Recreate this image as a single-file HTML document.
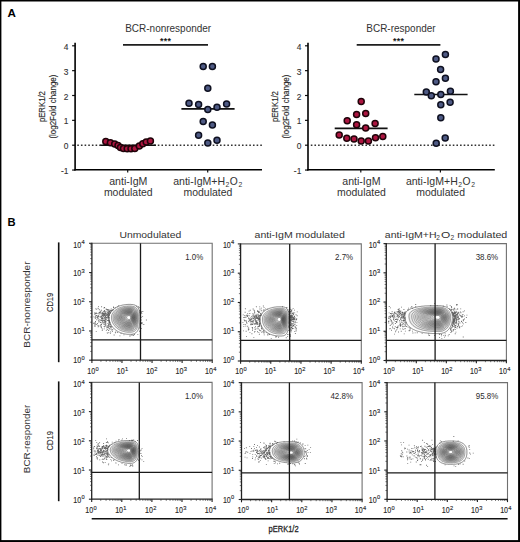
<!DOCTYPE html><html><head><meta charset="utf-8"><style>html,body{margin:0;padding:0;background:#fff}svg{display:block}text{font-family:"Liberation Sans",sans-serif}</style></head><body>
<svg width="520" height="542" viewBox="0 0 520 542">
<rect width="520" height="542" fill="#fff"/>
<rect x="0" y="0" width="520" height="1.5" fill="#000"/><rect x="0" y="0" width="1.4" height="542" fill="#000"/><rect x="518.1" y="0" width="1.9" height="542" fill="#000"/><rect x="0" y="540.1" width="520" height="1.9" fill="#000"/>
<text x="7.60" y="17.10" font-size="11.6" text-anchor="start" fill="#000" font-weight="bold" >A</text>
<text x="7.60" y="225.80" font-size="11.2" text-anchor="start" fill="#000" font-weight="bold" >B</text>
<line x1="72.10" y1="45.80" x2="75.10" y2="45.80" stroke="#111" stroke-width="1.2" />
<text x="68.40" y="49.80" font-size="8.4" text-anchor="end" fill="#333" stroke="#333" stroke-width="0.12">4</text>
<line x1="72.10" y1="70.65" x2="75.10" y2="70.65" stroke="#111" stroke-width="1.2" />
<text x="68.40" y="74.65" font-size="8.4" text-anchor="end" fill="#333" stroke="#333" stroke-width="0.12">3</text>
<line x1="72.10" y1="95.50" x2="75.10" y2="95.50" stroke="#111" stroke-width="1.2" />
<text x="68.40" y="99.50" font-size="8.4" text-anchor="end" fill="#333" stroke="#333" stroke-width="0.12">2</text>
<line x1="72.10" y1="120.35" x2="75.10" y2="120.35" stroke="#111" stroke-width="1.2" />
<text x="68.40" y="124.35" font-size="8.4" text-anchor="end" fill="#333" stroke="#333" stroke-width="0.12">1</text>
<line x1="72.10" y1="145.20" x2="75.10" y2="145.20" stroke="#111" stroke-width="1.2" />
<text x="68.40" y="149.20" font-size="8.4" text-anchor="end" fill="#333" stroke="#333" stroke-width="0.12">0</text>
<line x1="72.10" y1="170.05" x2="75.10" y2="170.05" stroke="#111" stroke-width="1.2" />
<text x="68.40" y="174.05" font-size="8.4" text-anchor="end" fill="#333" stroke="#333" stroke-width="0.12">-1</text>
<line x1="75.10" y1="42.80" x2="75.10" y2="170.50" stroke="#000" stroke-width="1.6" />
<line x1="74.30" y1="169.80" x2="262.00" y2="169.80" stroke="#000" stroke-width="1.4" />
<line x1="127.70" y1="169.80" x2="127.70" y2="172.60" stroke="#111" stroke-width="1.2" />
<line x1="207.70" y1="169.80" x2="207.70" y2="172.60" stroke="#111" stroke-width="1.2" />
<line x1="77.27" y1="145.20" x2="262.00" y2="145.20" stroke="#333" stroke-width="1.5" stroke-dasharray="1.6 2.06"/>
<text x="125.20" y="31.80" font-size="10.2" text-anchor="start" fill="#333" textLength="86" lengthAdjust="spacingAndGlyphs" >BCR-nonresponder</text>
<line x1="123.00" y1="44.90" x2="208.00" y2="44.90" stroke="#1e1e1e" stroke-width="1.6" />
<text x="161.70" y="44.30" font-size="8.8" text-anchor="middle" fill="#1a1a1a" font-weight="bold" >*</text>
<text x="165.40" y="44.30" font-size="8.8" text-anchor="middle" fill="#1a1a1a" font-weight="bold" >*</text>
<text x="169.10" y="44.30" font-size="8.8" text-anchor="middle" fill="#1a1a1a" font-weight="bold" >*</text>
<text x="128.30" y="184.80" font-size="10.3" text-anchor="middle" fill="#333" textLength="38.3" lengthAdjust="spacingAndGlyphs" >anti-IgM</text>
<text x="128.30" y="196.40" font-size="10.3" text-anchor="middle" fill="#333" textLength="48.8" lengthAdjust="spacingAndGlyphs" >modulated</text>
<text y="184.80" font-size="10.3" fill="#333"><tspan x="173.20" y="184.80" textLength="51.9" lengthAdjust="spacingAndGlyphs">anti-IgM+H</tspan><tspan x="225.60" y="187.10" font-size="6.8">2</tspan><tspan x="229.80" y="184.80" textLength="8.0" lengthAdjust="spacingAndGlyphs">O</tspan><tspan x="238.60" y="187.10" font-size="6.8">2</tspan></text>
<text x="207.90" y="196.40" font-size="10.3" text-anchor="middle" fill="#333" textLength="48.8" lengthAdjust="spacingAndGlyphs" >modulated</text>
<line x1="100.30" y1="145.30" x2="155.90" y2="145.30" stroke="#111" stroke-width="1.6" />
<line x1="181.40" y1="108.90" x2="234.60" y2="108.90" stroke="#111" stroke-width="1.6" />
<circle cx="105.8" cy="141.5" r="3.0" fill="#ac1540" stroke="#1f0309" stroke-width="1.5"/>
<circle cx="110.4" cy="142.7" r="3.0" fill="#ac1540" stroke="#1f0309" stroke-width="1.5"/>
<circle cx="114.7" cy="144.1" r="3.0" fill="#ac1540" stroke="#1f0309" stroke-width="1.5"/>
<circle cx="118.0" cy="145.5" r="3.0" fill="#ac1540" stroke="#1f0309" stroke-width="1.5"/>
<circle cx="120.5" cy="147.6" r="3.0" fill="#ac1540" stroke="#1f0309" stroke-width="1.5"/>
<circle cx="123.5" cy="148.6" r="3.0" fill="#ac1540" stroke="#1f0309" stroke-width="1.5"/>
<circle cx="127.2" cy="148.7" r="3.0" fill="#ac1540" stroke="#1f0309" stroke-width="1.5"/>
<circle cx="131.0" cy="148.7" r="3.0" fill="#ac1540" stroke="#1f0309" stroke-width="1.5"/>
<circle cx="134.8" cy="148.6" r="3.0" fill="#ac1540" stroke="#1f0309" stroke-width="1.5"/>
<circle cx="139.3" cy="146.0" r="3.0" fill="#ac1540" stroke="#1f0309" stroke-width="1.5"/>
<circle cx="142.8" cy="143.8" r="3.0" fill="#ac1540" stroke="#1f0309" stroke-width="1.5"/>
<circle cx="146.2" cy="142.0" r="3.0" fill="#ac1540" stroke="#1f0309" stroke-width="1.5"/>
<circle cx="150.4" cy="141.0" r="3.0" fill="#ac1540" stroke="#1f0309" stroke-width="1.5"/>
<circle cx="203.2" cy="66.6" r="3.0" fill="#4e5a84" stroke="#0e1020" stroke-width="1.5"/>
<circle cx="212.4" cy="66.6" r="3.0" fill="#4e5a84" stroke="#0e1020" stroke-width="1.5"/>
<circle cx="207.8" cy="88.2" r="3.0" fill="#4e5a84" stroke="#0e1020" stroke-width="1.5"/>
<circle cx="189.0" cy="103.3" r="3.0" fill="#4e5a84" stroke="#0e1020" stroke-width="1.5"/>
<circle cx="198.6" cy="104.4" r="3.0" fill="#4e5a84" stroke="#0e1020" stroke-width="1.5"/>
<circle cx="207.8" cy="109.4" r="3.0" fill="#4e5a84" stroke="#0e1020" stroke-width="1.5"/>
<circle cx="217.0" cy="107.2" r="3.0" fill="#4e5a84" stroke="#0e1020" stroke-width="1.5"/>
<circle cx="226.6" cy="104.1" r="3.0" fill="#4e5a84" stroke="#0e1020" stroke-width="1.5"/>
<circle cx="203.2" cy="121.4" r="3.0" fill="#4e5a84" stroke="#0e1020" stroke-width="1.5"/>
<circle cx="212.4" cy="125.1" r="3.0" fill="#4e5a84" stroke="#0e1020" stroke-width="1.5"/>
<circle cx="198.6" cy="135.3" r="3.0" fill="#4e5a84" stroke="#0e1020" stroke-width="1.5"/>
<circle cx="207.8" cy="143.0" r="3.0" fill="#4e5a84" stroke="#0e1020" stroke-width="1.5"/>
<circle cx="217.0" cy="140.2" r="3.0" fill="#4e5a84" stroke="#0e1020" stroke-width="1.5"/>
<line x1="305.00" y1="45.80" x2="308.00" y2="45.80" stroke="#111" stroke-width="1.2" />
<text x="301.30" y="49.80" font-size="8.4" text-anchor="end" fill="#333" stroke="#333" stroke-width="0.12">4</text>
<line x1="305.00" y1="70.65" x2="308.00" y2="70.65" stroke="#111" stroke-width="1.2" />
<text x="301.30" y="74.65" font-size="8.4" text-anchor="end" fill="#333" stroke="#333" stroke-width="0.12">3</text>
<line x1="305.00" y1="95.50" x2="308.00" y2="95.50" stroke="#111" stroke-width="1.2" />
<text x="301.30" y="99.50" font-size="8.4" text-anchor="end" fill="#333" stroke="#333" stroke-width="0.12">2</text>
<line x1="305.00" y1="120.35" x2="308.00" y2="120.35" stroke="#111" stroke-width="1.2" />
<text x="301.30" y="124.35" font-size="8.4" text-anchor="end" fill="#333" stroke="#333" stroke-width="0.12">1</text>
<line x1="305.00" y1="145.20" x2="308.00" y2="145.20" stroke="#111" stroke-width="1.2" />
<text x="301.30" y="149.20" font-size="8.4" text-anchor="end" fill="#333" stroke="#333" stroke-width="0.12">0</text>
<line x1="305.00" y1="170.05" x2="308.00" y2="170.05" stroke="#111" stroke-width="1.2" />
<text x="301.30" y="174.05" font-size="8.4" text-anchor="end" fill="#333" stroke="#333" stroke-width="0.12">-1</text>
<line x1="308.00" y1="42.80" x2="308.00" y2="170.50" stroke="#000" stroke-width="1.6" />
<line x1="307.20" y1="169.80" x2="494.80" y2="169.80" stroke="#000" stroke-width="1.4" />
<line x1="360.80" y1="169.80" x2="360.80" y2="172.60" stroke="#111" stroke-width="1.2" />
<line x1="440.40" y1="169.80" x2="440.40" y2="172.60" stroke="#111" stroke-width="1.2" />
<line x1="310.80" y1="145.20" x2="494.80" y2="145.20" stroke="#333" stroke-width="1.5" stroke-dasharray="1.6 2.04"/>
<text x="366.30" y="31.80" font-size="10.2" text-anchor="start" fill="#333" textLength="69.3" lengthAdjust="spacingAndGlyphs" >BCR-responder</text>
<line x1="356.70" y1="44.90" x2="440.40" y2="44.90" stroke="#1e1e1e" stroke-width="1.6" />
<text x="394.75" y="44.30" font-size="8.8" text-anchor="middle" fill="#1a1a1a" font-weight="bold" >*</text>
<text x="398.45" y="44.30" font-size="8.8" text-anchor="middle" fill="#1a1a1a" font-weight="bold" >*</text>
<text x="402.15" y="44.30" font-size="8.8" text-anchor="middle" fill="#1a1a1a" font-weight="bold" >*</text>
<text x="361.40" y="184.80" font-size="10.3" text-anchor="middle" fill="#333" textLength="38.3" lengthAdjust="spacingAndGlyphs" >anti-IgM</text>
<text x="361.40" y="196.40" font-size="10.3" text-anchor="middle" fill="#333" textLength="48.8" lengthAdjust="spacingAndGlyphs" >modulated</text>
<text y="184.80" font-size="10.3" fill="#333"><tspan x="405.90" y="184.80" textLength="51.9" lengthAdjust="spacingAndGlyphs">anti-IgM+H</tspan><tspan x="458.30" y="187.10" font-size="6.8">2</tspan><tspan x="462.50" y="184.80" textLength="8.0" lengthAdjust="spacingAndGlyphs">O</tspan><tspan x="471.30" y="187.10" font-size="6.8">2</tspan></text>
<text x="440.60" y="196.40" font-size="10.3" text-anchor="middle" fill="#333" textLength="48.8" lengthAdjust="spacingAndGlyphs" >modulated</text>
<line x1="334.70" y1="128.40" x2="387.60" y2="128.40" stroke="#111" stroke-width="1.6" />
<line x1="414.30" y1="94.50" x2="467.60" y2="94.50" stroke="#111" stroke-width="1.6" />
<circle cx="361.2" cy="101.4" r="3.0" fill="#ac1540" stroke="#1f0309" stroke-width="1.5"/>
<circle cx="356.6" cy="114.6" r="3.0" fill="#ac1540" stroke="#1f0309" stroke-width="1.5"/>
<circle cx="365.7" cy="113.6" r="3.0" fill="#ac1540" stroke="#1f0309" stroke-width="1.5"/>
<circle cx="347.2" cy="120.7" r="3.0" fill="#ac1540" stroke="#1f0309" stroke-width="1.5"/>
<circle cx="356.6" cy="124.7" r="3.0" fill="#ac1540" stroke="#1f0309" stroke-width="1.5"/>
<circle cx="375.1" cy="123.4" r="3.0" fill="#ac1540" stroke="#1f0309" stroke-width="1.5"/>
<circle cx="365.7" cy="128.0" r="3.0" fill="#ac1540" stroke="#1f0309" stroke-width="1.5"/>
<circle cx="339.2" cy="135.1" r="3.0" fill="#ac1540" stroke="#1f0309" stroke-width="1.5"/>
<circle cx="346.8" cy="138.2" r="3.0" fill="#ac1540" stroke="#1f0309" stroke-width="1.5"/>
<circle cx="354.0" cy="139.1" r="3.0" fill="#ac1540" stroke="#1f0309" stroke-width="1.5"/>
<circle cx="361.2" cy="141.1" r="3.0" fill="#ac1540" stroke="#1f0309" stroke-width="1.5"/>
<circle cx="368.4" cy="141.1" r="3.0" fill="#ac1540" stroke="#1f0309" stroke-width="1.5"/>
<circle cx="375.5" cy="137.8" r="3.0" fill="#ac1540" stroke="#1f0309" stroke-width="1.5"/>
<circle cx="382.8" cy="136.4" r="3.0" fill="#ac1540" stroke="#1f0309" stroke-width="1.5"/>
<circle cx="445.4" cy="54.5" r="3.0" fill="#4e5a84" stroke="#0e1020" stroke-width="1.5"/>
<circle cx="436.0" cy="58.9" r="3.0" fill="#4e5a84" stroke="#0e1020" stroke-width="1.5"/>
<circle cx="440.6" cy="69.5" r="3.0" fill="#4e5a84" stroke="#0e1020" stroke-width="1.5"/>
<circle cx="445.4" cy="78.2" r="3.0" fill="#4e5a84" stroke="#0e1020" stroke-width="1.5"/>
<circle cx="436.0" cy="81.8" r="3.0" fill="#4e5a84" stroke="#0e1020" stroke-width="1.5"/>
<circle cx="426.3" cy="91.9" r="3.0" fill="#4e5a84" stroke="#0e1020" stroke-width="1.5"/>
<circle cx="450.4" cy="91.2" r="3.0" fill="#4e5a84" stroke="#0e1020" stroke-width="1.5"/>
<circle cx="431.3" cy="95.8" r="3.0" fill="#4e5a84" stroke="#0e1020" stroke-width="1.5"/>
<circle cx="440.8" cy="94.4" r="3.0" fill="#4e5a84" stroke="#0e1020" stroke-width="1.5"/>
<circle cx="440.8" cy="104.7" r="3.0" fill="#4e5a84" stroke="#0e1020" stroke-width="1.5"/>
<circle cx="450.1" cy="102.3" r="3.0" fill="#4e5a84" stroke="#0e1020" stroke-width="1.5"/>
<circle cx="440.8" cy="117.7" r="3.0" fill="#4e5a84" stroke="#0e1020" stroke-width="1.5"/>
<circle cx="445.2" cy="138.0" r="3.0" fill="#4e5a84" stroke="#0e1020" stroke-width="1.5"/>
<circle cx="436.2" cy="143.3" r="3.0" fill="#4e5a84" stroke="#0e1020" stroke-width="1.5"/>
<text transform="translate(45.00,106.60) rotate(-90)" x="0" y="0" font-size="8.6" text-anchor="middle" fill="#2a2a2a" stroke="#2a2a2a" stroke-width="0.15" textLength="31" lengthAdjust="spacingAndGlyphs">pERK1/2</text>
<text transform="translate(55.60,106.60) rotate(-90)" x="0" y="0" font-size="8.6" text-anchor="middle" fill="#2a2a2a" stroke="#2a2a2a" stroke-width="0.15" textLength="64" lengthAdjust="spacingAndGlyphs">(log2Fold change)</text>
<text transform="translate(278.00,106.60) rotate(-90)" x="0" y="0" font-size="8.6" text-anchor="middle" fill="#2a2a2a" stroke="#2a2a2a" stroke-width="0.15" textLength="31" lengthAdjust="spacingAndGlyphs">pERK1/2</text>
<text transform="translate(288.60,106.60) rotate(-90)" x="0" y="0" font-size="8.6" text-anchor="middle" fill="#2a2a2a" stroke="#2a2a2a" stroke-width="0.15" textLength="64" lengthAdjust="spacingAndGlyphs">(log2Fold change)</text>
<path d="M91.90,243.30 H212.20 V360.20" fill="none" stroke="#707070" stroke-width="1.1"/>
<line x1="100.95" y1="360.20" x2="100.95" y2="361.90" stroke="#444" stroke-width="0.7" />
<line x1="90.20" y1="351.40" x2="91.90" y2="351.40" stroke="#444" stroke-width="0.7" />
<line x1="106.25" y1="360.20" x2="106.25" y2="361.90" stroke="#444" stroke-width="0.7" />
<line x1="90.20" y1="346.26" x2="91.90" y2="346.26" stroke="#444" stroke-width="0.7" />
<line x1="110.01" y1="360.20" x2="110.01" y2="361.90" stroke="#444" stroke-width="0.7" />
<line x1="90.20" y1="342.60" x2="91.90" y2="342.60" stroke="#444" stroke-width="0.7" />
<line x1="112.92" y1="360.20" x2="112.92" y2="361.90" stroke="#444" stroke-width="0.7" />
<line x1="90.20" y1="339.77" x2="91.90" y2="339.77" stroke="#444" stroke-width="0.7" />
<line x1="115.30" y1="360.20" x2="115.30" y2="361.90" stroke="#444" stroke-width="0.7" />
<line x1="90.20" y1="337.46" x2="91.90" y2="337.46" stroke="#444" stroke-width="0.7" />
<line x1="117.32" y1="360.20" x2="117.32" y2="361.90" stroke="#444" stroke-width="0.7" />
<line x1="90.20" y1="335.50" x2="91.90" y2="335.50" stroke="#444" stroke-width="0.7" />
<line x1="119.06" y1="360.20" x2="119.06" y2="361.90" stroke="#444" stroke-width="0.7" />
<line x1="90.20" y1="333.81" x2="91.90" y2="333.81" stroke="#444" stroke-width="0.7" />
<line x1="120.60" y1="360.20" x2="120.60" y2="361.90" stroke="#444" stroke-width="0.7" />
<line x1="90.20" y1="332.31" x2="91.90" y2="332.31" stroke="#444" stroke-width="0.7" />
<line x1="131.03" y1="360.20" x2="131.03" y2="361.90" stroke="#444" stroke-width="0.7" />
<line x1="90.20" y1="322.18" x2="91.90" y2="322.18" stroke="#444" stroke-width="0.7" />
<line x1="136.32" y1="360.20" x2="136.32" y2="361.90" stroke="#444" stroke-width="0.7" />
<line x1="90.20" y1="317.03" x2="91.90" y2="317.03" stroke="#444" stroke-width="0.7" />
<line x1="140.08" y1="360.20" x2="140.08" y2="361.90" stroke="#444" stroke-width="0.7" />
<line x1="90.20" y1="313.38" x2="91.90" y2="313.38" stroke="#444" stroke-width="0.7" />
<line x1="143.00" y1="360.20" x2="143.00" y2="361.90" stroke="#444" stroke-width="0.7" />
<line x1="90.20" y1="310.55" x2="91.90" y2="310.55" stroke="#444" stroke-width="0.7" />
<line x1="145.38" y1="360.20" x2="145.38" y2="361.90" stroke="#444" stroke-width="0.7" />
<line x1="90.20" y1="308.23" x2="91.90" y2="308.23" stroke="#444" stroke-width="0.7" />
<line x1="147.39" y1="360.20" x2="147.39" y2="361.90" stroke="#444" stroke-width="0.7" />
<line x1="90.20" y1="306.28" x2="91.90" y2="306.28" stroke="#444" stroke-width="0.7" />
<line x1="149.14" y1="360.20" x2="149.14" y2="361.90" stroke="#444" stroke-width="0.7" />
<line x1="90.20" y1="304.58" x2="91.90" y2="304.58" stroke="#444" stroke-width="0.7" />
<line x1="150.67" y1="360.20" x2="150.67" y2="361.90" stroke="#444" stroke-width="0.7" />
<line x1="90.20" y1="303.09" x2="91.90" y2="303.09" stroke="#444" stroke-width="0.7" />
<line x1="161.10" y1="360.20" x2="161.10" y2="361.90" stroke="#444" stroke-width="0.7" />
<line x1="90.20" y1="292.95" x2="91.90" y2="292.95" stroke="#444" stroke-width="0.7" />
<line x1="166.40" y1="360.20" x2="166.40" y2="361.90" stroke="#444" stroke-width="0.7" />
<line x1="90.20" y1="287.81" x2="91.90" y2="287.81" stroke="#444" stroke-width="0.7" />
<line x1="170.16" y1="360.20" x2="170.16" y2="361.90" stroke="#444" stroke-width="0.7" />
<line x1="90.20" y1="284.15" x2="91.90" y2="284.15" stroke="#444" stroke-width="0.7" />
<line x1="173.07" y1="360.20" x2="173.07" y2="361.90" stroke="#444" stroke-width="0.7" />
<line x1="90.20" y1="281.32" x2="91.90" y2="281.32" stroke="#444" stroke-width="0.7" />
<line x1="175.45" y1="360.20" x2="175.45" y2="361.90" stroke="#444" stroke-width="0.7" />
<line x1="90.20" y1="279.01" x2="91.90" y2="279.01" stroke="#444" stroke-width="0.7" />
<line x1="177.47" y1="360.20" x2="177.47" y2="361.90" stroke="#444" stroke-width="0.7" />
<line x1="90.20" y1="277.05" x2="91.90" y2="277.05" stroke="#444" stroke-width="0.7" />
<line x1="179.21" y1="360.20" x2="179.21" y2="361.90" stroke="#444" stroke-width="0.7" />
<line x1="90.20" y1="275.36" x2="91.90" y2="275.36" stroke="#444" stroke-width="0.7" />
<line x1="180.75" y1="360.20" x2="180.75" y2="361.90" stroke="#444" stroke-width="0.7" />
<line x1="90.20" y1="273.86" x2="91.90" y2="273.86" stroke="#444" stroke-width="0.7" />
<line x1="191.18" y1="360.20" x2="191.18" y2="361.90" stroke="#444" stroke-width="0.7" />
<line x1="90.20" y1="263.73" x2="91.90" y2="263.73" stroke="#444" stroke-width="0.7" />
<line x1="196.47" y1="360.20" x2="196.47" y2="361.90" stroke="#444" stroke-width="0.7" />
<line x1="90.20" y1="258.58" x2="91.90" y2="258.58" stroke="#444" stroke-width="0.7" />
<line x1="200.23" y1="360.20" x2="200.23" y2="361.90" stroke="#444" stroke-width="0.7" />
<line x1="90.20" y1="254.93" x2="91.90" y2="254.93" stroke="#444" stroke-width="0.7" />
<line x1="203.15" y1="360.20" x2="203.15" y2="361.90" stroke="#444" stroke-width="0.7" />
<line x1="90.20" y1="252.10" x2="91.90" y2="252.10" stroke="#444" stroke-width="0.7" />
<line x1="205.53" y1="360.20" x2="205.53" y2="361.90" stroke="#444" stroke-width="0.7" />
<line x1="90.20" y1="249.78" x2="91.90" y2="249.78" stroke="#444" stroke-width="0.7" />
<line x1="207.54" y1="360.20" x2="207.54" y2="361.90" stroke="#444" stroke-width="0.7" />
<line x1="90.20" y1="247.83" x2="91.90" y2="247.83" stroke="#444" stroke-width="0.7" />
<line x1="209.29" y1="360.20" x2="209.29" y2="361.90" stroke="#444" stroke-width="0.7" />
<line x1="90.20" y1="246.13" x2="91.90" y2="246.13" stroke="#444" stroke-width="0.7" />
<line x1="210.82" y1="360.20" x2="210.82" y2="361.90" stroke="#444" stroke-width="0.7" />
<line x1="90.20" y1="244.64" x2="91.90" y2="244.64" stroke="#444" stroke-width="0.7" />
<line x1="91.90" y1="360.20" x2="91.90" y2="363.00" stroke="#222" stroke-width="1.1" />
<line x1="89.10" y1="360.20" x2="91.90" y2="360.20" stroke="#222" stroke-width="1.1" />
<line x1="121.97" y1="360.20" x2="121.97" y2="363.00" stroke="#222" stroke-width="1.1" />
<line x1="89.10" y1="330.98" x2="91.90" y2="330.98" stroke="#222" stroke-width="1.1" />
<line x1="152.05" y1="360.20" x2="152.05" y2="363.00" stroke="#222" stroke-width="1.1" />
<line x1="89.10" y1="301.75" x2="91.90" y2="301.75" stroke="#222" stroke-width="1.1" />
<line x1="182.12" y1="360.20" x2="182.12" y2="363.00" stroke="#222" stroke-width="1.1" />
<line x1="89.10" y1="272.52" x2="91.90" y2="272.52" stroke="#222" stroke-width="1.1" />
<line x1="212.20" y1="360.20" x2="212.20" y2="363.00" stroke="#222" stroke-width="1.1" />
<line x1="89.10" y1="243.30" x2="91.90" y2="243.30" stroke="#222" stroke-width="1.1" />
<path d="M108.8,315.2h0.85v0.85h-0.85zM100.3,311.2h0.85v0.85h-0.85zM101.2,316.3h0.85v0.85h-0.85zM106.0,315.1h0.85v0.85h-0.85zM109.1,313.6h0.85v0.85h-0.85zM103.6,307.6h0.85v0.85h-0.85zM96.9,323.1h0.85v0.85h-0.85zM102.7,322.5h0.85v0.85h-0.85zM108.3,313.5h0.85v0.85h-0.85zM102.5,322.3h0.85v0.85h-0.85zM108.2,323.8h0.85v0.85h-0.85zM111.8,309.2h0.85v0.85h-0.85zM104.2,307.2h0.85v0.85h-0.85zM104.3,320.8h0.85v0.85h-0.85zM101.6,327.9h0.85v0.85h-0.85zM105.0,316.3h0.85v0.85h-0.85zM110.3,312.1h0.85v0.85h-0.85zM103.6,320.0h0.85v0.85h-0.85zM99.6,310.6h0.85v0.85h-0.85zM109.5,310.4h0.85v0.85h-0.85zM102.9,313.6h0.85v0.85h-0.85zM140.5,316.6h0.85v0.85h-0.85zM110.2,324.6h0.85v0.85h-0.85zM106.0,317.4h0.85v0.85h-0.85zM101.8,317.1h0.85v0.85h-0.85zM110.8,308.5h0.85v0.85h-0.85zM105.6,312.5h0.85v0.85h-0.85zM108.9,322.4h0.85v0.85h-0.85zM108.1,315.7h0.85v0.85h-0.85zM108.5,317.9h0.85v0.85h-0.85zM108.8,314.4h0.85v0.85h-0.85zM105.6,323.7h0.85v0.85h-0.85zM104.3,321.3h0.85v0.85h-0.85zM103.4,315.6h0.85v0.85h-0.85zM95.0,315.8h0.85v0.85h-0.85zM139.1,330.8h0.85v0.85h-0.85zM104.2,310.5h0.85v0.85h-0.85zM105.0,312.4h0.85v0.85h-0.85zM123.5,334.4h0.85v0.85h-0.85zM98.4,321.7h0.85v0.85h-0.85zM103.5,319.9h0.85v0.85h-0.85zM94.1,325.6h0.85v0.85h-0.85zM101.8,313.1h0.85v0.85h-0.85zM103.7,317.3h0.85v0.85h-0.85zM115.2,307.4h0.85v0.85h-0.85zM107.1,316.6h0.85v0.85h-0.85zM108.6,328.4h0.85v0.85h-0.85zM103.3,316.0h0.85v0.85h-0.85zM140.6,312.5h0.85v0.85h-0.85zM107.3,315.4h0.85v0.85h-0.85zM102.3,315.2h0.85v0.85h-0.85zM102.8,316.0h0.85v0.85h-0.85zM109.2,324.5h0.85v0.85h-0.85zM99.5,312.7h0.85v0.85h-0.85zM94.9,321.7h0.85v0.85h-0.85zM102.7,312.3h0.85v0.85h-0.85zM98.2,312.7h0.85v0.85h-0.85zM112.2,309.9h0.85v0.85h-0.85zM139.4,310.3h0.85v0.85h-0.85zM117.3,306.4h0.85v0.85h-0.85zM104.3,312.9h0.85v0.85h-0.85zM101.6,311.8h0.85v0.85h-0.85zM108.5,318.8h0.85v0.85h-0.85zM102.8,313.1h0.85v0.85h-0.85zM111.0,326.2h0.85v0.85h-0.85zM106.0,316.8h0.85v0.85h-0.85zM112.0,331.0h0.85v0.85h-0.85zM111.3,310.5h0.85v0.85h-0.85zM105.1,324.8h0.85v0.85h-0.85zM104.6,323.3h0.85v0.85h-0.85zM141.2,322.2h0.85v0.85h-0.85zM109.3,311.3h0.85v0.85h-0.85zM108.7,309.5h0.85v0.85h-0.85zM108.4,312.6h0.85v0.85h-0.85zM140.8,312.0h0.85v0.85h-0.85zM118.3,305.2h0.85v0.85h-0.85zM141.7,322.2h0.85v0.85h-0.85zM95.8,309.2h0.85v0.85h-0.85zM110.4,327.2h0.85v0.85h-0.85zM107.6,313.5h0.85v0.85h-0.85zM106.2,327.5h0.85v0.85h-0.85zM141.0,328.0h0.85v0.85h-0.85zM106.7,314.1h0.85v0.85h-0.85zM110.2,326.3h0.85v0.85h-0.85zM141.0,323.1h0.85v0.85h-0.85zM110.7,328.4h0.85v0.85h-0.85zM141.2,311.5h0.85v0.85h-0.85zM100.5,324.2h0.85v0.85h-0.85zM103.1,310.9h0.85v0.85h-0.85zM98.5,316.5h0.85v0.85h-0.85zM103.5,315.6h0.85v0.85h-0.85zM94.8,313.3h0.85v0.85h-0.85zM109.9,312.9h0.85v0.85h-0.85zM106.9,309.0h0.85v0.85h-0.85zM98.3,325.7h0.85v0.85h-0.85zM109.3,321.8h0.85v0.85h-0.85zM95.7,316.9h0.85v0.85h-0.85zM108.2,310.6h0.85v0.85h-0.85zM105.5,320.1h0.85v0.85h-0.85zM113.0,307.0h0.85v0.85h-0.85zM109.1,311.8h0.85v0.85h-0.85zM94.3,322.4h0.85v0.85h-0.85zM105.9,329.8h0.85v0.85h-0.85zM98.2,315.3h0.85v0.85h-0.85zM99.9,316.8h0.85v0.85h-0.85zM105.6,321.4h0.85v0.85h-0.85zM105.2,317.6h0.85v0.85h-0.85zM109.8,311.6h0.85v0.85h-0.85zM129.9,335.5h0.85v0.85h-0.85zM104.6,317.1h0.85v0.85h-0.85zM93.2,322.8h0.85v0.85h-0.85zM108.2,330.0h0.85v0.85h-0.85zM108.8,327.8h0.85v0.85h-0.85zM110.2,331.5h0.85v0.85h-0.85zM133.9,334.1h0.85v0.85h-0.85zM100.8,315.6h0.85v0.85h-0.85zM106.9,327.0h0.85v0.85h-0.85zM107.7,316.1h0.85v0.85h-0.85zM107.7,309.3h0.85v0.85h-0.85zM108.1,310.6h0.85v0.85h-0.85zM131.3,334.6h0.85v0.85h-0.85zM100.3,320.0h0.85v0.85h-0.85zM107.8,316.8h0.85v0.85h-0.85zM105.0,312.9h0.85v0.85h-0.85zM103.5,315.5h0.85v0.85h-0.85zM111.5,326.4h0.85v0.85h-0.85zM108.9,320.1h0.85v0.85h-0.85zM111.4,310.4h0.85v0.85h-0.85zM141.7,323.3h0.85v0.85h-0.85zM104.1,312.8h0.85v0.85h-0.85zM103.8,322.0h0.85v0.85h-0.85zM107.2,312.4h0.85v0.85h-0.85zM97.7,326.4h0.85v0.85h-0.85zM105.4,321.1h0.85v0.85h-0.85zM113.2,306.6h0.85v0.85h-0.85zM100.2,325.3h0.85v0.85h-0.85zM120.6,333.2h0.85v0.85h-0.85zM105.5,310.9h0.85v0.85h-0.85zM112.3,329.3h0.85v0.85h-0.85zM106.2,318.9h0.85v0.85h-0.85zM111.0,310.1h0.85v0.85h-0.85zM140.8,319.6h0.85v0.85h-0.85zM108.1,327.0h0.85v0.85h-0.85zM104.6,320.8h0.85v0.85h-0.85zM107.7,310.8h0.85v0.85h-0.85zM107.3,332.7h0.85v0.85h-0.85zM100.8,313.6h0.85v0.85h-0.85zM103.5,310.8h0.85v0.85h-0.85zM96.5,314.9h0.85v0.85h-0.85zM105.1,313.9h0.85v0.85h-0.85zM119.5,335.4h0.85v0.85h-0.85zM104.2,313.9h0.85v0.85h-0.85zM108.9,311.7h0.85v0.85h-0.85zM109.6,322.4h0.85v0.85h-0.85zM94.9,325.6h0.85v0.85h-0.85zM100.4,322.0h0.85v0.85h-0.85zM106.2,317.2h0.85v0.85h-0.85zM109.4,324.5h0.85v0.85h-0.85zM111.4,329.6h0.85v0.85h-0.85zM101.2,306.3h0.85v0.85h-0.85zM104.9,319.2h0.85v0.85h-0.85zM97.3,315.9h0.85v0.85h-0.85zM113.2,309.3h0.85v0.85h-0.85zM105.3,322.6h0.85v0.85h-0.85zM108.1,315.9h0.85v0.85h-0.85zM108.2,324.8h0.85v0.85h-0.85zM95.2,317.8h0.85v0.85h-0.85zM108.4,331.9h0.85v0.85h-0.85zM143.4,324.1h0.85v0.85h-0.85zM108.3,330.2h0.85v0.85h-0.85zM108.6,310.7h0.85v0.85h-0.85zM108.1,312.8h0.85v0.85h-0.85zM107.7,317.0h0.85v0.85h-0.85zM140.8,317.0h0.85v0.85h-0.85zM107.2,325.4h0.85v0.85h-0.85zM137.4,334.2h0.85v0.85h-0.85zM102.3,318.2h0.85v0.85h-0.85zM107.1,314.3h0.85v0.85h-0.85zM102.8,314.5h0.85v0.85h-0.85zM107.8,312.0h0.85v0.85h-0.85zM98.7,313.7h0.85v0.85h-0.85zM98.5,319.6h0.85v0.85h-0.85zM106.5,325.5h0.85v0.85h-0.85zM99.3,312.6h0.85v0.85h-0.85zM103.8,328.4h0.85v0.85h-0.85zM137.9,306.0h0.85v0.85h-0.85zM96.7,312.9h0.85v0.85h-0.85zM108.5,317.4h0.85v0.85h-0.85zM101.4,319.7h0.85v0.85h-0.85zM109.7,324.4h0.85v0.85h-0.85zM96.4,319.3h0.85v0.85h-0.85zM105.2,312.7h0.85v0.85h-0.85zM104.7,324.6h0.85v0.85h-0.85zM113.4,307.2h0.85v0.85h-0.85zM97.3,316.3h0.85v0.85h-0.85zM104.0,315.3h0.85v0.85h-0.85zM108.1,314.8h0.85v0.85h-0.85zM105.3,320.8h0.85v0.85h-0.85zM140.6,322.5h0.85v0.85h-0.85zM100.8,327.0h0.85v0.85h-0.85zM139.4,309.9h0.85v0.85h-0.85zM99.2,309.0h0.85v0.85h-0.85zM109.6,328.7h0.85v0.85h-0.85zM105.1,324.7h0.85v0.85h-0.85zM102.2,312.5h0.85v0.85h-0.85zM103.9,310.8h0.85v0.85h-0.85zM107.6,313.6h0.85v0.85h-0.85zM104.2,319.8h0.85v0.85h-0.85zM113.7,334.6h0.85v0.85h-0.85zM109.6,324.0h0.85v0.85h-0.85zM101.9,320.1h0.85v0.85h-0.85zM98.9,311.9h0.85v0.85h-0.85zM139.6,311.6h0.85v0.85h-0.85zM109.1,321.0h0.85v0.85h-0.85zM107.3,317.7h0.85v0.85h-0.85zM104.2,309.9h0.85v0.85h-0.85zM98.5,325.4h0.85v0.85h-0.85zM139.6,326.4h0.85v0.85h-0.85zM98.4,319.4h0.85v0.85h-0.85zM132.4,334.6h0.85v0.85h-0.85zM107.1,329.2h0.85v0.85h-0.85zM101.1,317.7h0.85v0.85h-0.85zM97.7,308.5h0.85v0.85h-0.85zM108.1,315.1h0.85v0.85h-0.85zM110.3,331.6h0.85v0.85h-0.85zM93.5,316.5h0.85v0.85h-0.85zM107.2,320.1h0.85v0.85h-0.85zM105.0,320.7h0.85v0.85h-0.85zM104.1,307.1h0.85v0.85h-0.85zM101.5,322.7h0.85v0.85h-0.85zM104.5,311.6h0.85v0.85h-0.85zM107.3,312.0h0.85v0.85h-0.85zM107.6,317.3h0.85v0.85h-0.85zM103.0,314.9h0.85v0.85h-0.85zM107.0,310.4h0.85v0.85h-0.85zM108.2,325.4h0.85v0.85h-0.85zM115.4,331.5h0.85v0.85h-0.85zM107.7,316.7h0.85v0.85h-0.85zM108.8,320.5h0.85v0.85h-0.85zM110.6,310.3h0.85v0.85h-0.85zM103.8,313.0h0.85v0.85h-0.85zM101.2,316.7h0.85v0.85h-0.85zM96.3,324.1h0.85v0.85h-0.85zM101.7,315.4h0.85v0.85h-0.85zM94.3,323.4h0.85v0.85h-0.85zM100.9,327.1h0.85v0.85h-0.85zM94.8,323.2h0.85v0.85h-0.85zM97.7,315.8h0.85v0.85h-0.85zM98.6,321.1h0.85v0.85h-0.85zM100.7,326.1h0.85v0.85h-0.85zM97.5,324.9h0.85v0.85h-0.85zM105.1,316.0h0.85v0.85h-0.85zM104.1,326.5h0.85v0.85h-0.85zM108.1,316.4h0.85v0.85h-0.85zM108.2,310.8h0.85v0.85h-0.85zM103.3,313.3h0.85v0.85h-0.85zM108.4,310.4h0.85v0.85h-0.85zM106.1,317.2h0.85v0.85h-0.85zM105.7,315.1h0.85v0.85h-0.85zM108.3,313.9h0.85v0.85h-0.85zM97.7,307.8h0.85v0.85h-0.85zM104.3,323.8h0.85v0.85h-0.85zM100.8,324.0h0.85v0.85h-0.85zM105.5,326.0h0.85v0.85h-0.85zM138.4,307.5h0.85v0.85h-0.85zM110.6,326.7h0.85v0.85h-0.85zM107.8,317.5h0.85v0.85h-0.85zM142.2,316.2h0.85v0.85h-0.85zM98.2,319.9h0.85v0.85h-0.85zM110.1,326.1h0.85v0.85h-0.85zM100.1,312.3h0.85v0.85h-0.85zM95.6,315.2h0.85v0.85h-0.85zM98.0,305.9h0.85v0.85h-0.85zM104.8,318.3h0.85v0.85h-0.85zM104.7,313.7h0.85v0.85h-0.85zM108.3,321.6h0.85v0.85h-0.85zM107.5,326.5h0.85v0.85h-0.85zM96.4,312.9h0.85v0.85h-0.85zM114.9,332.3h0.85v0.85h-0.85zM106.6,313.9h0.85v0.85h-0.85zM139.4,327.6h0.85v0.85h-0.85zM101.9,318.5h0.85v0.85h-0.85zM100.5,321.7h0.85v0.85h-0.85zM139.6,312.1h0.85v0.85h-0.85zM104.1,314.8h0.85v0.85h-0.85zM108.7,319.9h0.85v0.85h-0.85zM101.4,316.2h0.85v0.85h-0.85zM102.5,319.0h0.85v0.85h-0.85zM105.9,309.0h0.85v0.85h-0.85zM101.8,329.8h0.85v0.85h-0.85zM95.0,321.1h0.85v0.85h-0.85zM108.8,324.7h0.85v0.85h-0.85zM105.7,308.4h0.85v0.85h-0.85zM99.9,322.2h0.85v0.85h-0.85zM108.2,317.4h0.85v0.85h-0.85zM94.2,312.5h0.85v0.85h-0.85zM102.4,317.7h0.85v0.85h-0.85zM102.3,313.6h0.85v0.85h-0.85zM111.5,326.4h0.85v0.85h-0.85zM94.7,324.1h0.85v0.85h-0.85zM97.8,316.4h0.85v0.85h-0.85zM102.9,320.2h0.85v0.85h-0.85zM99.1,319.4h0.85v0.85h-0.85zM104.8,319.1h0.85v0.85h-0.85zM97.8,317.9h0.85v0.85h-0.85zM102.3,318.2h0.85v0.85h-0.85zM103.6,318.3h0.85v0.85h-0.85zM95.6,312.3h0.85v0.85h-0.85zM101.0,318.4h0.85v0.85h-0.85zM117.0,331.9h0.85v0.85h-0.85zM95.5,308.0h0.85v0.85h-0.85zM109.9,332.9h0.85v0.85h-0.85zM111.0,310.6h0.85v0.85h-0.85zM103.2,323.7h0.85v0.85h-0.85zM104.3,315.4h0.85v0.85h-0.85zM101.7,313.0h0.85v0.85h-0.85zM102.5,314.6h0.85v0.85h-0.85zM140.5,311.9h0.85v0.85h-0.85zM101.1,324.3h0.85v0.85h-0.85zM107.0,314.7h0.85v0.85h-0.85zM103.7,326.1h0.85v0.85h-0.85zM96.3,315.5h0.85v0.85h-0.85zM108.7,314.6h0.85v0.85h-0.85zM109.5,322.7h0.85v0.85h-0.85zM106.7,327.5h0.85v0.85h-0.85zM104.8,322.2h0.85v0.85h-0.85zM136.4,305.8h0.85v0.85h-0.85zM109.0,326.2h0.85v0.85h-0.85zM108.6,313.1h0.85v0.85h-0.85zM100.3,319.4h0.85v0.85h-0.85zM103.4,313.8h0.85v0.85h-0.85zM141.4,313.2h0.85v0.85h-0.85zM110.9,310.0h0.85v0.85h-0.85zM95.5,313.2h0.85v0.85h-0.85zM102.1,320.9h0.85v0.85h-0.85zM105.6,311.0h0.85v0.85h-0.85zM102.3,314.0h0.85v0.85h-0.85zM108.8,322.9h0.85v0.85h-0.85zM102.0,329.6h0.85v0.85h-0.85zM101.8,317.9h0.85v0.85h-0.85zM94.4,313.8h0.85v0.85h-0.85zM107.5,309.1h0.85v0.85h-0.85zM142.4,311.1h0.85v0.85h-0.85zM108.2,320.4h0.85v0.85h-0.85zM107.4,322.9h0.85v0.85h-0.85zM102.1,314.8h0.85v0.85h-0.85zM100.8,320.1h0.85v0.85h-0.85zM105.6,313.8h0.85v0.85h-0.85zM141.2,311.2h0.85v0.85h-0.85zM109.3,322.6h0.85v0.85h-0.85zM107.8,326.3h0.85v0.85h-0.85zM99.3,312.0h0.85v0.85h-0.85zM99.8,316.2h0.85v0.85h-0.85zM94.6,317.5h0.85v0.85h-0.85zM109.1,321.7h0.85v0.85h-0.85zM107.5,320.2h0.85v0.85h-0.85zM138.8,307.0h0.85v0.85h-0.85zM145.9,319.6h0.85v0.85h-0.85zM106.4,313.5h0.85v0.85h-0.85zM105.0,319.1h0.85v0.85h-0.85zM129.4,335.6h0.85v0.85h-0.85zM97.0,317.2h0.85v0.85h-0.85zM95.8,330.9h0.85v0.85h-0.85zM107.6,316.4h0.85v0.85h-0.85zM102.7,321.5h0.85v0.85h-0.85zM108.7,317.0h0.85v0.85h-0.85zM106.2,317.7h0.85v0.85h-0.85zM107.3,312.3h0.85v0.85h-0.85zM109.1,310.8h0.85v0.85h-0.85zM107.9,319.8h0.85v0.85h-0.85zM106.8,332.5h0.85v0.85h-0.85zM101.0,315.4h0.85v0.85h-0.85zM140.1,327.8h0.85v0.85h-0.85zM97.3,317.8h0.85v0.85h-0.85zM109.9,309.7h0.85v0.85h-0.85zM106.5,313.3h0.85v0.85h-0.85zM133.2,335.0h0.85v0.85h-0.85zM105.1,315.2h0.85v0.85h-0.85zM101.2,309.8h0.85v0.85h-0.85zM105.8,309.4h0.85v0.85h-0.85z" fill="#222" fill-opacity="0.72"/>
<path d="M132.0,332.6L132.7,332.5L133.2,332.4L133.9,332.1L134.4,331.9L134.9,331.6L135.2,331.4L135.7,331.0L136.0,330.6L136.4,330.2L136.7,329.8L137.0,329.4L137.2,328.9L137.5,328.4L137.7,327.8L137.9,327.1L138.0,326.6L138.2,326.0L138.3,325.4L138.4,324.6L138.5,324.1L138.6,323.4L138.7,322.6L138.7,322.0L138.7,321.4L138.8,320.6L138.8,319.9L138.8,319.1L138.8,318.4L138.8,317.6L138.8,316.9L138.8,316.1L138.8,315.4L138.8,314.6L138.7,313.9L138.7,313.4L138.6,312.6L138.4,311.9L138.3,311.4L138.2,310.8L138.0,310.1L137.8,309.6L137.6,309.1L137.3,308.6L136.9,308.2L136.7,307.9L136.2,307.4L135.9,307.1L135.4,306.8L134.9,306.5L134.4,306.3L133.9,306.1L133.2,305.9L132.7,305.8L131.9,305.7L131.3,305.6L130.7,305.6L129.9,305.6L129.2,305.6L128.4,305.6L127.7,305.6L127.2,305.7L126.4,305.7L125.7,305.8L125.1,305.9L124.4,306.0L123.7,306.1L123.2,306.2L122.5,306.4L121.9,306.6L121.4,306.7L120.8,306.9L120.2,307.1L119.7,307.3L119.2,307.5L118.7,307.7L118.2,307.9L117.7,308.2L117.2,308.5L116.7,308.7L116.2,309.0L115.7,309.4L115.3,309.6L114.9,309.9L114.4,310.3L114.1,310.6L113.7,311.0L113.4,311.4L112.9,311.9L112.7,312.2L112.4,312.6L112.0,313.1L111.8,313.6L111.5,314.1L111.3,314.6L111.1,315.1L110.9,315.9L110.9,316.4L110.8,317.1L110.8,317.9L110.9,318.6L110.9,319.4L111.0,319.9L111.2,320.6L111.4,321.1L111.5,321.6L111.7,322.2L111.9,322.8L112.2,323.3L112.4,323.8L112.7,324.2L113.0,324.6L113.3,325.1L113.7,325.6L113.9,326.0L114.3,326.4L114.7,326.9L115.0,327.1L115.4,327.6L115.7,327.9L116.2,328.3L116.6,328.6L117.0,328.9L117.4,329.3L117.9,329.6L118.4,329.9L118.9,330.1L119.3,330.4L119.8,330.6L120.3,330.9L120.9,331.1L121.4,331.4L121.9,331.6L122.4,331.7L123.0,331.9L123.7,332.1L124.2,332.2L124.9,332.4L125.4,332.5L126.2,332.6L126.7,332.7L127.4,332.7L128.2,332.8L128.9,332.8L129.7,332.8L130.4,332.8L131.2,332.7L131.9,332.7Z" fill="#eaeaea" stroke="none"/>
<path d="M132.6,334.1L133.2,334.0L133.7,333.9L134.4,333.6L134.9,333.4L135.3,333.1L135.7,332.9L136.2,332.5L136.6,332.1L136.9,331.7L137.2,331.4L137.5,330.9L137.8,330.4L138.1,329.9L138.3,329.4L138.5,328.9L138.7,328.4L138.9,327.6L139.0,327.1L139.2,326.4L139.3,325.9L139.4,325.1L139.5,324.6L139.6,323.9L139.6,323.1L139.7,322.4L139.7,321.7L139.7,321.1L139.7,320.4L139.8,319.6L139.8,318.9L139.8,318.1L139.8,317.4L139.8,316.6L139.8,315.9L139.7,315.1L139.7,314.4L139.7,313.9L139.6,313.1L139.6,312.4L139.4,311.7L139.4,311.1L139.2,310.5L139.0,309.9L138.9,309.4L138.7,308.9L138.4,308.4L138.1,307.9L137.8,307.4L137.4,306.9L137.2,306.6L136.7,306.2L136.3,305.9L135.9,305.6L135.4,305.4L134.9,305.1L134.2,304.9L133.7,304.8L133.1,304.6L132.4,304.5L131.7,304.5L130.9,304.4L130.2,304.4L129.4,304.4L128.7,304.4L127.9,304.4L127.2,304.5L126.4,304.5L125.7,304.6L125.2,304.7L124.4,304.8L123.7,304.9L123.2,305.0L122.5,305.1L121.9,305.3L121.4,305.4L120.7,305.6L120.2,305.8L119.7,305.9L119.1,306.1L118.5,306.4L117.9,306.6L117.4,306.8L116.9,307.1L116.4,307.3L115.9,307.6L115.4,307.9L115.0,308.1L114.6,308.4L114.2,308.7L113.7,309.1L113.3,309.4L112.9,309.7L112.4,310.1L112.2,310.4L111.7,310.9L111.4,311.2L111.1,311.6L110.7,312.1L110.4,312.5L110.2,312.9L109.9,313.4L109.7,313.9L109.4,314.6L109.3,315.1L109.1,315.6L109.0,316.4L109.0,317.1L109.0,317.9L109.0,318.6L109.1,319.4L109.2,320.0L109.3,320.6L109.5,321.1L109.7,321.9L109.9,322.4L110.1,322.9L110.3,323.4L110.5,323.9L110.8,324.4L111.1,324.9L111.4,325.4L111.7,325.9L111.9,326.3L112.2,326.6L112.6,327.1L112.9,327.5L113.3,327.9L113.7,328.3L114.1,328.6L114.4,329.0L114.9,329.4L115.2,329.6L115.7,330.0L116.2,330.4L116.6,330.6L117.0,330.9L117.4,331.2L117.9,331.5L118.4,331.8L118.9,332.0L119.4,332.2L119.9,332.5L120.4,332.7L121.0,332.9L121.7,333.1L122.2,333.3L122.7,333.4L123.4,333.6L123.9,333.8L124.6,333.9L125.2,334.0L125.9,334.1L126.4,334.2L127.2,334.3L127.9,334.3L128.7,334.3L129.4,334.3L130.2,334.3L130.9,334.3L131.7,334.3L132.4,334.2Z" fill="none" stroke="#555" stroke-width="0.7"/>
<path d="M129.8,319.4L130.2,319.0L130.4,318.4L130.5,317.9L130.6,317.1L130.4,316.6L130.1,316.1L129.7,315.8L128.9,315.7L128.2,315.8L127.7,316.0L127.2,316.3L126.8,316.6L126.6,317.1L126.6,317.9L126.8,318.4L127.2,318.8L127.6,319.1L128.1,319.4L128.7,319.6L129.4,319.6ZM129.9,320.4L130.2,320.1L130.6,319.6L130.9,319.1L131.0,318.6L131.2,317.9L131.2,317.1L131.0,316.4L130.8,315.9L130.4,315.5L130.0,315.1L129.4,315.0L128.7,315.0L127.9,315.1L127.4,315.2L126.9,315.4L126.4,315.7L125.9,316.1L125.7,316.5L125.4,317.1L125.4,317.6L125.5,318.1L125.7,318.6L126.0,319.1L126.4,319.6L126.9,319.9L127.3,320.1L127.9,320.4L128.4,320.5L129.2,320.6L129.9,320.4ZM130.0,321.1L130.4,320.9L130.9,320.4L131.2,319.9L131.4,319.4L131.5,318.9L131.6,318.1L131.7,317.4L131.6,316.6L131.4,316.1L131.2,315.6L130.9,315.1L130.4,314.7L129.9,314.5L129.4,314.4L128.7,314.4L128.2,314.4L127.4,314.6L126.9,314.7L126.4,314.9L125.9,315.2L125.4,315.6L125.1,315.9L124.8,316.4L124.6,316.9L124.5,317.6L124.6,318.4L124.8,318.9L125.1,319.4L125.4,319.8L125.8,320.1L126.2,320.4L126.7,320.7L127.2,321.0L127.8,321.1L128.4,321.3L129.2,321.3L129.9,321.2ZM129.9,321.9L130.4,321.6L130.8,321.4L131.2,320.9L131.4,320.5L131.7,319.9L131.8,319.4L132.0,318.9L132.1,318.1L132.1,317.4L132.0,316.6L131.9,316.1L131.7,315.5L131.4,315.1L131.1,314.6L130.7,314.3L130.2,314.0L129.7,313.9L128.9,313.9L128.4,313.9L127.7,314.0L127.0,314.1L126.4,314.3L125.9,314.5L125.4,314.8L124.9,315.1L124.6,315.4L124.2,315.9L123.9,316.3L123.7,316.9L123.7,317.4L123.7,317.9L123.9,318.6L124.1,319.1L124.4,319.6L124.7,320.1L125.0,320.4L125.4,320.8L125.9,321.1L126.4,321.4L126.9,321.6L127.4,321.8L128.0,321.9L128.7,322.0L129.4,322.0ZM130.3,322.4L130.7,322.1L131.2,321.7L131.5,321.4L131.8,320.9L132.0,320.4L132.2,319.7L132.3,319.1L132.4,318.4L132.5,317.9L132.5,317.1L132.4,316.6L132.3,315.9L132.1,315.4L131.9,314.9L131.5,314.4L131.2,314.1L130.7,313.7L130.2,313.5L129.6,313.4L128.9,313.4L128.4,313.4L127.7,313.5L126.9,313.6L126.4,313.8L125.9,314.0L125.4,314.2L124.9,314.4L124.4,314.8L124.0,315.1L123.7,315.5L123.4,315.9L123.1,316.4L122.9,317.1L122.9,317.6L123.0,318.1L123.2,318.9L123.4,319.4L123.7,319.9L123.9,320.3L124.3,320.6L124.7,321.0L125.1,321.4L125.5,321.6L126.0,321.9L126.5,322.1L127.2,322.4L127.7,322.5L128.4,322.6L129.2,322.6L129.9,322.5ZM130.0,323.1L130.6,322.9L131.0,322.6L131.4,322.2L131.7,321.9L132.0,321.4L132.3,320.9L132.4,320.4L132.6,319.6L132.7,319.1L132.8,318.4L132.8,317.6L132.8,316.9L132.7,316.1L132.6,315.6L132.4,315.1L132.2,314.6L131.9,314.1L131.4,313.7L131.0,313.4L130.5,313.1L129.9,313.0L129.2,312.9L128.4,313.0L127.7,313.0L127.0,313.1L126.4,313.3L125.9,313.4L125.4,313.6L124.9,313.9L124.4,314.1L123.9,314.5L123.4,314.9L123.2,315.1L122.8,315.6L122.5,316.1L122.3,316.6L122.2,317.4L122.3,318.1L122.4,318.9L122.6,319.4L122.9,319.9L123.2,320.4L123.4,320.7L123.9,321.1L124.2,321.5L124.7,321.9L125.1,322.1L125.6,322.4L126.1,322.6L126.7,322.9L127.2,323.0L127.9,323.1L128.4,323.2L129.2,323.2L129.9,323.2ZM130.3,323.6L130.9,323.4L131.2,323.1L131.7,322.7L131.9,322.4L132.3,321.9L132.5,321.4L132.7,320.9L132.9,320.1L133.0,319.6L133.1,318.9L133.2,318.1L133.2,317.5L133.2,317.1L133.1,316.4L133.0,315.6L132.9,315.1L132.7,314.6L132.4,314.1L132.0,313.6L131.7,313.3L131.2,313.0L130.7,312.7L130.2,312.6L129.4,312.5L128.7,312.5L127.9,312.5L127.2,312.6L126.7,312.8L126.1,312.9L125.4,313.1L124.9,313.3L124.4,313.5L123.9,313.8L123.4,314.1L123.1,314.4L122.7,314.8L122.4,315.1L122.0,315.6L121.8,316.1L121.6,316.6L121.5,317.4L121.6,318.1L121.7,318.7L121.9,319.4L122.1,319.9L122.4,320.4L122.7,320.8L123.0,321.1L123.4,321.6L123.7,321.9L124.2,322.3L124.7,322.6L125.2,322.9L125.7,323.1L126.2,323.3L126.7,323.5L127.4,323.6L127.9,323.7L128.7,323.8L129.4,323.8L130.2,323.7ZM130.6,324.1L131.1,323.9L131.5,323.6L131.9,323.2L132.2,322.9L132.5,322.4L132.8,321.9L133.0,321.4L133.2,320.7L133.3,320.1L133.4,319.4L133.5,318.9L133.5,318.1L133.6,317.4L133.5,316.6L133.4,315.9L133.3,315.4L133.2,314.9L132.9,314.3L132.7,313.8L132.4,313.4L131.9,313.0L131.5,312.6L131.1,312.4L130.4,312.2L129.9,312.1L129.2,312.0L128.4,312.1L127.7,312.1L127.2,312.2L126.4,312.3L125.9,312.5L125.3,312.6L124.7,312.9L124.2,313.1L123.7,313.4L123.2,313.6L122.9,313.9L122.4,314.2L122.0,314.6L121.7,315.0L121.4,315.4L121.2,315.9L120.9,316.6L120.9,317.1L120.9,317.9L120.9,318.5L121.1,319.1L121.3,319.6L121.5,320.1L121.8,320.6L122.2,321.1L122.4,321.5L122.8,321.9L123.2,322.3L123.7,322.6L124.0,322.9L124.5,323.1L124.9,323.4L125.5,323.6L126.1,323.9L126.7,324.1L127.2,324.2L127.9,324.3L128.7,324.4L129.4,324.4L130.2,324.3ZM130.0,324.9L130.7,324.7L131.2,324.5L131.7,324.2L132.0,323.9L132.4,323.4L132.7,323.0L132.9,322.6L133.2,322.0L133.4,321.4L133.6,320.9L133.7,320.2L133.8,319.6L133.9,318.9L133.9,318.1L133.9,317.4L133.9,316.6L133.8,315.9L133.7,315.3L133.5,314.6L133.3,314.1L133.1,313.6L132.7,313.1L132.4,312.8L132.0,312.4L131.6,312.1L131.0,311.9L130.4,311.7L129.9,311.6L129.2,311.6L128.4,311.6L127.9,311.7L127.2,311.8L126.4,311.9L125.9,312.0L125.4,312.1L124.7,312.4L124.2,312.6L123.7,312.8L123.2,313.1L122.7,313.4L122.3,313.6L121.9,313.9L121.5,314.4L121.2,314.7L120.9,315.1L120.6,315.6L120.4,316.1L120.2,316.9L120.2,317.4L120.2,318.0L120.3,318.6L120.4,319.3L120.7,319.9L120.9,320.4L121.2,320.9L121.4,321.3L121.7,321.6L122.2,322.1L122.4,322.4L122.9,322.9L123.3,323.1L123.7,323.4L124.2,323.7L124.7,324.0L125.2,324.2L125.8,324.4L126.4,324.6L126.9,324.7L127.7,324.9L128.2,324.9L128.9,325.0L129.7,324.9ZM130.5,325.4L131.2,325.1L131.6,324.9L132.0,324.6L132.4,324.2L132.7,323.9L133.0,323.4L133.3,322.9L133.5,322.4L133.7,321.9L133.9,321.1L134.0,320.6L134.1,319.9L134.2,319.3L134.2,318.6L134.3,317.9L134.3,317.1L134.2,316.4L134.2,315.9L134.1,315.1L133.9,314.6L133.7,314.0L133.4,313.4L133.2,313.0L132.9,312.6L132.4,312.2L132.0,311.9L131.6,311.6L131.0,311.4L130.4,311.3L129.7,311.2L128.9,311.2L128.2,311.2L127.4,311.3L126.7,311.4L126.2,311.5L125.4,311.6L124.9,311.8L124.4,312.0L123.9,312.1L123.4,312.4L122.9,312.6L122.4,312.9L121.9,313.2L121.4,313.6L121.1,313.9L120.7,314.4L120.4,314.7L120.1,315.1L119.9,315.6L119.7,316.1L119.5,316.9L119.5,317.6L119.5,318.4L119.7,319.1L119.9,319.6L120.0,320.1L120.3,320.6L120.6,321.1L120.9,321.6L121.2,322.0L121.5,322.4L121.9,322.8L122.3,323.1L122.7,323.5L123.2,323.8L123.7,324.1L124.2,324.4L124.7,324.6L125.2,324.8L125.7,325.0L126.2,325.1L126.9,325.3L127.4,325.4L128.2,325.5L128.9,325.5L129.7,325.5L130.4,325.4ZM130.9,325.9L131.4,325.7L131.9,325.4L132.3,325.1L132.7,324.7L133.0,324.4L133.3,323.9L133.6,323.4L133.8,322.9L134.0,322.4L134.2,321.7L134.3,321.1L134.4,320.5L134.5,319.9L134.6,319.1L134.6,318.4L134.6,317.6L134.6,316.9L134.6,316.1L134.5,315.4L134.4,314.9L134.2,314.1L134.0,313.6L133.8,313.1L133.5,312.6L133.2,312.3L132.8,311.9L132.4,311.6L131.9,311.3L131.4,311.1L130.9,310.9L130.2,310.8L129.4,310.7L128.7,310.7L127.9,310.8L127.2,310.8L126.7,310.9L125.9,311.0L125.4,311.2L124.7,311.4L124.2,311.5L123.7,311.7L123.2,311.9L122.7,312.2L122.2,312.4L121.7,312.7L121.2,313.1L120.8,313.4L120.4,313.7L120.1,314.1L119.7,314.6L119.4,315.0L119.2,315.5L118.9,316.1L118.8,316.6L118.8,317.4L118.8,318.1L118.9,318.9L119.0,319.4L119.2,319.9L119.4,320.5L119.7,321.0L119.9,321.5L120.3,321.9L120.6,322.4L120.9,322.8L121.3,323.1L121.7,323.5L122.2,323.9L122.6,324.1L123.0,324.4L123.4,324.7L123.9,325.0L124.4,325.2L125.0,325.4L125.7,325.6L126.2,325.8L126.8,325.9L127.4,326.0L128.2,326.1L128.9,326.1L129.7,326.1L130.4,326.0ZM130.5,326.6L131.2,326.5L131.7,326.3L132.2,326.0L132.6,325.6L132.9,325.3L133.3,324.9L133.6,324.4L133.9,323.9L134.1,323.4L134.3,322.9L134.5,322.4L134.7,321.6L134.8,321.1L134.9,320.4L134.9,319.7L135.0,319.1L135.0,318.4L135.0,317.6L135.0,316.9L135.0,316.1L134.9,315.6L134.8,314.9L134.7,314.3L134.5,313.6L134.3,313.1L134.0,312.6L133.7,312.1L133.4,311.8L133.0,311.4L132.7,311.1L132.2,310.8L131.7,310.6L131.0,310.4L130.4,310.3L129.7,310.2L128.9,310.2L128.2,310.3L127.4,310.3L126.8,310.4L126.2,310.5L125.4,310.6L124.9,310.8L124.4,310.9L123.7,311.1L123.2,311.3L122.7,311.6L122.2,311.8L121.7,312.1L121.2,312.4L120.8,312.6L120.4,312.9L119.9,313.4L119.7,313.6L119.2,314.1L118.9,314.5L118.7,314.9L118.4,315.4L118.2,316.1L118.1,316.6L118.0,317.4L118.1,318.1L118.2,318.9L118.3,319.4L118.4,320.0L118.7,320.6L118.9,321.1L119.2,321.6L119.4,322.0L119.7,322.4L120.2,322.9L120.4,323.2L120.9,323.6L121.2,323.9L121.7,324.3L122.1,324.6L122.5,324.9L122.9,325.2L123.4,325.4L123.9,325.7L124.5,325.9L125.2,326.1L125.7,326.3L126.2,326.4L126.9,326.6L127.5,326.6L128.2,326.7L128.9,326.8L129.7,326.7L130.4,326.7ZM129.9,327.4L130.4,327.3L131.2,327.2L131.7,327.0L132.2,326.7L132.7,326.4L133.0,326.1L133.4,325.7L133.7,325.3L134.0,324.9L134.3,324.4L134.5,323.9L134.7,323.3L134.9,322.6L135.0,322.1L135.2,321.4L135.3,320.9L135.3,320.1L135.4,319.4L135.4,318.6L135.4,317.9L135.4,317.1L135.4,316.4L135.4,315.6L135.3,314.9L135.2,314.4L135.0,313.6L134.8,313.1L134.6,312.6L134.3,312.1L134.0,311.6L133.7,311.3L133.3,310.9L132.9,310.6L132.4,310.4L131.9,310.1L131.2,309.9L130.7,309.8L129.9,309.7L129.2,309.7L128.4,309.7L127.7,309.8L126.9,309.9L126.4,309.9L125.7,310.1L125.2,310.2L124.4,310.4L123.9,310.5L123.4,310.7L122.8,310.9L122.2,311.1L121.7,311.4L121.3,311.6L120.8,311.9L120.4,312.2L119.9,312.5L119.5,312.9L119.2,313.2L118.8,313.6L118.4,314.0L118.2,314.4L117.9,314.9L117.6,315.4L117.4,315.9L117.3,316.6L117.2,317.4L117.3,318.1L117.4,318.9L117.5,319.4L117.7,320.1L117.9,320.6L118.1,321.1L118.4,321.6L118.7,322.1L118.9,322.6L119.2,322.9L119.6,323.4L119.9,323.8L120.4,324.1L120.7,324.5L121.2,324.9L121.6,325.1L122.0,325.4L122.4,325.7L122.9,325.9L123.4,326.2L123.9,326.4L124.6,326.6L125.2,326.8L125.7,327.0L126.4,327.1L126.9,327.2L127.7,327.3L128.4,327.4L128.9,327.4L129.7,327.4ZM131.3,327.9L131.9,327.7L132.4,327.4L132.9,327.1L133.2,326.9L133.7,326.4L133.9,326.1L134.3,325.6L134.6,325.1L134.8,324.6L135.0,324.1L135.2,323.6L135.4,322.9L135.5,322.4L135.6,321.6L135.7,321.1L135.8,320.4L135.8,319.6L135.9,318.9L135.9,318.1L135.9,317.4L135.9,316.6L135.9,315.9L135.8,315.1L135.7,314.5L135.6,313.9L135.4,313.4L135.2,312.7L135.0,312.1L134.7,311.7L134.4,311.3L134.1,310.9L133.7,310.5L133.2,310.1L132.8,309.9L132.3,309.6L131.7,309.5L131.2,309.3L130.4,309.2L129.7,309.2L128.9,309.2L128.2,309.2L127.4,309.3L126.7,309.3L126.2,309.4L125.4,309.5L124.9,309.6L124.2,309.8L123.7,310.0L123.2,310.1L122.5,310.4L121.9,310.6L121.4,310.9L120.9,311.1L120.4,311.4L120.0,311.6L119.7,311.9L119.2,312.3L118.7,312.6L118.4,312.9L118.0,313.4L117.7,313.8L117.4,314.1L117.1,314.6L116.9,315.1L116.7,315.6L116.5,316.4L116.4,316.9L116.4,317.6L116.4,318.4L116.5,318.9L116.7,319.6L116.8,320.1L117.0,320.6L117.2,321.2L117.4,321.7L117.7,322.1L118.0,322.6L118.4,323.1L118.7,323.6L119.0,323.9L119.4,324.4L119.8,324.6L120.2,325.0L120.7,325.4L121.0,325.6L121.4,325.9L121.9,326.2L122.4,326.5L122.9,326.8L123.4,327.0L123.9,327.2L124.6,327.4L125.2,327.6L125.7,327.7L126.4,327.9L126.9,328.0L127.7,328.1L128.4,328.1L129.2,328.1L129.9,328.1L130.7,328.0L131.3,327.9ZM129.9,328.9L130.4,328.9L131.2,328.7L131.7,328.6L132.3,328.4L132.8,328.1L133.2,327.9L133.7,327.5L134.0,327.1L134.4,326.6L134.7,326.3L134.9,325.8L135.2,325.3L135.4,324.7L135.6,324.1L135.8,323.6L135.9,322.9L136.0,322.4L136.2,321.6L136.2,321.1L136.3,320.4L136.3,319.6L136.4,318.9L136.4,318.1L136.4,317.4L136.4,316.6L136.3,315.9L136.3,315.1L136.2,314.4L136.1,313.9L135.9,313.2L135.8,312.6L135.6,312.1L135.4,311.6L135.1,311.1L134.7,310.6L134.4,310.3L134.0,309.9L133.7,309.6L133.2,309.4L132.7,309.1L132.1,308.9L131.4,308.8L130.8,308.6L130.2,308.6L129.4,308.6L128.7,308.6L127.9,308.6L127.4,308.6L126.7,308.7L125.9,308.8L125.4,308.9L124.7,309.1L124.2,309.2L123.4,309.4L122.9,309.5L122.4,309.7L121.9,309.9L121.4,310.1L120.8,310.4L120.3,310.6L119.9,310.9L119.4,311.2L118.9,311.5L118.4,311.9L118.1,312.1L117.7,312.6L117.4,312.9L116.9,313.4L116.7,313.7L116.4,314.1L116.1,314.6L115.9,315.1L115.7,315.7L115.5,316.4L115.4,317.1L115.4,317.6L115.5,318.1L115.6,318.9L115.7,319.6L115.8,320.1L116.0,320.6L116.2,321.2L116.4,321.7L116.7,322.2L117.0,322.6L117.3,323.1L117.6,323.6L117.9,324.0L118.3,324.4L118.7,324.8L119.0,325.1L119.4,325.5L119.9,325.9L120.3,326.1L120.7,326.5L121.2,326.8L121.7,327.1L122.2,327.3L122.7,327.5L123.2,327.8L123.7,328.0L124.3,328.1L124.9,328.3L125.4,328.5L126.2,328.6L126.7,328.7L127.4,328.8L128.2,328.9L128.7,328.9L129.4,328.9ZM131.3,329.6L131.9,329.5L132.4,329.3L132.9,329.1L133.4,328.8L133.9,328.5L134.3,328.1L134.7,327.7L134.9,327.4L135.3,326.9L135.5,326.4L135.8,325.9L136.0,325.4L136.2,324.7L136.3,324.1L136.5,323.6L136.6,322.9L136.7,322.2L136.8,321.6L136.8,320.9L136.9,320.1L136.9,319.4L136.9,318.6L136.9,317.9L136.9,317.1L136.9,316.4L136.9,315.6L136.8,314.9L136.8,314.1L136.7,313.6L136.5,312.9L136.4,312.4L136.2,311.8L135.9,311.2L135.7,310.8L135.4,310.4L135.1,309.9L134.7,309.5L134.3,309.1L133.9,308.9L133.4,308.6L132.9,308.4L132.2,308.2L131.7,308.1L130.9,308.0L130.2,307.9L129.7,307.9L128.9,307.9L128.4,307.9L127.7,307.9L126.9,308.0L126.2,308.1L125.7,308.2L124.9,308.3L124.4,308.4L123.7,308.6L123.2,308.7L122.6,308.9L121.9,309.1L121.4,309.3L120.9,309.5L120.4,309.7L119.9,310.0L119.4,310.2L118.9,310.5L118.4,310.9L118.0,311.1L117.7,311.4L117.2,311.8L116.8,312.1L116.4,312.6L116.1,312.9L115.8,313.4L115.4,313.9L115.2,314.3L114.9,314.8L114.7,315.4L114.6,315.9L114.4,316.5L114.4,317.1L114.4,317.9L114.4,318.6L114.5,319.1L114.7,319.9L114.8,320.4L115.0,320.9L115.2,321.5L115.4,322.0L115.7,322.5L115.9,323.0L116.2,323.4L116.6,323.9L116.9,324.4L117.2,324.7L117.6,325.1L117.9,325.5L118.4,325.9L118.7,326.2L119.2,326.6L119.7,326.9L120.0,327.1L120.4,327.4L120.9,327.7L121.4,328.0L121.9,328.2L122.4,328.4L123.0,328.6L123.6,328.9L124.2,329.1L124.7,329.2L125.4,329.4L125.9,329.5L126.7,329.6L127.2,329.7L127.9,329.8L128.7,329.8L129.4,329.8L130.2,329.8L130.9,329.7ZM131.9,330.6L132.4,330.5L132.9,330.3L133.4,330.1L133.9,329.8L134.4,329.5L134.8,329.1L135.2,328.7L135.5,328.4L135.8,327.9L136.1,327.4L136.3,326.9L136.5,326.4L136.7,325.9L136.9,325.1L137.0,324.6L137.2,323.9L137.3,323.4L137.4,322.6L137.4,321.9L137.5,321.4L137.5,320.6L137.6,319.9L137.6,319.1L137.6,318.4L137.6,317.6L137.6,316.9L137.6,316.1L137.6,315.4L137.5,314.6L137.4,314.0L137.4,313.4L137.2,312.6L137.1,312.1L136.9,311.6L136.7,310.9L136.5,310.4L136.2,309.9L135.9,309.6L135.6,309.1L135.2,308.7L134.8,308.4L134.4,308.1L133.9,307.9L133.4,307.6L132.7,307.4L132.2,307.3L131.4,307.2L130.9,307.1L130.2,307.1L129.4,307.1L128.7,307.1L127.9,307.1L127.3,307.1L126.7,307.2L125.9,307.3L125.2,307.4L124.7,307.5L123.9,307.6L123.4,307.8L122.9,307.9L122.2,308.1L121.7,308.3L121.2,308.4L120.7,308.6L120.1,308.9L119.5,309.1L119.0,309.4L118.6,309.6L118.1,309.9L117.7,310.2L117.2,310.5L116.7,310.9L116.4,311.1L115.9,311.5L115.6,311.9L115.2,312.3L114.9,312.6L114.5,313.1L114.2,313.6L113.9,314.1L113.7,314.6L113.5,315.1L113.3,315.6L113.2,316.3L113.1,316.9L113.1,317.6L113.2,318.4L113.2,318.9L113.3,319.6L113.4,320.2L113.7,320.9L113.8,321.4L114.0,321.9L114.3,322.4L114.5,322.9L114.8,323.4L115.1,323.9L115.4,324.4L115.7,324.7L116.0,325.1L116.4,325.6L116.7,325.9L117.2,326.4L117.5,326.6L117.9,327.0L118.4,327.4L118.8,327.6L119.2,328.0L119.7,328.3L120.2,328.6L120.7,328.8L121.2,329.1L121.7,329.3L122.2,329.5L122.7,329.7L123.2,329.9L123.9,330.1L124.4,330.3L125.0,330.4L125.7,330.5L126.3,330.6L126.9,330.7L127.7,330.8L128.4,330.9L129.2,330.9L129.9,330.9L130.7,330.8L131.4,330.7ZM131.4,332.1L131.9,332.1L132.7,331.9L133.2,331.8L133.7,331.6L134.2,331.3L134.7,331.1L135.2,330.7L135.5,330.4L135.9,329.9L136.2,329.6L136.5,329.1L136.8,328.6L137.1,328.1L137.3,327.6L137.4,327.1L137.7,326.4L137.8,325.9L137.9,325.1L138.0,324.6L138.1,323.9L138.2,323.4L138.3,322.6L138.3,321.9L138.4,321.1L138.4,320.4L138.4,319.6L138.4,318.9L138.4,318.1L138.4,317.4L138.4,316.6L138.4,315.9L138.4,315.1L138.4,314.4L138.3,313.6L138.2,312.9L138.1,312.4L138.0,311.6L137.9,311.1L137.7,310.6L137.4,310.0L137.2,309.4L136.9,309.0L136.7,308.6L136.3,308.1L135.9,307.8L135.5,307.4L135.1,307.1L134.6,306.9L134.0,306.6L133.4,306.5L132.9,306.3L132.2,306.2L131.7,306.1L130.9,306.1L130.2,306.0L129.4,306.0L128.7,306.0L127.9,306.1L127.2,306.1L126.6,306.1L125.9,306.2L125.2,306.3L124.7,306.4L123.9,306.5L123.4,306.6L122.7,306.8L122.2,307.0L121.5,307.1L120.9,307.3L120.4,307.5L119.9,307.7L119.4,307.9L118.9,308.1L118.4,308.4L117.9,308.6L117.4,308.9L116.9,309.2L116.4,309.5L115.9,309.8L115.5,310.1L115.2,310.4L114.7,310.9L114.4,311.1L113.9,311.6L113.7,311.9L113.3,312.4L112.9,312.9L112.7,313.2L112.4,313.7L112.2,314.2L111.9,314.8L111.7,315.4L111.6,315.9L111.5,316.6L111.5,317.4L111.5,318.1L111.6,318.9L111.7,319.6L111.8,320.1L111.9,320.8L112.1,321.4L112.3,321.9L112.5,322.4L112.7,322.9L113.0,323.4L113.3,323.9L113.6,324.4L113.9,324.9L114.2,325.3L114.5,325.6L114.9,326.1L115.2,326.5L115.6,326.9L115.9,327.3L116.4,327.6L116.7,327.9L117.2,328.3L117.6,328.6L118.0,328.9L118.4,329.2L118.9,329.5L119.4,329.8L119.9,330.1L120.4,330.3L120.9,330.5L121.4,330.7L121.9,330.9L122.5,331.1L123.2,331.4L123.7,331.5L124.3,331.6L124.9,331.8L125.4,331.9L126.2,332.0L126.9,332.1L127.4,332.2L128.2,332.2L128.9,332.2L129.7,332.2L130.4,332.2L131.2,332.2Z" fill="none" stroke="#333" stroke-width="0.42"/>
<path d="M129.4,318.9L129.8,318.6L130.0,318.1L130.2,317.4L129.9,316.7L129.7,316.4L128.9,316.2L128.2,316.4L127.8,316.6L127.4,317.1L127.4,317.6L127.6,318.1L127.9,318.5L128.4,318.8L128.9,318.9Z" fill="#fff" stroke="none"/>
<line x1="91.90" y1="242.80" x2="91.90" y2="360.80" stroke="#222" stroke-width="1.3" />
<line x1="91.30" y1="360.20" x2="212.70" y2="360.20" stroke="#222" stroke-width="1.3" />
<line x1="140.50" y1="243.30" x2="140.50" y2="360.20" stroke="#1a1a1a" stroke-width="1.3" />
<line x1="91.90" y1="339.80" x2="212.20" y2="339.80" stroke="#1a1a1a" stroke-width="1.3" />
<text x="203.20" y="259.60" font-size="8.3" text-anchor="end" fill="#2a2a2a" textLength="18.05" lengthAdjust="spacingAndGlyphs" >1.0%</text>
<text y="374.30" font-size="9" fill="#2a2a2a" stroke="#2a2a2a" stroke-width="0.15"><tspan x="87.35" textLength="7.9" lengthAdjust="spacingAndGlyphs">10</tspan><tspan x="95.55" y="371.10" font-size="5.7">0</tspan></text>
<text y="362.80" font-size="9" fill="#2a2a2a" stroke="#2a2a2a" stroke-width="0.15"><tspan x="73.20" textLength="7.9" lengthAdjust="spacingAndGlyphs">10</tspan><tspan x="81.40" y="359.60" font-size="5.7">0</tspan></text>
<text y="374.30" font-size="9" fill="#2a2a2a" stroke="#2a2a2a" stroke-width="0.15"><tspan x="116.75" textLength="7.9" lengthAdjust="spacingAndGlyphs">10</tspan><tspan x="124.95" y="371.10" font-size="5.7">1</tspan></text>
<text y="334.00" font-size="9" fill="#2a2a2a" stroke="#2a2a2a" stroke-width="0.15"><tspan x="73.20" textLength="7.9" lengthAdjust="spacingAndGlyphs">10</tspan><tspan x="81.40" y="330.80" font-size="5.7">1</tspan></text>
<text y="374.30" font-size="9" fill="#2a2a2a" stroke="#2a2a2a" stroke-width="0.15"><tspan x="146.15" textLength="7.9" lengthAdjust="spacingAndGlyphs">10</tspan><tspan x="154.35" y="371.10" font-size="5.7">2</tspan></text>
<text y="305.20" font-size="9" fill="#2a2a2a" stroke="#2a2a2a" stroke-width="0.15"><tspan x="73.20" textLength="7.9" lengthAdjust="spacingAndGlyphs">10</tspan><tspan x="81.40" y="302.00" font-size="5.7">2</tspan></text>
<text y="374.30" font-size="9" fill="#2a2a2a" stroke="#2a2a2a" stroke-width="0.15"><tspan x="175.55" textLength="7.9" lengthAdjust="spacingAndGlyphs">10</tspan><tspan x="183.75" y="371.10" font-size="5.7">3</tspan></text>
<text y="276.40" font-size="9" fill="#2a2a2a" stroke="#2a2a2a" stroke-width="0.15"><tspan x="73.20" textLength="7.9" lengthAdjust="spacingAndGlyphs">10</tspan><tspan x="81.40" y="273.20" font-size="5.7">3</tspan></text>
<text y="374.30" font-size="9" fill="#2a2a2a" stroke="#2a2a2a" stroke-width="0.15"><tspan x="204.95" textLength="7.9" lengthAdjust="spacingAndGlyphs">10</tspan><tspan x="213.15" y="371.10" font-size="5.7">4</tspan></text>
<text y="247.60" font-size="9" fill="#2a2a2a" stroke="#2a2a2a" stroke-width="0.15"><tspan x="73.20" textLength="7.9" lengthAdjust="spacingAndGlyphs">10</tspan><tspan x="81.40" y="244.40" font-size="5.7">4</tspan></text>
<path d="M240.60,243.90 H361.30 V361.00" fill="none" stroke="#707070" stroke-width="1.1"/>
<line x1="249.68" y1="361.00" x2="249.68" y2="362.70" stroke="#444" stroke-width="0.7" />
<line x1="238.90" y1="352.19" x2="240.60" y2="352.19" stroke="#444" stroke-width="0.7" />
<line x1="255.00" y1="361.00" x2="255.00" y2="362.70" stroke="#444" stroke-width="0.7" />
<line x1="238.90" y1="347.03" x2="240.60" y2="347.03" stroke="#444" stroke-width="0.7" />
<line x1="258.77" y1="361.00" x2="258.77" y2="362.70" stroke="#444" stroke-width="0.7" />
<line x1="238.90" y1="343.37" x2="240.60" y2="343.37" stroke="#444" stroke-width="0.7" />
<line x1="261.69" y1="361.00" x2="261.69" y2="362.70" stroke="#444" stroke-width="0.7" />
<line x1="238.90" y1="340.54" x2="240.60" y2="340.54" stroke="#444" stroke-width="0.7" />
<line x1="264.08" y1="361.00" x2="264.08" y2="362.70" stroke="#444" stroke-width="0.7" />
<line x1="238.90" y1="338.22" x2="240.60" y2="338.22" stroke="#444" stroke-width="0.7" />
<line x1="266.10" y1="361.00" x2="266.10" y2="362.70" stroke="#444" stroke-width="0.7" />
<line x1="238.90" y1="336.26" x2="240.60" y2="336.26" stroke="#444" stroke-width="0.7" />
<line x1="267.85" y1="361.00" x2="267.85" y2="362.70" stroke="#444" stroke-width="0.7" />
<line x1="238.90" y1="334.56" x2="240.60" y2="334.56" stroke="#444" stroke-width="0.7" />
<line x1="269.39" y1="361.00" x2="269.39" y2="362.70" stroke="#444" stroke-width="0.7" />
<line x1="238.90" y1="333.06" x2="240.60" y2="333.06" stroke="#444" stroke-width="0.7" />
<line x1="279.86" y1="361.00" x2="279.86" y2="362.70" stroke="#444" stroke-width="0.7" />
<line x1="238.90" y1="322.91" x2="240.60" y2="322.91" stroke="#444" stroke-width="0.7" />
<line x1="285.17" y1="361.00" x2="285.17" y2="362.70" stroke="#444" stroke-width="0.7" />
<line x1="238.90" y1="317.76" x2="240.60" y2="317.76" stroke="#444" stroke-width="0.7" />
<line x1="288.94" y1="361.00" x2="288.94" y2="362.70" stroke="#444" stroke-width="0.7" />
<line x1="238.90" y1="314.10" x2="240.60" y2="314.10" stroke="#444" stroke-width="0.7" />
<line x1="291.87" y1="361.00" x2="291.87" y2="362.70" stroke="#444" stroke-width="0.7" />
<line x1="238.90" y1="311.26" x2="240.60" y2="311.26" stroke="#444" stroke-width="0.7" />
<line x1="294.26" y1="361.00" x2="294.26" y2="362.70" stroke="#444" stroke-width="0.7" />
<line x1="238.90" y1="308.94" x2="240.60" y2="308.94" stroke="#444" stroke-width="0.7" />
<line x1="296.28" y1="361.00" x2="296.28" y2="362.70" stroke="#444" stroke-width="0.7" />
<line x1="238.90" y1="306.98" x2="240.60" y2="306.98" stroke="#444" stroke-width="0.7" />
<line x1="298.03" y1="361.00" x2="298.03" y2="362.70" stroke="#444" stroke-width="0.7" />
<line x1="238.90" y1="305.29" x2="240.60" y2="305.29" stroke="#444" stroke-width="0.7" />
<line x1="299.57" y1="361.00" x2="299.57" y2="362.70" stroke="#444" stroke-width="0.7" />
<line x1="238.90" y1="303.79" x2="240.60" y2="303.79" stroke="#444" stroke-width="0.7" />
<line x1="310.03" y1="361.00" x2="310.03" y2="362.70" stroke="#444" stroke-width="0.7" />
<line x1="238.90" y1="293.64" x2="240.60" y2="293.64" stroke="#444" stroke-width="0.7" />
<line x1="315.35" y1="361.00" x2="315.35" y2="362.70" stroke="#444" stroke-width="0.7" />
<line x1="238.90" y1="288.48" x2="240.60" y2="288.48" stroke="#444" stroke-width="0.7" />
<line x1="319.12" y1="361.00" x2="319.12" y2="362.70" stroke="#444" stroke-width="0.7" />
<line x1="238.90" y1="284.82" x2="240.60" y2="284.82" stroke="#444" stroke-width="0.7" />
<line x1="322.04" y1="361.00" x2="322.04" y2="362.70" stroke="#444" stroke-width="0.7" />
<line x1="238.90" y1="281.99" x2="240.60" y2="281.99" stroke="#444" stroke-width="0.7" />
<line x1="324.43" y1="361.00" x2="324.43" y2="362.70" stroke="#444" stroke-width="0.7" />
<line x1="238.90" y1="279.67" x2="240.60" y2="279.67" stroke="#444" stroke-width="0.7" />
<line x1="326.45" y1="361.00" x2="326.45" y2="362.70" stroke="#444" stroke-width="0.7" />
<line x1="238.90" y1="277.71" x2="240.60" y2="277.71" stroke="#444" stroke-width="0.7" />
<line x1="328.20" y1="361.00" x2="328.20" y2="362.70" stroke="#444" stroke-width="0.7" />
<line x1="238.90" y1="276.01" x2="240.60" y2="276.01" stroke="#444" stroke-width="0.7" />
<line x1="329.74" y1="361.00" x2="329.74" y2="362.70" stroke="#444" stroke-width="0.7" />
<line x1="238.90" y1="274.51" x2="240.60" y2="274.51" stroke="#444" stroke-width="0.7" />
<line x1="340.21" y1="361.00" x2="340.21" y2="362.70" stroke="#444" stroke-width="0.7" />
<line x1="238.90" y1="264.36" x2="240.60" y2="264.36" stroke="#444" stroke-width="0.7" />
<line x1="345.52" y1="361.00" x2="345.52" y2="362.70" stroke="#444" stroke-width="0.7" />
<line x1="238.90" y1="259.21" x2="240.60" y2="259.21" stroke="#444" stroke-width="0.7" />
<line x1="349.29" y1="361.00" x2="349.29" y2="362.70" stroke="#444" stroke-width="0.7" />
<line x1="238.90" y1="255.55" x2="240.60" y2="255.55" stroke="#444" stroke-width="0.7" />
<line x1="352.22" y1="361.00" x2="352.22" y2="362.70" stroke="#444" stroke-width="0.7" />
<line x1="238.90" y1="252.71" x2="240.60" y2="252.71" stroke="#444" stroke-width="0.7" />
<line x1="354.61" y1="361.00" x2="354.61" y2="362.70" stroke="#444" stroke-width="0.7" />
<line x1="238.90" y1="250.39" x2="240.60" y2="250.39" stroke="#444" stroke-width="0.7" />
<line x1="356.63" y1="361.00" x2="356.63" y2="362.70" stroke="#444" stroke-width="0.7" />
<line x1="238.90" y1="248.43" x2="240.60" y2="248.43" stroke="#444" stroke-width="0.7" />
<line x1="358.38" y1="361.00" x2="358.38" y2="362.70" stroke="#444" stroke-width="0.7" />
<line x1="238.90" y1="246.74" x2="240.60" y2="246.74" stroke="#444" stroke-width="0.7" />
<line x1="359.92" y1="361.00" x2="359.92" y2="362.70" stroke="#444" stroke-width="0.7" />
<line x1="238.90" y1="245.24" x2="240.60" y2="245.24" stroke="#444" stroke-width="0.7" />
<line x1="240.60" y1="361.00" x2="240.60" y2="363.80" stroke="#222" stroke-width="1.1" />
<line x1="237.80" y1="361.00" x2="240.60" y2="361.00" stroke="#222" stroke-width="1.1" />
<line x1="270.77" y1="361.00" x2="270.77" y2="363.80" stroke="#222" stroke-width="1.1" />
<line x1="237.80" y1="331.73" x2="240.60" y2="331.73" stroke="#222" stroke-width="1.1" />
<line x1="300.95" y1="361.00" x2="300.95" y2="363.80" stroke="#222" stroke-width="1.1" />
<line x1="237.80" y1="302.45" x2="240.60" y2="302.45" stroke="#222" stroke-width="1.1" />
<line x1="331.12" y1="361.00" x2="331.12" y2="363.80" stroke="#222" stroke-width="1.1" />
<line x1="237.80" y1="273.18" x2="240.60" y2="273.18" stroke="#222" stroke-width="1.1" />
<line x1="361.30" y1="361.00" x2="361.30" y2="363.80" stroke="#222" stroke-width="1.1" />
<line x1="237.80" y1="243.90" x2="240.60" y2="243.90" stroke="#222" stroke-width="1.1" />
<path d="M293.7,319.4h0.85v0.85h-0.85zM289.4,307.4h0.85v0.85h-0.85zM289.2,319.0h0.85v0.85h-0.85zM252.1,324.1h0.85v0.85h-0.85zM294.9,333.1h0.85v0.85h-0.85zM260.3,313.8h0.85v0.85h-0.85zM252.1,321.0h0.85v0.85h-0.85zM260.9,307.7h0.85v0.85h-0.85zM289.4,328.4h0.85v0.85h-0.85zM256.4,323.4h0.85v0.85h-0.85zM251.3,318.8h0.85v0.85h-0.85zM290.9,314.8h0.85v0.85h-0.85zM258.6,318.0h0.85v0.85h-0.85zM254.5,326.9h0.85v0.85h-0.85zM289.6,316.5h0.85v0.85h-0.85zM256.7,328.2h0.85v0.85h-0.85zM289.2,313.7h0.85v0.85h-0.85zM255.9,317.4h0.85v0.85h-0.85zM252.6,317.0h0.85v0.85h-0.85zM254.9,314.8h0.85v0.85h-0.85zM258.9,326.0h0.85v0.85h-0.85zM257.0,323.0h0.85v0.85h-0.85zM288.6,322.5h0.85v0.85h-0.85zM248.8,320.3h0.85v0.85h-0.85zM258.1,319.5h0.85v0.85h-0.85zM259.3,306.4h0.85v0.85h-0.85zM257.8,315.8h0.85v0.85h-0.85zM254.8,328.6h0.85v0.85h-0.85zM257.0,317.6h0.85v0.85h-0.85zM255.3,314.7h0.85v0.85h-0.85zM247.8,327.4h0.85v0.85h-0.85zM260.9,326.4h0.85v0.85h-0.85zM296.2,319.1h0.85v0.85h-0.85zM290.2,317.2h0.85v0.85h-0.85zM255.7,314.9h0.85v0.85h-0.85zM291.4,316.8h0.85v0.85h-0.85zM250.0,319.3h0.85v0.85h-0.85zM255.1,325.9h0.85v0.85h-0.85zM255.5,321.6h0.85v0.85h-0.85zM259.1,323.8h0.85v0.85h-0.85zM243.7,319.4h0.85v0.85h-0.85zM245.7,330.8h0.85v0.85h-0.85zM263.5,309.2h0.85v0.85h-0.85zM289.9,320.4h0.85v0.85h-0.85zM288.7,326.4h0.85v0.85h-0.85zM261.0,325.5h0.85v0.85h-0.85zM270.8,338.0h0.85v0.85h-0.85zM252.6,323.6h0.85v0.85h-0.85zM250.4,320.8h0.85v0.85h-0.85zM294.6,326.3h0.85v0.85h-0.85zM290.1,325.5h0.85v0.85h-0.85zM259.2,319.1h0.85v0.85h-0.85zM255.9,316.1h0.85v0.85h-0.85zM291.0,320.3h0.85v0.85h-0.85zM244.7,316.9h0.85v0.85h-0.85zM249.2,319.2h0.85v0.85h-0.85zM254.2,331.6h0.85v0.85h-0.85zM261.2,327.5h0.85v0.85h-0.85zM254.7,329.2h0.85v0.85h-0.85zM289.0,313.8h0.85v0.85h-0.85zM290.3,320.2h0.85v0.85h-0.85zM293.1,324.7h0.85v0.85h-0.85zM294.1,315.7h0.85v0.85h-0.85zM288.4,330.1h0.85v0.85h-0.85zM291.5,328.5h0.85v0.85h-0.85zM259.0,324.8h0.85v0.85h-0.85zM288.8,316.8h0.85v0.85h-0.85zM289.0,323.7h0.85v0.85h-0.85zM256.7,328.5h0.85v0.85h-0.85zM288.7,319.5h0.85v0.85h-0.85zM255.2,323.5h0.85v0.85h-0.85zM257.0,323.9h0.85v0.85h-0.85zM291.8,317.3h0.85v0.85h-0.85zM292.7,314.2h0.85v0.85h-0.85zM243.3,317.2h0.85v0.85h-0.85zM248.7,315.3h0.85v0.85h-0.85zM252.1,327.2h0.85v0.85h-0.85zM275.7,336.0h0.85v0.85h-0.85zM254.9,320.3h0.85v0.85h-0.85zM295.9,329.4h0.85v0.85h-0.85zM258.6,310.7h0.85v0.85h-0.85zM292.4,321.0h0.85v0.85h-0.85zM290.5,320.8h0.85v0.85h-0.85zM289.7,316.4h0.85v0.85h-0.85zM258.9,322.6h0.85v0.85h-0.85zM289.2,324.8h0.85v0.85h-0.85zM243.4,325.9h0.85v0.85h-0.85zM254.4,312.4h0.85v0.85h-0.85zM247.3,325.8h0.85v0.85h-0.85zM247.0,316.1h0.85v0.85h-0.85zM288.9,316.1h0.85v0.85h-0.85zM258.3,314.6h0.85v0.85h-0.85zM293.0,318.7h0.85v0.85h-0.85zM293.2,319.0h0.85v0.85h-0.85zM291.0,327.1h0.85v0.85h-0.85zM288.6,327.1h0.85v0.85h-0.85zM259.6,324.7h0.85v0.85h-0.85zM260.1,323.4h0.85v0.85h-0.85zM289.2,320.6h0.85v0.85h-0.85zM292.8,319.2h0.85v0.85h-0.85zM291.2,309.8h0.85v0.85h-0.85zM289.7,313.0h0.85v0.85h-0.85zM249.4,313.1h0.85v0.85h-0.85zM288.8,320.6h0.85v0.85h-0.85zM290.0,317.6h0.85v0.85h-0.85zM293.3,316.7h0.85v0.85h-0.85zM251.4,316.1h0.85v0.85h-0.85zM292.5,317.9h0.85v0.85h-0.85zM292.8,317.8h0.85v0.85h-0.85zM291.0,313.4h0.85v0.85h-0.85zM290.5,319.5h0.85v0.85h-0.85zM246.5,322.8h0.85v0.85h-0.85zM291.4,315.8h0.85v0.85h-0.85zM290.4,320.9h0.85v0.85h-0.85zM293.5,318.1h0.85v0.85h-0.85zM245.4,325.7h0.85v0.85h-0.85zM259.2,317.5h0.85v0.85h-0.85zM290.9,317.5h0.85v0.85h-0.85zM256.4,317.5h0.85v0.85h-0.85zM289.2,321.7h0.85v0.85h-0.85zM242.5,322.0h0.85v0.85h-0.85zM294.3,324.0h0.85v0.85h-0.85zM257.3,318.1h0.85v0.85h-0.85zM289.4,322.6h0.85v0.85h-0.85zM249.8,321.7h0.85v0.85h-0.85zM254.3,323.9h0.85v0.85h-0.85zM289.2,328.8h0.85v0.85h-0.85zM289.7,334.0h0.85v0.85h-0.85zM260.1,313.0h0.85v0.85h-0.85zM243.2,330.4h0.85v0.85h-0.85zM258.7,319.9h0.85v0.85h-0.85zM259.1,321.1h0.85v0.85h-0.85zM256.5,317.7h0.85v0.85h-0.85zM246.2,322.0h0.85v0.85h-0.85zM250.5,324.3h0.85v0.85h-0.85zM291.7,316.5h0.85v0.85h-0.85zM248.2,328.9h0.85v0.85h-0.85zM257.4,326.6h0.85v0.85h-0.85zM288.3,311.5h0.85v0.85h-0.85zM291.8,323.1h0.85v0.85h-0.85zM258.6,316.1h0.85v0.85h-0.85zM254.1,317.5h0.85v0.85h-0.85zM244.5,320.4h0.85v0.85h-0.85zM245.6,320.5h0.85v0.85h-0.85zM294.3,330.9h0.85v0.85h-0.85zM292.4,325.8h0.85v0.85h-0.85zM257.1,311.2h0.85v0.85h-0.85zM256.2,320.4h0.85v0.85h-0.85zM287.8,309.4h0.85v0.85h-0.85zM257.0,318.3h0.85v0.85h-0.85zM258.8,318.8h0.85v0.85h-0.85zM244.7,311.8h0.85v0.85h-0.85zM294.7,324.4h0.85v0.85h-0.85zM294.1,309.7h0.85v0.85h-0.85zM259.1,323.3h0.85v0.85h-0.85zM251.7,322.3h0.85v0.85h-0.85zM293.1,317.1h0.85v0.85h-0.85zM292.7,328.1h0.85v0.85h-0.85zM290.5,318.8h0.85v0.85h-0.85zM288.8,321.1h0.85v0.85h-0.85zM287.2,336.2h0.85v0.85h-0.85zM250.4,318.8h0.85v0.85h-0.85zM257.6,317.4h0.85v0.85h-0.85zM288.7,318.2h0.85v0.85h-0.85zM252.2,313.5h0.85v0.85h-0.85zM248.4,318.3h0.85v0.85h-0.85zM286.7,307.4h0.85v0.85h-0.85zM243.5,324.1h0.85v0.85h-0.85zM289.9,320.3h0.85v0.85h-0.85zM296.8,311.5h0.85v0.85h-0.85zM296.5,322.2h0.85v0.85h-0.85zM295.2,326.8h0.85v0.85h-0.85zM258.1,318.6h0.85v0.85h-0.85zM253.9,316.8h0.85v0.85h-0.85zM253.2,315.8h0.85v0.85h-0.85zM248.3,327.8h0.85v0.85h-0.85zM289.3,319.2h0.85v0.85h-0.85zM258.4,312.3h0.85v0.85h-0.85zM251.9,315.4h0.85v0.85h-0.85zM289.7,315.0h0.85v0.85h-0.85zM254.2,310.9h0.85v0.85h-0.85zM289.7,317.9h0.85v0.85h-0.85zM290.0,315.2h0.85v0.85h-0.85zM289.6,327.4h0.85v0.85h-0.85zM259.0,315.2h0.85v0.85h-0.85zM254.7,323.6h0.85v0.85h-0.85zM251.7,327.0h0.85v0.85h-0.85zM261.7,312.7h0.85v0.85h-0.85zM291.8,319.2h0.85v0.85h-0.85zM289.1,334.6h0.85v0.85h-0.85zM286.1,306.9h0.85v0.85h-0.85zM288.9,316.8h0.85v0.85h-0.85zM259.8,319.4h0.85v0.85h-0.85zM290.7,317.0h0.85v0.85h-0.85zM289.5,320.6h0.85v0.85h-0.85zM291.5,319.1h0.85v0.85h-0.85zM263.6,307.0h0.85v0.85h-0.85zM253.9,315.6h0.85v0.85h-0.85zM258.1,317.6h0.85v0.85h-0.85zM254.7,319.4h0.85v0.85h-0.85zM255.8,323.3h0.85v0.85h-0.85zM287.3,309.4h0.85v0.85h-0.85zM258.9,333.8h0.85v0.85h-0.85zM288.6,317.8h0.85v0.85h-0.85zM259.6,320.7h0.85v0.85h-0.85zM258.3,318.6h0.85v0.85h-0.85zM290.0,317.3h0.85v0.85h-0.85zM288.3,310.7h0.85v0.85h-0.85zM296.3,325.0h0.85v0.85h-0.85zM288.5,312.5h0.85v0.85h-0.85zM256.0,321.2h0.85v0.85h-0.85zM293.2,321.6h0.85v0.85h-0.85zM288.9,323.6h0.85v0.85h-0.85zM292.8,313.1h0.85v0.85h-0.85zM289.5,327.0h0.85v0.85h-0.85zM292.7,308.0h0.85v0.85h-0.85zM256.9,323.9h0.85v0.85h-0.85zM289.9,322.5h0.85v0.85h-0.85zM251.2,321.0h0.85v0.85h-0.85zM291.3,311.6h0.85v0.85h-0.85zM248.1,317.4h0.85v0.85h-0.85zM289.0,322.1h0.85v0.85h-0.85zM259.6,321.9h0.85v0.85h-0.85zM261.9,328.6h0.85v0.85h-0.85zM291.6,318.8h0.85v0.85h-0.85zM251.7,317.7h0.85v0.85h-0.85zM265.8,331.9h0.85v0.85h-0.85zM251.8,320.9h0.85v0.85h-0.85zM249.5,332.0h0.85v0.85h-0.85zM263.2,330.2h0.85v0.85h-0.85zM289.5,329.6h0.85v0.85h-0.85zM292.6,324.9h0.85v0.85h-0.85zM290.9,315.9h0.85v0.85h-0.85zM258.7,312.0h0.85v0.85h-0.85zM291.2,319.4h0.85v0.85h-0.85zM251.2,318.8h0.85v0.85h-0.85zM253.4,313.6h0.85v0.85h-0.85zM292.6,314.6h0.85v0.85h-0.85zM290.9,325.0h0.85v0.85h-0.85zM251.2,317.7h0.85v0.85h-0.85zM292.1,317.2h0.85v0.85h-0.85zM289.5,319.3h0.85v0.85h-0.85zM289.4,308.6h0.85v0.85h-0.85zM248.5,328.9h0.85v0.85h-0.85zM256.9,321.8h0.85v0.85h-0.85zM263.0,330.2h0.85v0.85h-0.85zM253.3,320.1h0.85v0.85h-0.85zM288.5,326.1h0.85v0.85h-0.85zM288.7,313.7h0.85v0.85h-0.85zM258.9,322.8h0.85v0.85h-0.85zM294.3,312.4h0.85v0.85h-0.85zM292.0,315.8h0.85v0.85h-0.85zM267.6,333.6h0.85v0.85h-0.85zM289.9,320.7h0.85v0.85h-0.85zM292.7,319.2h0.85v0.85h-0.85zM293.2,319.7h0.85v0.85h-0.85zM290.0,335.8h0.85v0.85h-0.85zM258.3,311.1h0.85v0.85h-0.85zM258.4,312.1h0.85v0.85h-0.85zM294.7,322.3h0.85v0.85h-0.85zM263.4,332.3h0.85v0.85h-0.85zM288.9,324.0h0.85v0.85h-0.85zM253.0,318.2h0.85v0.85h-0.85zM290.3,309.3h0.85v0.85h-0.85zM288.8,321.9h0.85v0.85h-0.85zM261.0,314.6h0.85v0.85h-0.85zM292.7,312.3h0.85v0.85h-0.85zM290.4,311.1h0.85v0.85h-0.85zM259.2,318.9h0.85v0.85h-0.85zM291.0,325.4h0.85v0.85h-0.85zM289.6,311.6h0.85v0.85h-0.85zM259.6,315.1h0.85v0.85h-0.85zM248.1,321.2h0.85v0.85h-0.85zM289.6,334.8h0.85v0.85h-0.85zM289.9,316.5h0.85v0.85h-0.85zM287.3,334.1h0.85v0.85h-0.85zM244.4,314.9h0.85v0.85h-0.85zM292.9,320.9h0.85v0.85h-0.85zM267.4,334.6h0.85v0.85h-0.85zM289.2,328.5h0.85v0.85h-0.85zM257.0,317.7h0.85v0.85h-0.85zM275.3,336.6h0.85v0.85h-0.85zM285.8,337.3h0.85v0.85h-0.85zM248.2,327.5h0.85v0.85h-0.85zM290.5,321.8h0.85v0.85h-0.85zM293.0,318.0h0.85v0.85h-0.85zM245.2,324.2h0.85v0.85h-0.85zM292.0,320.6h0.85v0.85h-0.85zM252.5,320.9h0.85v0.85h-0.85zM242.8,314.5h0.85v0.85h-0.85zM289.7,328.3h0.85v0.85h-0.85zM247.9,329.6h0.85v0.85h-0.85zM256.3,316.4h0.85v0.85h-0.85zM244.9,308.3h0.85v0.85h-0.85zM257.2,310.3h0.85v0.85h-0.85zM288.7,325.8h0.85v0.85h-0.85zM259.4,318.1h0.85v0.85h-0.85zM288.2,311.0h0.85v0.85h-0.85zM269.1,334.1h0.85v0.85h-0.85zM292.0,320.4h0.85v0.85h-0.85zM296.3,318.3h0.85v0.85h-0.85zM259.7,330.1h0.85v0.85h-0.85zM253.8,322.9h0.85v0.85h-0.85zM282.2,306.3h0.85v0.85h-0.85zM294.2,318.2h0.85v0.85h-0.85zM251.1,323.8h0.85v0.85h-0.85zM288.7,318.5h0.85v0.85h-0.85zM290.8,331.5h0.85v0.85h-0.85zM258.0,311.5h0.85v0.85h-0.85zM259.3,311.7h0.85v0.85h-0.85zM255.9,322.4h0.85v0.85h-0.85zM259.0,329.6h0.85v0.85h-0.85zM257.4,316.9h0.85v0.85h-0.85zM260.8,314.6h0.85v0.85h-0.85zM294.8,328.5h0.85v0.85h-0.85zM288.7,323.2h0.85v0.85h-0.85zM249.8,309.8h0.85v0.85h-0.85zM288.7,317.5h0.85v0.85h-0.85zM253.6,309.7h0.85v0.85h-0.85zM258.1,328.5h0.85v0.85h-0.85zM291.5,315.9h0.85v0.85h-0.85zM288.9,319.7h0.85v0.85h-0.85zM257.3,322.5h0.85v0.85h-0.85zM289.6,330.6h0.85v0.85h-0.85zM259.4,317.2h0.85v0.85h-0.85zM291.9,319.1h0.85v0.85h-0.85zM257.7,317.9h0.85v0.85h-0.85zM289.2,310.2h0.85v0.85h-0.85zM296.0,327.8h0.85v0.85h-0.85zM247.1,315.1h0.85v0.85h-0.85zM288.9,316.7h0.85v0.85h-0.85zM255.4,322.9h0.85v0.85h-0.85zM292.8,312.4h0.85v0.85h-0.85zM263.8,334.5h0.85v0.85h-0.85zM289.0,319.9h0.85v0.85h-0.85zM292.0,328.0h0.85v0.85h-0.85zM257.7,315.7h0.85v0.85h-0.85zM258.6,317.5h0.85v0.85h-0.85zM254.4,316.5h0.85v0.85h-0.85zM261.4,310.4h0.85v0.85h-0.85zM290.1,311.5h0.85v0.85h-0.85zM250.1,323.7h0.85v0.85h-0.85zM255.4,322.8h0.85v0.85h-0.85zM290.1,319.2h0.85v0.85h-0.85zM255.0,319.6h0.85v0.85h-0.85zM288.8,314.5h0.85v0.85h-0.85zM251.7,318.4h0.85v0.85h-0.85zM258.1,325.8h0.85v0.85h-0.85zM289.8,319.1h0.85v0.85h-0.85zM245.7,316.6h0.85v0.85h-0.85zM292.4,325.9h0.85v0.85h-0.85zM256.5,322.1h0.85v0.85h-0.85zM293.2,313.8h0.85v0.85h-0.85zM292.5,324.6h0.85v0.85h-0.85zM259.1,317.8h0.85v0.85h-0.85zM263.6,309.6h0.85v0.85h-0.85zM278.2,336.8h0.85v0.85h-0.85zM290.2,323.4h0.85v0.85h-0.85zM291.0,330.0h0.85v0.85h-0.85zM291.9,317.5h0.85v0.85h-0.85zM252.7,308.6h0.85v0.85h-0.85zM289.5,311.6h0.85v0.85h-0.85zM291.6,326.5h0.85v0.85h-0.85zM292.7,318.5h0.85v0.85h-0.85zM294.2,316.7h0.85v0.85h-0.85zM258.5,319.2h0.85v0.85h-0.85zM290.6,323.5h0.85v0.85h-0.85zM262.4,330.9h0.85v0.85h-0.85zM250.8,323.5h0.85v0.85h-0.85zM290.0,319.7h0.85v0.85h-0.85zM253.3,318.0h0.85v0.85h-0.85zM252.0,330.2h0.85v0.85h-0.85zM293.7,316.5h0.85v0.85h-0.85zM260.7,309.7h0.85v0.85h-0.85zM260.5,315.0h0.85v0.85h-0.85zM254.0,312.3h0.85v0.85h-0.85zM288.6,321.6h0.85v0.85h-0.85zM258.9,323.2h0.85v0.85h-0.85zM288.7,333.9h0.85v0.85h-0.85zM290.6,317.2h0.85v0.85h-0.85zM289.6,317.2h0.85v0.85h-0.85zM289.5,318.8h0.85v0.85h-0.85zM288.8,325.0h0.85v0.85h-0.85zM290.1,316.3h0.85v0.85h-0.85zM253.8,310.2h0.85v0.85h-0.85zM255.9,321.9h0.85v0.85h-0.85zM289.9,311.3h0.85v0.85h-0.85zM288.6,314.1h0.85v0.85h-0.85zM288.7,316.0h0.85v0.85h-0.85zM289.3,315.4h0.85v0.85h-0.85zM291.2,317.2h0.85v0.85h-0.85zM290.9,315.8h0.85v0.85h-0.85zM291.4,324.1h0.85v0.85h-0.85zM290.4,322.1h0.85v0.85h-0.85zM254.8,318.7h0.85v0.85h-0.85zM256.7,313.8h0.85v0.85h-0.85zM289.9,312.8h0.85v0.85h-0.85zM248.8,317.9h0.85v0.85h-0.85zM289.1,320.1h0.85v0.85h-0.85zM289.8,322.3h0.85v0.85h-0.85zM263.6,332.6h0.85v0.85h-0.85zM288.9,312.5h0.85v0.85h-0.85zM292.5,313.2h0.85v0.85h-0.85zM249.7,320.1h0.85v0.85h-0.85zM291.4,315.0h0.85v0.85h-0.85zM267.3,308.7h0.85v0.85h-0.85zM291.4,327.3h0.85v0.85h-0.85zM261.4,332.2h0.85v0.85h-0.85zM254.4,319.1h0.85v0.85h-0.85zM290.0,324.3h0.85v0.85h-0.85zM251.7,320.2h0.85v0.85h-0.85zM291.4,323.1h0.85v0.85h-0.85zM257.8,326.1h0.85v0.85h-0.85zM294.1,319.3h0.85v0.85h-0.85zM289.9,316.1h0.85v0.85h-0.85zM259.8,323.3h0.85v0.85h-0.85zM248.5,315.2h0.85v0.85h-0.85zM249.7,320.0h0.85v0.85h-0.85zM258.2,312.2h0.85v0.85h-0.85zM258.4,332.2h0.85v0.85h-0.85zM289.8,325.1h0.85v0.85h-0.85zM262.9,305.6h0.85v0.85h-0.85zM257.6,323.8h0.85v0.85h-0.85zM294.0,315.9h0.85v0.85h-0.85zM296.1,319.5h0.85v0.85h-0.85zM289.1,323.8h0.85v0.85h-0.85zM294.9,326.9h0.85v0.85h-0.85zM260.6,330.7h0.85v0.85h-0.85zM254.5,318.4h0.85v0.85h-0.85zM258.7,320.5h0.85v0.85h-0.85zM259.1,325.8h0.85v0.85h-0.85zM258.7,316.4h0.85v0.85h-0.85zM292.0,315.5h0.85v0.85h-0.85zM256.4,317.3h0.85v0.85h-0.85zM294.2,318.6h0.85v0.85h-0.85zM255.9,323.6h0.85v0.85h-0.85zM252.2,328.6h0.85v0.85h-0.85zM255.5,316.1h0.85v0.85h-0.85zM295.6,330.6h0.85v0.85h-0.85zM295.6,314.3h0.85v0.85h-0.85zM289.7,316.5h0.85v0.85h-0.85zM254.9,318.2h0.85v0.85h-0.85zM259.3,325.9h0.85v0.85h-0.85zM252.2,327.5h0.85v0.85h-0.85zM265.3,308.5h0.85v0.85h-0.85zM257.0,331.3h0.85v0.85h-0.85zM289.5,319.6h0.85v0.85h-0.85zM288.7,317.9h0.85v0.85h-0.85zM259.5,308.6h0.85v0.85h-0.85zM289.9,319.4h0.85v0.85h-0.85zM292.0,316.6h0.85v0.85h-0.85zM251.5,333.3h0.85v0.85h-0.85zM289.6,326.9h0.85v0.85h-0.85zM254.9,320.8h0.85v0.85h-0.85zM259.6,315.6h0.85v0.85h-0.85zM263.3,310.4h0.85v0.85h-0.85zM260.9,314.3h0.85v0.85h-0.85zM289.4,323.7h0.85v0.85h-0.85zM260.8,314.7h0.85v0.85h-0.85zM254.6,330.9h0.85v0.85h-0.85zM253.0,321.6h0.85v0.85h-0.85zM293.3,324.7h0.85v0.85h-0.85zM293.3,323.0h0.85v0.85h-0.85zM248.6,310.7h0.85v0.85h-0.85zM293.5,321.6h0.85v0.85h-0.85zM253.1,318.5h0.85v0.85h-0.85zM260.3,315.5h0.85v0.85h-0.85zM253.4,336.9h0.85v0.85h-0.85zM292.0,313.0h0.85v0.85h-0.85zM289.4,311.3h0.85v0.85h-0.85zM256.6,319.9h0.85v0.85h-0.85zM252.9,314.7h0.85v0.85h-0.85zM296.7,315.3h0.85v0.85h-0.85zM256.6,315.5h0.85v0.85h-0.85zM291.8,328.3h0.85v0.85h-0.85zM293.3,325.3h0.85v0.85h-0.85zM255.8,318.1h0.85v0.85h-0.85zM244.5,315.3h0.85v0.85h-0.85zM243.7,317.0h0.85v0.85h-0.85zM257.3,317.8h0.85v0.85h-0.85zM294.7,317.6h0.85v0.85h-0.85zM245.9,320.9h0.85v0.85h-0.85zM288.8,317.9h0.85v0.85h-0.85zM255.2,316.4h0.85v0.85h-0.85zM256.7,322.2h0.85v0.85h-0.85zM255.4,317.2h0.85v0.85h-0.85zM291.1,316.6h0.85v0.85h-0.85zM263.6,330.7h0.85v0.85h-0.85zM259.1,320.7h0.85v0.85h-0.85zM251.6,321.1h0.85v0.85h-0.85zM246.1,314.8h0.85v0.85h-0.85zM249.9,317.4h0.85v0.85h-0.85zM257.7,315.5h0.85v0.85h-0.85zM245.6,320.0h0.85v0.85h-0.85zM255.9,306.3h0.85v0.85h-0.85zM263.6,331.6h0.85v0.85h-0.85zM261.1,328.3h0.85v0.85h-0.85zM291.0,318.0h0.85v0.85h-0.85zM256.2,314.7h0.85v0.85h-0.85zM244.1,320.3h0.85v0.85h-0.85zM289.1,317.8h0.85v0.85h-0.85zM295.4,319.5h0.85v0.85h-0.85zM255.7,317.5h0.85v0.85h-0.85zM291.0,310.5h0.85v0.85h-0.85zM275.9,336.4h0.85v0.85h-0.85zM291.8,315.4h0.85v0.85h-0.85zM257.9,314.4h0.85v0.85h-0.85zM247.3,313.3h0.85v0.85h-0.85zM256.9,321.8h0.85v0.85h-0.85zM258.4,319.3h0.85v0.85h-0.85zM251.5,323.7h0.85v0.85h-0.85zM246.0,336.0h0.85v0.85h-0.85zM259.0,323.0h0.85v0.85h-0.85zM252.9,321.4h0.85v0.85h-0.85zM253.9,316.3h0.85v0.85h-0.85zM295.1,319.4h0.85v0.85h-0.85zM290.6,329.3h0.85v0.85h-0.85zM291.6,309.4h0.85v0.85h-0.85zM294.8,321.3h0.85v0.85h-0.85zM292.4,317.6h0.85v0.85h-0.85z" fill="#222" fill-opacity="0.72"/>
<path d="M281.5,334.4L282.2,334.4L282.9,334.3L283.4,334.2L284.0,333.9L284.5,333.7L284.9,333.4L285.4,332.9L285.7,332.6L286.0,332.2L286.3,331.7L286.5,331.2L286.7,330.7L286.9,329.9L287.1,329.4L287.2,328.9L287.3,328.2L287.4,327.4L287.5,326.9L287.5,326.2L287.6,325.4L287.6,324.7L287.7,323.9L287.7,323.2L287.7,322.4L287.7,321.7L287.7,320.9L287.7,320.2L287.7,319.4L287.7,318.7L287.7,317.9L287.7,317.2L287.7,316.4L287.7,315.7L287.6,314.9L287.6,314.2L287.5,313.4L287.4,312.9L287.2,312.2L287.1,311.7L286.9,311.2L286.7,310.7L286.4,310.2L286.1,309.7L285.7,309.3L285.3,308.9L284.9,308.7L284.4,308.4L283.7,308.2L283.2,308.1L282.4,308.0L281.7,308.0L281.2,307.9L280.4,307.9L279.7,307.9L278.9,307.9L278.2,307.9L277.7,308.0L276.9,308.0L276.2,308.1L275.4,308.2L274.9,308.3L274.2,308.4L273.7,308.5L272.9,308.7L272.4,308.8L271.8,308.9L271.2,309.1L270.7,309.3L270.2,309.5L269.6,309.7L269.0,309.9L268.5,310.2L268.0,310.4L267.5,310.7L267.1,310.9L266.7,311.2L266.2,311.5L265.7,311.9L265.3,312.2L264.9,312.5L264.5,312.9L264.2,313.3L263.8,313.7L263.5,314.2L263.2,314.6L262.9,315.0L262.7,315.4L262.4,316.0L262.2,316.6L262.0,317.2L261.9,317.7L261.8,318.4L261.8,319.2L261.8,319.9L261.9,320.7L261.9,321.4L262.0,321.9L262.2,322.7L262.3,323.2L262.5,323.7L262.7,324.3L262.9,324.9L263.2,325.4L263.4,325.9L263.7,326.4L263.9,326.8L264.2,327.2L264.5,327.7L264.9,328.2L265.2,328.5L265.6,328.9L265.9,329.3L266.3,329.7L266.7,330.0L267.2,330.4L267.5,330.7L267.9,331.0L268.4,331.4L268.9,331.7L269.4,331.9L269.9,332.2L270.4,332.4L270.9,332.7L271.4,332.9L271.9,333.1L272.4,333.3L272.9,333.5L273.7,333.7L274.2,333.8L274.7,334.0L275.4,334.1L276.0,334.2L276.7,334.3L277.4,334.4L278.2,334.4L278.7,334.5L279.4,334.5L280.2,334.5L280.9,334.5L281.5,334.4Z" fill="#eaeaea" stroke="none"/>
<path d="M282.2,335.9L282.7,335.9L283.4,335.8L283.9,335.6L284.4,335.4L284.9,335.2L285.4,334.8L285.9,334.4L286.2,334.1L286.5,333.7L286.8,333.2L287.1,332.7L287.3,332.2L287.5,331.7L287.7,330.9L287.8,330.4L287.9,329.8L288.1,329.2L288.2,328.4L288.2,327.9L288.3,327.2L288.4,326.4L288.4,325.7L288.4,324.9L288.5,324.4L288.5,323.7L288.5,322.9L288.5,322.2L288.5,321.4L288.5,320.7L288.5,319.9L288.5,319.2L288.5,318.4L288.5,317.7L288.5,316.9L288.5,316.2L288.5,315.4L288.4,314.9L288.4,314.2L288.3,313.4L288.2,312.7L288.1,312.2L288.0,311.4L287.8,310.9L287.7,310.4L287.4,309.9L287.2,309.4L286.9,308.9L286.4,308.5L286.2,308.2L285.7,307.8L285.2,307.5L284.7,307.3L284.2,307.1L283.4,307.0L282.9,306.9L282.2,306.8L281.4,306.8L280.7,306.8L279.9,306.8L279.2,306.8L278.4,306.8L277.7,306.8L276.9,306.9L276.2,306.9L275.7,307.0L274.9,307.1L274.2,307.2L273.7,307.3L272.9,307.4L272.4,307.5L271.8,307.7L271.2,307.9L270.7,308.0L270.1,308.2L269.4,308.4L268.9,308.6L268.4,308.8L267.9,309.0L267.4,309.2L266.9,309.5L266.4,309.7L265.9,310.0L265.4,310.3L264.9,310.7L264.6,310.9L264.2,311.2L263.7,311.6L263.4,311.9L262.9,312.3L262.6,312.7L262.2,313.2L261.9,313.5L261.6,313.9L261.3,314.4L261.0,314.9L260.8,315.4L260.6,315.9L260.4,316.4L260.2,317.2L260.1,317.7L260.0,318.4L260.0,319.2L260.0,319.9L260.1,320.7L260.1,321.4L260.2,321.9L260.4,322.7L260.5,323.2L260.7,323.9L260.8,324.4L261.0,324.9L261.2,325.4L261.4,326.0L261.7,326.5L262.0,326.9L262.3,327.4L262.6,327.9L262.9,328.4L263.2,328.8L263.5,329.2L263.9,329.7L264.2,330.0L264.6,330.4L264.9,330.7L265.4,331.2L265.7,331.4L266.2,331.8L266.7,332.2L267.1,332.4L267.5,332.7L267.9,333.0L268.4,333.3L268.9,333.6L269.4,333.8L269.9,334.1L270.4,334.3L270.9,334.5L271.6,334.7L272.2,334.9L272.7,335.1L273.2,335.2L273.9,335.4L274.4,335.5L275.2,335.6L275.7,335.7L276.4,335.8L277.2,335.9L277.8,335.9L278.4,336.0L279.2,336.0L279.9,336.0L280.7,336.0L281.4,336.0L282.2,335.9Z" fill="none" stroke="#555" stroke-width="0.7"/>
<path d="M280.2,321.2L280.4,320.9L280.7,320.3L280.8,319.7L280.8,318.9L280.7,318.4L280.4,317.9L279.9,317.6L279.2,317.6L278.7,317.7L278.1,317.9L277.7,318.2L277.3,318.7L277.1,319.2L277.2,319.7L277.4,320.3L277.8,320.7L278.2,321.0L278.7,321.2L279.4,321.4L280.2,321.2ZM280.2,322.2L280.7,321.8L280.9,321.3L281.2,320.7L281.3,320.2L281.3,319.4L281.3,318.7L281.2,318.2L280.9,317.6L280.6,317.2L280.2,316.9L279.4,316.9L278.8,316.9L278.2,317.1L277.7,317.2L277.2,317.5L276.7,317.8L276.4,318.2L276.1,318.7L276.0,319.4L276.2,320.2L276.4,320.7L276.7,321.0L277.1,321.4L277.4,321.7L277.9,322.0L278.6,322.2L279.2,322.3L279.9,322.3ZM280.4,322.9L280.7,322.7L281.1,322.2L281.3,321.7L281.5,321.2L281.7,320.4L281.7,319.9L281.7,319.2L281.7,318.5L281.6,317.9L281.4,317.4L281.1,316.9L280.7,316.6L280.2,316.4L279.4,316.3L278.7,316.4L278.2,316.5L277.4,316.7L276.9,316.9L276.4,317.2L276.0,317.4L275.7,317.8L275.4,318.2L275.2,318.7L275.1,319.4L275.2,319.9L275.4,320.7L275.7,321.1L275.9,321.5L276.4,321.9L276.7,322.2L277.2,322.5L277.7,322.7L278.4,322.9L278.9,323.1L279.7,323.1L280.4,322.9ZM280.2,323.7L280.7,323.4L281.2,323.0L281.4,322.6L281.7,322.0L281.9,321.4L282.0,320.9L282.1,320.2L282.1,319.4L282.1,318.7L282.0,317.9L281.8,317.4L281.6,316.9L281.2,316.4L280.9,316.2L280.4,315.9L279.7,315.8L278.9,315.8L278.2,315.9L277.7,316.1L277.2,316.2L276.6,316.4L276.1,316.7L275.7,316.9L275.2,317.3L274.9,317.7L274.6,318.2L274.4,318.7L274.3,319.4L274.4,320.2L274.6,320.7L274.9,321.2L275.2,321.7L275.4,322.0L275.9,322.4L276.2,322.7L276.7,323.0L277.2,323.3L277.7,323.5L278.4,323.7L278.9,323.7L279.7,323.8L280.2,323.7ZM280.6,324.2L281.0,323.9L281.4,323.5L281.7,323.1L281.9,322.5L282.1,321.9L282.2,321.4L282.4,320.7L282.4,319.9L282.4,319.2L282.4,318.4L282.3,317.7L282.1,317.2L281.9,316.7L281.6,316.2L281.2,315.8L280.7,315.5L280.2,315.4L279.4,315.4L278.7,315.4L278.2,315.5L277.4,315.6L276.9,315.8L276.4,315.9L275.9,316.2L275.4,316.4L274.9,316.8L274.5,317.2L274.2,317.5L273.9,317.9L273.7,318.5L273.6,319.2L273.7,319.9L273.8,320.4L273.9,321.0L274.2,321.5L274.5,321.9L274.9,322.4L275.2,322.7L275.7,323.1L276.2,323.4L276.6,323.7L277.2,323.9L277.7,324.1L278.2,324.2L278.9,324.4L279.7,324.4L280.4,324.3ZM280.2,324.9L280.9,324.7L281.2,324.4L281.7,323.9L281.9,323.5L282.2,322.9L282.4,322.4L282.5,321.9L282.6,321.2L282.7,320.4L282.7,319.9L282.7,319.2L282.7,318.4L282.7,317.9L282.5,317.2L282.3,316.7L282.1,316.2L281.7,315.7L281.4,315.4L280.9,315.2L280.2,315.0L279.7,314.9L278.9,314.9L278.4,315.0L277.7,315.1L277.2,315.2L276.4,315.4L275.9,315.6L275.4,315.8L274.9,316.1L274.5,316.4L274.2,316.7L273.7,317.2L273.4,317.5L273.2,317.9L273.0,318.7L272.9,319.2L272.9,319.8L273.1,320.4L273.2,320.9L273.4,321.5L273.7,321.9L274.1,322.4L274.4,322.9L274.8,323.2L275.2,323.6L275.7,323.9L276.2,324.2L276.7,324.4L277.2,324.6L277.7,324.7L278.4,324.9L278.9,325.0L279.7,325.0L280.2,324.9ZM280.6,325.4L281.1,325.2L281.4,324.9L281.9,324.4L282.2,323.9L282.4,323.4L282.6,322.9L282.7,322.4L282.9,321.7L282.9,321.1L283.0,320.4L283.0,319.7L283.0,318.9L283.0,318.2L282.9,317.7L282.8,316.9L282.6,316.4L282.4,315.9L282.0,315.4L281.7,315.1L281.2,314.8L280.7,314.6L279.9,314.5L279.2,314.5L278.4,314.6L277.7,314.7L277.2,314.8L276.5,314.9L275.9,315.1L275.4,315.3L274.9,315.6L274.4,315.8L273.9,316.2L273.6,316.4L273.2,316.9L272.9,317.2L272.6,317.7L272.4,318.2L272.3,318.9L272.3,319.7L272.4,320.4L272.5,320.9L272.7,321.4L272.9,322.0L273.3,322.4L273.6,322.9L273.9,323.3L274.4,323.7L274.7,324.0L275.2,324.3L275.7,324.6L276.2,324.8L276.7,325.0L277.2,325.2L277.9,325.4L278.4,325.5L279.2,325.6L279.9,325.6L280.6,325.4ZM280.8,325.9L281.3,325.7L281.7,325.4L282.1,324.9L282.4,324.4L282.6,323.9L282.8,323.4L283.0,322.9L283.1,322.2L283.2,321.7L283.3,320.9L283.3,320.2L283.3,319.4L283.3,318.7L283.3,317.9L283.2,317.4L283.1,316.7L282.9,316.2L282.7,315.7L282.3,315.2L281.9,314.8L281.4,314.5L280.9,314.2L280.4,314.1L279.7,314.1L278.9,314.1L278.2,314.2L277.7,314.2L276.9,314.4L276.4,314.5L275.8,314.7L275.2,314.9L274.7,315.1L274.2,315.4L273.7,315.7L273.4,315.9L272.9,316.3L272.6,316.7L272.2,317.2L271.9,317.6L271.7,318.2L271.6,318.7L271.6,319.4L271.7,320.2L271.8,320.7L271.9,321.3L272.2,321.9L272.4,322.4L272.7,322.8L273.0,323.2L273.4,323.7L273.7,323.9L274.2,324.3L274.7,324.7L275.1,324.9L275.6,325.2L276.1,325.4L276.7,325.7L277.2,325.8L277.8,325.9L278.4,326.1L279.2,326.1L279.9,326.1L280.7,326.0ZM279.8,326.7L280.4,326.6L281.1,326.4L281.6,326.2L281.9,325.9L282.3,325.4L282.6,324.9L282.9,324.4L283.1,323.9L283.2,323.4L283.4,322.7L283.5,322.2L283.5,321.4L283.6,320.7L283.6,319.9L283.6,319.2L283.6,318.4L283.6,317.7L283.5,316.9L283.3,316.4L283.2,315.9L282.9,315.4L282.6,314.9L282.2,314.5L281.8,314.2L281.4,313.9L280.7,313.7L280.2,313.7L279.4,313.7L278.7,313.7L278.2,313.7L277.4,313.8L276.8,313.9L276.2,314.1L275.7,314.2L275.1,314.4L274.5,314.7L274.0,314.9L273.6,315.2L273.2,315.4L272.7,315.8L272.3,316.2L271.9,316.5L271.6,316.9L271.3,317.4L271.1,317.9L270.9,318.7L270.9,319.2L270.9,319.9L271.0,320.4L271.2,321.2L271.4,321.7L271.6,322.2L271.9,322.7L272.2,323.2L272.4,323.5L272.8,323.9L273.2,324.3L273.7,324.7L274.0,324.9L274.4,325.3L274.9,325.6L275.4,325.8L275.9,326.0L276.5,326.2L277.2,326.4L277.7,326.5L278.4,326.6L279.2,326.7L279.7,326.7ZM280.6,327.2L281.2,327.0L281.7,326.8L282.1,326.4L282.4,326.1L282.7,325.7L283.0,325.2L283.2,324.7L283.4,324.0L283.6,323.4L283.7,322.8L283.8,322.2L283.9,321.4L283.9,320.7L283.9,319.9L283.9,319.2L283.9,318.4L283.9,317.7L283.8,316.9L283.7,316.4L283.5,315.7L283.3,315.2L283.0,314.7L282.7,314.4L282.3,313.9L281.9,313.7L281.3,313.4L280.7,313.3L279.9,313.2L279.2,313.2L278.4,313.3L277.7,313.4L277.1,313.4L276.4,313.6L275.9,313.7L275.2,313.9L274.7,314.1L274.2,314.3L273.7,314.5L273.2,314.8L272.7,315.1L272.3,315.4L271.9,315.7L271.5,316.2L271.2,316.5L270.9,316.9L270.6,317.4L270.4,317.9L270.3,318.7L270.2,319.4L270.3,320.2L270.4,320.9L270.6,321.4L270.8,321.9L271.0,322.4L271.3,322.9L271.6,323.4L271.9,323.9L272.2,324.2L272.7,324.7L273.0,324.9L273.4,325.3L273.9,325.7L274.4,325.9L274.9,326.2L275.4,326.4L275.9,326.6L276.4,326.8L277.0,326.9L277.7,327.1L278.3,327.2L278.9,327.3L279.7,327.3L280.4,327.2ZM281.1,327.7L281.7,327.5L282.1,327.2L282.4,326.9L282.8,326.4L283.1,325.9L283.4,325.4L283.6,324.9L283.7,324.4L283.9,323.7L284.0,323.2L284.1,322.4L284.2,321.7L284.2,321.2L284.2,320.4L284.2,319.7L284.2,318.9L284.2,318.2L284.2,317.7L284.1,316.9L284.0,316.2L283.9,315.7L283.7,315.2L283.4,314.7L283.1,314.2L282.7,313.7L282.3,313.4L281.9,313.2L281.2,312.9L280.7,312.9L279.9,312.8L279.2,312.8L278.4,312.8L277.7,312.9L277.2,313.0L276.4,313.1L275.9,313.2L275.2,313.4L274.7,313.6L274.2,313.8L273.7,314.0L273.2,314.2L272.7,314.5L272.2,314.8L271.7,315.2L271.4,315.4L270.9,315.9L270.7,316.2L270.3,316.7L270.0,317.2L269.8,317.7L269.7,318.2L269.6,318.9L269.6,319.7L269.6,320.4L269.7,320.9L269.9,321.7L270.1,322.2L270.4,322.7L270.6,323.2L270.9,323.7L271.2,324.0L271.5,324.4L271.9,324.9L272.3,325.2L272.7,325.6L273.2,325.9L273.6,326.2L274.0,326.4L274.5,326.7L275.0,326.9L275.7,327.2L276.2,327.4L276.7,327.5L277.4,327.7L277.9,327.8L278.7,327.8L279.4,327.9L280.2,327.9L280.9,327.7ZM280.5,328.4L281.2,328.3L281.7,328.1L282.2,327.9L282.7,327.5L282.9,327.2L283.3,326.7L283.6,326.2L283.8,325.7L283.9,325.2L284.1,324.4L284.2,323.9L284.4,323.2L284.4,322.4L284.5,321.9L284.5,321.2L284.6,320.4L284.6,319.7L284.6,318.9L284.6,318.2L284.5,317.4L284.4,316.8L284.4,316.2L284.2,315.5L284.0,314.9L283.8,314.4L283.5,313.9L283.2,313.6L282.8,313.2L282.4,312.9L281.9,312.7L281.2,312.5L280.7,312.4L279.9,312.3L279.2,312.4L278.4,312.4L277.7,312.4L277.2,312.5L276.4,312.6L275.9,312.7L275.2,312.9L274.7,313.1L274.2,313.2L273.7,313.4L273.1,313.7L272.6,313.9L272.1,314.2L271.7,314.5L271.2,314.8L270.8,315.2L270.4,315.5L270.1,315.9L269.7,316.4L269.4,316.8L269.2,317.3L269.0,317.9L268.9,318.4L268.8,319.2L268.9,319.9L268.9,320.7L269.1,321.2L269.2,321.7L269.4,322.4L269.7,322.9L269.9,323.4L270.2,323.8L270.5,324.2L270.8,324.7L271.2,325.1L271.6,325.4L271.9,325.8L272.4,326.2L272.8,326.4L273.2,326.7L273.7,327.0L274.2,327.3L274.7,327.5L275.2,327.7L275.9,327.9L276.4,328.1L276.9,328.2L277.7,328.3L278.4,328.4L278.9,328.5L279.7,328.5L280.4,328.5ZM281.4,328.9L281.9,328.8L282.4,328.5L282.8,328.2L283.2,327.8L283.5,327.4L283.8,326.9L284.0,326.4L284.2,325.9L284.4,325.2L284.5,324.7L284.6,323.9L284.7,323.4L284.8,322.7L284.8,321.9L284.9,321.2L284.9,320.4L284.9,319.7L284.9,318.9L284.9,318.2L284.9,317.4L284.8,316.7L284.7,316.0L284.6,315.4L284.4,314.9L284.2,314.3L283.9,313.8L283.7,313.4L283.3,312.9L282.9,312.7L282.4,312.3L281.9,312.1L281.2,312.0L280.7,311.9L279.9,311.9L279.2,311.9L278.4,311.9L277.8,311.9L277.2,312.0L276.4,312.1L275.9,312.2L275.2,312.4L274.7,312.5L274.1,312.7L273.4,312.9L272.9,313.2L272.4,313.4L271.9,313.6L271.4,313.9L271.1,314.2L270.7,314.5L270.2,314.9L269.8,315.2L269.4,315.6L269.2,315.9L268.8,316.4L268.6,316.9L268.4,317.4L268.2,318.0L268.1,318.7L268.1,319.4L268.1,320.2L268.2,320.8L268.3,321.4L268.5,321.9L268.7,322.6L268.9,323.1L269.2,323.6L269.4,324.0L269.7,324.4L270.1,324.9L270.4,325.4L270.8,325.7L271.2,326.1L271.6,326.4L271.9,326.7L272.4,327.1L272.9,327.4L273.4,327.7L273.9,327.9L274.4,328.1L274.9,328.3L275.4,328.5L276.1,328.7L276.7,328.8L277.3,328.9L277.9,329.0L278.7,329.1L279.4,329.1L280.2,329.1L280.9,329.1ZM281.4,329.7L281.9,329.5L282.4,329.3L282.9,329.0L283.3,328.7L283.7,328.2L283.9,327.8L284.2,327.3L284.4,326.7L284.6,326.2L284.8,325.7L284.9,324.9L285.0,324.4L285.1,323.7L285.2,322.9L285.2,322.4L285.2,321.7L285.3,320.9L285.3,320.2L285.3,319.4L285.3,318.7L285.3,317.9L285.2,317.2L285.2,316.7L285.1,315.9L285.0,315.2L284.8,314.7L284.7,314.2L284.4,313.6L284.2,313.2L283.8,312.7L283.4,312.3L282.9,312.0L282.4,311.7L281.9,311.6L281.4,311.4L280.7,311.4L279.9,311.3L279.2,311.3L278.4,311.4L277.7,311.4L277.2,311.5L276.4,311.6L275.8,311.7L275.2,311.8L274.7,312.0L273.9,312.2L273.4,312.3L272.9,312.5L272.4,312.7L271.9,313.0L271.4,313.2L270.9,313.5L270.4,313.8L269.9,314.2L269.6,314.4L269.2,314.9L268.9,315.2L268.4,315.7L268.2,316.1L267.9,316.5L267.7,317.0L267.4,317.6L267.3,318.2L267.2,318.9L267.2,319.7L267.3,320.4L267.4,321.2L267.5,321.7L267.7,322.2L267.9,322.9L268.2,323.4L268.4,323.9L268.7,324.4L268.9,324.7L269.3,325.2L269.7,325.7L269.9,326.0L270.4,326.4L270.7,326.7L271.2,327.1L271.7,327.4L272.0,327.7L272.4,328.0L272.9,328.2L273.4,328.5L273.9,328.7L274.5,328.9L275.2,329.2L275.7,329.3L276.2,329.5L276.9,329.6L277.5,329.7L278.2,329.8L278.9,329.8L279.7,329.8L280.4,329.8L281.2,329.7ZM281.7,330.4L282.4,330.2L282.9,329.9L283.3,329.7L283.7,329.3L284.0,328.9L284.3,328.4L284.6,327.9L284.8,327.4L285.0,326.9L285.2,326.2L285.3,325.7L285.4,324.9L285.5,324.4L285.5,323.7L285.6,322.9L285.6,322.2L285.7,321.4L285.7,320.7L285.7,319.9L285.7,319.2L285.7,318.4L285.7,317.7L285.6,316.9L285.6,316.2L285.5,315.4L285.4,314.9L285.2,314.2L285.1,313.7L284.8,313.2L284.6,312.7L284.2,312.2L283.9,311.9L283.4,311.5L282.9,311.3L282.4,311.1L281.9,310.9L281.2,310.8L280.4,310.8L279.7,310.8L278.9,310.8L278.2,310.8L277.4,310.9L276.8,310.9L276.2,311.0L275.4,311.2L274.9,311.3L274.2,311.4L273.7,311.6L273.2,311.8L272.7,311.9L272.0,312.2L271.5,312.4L271.0,312.7L270.5,312.9L270.1,313.2L269.7,313.5L269.2,313.8L268.8,314.2L268.4,314.5L268.0,314.9L267.7,315.3L267.4,315.7L267.1,316.2L266.9,316.7L266.7,317.2L266.4,317.9L266.4,318.4L266.3,319.2L266.3,319.9L266.4,320.7L266.5,321.2L266.7,321.9L266.8,322.4L267.0,322.9L267.2,323.4L267.4,324.0L267.7,324.4L268.0,324.9L268.4,325.4L268.7,325.9L269.0,326.2L269.4,326.7L269.7,327.0L270.2,327.4L270.6,327.7L270.9,328.0L271.4,328.3L271.9,328.6L272.4,328.9L272.9,329.2L273.4,329.4L273.9,329.6L274.4,329.8L275.0,329.9L275.7,330.1L276.2,330.3L276.9,330.4L277.4,330.5L278.2,330.6L278.9,330.6L279.7,330.6L280.4,330.6L281.2,330.5L281.7,330.4ZM281.2,331.4L281.9,331.3L282.4,331.2L283.0,330.9L283.5,330.7L283.9,330.3L284.3,329.9L284.6,329.4L284.9,328.9L285.1,328.4L285.3,327.9L285.5,327.4L285.7,326.7L285.8,326.2L285.9,325.4L285.9,324.7L286.0,324.2L286.1,323.4L286.1,322.7L286.1,321.9L286.1,321.2L286.1,320.4L286.1,319.7L286.1,318.9L286.1,318.2L286.1,317.4L286.1,316.7L286.0,315.9L286.0,315.2L285.9,314.7L285.7,313.9L285.6,313.4L285.4,312.9L285.2,312.4L284.9,311.9L284.5,311.4L284.2,311.2L283.7,310.8L283.2,310.6L282.7,310.4L281.9,310.2L281.4,310.2L280.7,310.1L279.9,310.1L279.2,310.1L278.4,310.1L277.7,310.2L277.2,310.2L276.4,310.3L275.7,310.4L275.2,310.5L274.4,310.7L273.9,310.8L273.4,310.9L272.7,311.2L272.2,311.3L271.7,311.5L271.2,311.7L270.7,312.0L270.2,312.2L269.7,312.5L269.2,312.8L268.7,313.2L268.3,313.4L267.9,313.8L267.5,314.2L267.2,314.5L266.8,314.9L266.5,315.4L266.2,315.9L265.9,316.3L265.7,316.9L265.5,317.4L265.4,317.9L265.3,318.7L265.3,319.4L265.3,320.2L265.4,320.9L265.5,321.4L265.7,322.2L265.8,322.7L266.0,323.2L266.2,323.7L266.4,324.3L266.7,324.7L267.0,325.2L267.3,325.7L267.7,326.2L267.9,326.5L268.3,326.9L268.7,327.4L269.1,327.7L269.4,328.0L269.9,328.4L270.3,328.7L270.7,329.0L271.2,329.3L271.7,329.6L272.2,329.8L272.7,330.1L273.2,330.3L273.7,330.5L274.3,330.7L274.9,330.9L275.4,331.0L276.2,331.2L276.7,331.3L277.4,331.4L278.2,331.4L278.7,331.5L279.4,331.5L280.2,331.5L280.9,331.5ZM281.9,332.4L282.4,332.3L282.9,332.2L283.5,331.9L283.9,331.7L284.4,331.3L284.8,330.9L285.1,330.4L285.4,329.9L285.6,329.4L285.8,328.9L286.0,328.4L286.2,327.7L286.3,327.2L286.4,326.4L286.4,325.9L286.5,325.2L286.6,324.4L286.6,323.7L286.7,322.9L286.7,322.2L286.7,321.4L286.7,320.7L286.7,319.9L286.7,319.2L286.7,318.4L286.7,317.7L286.7,316.9L286.6,316.2L286.6,315.4L286.5,314.7L286.4,314.2L286.3,313.4L286.2,312.9L285.9,312.3L285.7,311.7L285.4,311.3L285.2,310.9L284.7,310.5L284.3,310.2L283.9,309.9L283.3,309.7L282.7,309.6L282.1,309.4L281.4,309.4L280.7,309.3L279.9,309.3L279.2,309.3L278.4,309.4L277.7,309.4L277.1,309.4L276.4,309.5L275.7,309.6L275.2,309.7L274.4,309.8L273.9,310.0L273.2,310.1L272.7,310.3L272.2,310.4L271.4,310.7L270.9,310.9L270.4,311.1L269.9,311.3L269.4,311.6L268.9,311.9L268.4,312.2L268.0,312.4L267.7,312.7L267.2,313.1L266.8,313.4L266.4,313.8L266.0,314.2L265.7,314.6L265.4,314.9L265.1,315.4L264.8,315.9L264.6,316.4L264.4,316.9L264.2,317.7L264.1,318.2L264.0,318.9L264.1,319.7L264.1,320.4L264.2,321.2L264.3,321.7L264.4,322.4L264.6,322.9L264.8,323.4L265.0,323.9L265.2,324.5L265.4,325.0L265.7,325.4L266.0,325.9L266.4,326.4L266.7,326.9L266.9,327.2L267.4,327.7L267.7,328.0L268.1,328.4L268.4,328.7L268.9,329.1L269.4,329.4L269.7,329.7L270.2,330.0L270.7,330.3L271.2,330.6L271.7,330.8L272.2,331.1L272.7,331.3L273.2,331.5L273.9,331.7L274.4,331.9L274.9,332.0L275.7,332.2L276.2,332.3L276.9,332.4L277.5,332.4L278.2,332.5L278.9,332.6L279.7,332.6L280.4,332.6L281.2,332.5L281.9,332.4ZM282.8,333.7L283.4,333.5L283.9,333.3L284.4,333.1L284.9,332.7L285.2,332.4L285.6,331.9L285.9,331.4L286.2,330.9L286.4,330.4L286.6,329.9L286.7,329.4L286.9,328.7L287.0,328.2L287.1,327.4L287.2,326.7L287.2,326.2L287.3,325.4L287.3,324.7L287.4,323.9L287.4,323.2L287.4,322.4L287.4,321.7L287.4,320.9L287.4,320.2L287.4,319.4L287.4,318.7L287.4,317.9L287.4,317.2L287.4,316.4L287.4,315.7L287.3,314.9L287.2,314.2L287.2,313.7L287.1,312.9L286.9,312.4L286.7,311.7L286.5,311.2L286.3,310.7L286.0,310.2L285.7,309.9L285.2,309.4L284.9,309.2L284.4,308.9L283.8,308.7L283.2,308.6L282.5,308.4L281.9,308.4L281.2,308.3L280.4,308.3L279.7,308.3L278.9,308.3L278.2,308.4L277.4,308.4L276.9,308.4L276.2,308.5L275.4,308.6L274.9,308.7L274.2,308.8L273.6,308.9L272.9,309.1L272.4,309.2L271.7,309.4L271.2,309.6L270.7,309.8L270.2,310.0L269.6,310.2L269.1,310.4L268.6,310.7L268.1,310.9L267.7,311.2L267.2,311.5L266.7,311.8L266.2,312.2L265.9,312.4L265.4,312.8L265.1,313.2L264.7,313.6L264.4,313.9L264.0,314.4L263.7,314.9L263.4,315.3L263.2,315.8L262.9,316.4L262.8,316.9L262.6,317.4L262.5,318.2L262.5,318.9L262.5,319.7L262.5,320.4L262.6,321.2L262.7,321.9L262.8,322.4L262.9,323.0L263.2,323.7L263.4,324.2L263.6,324.7L263.8,325.2L264.0,325.7L264.3,326.2L264.6,326.7L264.9,327.2L265.2,327.5L265.6,327.9L265.9,328.4L266.2,328.7L266.7,329.2L267.0,329.4L267.4,329.9L267.9,330.2L268.2,330.4L268.7,330.8L269.2,331.1L269.7,331.4L270.2,331.7L270.7,331.9L271.2,332.2L271.7,332.4L272.2,332.6L272.7,332.8L273.2,333.0L273.9,333.2L274.4,333.3L275.0,333.4L275.7,333.6L276.4,333.7L276.9,333.8L277.7,333.8L278.4,333.9L279.2,333.9L279.9,333.9L280.7,333.9L281.4,333.9L282.2,333.8L282.8,333.7Z" fill="none" stroke="#333" stroke-width="0.42"/>
<path d="M279.8,320.7L280.2,320.4L280.4,319.7L280.5,319.2L280.4,318.7L280.1,318.2L279.4,318.1L278.9,318.2L278.4,318.4L278.0,318.9L277.9,319.4L278.1,319.9L278.4,320.3L278.9,320.6L279.4,320.7Z" fill="#fff" stroke="none"/>
<line x1="240.60" y1="243.40" x2="240.60" y2="361.60" stroke="#222" stroke-width="1.3" />
<line x1="240.00" y1="361.00" x2="361.80" y2="361.00" stroke="#222" stroke-width="1.3" />
<line x1="289.70" y1="243.90" x2="289.70" y2="361.00" stroke="#1a1a1a" stroke-width="1.3" />
<line x1="240.60" y1="340.40" x2="361.30" y2="340.40" stroke="#1a1a1a" stroke-width="1.3" />
<text x="353.10" y="259.60" font-size="8.3" text-anchor="end" fill="#2a2a2a" textLength="18.05" lengthAdjust="spacingAndGlyphs" >2.7%</text>
<text y="374.30" font-size="9" fill="#2a2a2a" stroke="#2a2a2a" stroke-width="0.15"><tspan x="235.35" textLength="7.9" lengthAdjust="spacingAndGlyphs">10</tspan><tspan x="243.55" y="371.10" font-size="5.7">0</tspan></text>
<text y="362.80" font-size="9" fill="#2a2a2a" stroke="#2a2a2a" stroke-width="0.15"><tspan x="222.90" textLength="7.9" lengthAdjust="spacingAndGlyphs">10</tspan><tspan x="231.10" y="359.60" font-size="5.7">0</tspan></text>
<text y="374.30" font-size="9" fill="#2a2a2a" stroke="#2a2a2a" stroke-width="0.15"><tspan x="264.75" textLength="7.9" lengthAdjust="spacingAndGlyphs">10</tspan><tspan x="272.95" y="371.10" font-size="5.7">1</tspan></text>
<text y="334.00" font-size="9" fill="#2a2a2a" stroke="#2a2a2a" stroke-width="0.15"><tspan x="222.90" textLength="7.9" lengthAdjust="spacingAndGlyphs">10</tspan><tspan x="231.10" y="330.80" font-size="5.7">1</tspan></text>
<text y="374.30" font-size="9" fill="#2a2a2a" stroke="#2a2a2a" stroke-width="0.15"><tspan x="294.15" textLength="7.9" lengthAdjust="spacingAndGlyphs">10</tspan><tspan x="302.35" y="371.10" font-size="5.7">2</tspan></text>
<text y="305.20" font-size="9" fill="#2a2a2a" stroke="#2a2a2a" stroke-width="0.15"><tspan x="222.90" textLength="7.9" lengthAdjust="spacingAndGlyphs">10</tspan><tspan x="231.10" y="302.00" font-size="5.7">2</tspan></text>
<text y="374.30" font-size="9" fill="#2a2a2a" stroke="#2a2a2a" stroke-width="0.15"><tspan x="323.55" textLength="7.9" lengthAdjust="spacingAndGlyphs">10</tspan><tspan x="331.75" y="371.10" font-size="5.7">3</tspan></text>
<text y="276.40" font-size="9" fill="#2a2a2a" stroke="#2a2a2a" stroke-width="0.15"><tspan x="222.90" textLength="7.9" lengthAdjust="spacingAndGlyphs">10</tspan><tspan x="231.10" y="273.20" font-size="5.7">3</tspan></text>
<text y="374.30" font-size="9" fill="#2a2a2a" stroke="#2a2a2a" stroke-width="0.15"><tspan x="352.95" textLength="7.9" lengthAdjust="spacingAndGlyphs">10</tspan><tspan x="361.15" y="371.10" font-size="5.7">4</tspan></text>
<text y="247.60" font-size="9" fill="#2a2a2a" stroke="#2a2a2a" stroke-width="0.15"><tspan x="222.90" textLength="7.9" lengthAdjust="spacingAndGlyphs">10</tspan><tspan x="231.10" y="244.40" font-size="5.7">4</tspan></text>
<path d="M386.30,243.60 H506.40 V360.50" fill="none" stroke="#707070" stroke-width="1.1"/>
<line x1="395.34" y1="360.50" x2="395.34" y2="362.20" stroke="#444" stroke-width="0.7" />
<line x1="384.60" y1="351.70" x2="386.30" y2="351.70" stroke="#444" stroke-width="0.7" />
<line x1="400.63" y1="360.50" x2="400.63" y2="362.20" stroke="#444" stroke-width="0.7" />
<line x1="384.60" y1="346.56" x2="386.30" y2="346.56" stroke="#444" stroke-width="0.7" />
<line x1="404.38" y1="360.50" x2="404.38" y2="362.20" stroke="#444" stroke-width="0.7" />
<line x1="384.60" y1="342.90" x2="386.30" y2="342.90" stroke="#444" stroke-width="0.7" />
<line x1="407.29" y1="360.50" x2="407.29" y2="362.20" stroke="#444" stroke-width="0.7" />
<line x1="384.60" y1="340.07" x2="386.30" y2="340.07" stroke="#444" stroke-width="0.7" />
<line x1="409.66" y1="360.50" x2="409.66" y2="362.20" stroke="#444" stroke-width="0.7" />
<line x1="384.60" y1="337.76" x2="386.30" y2="337.76" stroke="#444" stroke-width="0.7" />
<line x1="411.67" y1="360.50" x2="411.67" y2="362.20" stroke="#444" stroke-width="0.7" />
<line x1="384.60" y1="335.80" x2="386.30" y2="335.80" stroke="#444" stroke-width="0.7" />
<line x1="413.42" y1="360.50" x2="413.42" y2="362.20" stroke="#444" stroke-width="0.7" />
<line x1="384.60" y1="334.11" x2="386.30" y2="334.11" stroke="#444" stroke-width="0.7" />
<line x1="414.95" y1="360.50" x2="414.95" y2="362.20" stroke="#444" stroke-width="0.7" />
<line x1="384.60" y1="332.61" x2="386.30" y2="332.61" stroke="#444" stroke-width="0.7" />
<line x1="425.36" y1="360.50" x2="425.36" y2="362.20" stroke="#444" stroke-width="0.7" />
<line x1="384.60" y1="322.48" x2="386.30" y2="322.48" stroke="#444" stroke-width="0.7" />
<line x1="430.65" y1="360.50" x2="430.65" y2="362.20" stroke="#444" stroke-width="0.7" />
<line x1="384.60" y1="317.33" x2="386.30" y2="317.33" stroke="#444" stroke-width="0.7" />
<line x1="434.40" y1="360.50" x2="434.40" y2="362.20" stroke="#444" stroke-width="0.7" />
<line x1="384.60" y1="313.68" x2="386.30" y2="313.68" stroke="#444" stroke-width="0.7" />
<line x1="437.31" y1="360.50" x2="437.31" y2="362.20" stroke="#444" stroke-width="0.7" />
<line x1="384.60" y1="310.85" x2="386.30" y2="310.85" stroke="#444" stroke-width="0.7" />
<line x1="439.69" y1="360.50" x2="439.69" y2="362.20" stroke="#444" stroke-width="0.7" />
<line x1="384.60" y1="308.53" x2="386.30" y2="308.53" stroke="#444" stroke-width="0.7" />
<line x1="441.70" y1="360.50" x2="441.70" y2="362.20" stroke="#444" stroke-width="0.7" />
<line x1="384.60" y1="306.58" x2="386.30" y2="306.58" stroke="#444" stroke-width="0.7" />
<line x1="443.44" y1="360.50" x2="443.44" y2="362.20" stroke="#444" stroke-width="0.7" />
<line x1="384.60" y1="304.88" x2="386.30" y2="304.88" stroke="#444" stroke-width="0.7" />
<line x1="444.98" y1="360.50" x2="444.98" y2="362.20" stroke="#444" stroke-width="0.7" />
<line x1="384.60" y1="303.39" x2="386.30" y2="303.39" stroke="#444" stroke-width="0.7" />
<line x1="455.39" y1="360.50" x2="455.39" y2="362.20" stroke="#444" stroke-width="0.7" />
<line x1="384.60" y1="293.25" x2="386.30" y2="293.25" stroke="#444" stroke-width="0.7" />
<line x1="460.68" y1="360.50" x2="460.68" y2="362.20" stroke="#444" stroke-width="0.7" />
<line x1="384.60" y1="288.11" x2="386.30" y2="288.11" stroke="#444" stroke-width="0.7" />
<line x1="464.43" y1="360.50" x2="464.43" y2="362.20" stroke="#444" stroke-width="0.7" />
<line x1="384.60" y1="284.45" x2="386.30" y2="284.45" stroke="#444" stroke-width="0.7" />
<line x1="467.34" y1="360.50" x2="467.34" y2="362.20" stroke="#444" stroke-width="0.7" />
<line x1="384.60" y1="281.62" x2="386.30" y2="281.62" stroke="#444" stroke-width="0.7" />
<line x1="469.71" y1="360.50" x2="469.71" y2="362.20" stroke="#444" stroke-width="0.7" />
<line x1="384.60" y1="279.31" x2="386.30" y2="279.31" stroke="#444" stroke-width="0.7" />
<line x1="471.72" y1="360.50" x2="471.72" y2="362.20" stroke="#444" stroke-width="0.7" />
<line x1="384.60" y1="277.35" x2="386.30" y2="277.35" stroke="#444" stroke-width="0.7" />
<line x1="473.47" y1="360.50" x2="473.47" y2="362.20" stroke="#444" stroke-width="0.7" />
<line x1="384.60" y1="275.66" x2="386.30" y2="275.66" stroke="#444" stroke-width="0.7" />
<line x1="475.00" y1="360.50" x2="475.00" y2="362.20" stroke="#444" stroke-width="0.7" />
<line x1="384.60" y1="274.16" x2="386.30" y2="274.16" stroke="#444" stroke-width="0.7" />
<line x1="485.41" y1="360.50" x2="485.41" y2="362.20" stroke="#444" stroke-width="0.7" />
<line x1="384.60" y1="264.03" x2="386.30" y2="264.03" stroke="#444" stroke-width="0.7" />
<line x1="490.70" y1="360.50" x2="490.70" y2="362.20" stroke="#444" stroke-width="0.7" />
<line x1="384.60" y1="258.88" x2="386.30" y2="258.88" stroke="#444" stroke-width="0.7" />
<line x1="494.45" y1="360.50" x2="494.45" y2="362.20" stroke="#444" stroke-width="0.7" />
<line x1="384.60" y1="255.23" x2="386.30" y2="255.23" stroke="#444" stroke-width="0.7" />
<line x1="497.36" y1="360.50" x2="497.36" y2="362.20" stroke="#444" stroke-width="0.7" />
<line x1="384.60" y1="252.40" x2="386.30" y2="252.40" stroke="#444" stroke-width="0.7" />
<line x1="499.74" y1="360.50" x2="499.74" y2="362.20" stroke="#444" stroke-width="0.7" />
<line x1="384.60" y1="250.08" x2="386.30" y2="250.08" stroke="#444" stroke-width="0.7" />
<line x1="501.75" y1="360.50" x2="501.75" y2="362.20" stroke="#444" stroke-width="0.7" />
<line x1="384.60" y1="248.13" x2="386.30" y2="248.13" stroke="#444" stroke-width="0.7" />
<line x1="503.49" y1="360.50" x2="503.49" y2="362.20" stroke="#444" stroke-width="0.7" />
<line x1="384.60" y1="246.43" x2="386.30" y2="246.43" stroke="#444" stroke-width="0.7" />
<line x1="505.03" y1="360.50" x2="505.03" y2="362.20" stroke="#444" stroke-width="0.7" />
<line x1="384.60" y1="244.94" x2="386.30" y2="244.94" stroke="#444" stroke-width="0.7" />
<line x1="386.30" y1="360.50" x2="386.30" y2="363.30" stroke="#222" stroke-width="1.1" />
<line x1="383.50" y1="360.50" x2="386.30" y2="360.50" stroke="#222" stroke-width="1.1" />
<line x1="416.32" y1="360.50" x2="416.32" y2="363.30" stroke="#222" stroke-width="1.1" />
<line x1="383.50" y1="331.27" x2="386.30" y2="331.27" stroke="#222" stroke-width="1.1" />
<line x1="446.35" y1="360.50" x2="446.35" y2="363.30" stroke="#222" stroke-width="1.1" />
<line x1="383.50" y1="302.05" x2="386.30" y2="302.05" stroke="#222" stroke-width="1.1" />
<line x1="476.38" y1="360.50" x2="476.38" y2="363.30" stroke="#222" stroke-width="1.1" />
<line x1="383.50" y1="272.82" x2="386.30" y2="272.82" stroke="#222" stroke-width="1.1" />
<line x1="506.40" y1="360.50" x2="506.40" y2="363.30" stroke="#222" stroke-width="1.1" />
<line x1="383.50" y1="243.60" x2="386.30" y2="243.60" stroke="#222" stroke-width="1.1" />
<path d="M457.8,316.0h0.85v0.85h-0.85zM455.2,318.4h0.85v0.85h-0.85zM403.3,314.5h0.85v0.85h-0.85zM459.2,314.5h0.85v0.85h-0.85zM465.9,317.1h0.85v0.85h-0.85zM451.6,324.6h0.85v0.85h-0.85zM404.5,317.9h0.85v0.85h-0.85zM454.4,311.3h0.85v0.85h-0.85zM459.9,315.3h0.85v0.85h-0.85zM457.5,317.6h0.85v0.85h-0.85zM403.1,320.6h0.85v0.85h-0.85zM403.8,325.8h0.85v0.85h-0.85zM398.7,307.9h0.85v0.85h-0.85zM397.0,320.5h0.85v0.85h-0.85zM453.7,326.2h0.85v0.85h-0.85zM403.9,316.7h0.85v0.85h-0.85zM441.2,334.1h0.85v0.85h-0.85zM397.7,311.1h0.85v0.85h-0.85zM397.8,312.8h0.85v0.85h-0.85zM446.5,304.6h0.85v0.85h-0.85zM462.4,316.0h0.85v0.85h-0.85zM457.1,314.3h0.85v0.85h-0.85zM456.0,321.8h0.85v0.85h-0.85zM403.8,314.3h0.85v0.85h-0.85zM456.5,312.0h0.85v0.85h-0.85zM392.0,326.6h0.85v0.85h-0.85zM390.7,315.8h0.85v0.85h-0.85zM402.2,325.7h0.85v0.85h-0.85zM405.0,323.6h0.85v0.85h-0.85zM397.4,327.1h0.85v0.85h-0.85zM457.3,319.5h0.85v0.85h-0.85zM451.7,326.8h0.85v0.85h-0.85zM396.1,321.7h0.85v0.85h-0.85zM460.7,326.0h0.85v0.85h-0.85zM399.8,325.1h0.85v0.85h-0.85zM454.0,318.9h0.85v0.85h-0.85zM404.4,318.7h0.85v0.85h-0.85zM404.1,317.9h0.85v0.85h-0.85zM451.6,311.6h0.85v0.85h-0.85zM446.7,306.2h0.85v0.85h-0.85zM412.1,330.7h0.85v0.85h-0.85zM450.6,329.4h0.85v0.85h-0.85zM455.2,311.7h0.85v0.85h-0.85zM390.6,312.9h0.85v0.85h-0.85zM400.3,319.1h0.85v0.85h-0.85zM444.1,336.7h0.85v0.85h-0.85zM451.2,309.8h0.85v0.85h-0.85zM457.0,315.5h0.85v0.85h-0.85zM454.6,318.3h0.85v0.85h-0.85zM403.7,313.2h0.85v0.85h-0.85zM448.9,308.5h0.85v0.85h-0.85zM461.7,316.2h0.85v0.85h-0.85zM458.1,317.9h0.85v0.85h-0.85zM397.8,318.7h0.85v0.85h-0.85zM455.7,319.9h0.85v0.85h-0.85zM454.4,322.5h0.85v0.85h-0.85zM452.2,313.9h0.85v0.85h-0.85zM454.3,324.7h0.85v0.85h-0.85zM399.6,314.5h0.85v0.85h-0.85zM457.1,317.0h0.85v0.85h-0.85zM456.1,304.7h0.85v0.85h-0.85zM448.7,334.1h0.85v0.85h-0.85zM457.8,317.5h0.85v0.85h-0.85zM454.7,323.2h0.85v0.85h-0.85zM454.0,311.6h0.85v0.85h-0.85zM458.9,326.8h0.85v0.85h-0.85zM408.8,330.3h0.85v0.85h-0.85zM454.2,314.9h0.85v0.85h-0.85zM456.9,314.2h0.85v0.85h-0.85zM398.9,314.0h0.85v0.85h-0.85zM455.8,322.4h0.85v0.85h-0.85zM400.9,314.0h0.85v0.85h-0.85zM464.1,315.4h0.85v0.85h-0.85zM412.1,307.9h0.85v0.85h-0.85zM410.6,307.0h0.85v0.85h-0.85zM398.6,310.1h0.85v0.85h-0.85zM393.2,318.7h0.85v0.85h-0.85zM405.5,323.7h0.85v0.85h-0.85zM393.5,313.4h0.85v0.85h-0.85zM452.3,313.7h0.85v0.85h-0.85zM428.5,334.9h0.85v0.85h-0.85zM392.6,315.1h0.85v0.85h-0.85zM407.7,326.7h0.85v0.85h-0.85zM394.0,311.8h0.85v0.85h-0.85zM452.5,311.9h0.85v0.85h-0.85zM454.7,320.4h0.85v0.85h-0.85zM445.0,335.3h0.85v0.85h-0.85zM400.5,324.1h0.85v0.85h-0.85zM402.9,315.4h0.85v0.85h-0.85zM458.6,321.3h0.85v0.85h-0.85zM401.0,306.7h0.85v0.85h-0.85zM436.7,304.9h0.85v0.85h-0.85zM455.2,318.3h0.85v0.85h-0.85zM451.7,312.3h0.85v0.85h-0.85zM403.9,312.9h0.85v0.85h-0.85zM392.7,314.7h0.85v0.85h-0.85zM465.4,322.1h0.85v0.85h-0.85zM454.3,317.4h0.85v0.85h-0.85zM455.5,317.1h0.85v0.85h-0.85zM402.4,318.2h0.85v0.85h-0.85zM450.5,327.9h0.85v0.85h-0.85zM455.0,311.9h0.85v0.85h-0.85zM402.3,314.8h0.85v0.85h-0.85zM454.8,316.8h0.85v0.85h-0.85zM453.3,312.7h0.85v0.85h-0.85zM452.4,314.6h0.85v0.85h-0.85zM434.1,303.2h0.85v0.85h-0.85zM451.5,309.2h0.85v0.85h-0.85zM404.7,313.0h0.85v0.85h-0.85zM454.1,321.4h0.85v0.85h-0.85zM455.0,316.2h0.85v0.85h-0.85zM397.3,326.9h0.85v0.85h-0.85zM456.2,320.2h0.85v0.85h-0.85zM408.7,330.1h0.85v0.85h-0.85zM462.8,319.5h0.85v0.85h-0.85zM404.1,320.1h0.85v0.85h-0.85zM405.2,325.3h0.85v0.85h-0.85zM391.7,322.4h0.85v0.85h-0.85zM454.3,311.8h0.85v0.85h-0.85zM451.0,330.5h0.85v0.85h-0.85zM458.0,316.7h0.85v0.85h-0.85zM455.0,327.1h0.85v0.85h-0.85zM393.6,313.2h0.85v0.85h-0.85zM454.8,325.4h0.85v0.85h-0.85zM455.3,326.6h0.85v0.85h-0.85zM400.3,323.9h0.85v0.85h-0.85zM401.1,315.2h0.85v0.85h-0.85zM394.2,320.4h0.85v0.85h-0.85zM460.4,315.4h0.85v0.85h-0.85zM453.8,324.0h0.85v0.85h-0.85zM389.9,318.8h0.85v0.85h-0.85zM452.9,319.5h0.85v0.85h-0.85zM454.3,311.7h0.85v0.85h-0.85zM400.4,316.9h0.85v0.85h-0.85zM388.0,320.8h0.85v0.85h-0.85zM452.5,315.1h0.85v0.85h-0.85zM405.0,311.6h0.85v0.85h-0.85zM453.3,322.0h0.85v0.85h-0.85zM403.2,320.0h0.85v0.85h-0.85zM453.1,318.9h0.85v0.85h-0.85zM403.7,323.8h0.85v0.85h-0.85zM454.7,312.0h0.85v0.85h-0.85zM441.2,335.5h0.85v0.85h-0.85zM390.7,319.8h0.85v0.85h-0.85zM390.8,324.2h0.85v0.85h-0.85zM454.2,316.1h0.85v0.85h-0.85zM405.8,322.3h0.85v0.85h-0.85zM457.3,308.6h0.85v0.85h-0.85zM450.4,329.9h0.85v0.85h-0.85zM390.9,314.5h0.85v0.85h-0.85zM452.5,321.9h0.85v0.85h-0.85zM406.3,326.2h0.85v0.85h-0.85zM404.5,321.3h0.85v0.85h-0.85zM396.4,329.2h0.85v0.85h-0.85zM404.3,312.1h0.85v0.85h-0.85zM453.0,309.6h0.85v0.85h-0.85zM454.8,333.3h0.85v0.85h-0.85zM392.5,316.5h0.85v0.85h-0.85zM398.0,315.4h0.85v0.85h-0.85zM461.9,322.3h0.85v0.85h-0.85zM461.3,315.9h0.85v0.85h-0.85zM403.2,317.7h0.85v0.85h-0.85zM459.3,327.3h0.85v0.85h-0.85zM456.3,322.8h0.85v0.85h-0.85zM404.8,327.9h0.85v0.85h-0.85zM402.2,314.1h0.85v0.85h-0.85zM401.1,313.7h0.85v0.85h-0.85zM390.0,317.1h0.85v0.85h-0.85zM454.7,329.1h0.85v0.85h-0.85zM403.8,333.5h0.85v0.85h-0.85zM453.1,320.6h0.85v0.85h-0.85zM403.5,315.7h0.85v0.85h-0.85zM394.9,323.1h0.85v0.85h-0.85zM398.7,312.0h0.85v0.85h-0.85zM399.3,311.9h0.85v0.85h-0.85zM451.0,330.8h0.85v0.85h-0.85zM405.7,326.2h0.85v0.85h-0.85zM456.6,327.6h0.85v0.85h-0.85zM453.0,322.8h0.85v0.85h-0.85zM454.2,321.2h0.85v0.85h-0.85zM398.6,310.0h0.85v0.85h-0.85zM390.0,307.5h0.85v0.85h-0.85zM402.5,326.5h0.85v0.85h-0.85zM456.4,317.4h0.85v0.85h-0.85zM392.0,315.6h0.85v0.85h-0.85zM399.2,324.5h0.85v0.85h-0.85zM454.1,327.4h0.85v0.85h-0.85zM455.0,311.8h0.85v0.85h-0.85zM399.2,312.8h0.85v0.85h-0.85zM415.3,304.1h0.85v0.85h-0.85zM451.2,327.4h0.85v0.85h-0.85zM453.5,319.4h0.85v0.85h-0.85zM409.4,329.5h0.85v0.85h-0.85zM421.7,333.2h0.85v0.85h-0.85zM389.5,320.7h0.85v0.85h-0.85zM456.2,304.0h0.85v0.85h-0.85zM388.8,316.5h0.85v0.85h-0.85zM396.2,313.6h0.85v0.85h-0.85zM398.1,331.6h0.85v0.85h-0.85zM402.9,316.8h0.85v0.85h-0.85zM397.7,314.7h0.85v0.85h-0.85zM456.3,314.0h0.85v0.85h-0.85zM400.9,317.3h0.85v0.85h-0.85zM408.1,309.5h0.85v0.85h-0.85zM389.6,316.2h0.85v0.85h-0.85zM451.7,312.4h0.85v0.85h-0.85zM455.9,314.5h0.85v0.85h-0.85zM456.9,304.5h0.85v0.85h-0.85zM456.9,313.3h0.85v0.85h-0.85zM460.6,315.7h0.85v0.85h-0.85zM452.8,312.8h0.85v0.85h-0.85zM395.6,313.4h0.85v0.85h-0.85zM402.3,314.1h0.85v0.85h-0.85zM453.3,318.2h0.85v0.85h-0.85zM456.9,313.9h0.85v0.85h-0.85zM394.6,311.8h0.85v0.85h-0.85zM460.5,312.3h0.85v0.85h-0.85zM455.4,314.9h0.85v0.85h-0.85zM389.8,315.6h0.85v0.85h-0.85zM454.5,325.5h0.85v0.85h-0.85zM402.3,328.4h0.85v0.85h-0.85zM393.2,319.4h0.85v0.85h-0.85zM450.6,309.4h0.85v0.85h-0.85zM408.0,307.7h0.85v0.85h-0.85zM455.7,315.9h0.85v0.85h-0.85zM456.6,319.2h0.85v0.85h-0.85zM394.4,316.4h0.85v0.85h-0.85zM454.5,322.9h0.85v0.85h-0.85zM403.2,317.5h0.85v0.85h-0.85zM453.1,313.3h0.85v0.85h-0.85zM388.8,317.8h0.85v0.85h-0.85zM454.2,319.8h0.85v0.85h-0.85zM458.2,320.7h0.85v0.85h-0.85zM458.7,325.8h0.85v0.85h-0.85zM453.3,321.2h0.85v0.85h-0.85zM454.5,313.3h0.85v0.85h-0.85zM454.2,316.5h0.85v0.85h-0.85zM403.5,309.1h0.85v0.85h-0.85zM459.9,311.5h0.85v0.85h-0.85zM428.3,333.6h0.85v0.85h-0.85zM394.2,333.7h0.85v0.85h-0.85zM453.1,314.8h0.85v0.85h-0.85zM455.6,309.4h0.85v0.85h-0.85zM395.6,330.2h0.85v0.85h-0.85zM454.3,312.8h0.85v0.85h-0.85zM452.0,325.3h0.85v0.85h-0.85zM404.4,321.8h0.85v0.85h-0.85zM414.7,332.5h0.85v0.85h-0.85zM453.5,324.1h0.85v0.85h-0.85zM453.0,315.9h0.85v0.85h-0.85zM464.0,310.4h0.85v0.85h-0.85zM391.7,316.5h0.85v0.85h-0.85zM396.8,311.5h0.85v0.85h-0.85zM456.9,308.6h0.85v0.85h-0.85zM462.9,320.3h0.85v0.85h-0.85zM461.5,317.1h0.85v0.85h-0.85zM402.2,311.8h0.85v0.85h-0.85zM462.2,325.4h0.85v0.85h-0.85zM455.3,312.9h0.85v0.85h-0.85zM392.8,322.4h0.85v0.85h-0.85zM411.4,306.1h0.85v0.85h-0.85zM404.6,317.3h0.85v0.85h-0.85zM453.9,309.5h0.85v0.85h-0.85zM451.7,309.0h0.85v0.85h-0.85zM461.6,316.3h0.85v0.85h-0.85zM396.7,315.4h0.85v0.85h-0.85zM462.8,336.6h0.85v0.85h-0.85zM402.2,324.2h0.85v0.85h-0.85zM454.1,317.6h0.85v0.85h-0.85zM400.5,324.9h0.85v0.85h-0.85zM395.3,319.2h0.85v0.85h-0.85zM456.5,324.5h0.85v0.85h-0.85zM388.4,316.5h0.85v0.85h-0.85zM466.5,314.7h0.85v0.85h-0.85zM454.6,315.6h0.85v0.85h-0.85zM451.5,331.0h0.85v0.85h-0.85zM458.3,319.1h0.85v0.85h-0.85zM399.1,310.6h0.85v0.85h-0.85zM393.2,317.0h0.85v0.85h-0.85zM450.9,309.2h0.85v0.85h-0.85zM404.0,314.9h0.85v0.85h-0.85zM454.9,321.8h0.85v0.85h-0.85zM438.9,333.8h0.85v0.85h-0.85zM453.5,314.8h0.85v0.85h-0.85zM452.1,312.4h0.85v0.85h-0.85zM441.4,338.0h0.85v0.85h-0.85zM394.9,319.0h0.85v0.85h-0.85zM461.9,314.6h0.85v0.85h-0.85zM402.9,319.7h0.85v0.85h-0.85zM401.3,321.9h0.85v0.85h-0.85zM429.2,334.9h0.85v0.85h-0.85zM399.1,316.3h0.85v0.85h-0.85zM453.7,320.4h0.85v0.85h-0.85zM400.9,314.1h0.85v0.85h-0.85zM416.8,332.3h0.85v0.85h-0.85zM458.5,312.6h0.85v0.85h-0.85zM451.0,306.7h0.85v0.85h-0.85zM398.7,316.1h0.85v0.85h-0.85zM401.5,320.1h0.85v0.85h-0.85zM396.9,327.6h0.85v0.85h-0.85zM402.6,316.5h0.85v0.85h-0.85zM453.5,308.4h0.85v0.85h-0.85zM398.2,311.6h0.85v0.85h-0.85zM400.2,313.1h0.85v0.85h-0.85zM396.1,321.0h0.85v0.85h-0.85zM388.0,321.5h0.85v0.85h-0.85zM458.6,318.9h0.85v0.85h-0.85zM391.7,323.2h0.85v0.85h-0.85zM456.6,303.9h0.85v0.85h-0.85zM397.8,311.0h0.85v0.85h-0.85zM457.5,313.1h0.85v0.85h-0.85zM402.3,312.8h0.85v0.85h-0.85zM439.4,334.0h0.85v0.85h-0.85zM403.0,320.1h0.85v0.85h-0.85zM402.9,316.1h0.85v0.85h-0.85zM452.7,314.2h0.85v0.85h-0.85zM396.9,319.2h0.85v0.85h-0.85zM455.5,317.7h0.85v0.85h-0.85zM412.5,332.6h0.85v0.85h-0.85zM459.5,322.6h0.85v0.85h-0.85zM456.2,321.0h0.85v0.85h-0.85zM392.5,315.0h0.85v0.85h-0.85zM455.5,331.7h0.85v0.85h-0.85zM393.3,318.3h0.85v0.85h-0.85zM396.3,318.8h0.85v0.85h-0.85zM402.9,322.9h0.85v0.85h-0.85zM401.9,316.8h0.85v0.85h-0.85zM458.5,314.7h0.85v0.85h-0.85zM453.2,328.9h0.85v0.85h-0.85zM391.2,321.4h0.85v0.85h-0.85zM454.3,308.0h0.85v0.85h-0.85zM452.3,321.4h0.85v0.85h-0.85zM452.2,325.3h0.85v0.85h-0.85zM453.0,321.5h0.85v0.85h-0.85zM415.3,306.3h0.85v0.85h-0.85zM443.4,335.2h0.85v0.85h-0.85zM403.8,313.8h0.85v0.85h-0.85zM389.9,328.2h0.85v0.85h-0.85zM458.1,323.8h0.85v0.85h-0.85zM392.7,316.3h0.85v0.85h-0.85zM450.5,332.1h0.85v0.85h-0.85zM455.7,319.1h0.85v0.85h-0.85zM453.4,319.7h0.85v0.85h-0.85zM452.7,329.5h0.85v0.85h-0.85zM396.4,322.2h0.85v0.85h-0.85zM398.1,316.9h0.85v0.85h-0.85zM452.8,330.3h0.85v0.85h-0.85zM390.1,313.1h0.85v0.85h-0.85zM393.7,313.9h0.85v0.85h-0.85zM452.7,323.3h0.85v0.85h-0.85zM395.2,331.3h0.85v0.85h-0.85zM453.7,312.7h0.85v0.85h-0.85zM399.4,324.5h0.85v0.85h-0.85zM451.7,327.0h0.85v0.85h-0.85zM453.7,317.7h0.85v0.85h-0.85zM398.7,314.0h0.85v0.85h-0.85zM453.9,316.4h0.85v0.85h-0.85zM400.4,317.9h0.85v0.85h-0.85zM396.4,311.4h0.85v0.85h-0.85zM456.2,310.9h0.85v0.85h-0.85zM450.2,309.6h0.85v0.85h-0.85zM391.9,315.0h0.85v0.85h-0.85zM403.5,325.9h0.85v0.85h-0.85zM455.5,318.0h0.85v0.85h-0.85zM403.2,317.7h0.85v0.85h-0.85zM400.4,325.4h0.85v0.85h-0.85zM402.8,320.0h0.85v0.85h-0.85zM392.6,327.8h0.85v0.85h-0.85zM453.6,316.5h0.85v0.85h-0.85zM452.5,321.2h0.85v0.85h-0.85zM453.9,319.3h0.85v0.85h-0.85zM457.7,311.7h0.85v0.85h-0.85zM456.5,315.6h0.85v0.85h-0.85zM453.2,313.3h0.85v0.85h-0.85zM453.5,317.4h0.85v0.85h-0.85zM401.2,316.2h0.85v0.85h-0.85zM458.1,312.0h0.85v0.85h-0.85zM391.7,311.3h0.85v0.85h-0.85zM388.8,306.1h0.85v0.85h-0.85zM453.0,313.0h0.85v0.85h-0.85zM399.7,322.7h0.85v0.85h-0.85zM391.6,321.4h0.85v0.85h-0.85zM397.4,315.6h0.85v0.85h-0.85zM454.8,315.5h0.85v0.85h-0.85zM395.4,319.0h0.85v0.85h-0.85zM403.1,316.5h0.85v0.85h-0.85zM463.5,319.0h0.85v0.85h-0.85zM455.4,313.9h0.85v0.85h-0.85zM393.9,316.2h0.85v0.85h-0.85zM455.3,312.8h0.85v0.85h-0.85zM457.0,326.1h0.85v0.85h-0.85zM452.4,322.3h0.85v0.85h-0.85zM452.6,313.1h0.85v0.85h-0.85zM452.2,322.7h0.85v0.85h-0.85zM396.3,327.1h0.85v0.85h-0.85zM400.0,312.8h0.85v0.85h-0.85zM457.4,316.0h0.85v0.85h-0.85zM450.0,328.8h0.85v0.85h-0.85zM404.8,322.0h0.85v0.85h-0.85zM460.3,308.5h0.85v0.85h-0.85zM400.5,319.5h0.85v0.85h-0.85zM402.8,329.0h0.85v0.85h-0.85zM409.2,327.5h0.85v0.85h-0.85zM452.6,325.8h0.85v0.85h-0.85zM400.8,330.8h0.85v0.85h-0.85zM455.9,315.7h0.85v0.85h-0.85zM404.9,330.7h0.85v0.85h-0.85zM430.3,305.3h0.85v0.85h-0.85zM401.7,316.3h0.85v0.85h-0.85zM394.0,328.3h0.85v0.85h-0.85zM452.6,311.8h0.85v0.85h-0.85zM459.2,318.1h0.85v0.85h-0.85zM397.8,325.6h0.85v0.85h-0.85zM439.0,337.2h0.85v0.85h-0.85zM388.2,317.8h0.85v0.85h-0.85zM404.4,328.5h0.85v0.85h-0.85zM453.4,313.4h0.85v0.85h-0.85zM451.4,311.5h0.85v0.85h-0.85zM454.3,318.5h0.85v0.85h-0.85zM400.4,318.4h0.85v0.85h-0.85zM400.4,310.6h0.85v0.85h-0.85zM399.9,325.9h0.85v0.85h-0.85zM452.2,324.6h0.85v0.85h-0.85zM399.8,328.4h0.85v0.85h-0.85zM407.2,309.4h0.85v0.85h-0.85zM397.7,309.1h0.85v0.85h-0.85zM453.9,313.6h0.85v0.85h-0.85zM454.2,321.5h0.85v0.85h-0.85zM452.5,323.5h0.85v0.85h-0.85zM403.5,314.1h0.85v0.85h-0.85zM390.9,313.2h0.85v0.85h-0.85zM404.3,311.8h0.85v0.85h-0.85zM450.9,306.0h0.85v0.85h-0.85zM457.8,322.8h0.85v0.85h-0.85zM395.0,313.2h0.85v0.85h-0.85zM454.2,312.6h0.85v0.85h-0.85zM453.9,315.9h0.85v0.85h-0.85zM397.9,317.0h0.85v0.85h-0.85zM391.0,329.8h0.85v0.85h-0.85zM394.3,315.2h0.85v0.85h-0.85zM396.6,316.3h0.85v0.85h-0.85zM395.3,320.9h0.85v0.85h-0.85zM462.6,314.2h0.85v0.85h-0.85zM461.2,320.7h0.85v0.85h-0.85zM444.7,333.4h0.85v0.85h-0.85zM391.0,320.3h0.85v0.85h-0.85zM452.4,314.7h0.85v0.85h-0.85zM403.3,312.6h0.85v0.85h-0.85zM450.4,328.4h0.85v0.85h-0.85zM389.4,328.3h0.85v0.85h-0.85zM394.8,326.3h0.85v0.85h-0.85zM458.0,324.8h0.85v0.85h-0.85zM398.2,310.7h0.85v0.85h-0.85zM404.5,313.7h0.85v0.85h-0.85zM401.6,312.4h0.85v0.85h-0.85zM388.7,312.4h0.85v0.85h-0.85zM462.7,311.3h0.85v0.85h-0.85zM453.1,314.1h0.85v0.85h-0.85zM398.6,309.0h0.85v0.85h-0.85zM391.9,313.0h0.85v0.85h-0.85zM447.8,335.5h0.85v0.85h-0.85zM454.0,316.3h0.85v0.85h-0.85zM451.8,312.5h0.85v0.85h-0.85zM459.3,314.4h0.85v0.85h-0.85zM442.8,305.8h0.85v0.85h-0.85zM461.0,321.1h0.85v0.85h-0.85zM452.2,312.9h0.85v0.85h-0.85zM401.6,312.1h0.85v0.85h-0.85zM409.8,327.8h0.85v0.85h-0.85zM455.6,314.7h0.85v0.85h-0.85zM403.0,319.6h0.85v0.85h-0.85zM455.2,315.6h0.85v0.85h-0.85zM388.4,322.7h0.85v0.85h-0.85zM399.4,321.4h0.85v0.85h-0.85zM461.1,315.8h0.85v0.85h-0.85zM409.8,329.6h0.85v0.85h-0.85zM449.7,304.9h0.85v0.85h-0.85zM400.3,311.4h0.85v0.85h-0.85zM399.0,320.0h0.85v0.85h-0.85zM451.3,307.5h0.85v0.85h-0.85zM397.0,314.3h0.85v0.85h-0.85zM453.1,317.6h0.85v0.85h-0.85zM401.3,316.2h0.85v0.85h-0.85zM453.3,322.9h0.85v0.85h-0.85zM393.8,312.8h0.85v0.85h-0.85zM453.6,316.4h0.85v0.85h-0.85zM392.8,324.4h0.85v0.85h-0.85zM455.5,312.2h0.85v0.85h-0.85zM455.3,325.1h0.85v0.85h-0.85zM389.8,325.1h0.85v0.85h-0.85zM454.8,322.0h0.85v0.85h-0.85zM454.1,307.8h0.85v0.85h-0.85zM404.6,319.5h0.85v0.85h-0.85zM452.7,325.7h0.85v0.85h-0.85zM454.9,315.1h0.85v0.85h-0.85zM397.0,311.6h0.85v0.85h-0.85zM399.7,314.8h0.85v0.85h-0.85zM399.4,311.4h0.85v0.85h-0.85zM453.0,313.5h0.85v0.85h-0.85zM464.0,318.4h0.85v0.85h-0.85zM396.5,318.6h0.85v0.85h-0.85zM462.9,323.5h0.85v0.85h-0.85zM434.0,335.0h0.85v0.85h-0.85zM452.1,322.6h0.85v0.85h-0.85zM456.0,318.5h0.85v0.85h-0.85zM393.1,314.5h0.85v0.85h-0.85zM401.5,316.8h0.85v0.85h-0.85zM449.4,308.8h0.85v0.85h-0.85zM454.3,318.9h0.85v0.85h-0.85zM453.5,315.6h0.85v0.85h-0.85zM394.5,317.5h0.85v0.85h-0.85zM452.8,320.0h0.85v0.85h-0.85zM401.4,321.5h0.85v0.85h-0.85zM453.0,318.9h0.85v0.85h-0.85zM400.0,323.4h0.85v0.85h-0.85zM402.4,322.6h0.85v0.85h-0.85zM451.7,326.5h0.85v0.85h-0.85zM452.9,314.1h0.85v0.85h-0.85zM397.1,326.5h0.85v0.85h-0.85zM450.4,327.8h0.85v0.85h-0.85z" fill="#222" fill-opacity="0.72"/>
<path d="M441.4,331.9L441.9,331.7L442.4,331.6L443.1,331.4L443.7,331.1L444.2,330.9L444.7,330.6L445.2,330.4L445.6,330.1L445.9,329.8L446.4,329.4L446.8,329.1L447.2,328.7L447.6,328.4L447.9,327.9L448.2,327.6L448.5,327.1L448.8,326.6L449.1,326.1L449.4,325.6L449.6,325.1L449.8,324.6L450.0,324.1L450.2,323.6L450.4,322.9L450.6,322.4L450.7,321.7L450.8,321.1L450.9,320.4L451.0,319.9L451.0,319.1L451.1,318.4L451.1,317.6L451.1,316.9L451.1,316.1L451.0,315.4L450.9,314.9L450.8,314.1L450.6,313.6L450.4,313.1L450.2,312.6L449.9,312.1L449.7,311.6L449.3,311.1L448.9,310.6L448.7,310.3L448.2,309.9L447.9,309.6L447.4,309.2L446.9,308.9L446.5,308.6L446.1,308.4L445.6,308.1L445.0,307.9L444.4,307.6L443.9,307.5L443.4,307.3L442.7,307.1L442.2,307.0L441.4,306.9L440.9,306.9L440.2,306.8L439.4,306.7L438.7,306.7L437.9,306.7L437.2,306.7L436.4,306.7L435.7,306.7L434.9,306.7L434.2,306.7L433.4,306.7L432.7,306.7L431.9,306.7L431.2,306.8L430.4,306.8L429.7,306.8L429.0,306.9L428.4,306.9L427.7,306.9L426.9,307.0L426.2,307.0L425.4,307.1L424.9,307.1L424.2,307.2L423.4,307.3L422.7,307.4L422.2,307.4L421.4,307.5L420.9,307.6L420.2,307.7L419.4,307.8L418.9,307.9L418.2,308.1L417.7,308.2L417.0,308.4L416.4,308.5L415.9,308.6L415.2,308.8L414.7,309.0L414.2,309.2L413.7,309.4L413.1,309.6L412.6,309.9L412.1,310.1L411.6,310.4L411.2,310.6L410.7,310.9L410.2,311.3L409.9,311.6L409.4,312.0L409.2,312.4L408.8,312.9L408.5,313.4L408.3,313.9L408.1,314.4L408.0,315.1L407.9,315.6L407.9,316.4L408.0,316.9L408.1,317.6L408.1,318.4L408.2,318.9L408.4,319.6L408.5,320.1L408.7,320.8L408.9,321.4L409.1,321.9L409.4,322.4L409.6,322.9L409.9,323.4L410.2,323.7L410.5,324.1L410.9,324.6L411.2,325.0L411.5,325.4L411.9,325.7L412.3,326.1L412.7,326.4L413.2,326.8L413.7,327.1L414.0,327.4L414.4,327.6L414.9,327.9L415.4,328.2L415.9,328.4L416.4,328.7L416.9,328.9L417.5,329.1L418.1,329.4L418.7,329.6L419.2,329.7L419.7,329.9L420.4,330.1L420.9,330.3L421.4,330.4L422.2,330.6L422.7,330.7L423.4,330.9L423.9,331.0L424.7,331.1L425.2,331.2L425.9,331.3L426.4,331.4L427.2,331.5L427.9,331.6L428.4,331.6L429.2,331.7L429.9,331.8L430.7,331.8L431.2,331.9L431.9,331.9L432.7,332.0L433.4,332.0L434.2,332.0L434.9,332.0L435.7,332.1L436.4,332.1L437.2,332.1L437.9,332.1L438.7,332.1L439.4,332.1L440.2,332.0L440.9,331.9Z" fill="#eaeaea" stroke="none"/>
<path d="M441.6,333.4L442.2,333.2L442.7,333.1L443.4,332.9L443.9,332.7L444.4,332.5L444.9,332.2L445.4,332.0L445.9,331.7L446.4,331.4L446.8,331.1L447.2,330.8L447.7,330.4L448.0,330.1L448.4,329.6L448.7,329.3L449.1,328.9L449.4,328.4L449.7,328.0L449.9,327.6L450.2,327.1L450.5,326.6L450.7,326.1L451.0,325.6L451.2,325.0L451.4,324.4L451.6,323.9L451.7,323.4L451.9,322.6L452.0,322.1L452.1,321.4L452.2,320.7L452.3,320.1L452.3,319.4L452.4,318.6L452.4,317.9L452.4,317.1L452.4,316.4L452.3,315.6L452.2,314.9L452.2,314.4L452.0,313.6L451.8,313.1L451.6,312.6L451.4,312.1L451.2,311.6L450.9,311.1L450.6,310.6L450.2,310.1L449.9,309.8L449.5,309.4L449.2,309.1L448.7,308.6L448.3,308.4L447.9,308.1L447.4,307.8L446.9,307.5L446.4,307.2L445.9,307.0L445.4,306.8L444.9,306.6L444.2,306.4L443.7,306.2L443.0,306.1L442.4,306.0L441.7,305.9L441.2,305.8L440.4,305.7L439.7,305.7L438.9,305.7L438.2,305.7L437.4,305.7L436.7,305.7L435.9,305.7L435.2,305.7L434.4,305.7L433.7,305.7L432.9,305.7L432.2,305.7L431.4,305.7L430.7,305.7L429.9,305.7L429.2,305.8L428.4,305.8L427.7,305.8L427.2,305.9L426.4,305.9L425.7,305.9L424.9,306.0L424.2,306.0L423.6,306.1L422.9,306.2L422.2,306.2L421.4,306.3L420.9,306.4L420.2,306.5L419.4,306.6L418.9,306.6L418.2,306.8L417.7,306.9L416.9,307.0L416.4,307.1L415.7,307.3L415.2,307.4L414.4,307.6L413.9,307.7L413.4,307.9L412.7,308.1L412.2,308.2L411.7,308.4L411.2,308.6L410.6,308.9L410.0,309.1L409.5,309.4L409.0,309.6L408.6,309.9L408.2,310.1L407.7,310.5L407.2,310.8L406.9,311.1L406.4,311.6L406.2,311.9L405.8,312.4L405.6,312.9L405.3,313.4L405.1,313.9L405.0,314.6L404.9,315.1L404.9,315.9L404.9,316.6L405.0,317.1L405.1,317.9L405.2,318.6L405.2,319.1L405.4,319.9L405.5,320.4L405.7,321.1L405.9,321.6L406.1,322.1L406.3,322.6L406.5,323.1L406.8,323.6L407.1,324.1L407.4,324.6L407.7,324.9L408.0,325.4L408.4,325.8L408.7,326.1L409.2,326.6L409.5,326.9L409.9,327.2L410.4,327.6L410.8,327.9L411.2,328.1L411.7,328.5L412.2,328.8L412.7,329.1L413.2,329.3L413.7,329.6L414.2,329.8L414.7,330.0L415.2,330.3L415.7,330.5L416.2,330.7L416.7,330.9L417.4,331.1L417.9,331.3L418.4,331.4L419.1,331.6L419.7,331.7L420.2,331.9L420.9,332.1L421.4,332.2L422.2,332.3L422.7,332.4L423.4,332.6L423.9,332.6L424.7,332.8L425.4,332.9L425.9,332.9L426.7,333.0L427.4,333.1L427.9,333.2L428.7,333.2L429.4,333.3L430.2,333.3L430.7,333.4L431.4,333.4L432.2,333.5L432.9,333.5L433.7,333.5L434.4,333.5L435.2,333.6L435.9,333.6L436.7,333.6L437.4,333.6L438.2,333.6L438.9,333.6L439.7,333.6L440.4,333.5L441.2,333.4Z" fill="none" stroke="#555" stroke-width="0.7"/>
<path d="M439.0,319.1L439.4,318.7L439.7,318.4L440.0,317.9L440.1,317.1L439.9,316.6L439.6,316.1L439.2,315.9L438.4,315.6L437.7,315.6L436.9,315.7L436.2,315.7L435.7,315.9L434.9,316.1L434.4,316.3L434.0,316.6L433.9,317.1L434.0,317.6L434.4,318.1L434.8,318.4L435.2,318.6L435.8,318.9L436.4,319.0L436.9,319.1L437.7,319.2L438.4,319.3L439.0,319.1ZM439.0,320.1L439.5,319.9L439.9,319.5L440.3,319.1L440.6,318.6L440.7,318.1L440.9,317.4L440.8,316.6L440.5,316.1L440.2,315.7L439.7,315.4L439.2,315.1L438.7,315.0L437.9,315.0L437.2,315.0L436.4,315.0L435.7,315.1L435.2,315.2L434.4,315.3L433.9,315.5L433.4,315.6L432.9,315.9L432.4,316.2L432.1,316.6L432.0,317.4L432.2,317.9L432.6,318.4L432.9,318.7L433.4,319.0L433.9,319.3L434.4,319.5L434.9,319.7L435.5,319.9L436.2,320.0L436.8,320.1L437.4,320.2L438.2,320.2L438.9,320.1ZM439.1,320.9L439.7,320.6L440.1,320.4L440.4,320.0L440.8,319.6L441.1,319.1L441.3,318.6L441.4,317.9L441.5,317.4L441.4,316.6L441.3,316.1L440.9,315.6L440.7,315.4L440.2,315.0L439.7,314.7L439.2,314.6L438.4,314.5L437.7,314.4L436.9,314.5L436.2,314.5L435.4,314.6L434.9,314.6L434.2,314.8L433.7,314.9L432.9,315.0L432.4,315.2L431.9,315.4L431.4,315.7L430.9,316.0L430.7,316.4L430.5,317.1L430.7,317.9L430.9,318.3L431.2,318.6L431.7,319.1L432.1,319.4L432.5,319.6L432.9,319.9L433.5,320.1L434.2,320.3L434.7,320.5L435.2,320.6L435.9,320.7L436.7,320.8L437.2,320.9L437.9,320.9L438.7,320.9ZM439.6,321.4L440.1,321.1L440.5,320.9L440.9,320.4L441.2,320.0L441.5,319.6L441.7,319.1L441.9,318.4L442.0,317.9L442.1,317.1L442.0,316.4L441.8,315.9L441.4,315.4L441.2,315.1L440.7,314.7L440.2,314.4L439.7,314.2L439.2,314.1L438.4,314.0L437.7,314.0L436.9,314.0L436.2,314.0L435.4,314.1L434.9,314.1L434.2,314.2L433.4,314.3L432.9,314.5L432.3,314.6L431.7,314.8L431.2,315.0L430.7,315.2L430.2,315.5L429.7,315.8L429.4,316.1L429.2,316.6L429.2,317.4L429.3,317.9L429.6,318.4L429.9,318.9L430.2,319.1L430.7,319.5L431.1,319.9L431.6,320.1L432.1,320.4L432.6,320.6L433.2,320.8L433.7,321.0L434.2,321.1L434.9,321.3L435.4,321.4L436.2,321.5L436.9,321.5L437.7,321.6L438.4,321.6L439.2,321.5ZM439.3,322.1L439.9,321.9L440.4,321.6L440.8,321.4L441.2,320.9L441.5,320.6L441.8,320.1L442.1,319.6L442.3,319.1L442.4,318.5L442.6,317.9L442.6,317.1L442.5,316.4L442.3,315.9L442.0,315.4L441.7,314.9L441.3,314.6L440.9,314.3L440.4,314.1L439.9,313.9L439.2,313.7L438.7,313.6L437.9,313.6L437.2,313.6L436.4,313.6L435.9,313.6L435.2,313.7L434.4,313.7L433.7,313.8L433.2,313.9L432.4,314.0L431.9,314.1L431.2,314.3L430.7,314.5L430.2,314.7L429.7,314.9L429.2,315.2L428.7,315.5L428.4,315.9L428.0,316.4L427.9,316.9L427.9,317.4L428.2,318.1L428.4,318.6L428.7,319.0L429.1,319.4L429.4,319.7L429.9,320.1L430.4,320.4L430.8,320.6L431.3,320.9L431.9,321.1L432.4,321.3L432.9,321.5L433.5,321.6L434.2,321.8L434.7,321.9L435.4,322.0L436.2,322.1L436.7,322.1L437.4,322.2L438.2,322.2L438.9,322.2ZM439.7,322.6L440.2,322.4L440.7,322.1L441.0,321.9L441.4,321.5L441.8,321.1L442.1,320.6L442.4,320.1L442.6,319.6L442.8,319.1L442.9,318.6L443.1,317.9L443.1,317.1L443.0,316.4L442.9,315.9L442.6,315.4L442.3,314.9L441.9,314.5L441.4,314.1L441.0,313.9L440.5,313.6L439.9,313.4L439.4,313.3L438.7,313.2L437.9,313.2L437.2,313.2L436.4,313.2L435.7,313.2L434.9,313.3L434.2,313.3L433.7,313.4L432.9,313.5L432.2,313.6L431.7,313.7L431.0,313.9L430.4,314.0L429.9,314.2L429.4,314.4L428.8,314.6L428.3,314.9L427.9,315.1L427.4,315.5L427.1,315.9L426.8,316.4L426.7,317.1L426.9,317.9L427.1,318.4L427.4,318.9L427.7,319.3L428.0,319.6L428.4,320.0L428.9,320.4L429.2,320.6L429.7,320.9L430.2,321.1L430.7,321.4L431.3,321.6L431.9,321.8L432.4,322.0L432.9,322.1L433.7,322.3L434.2,322.4L434.9,322.5L435.4,322.6L436.2,322.7L436.9,322.7L437.7,322.8L438.4,322.8L439.2,322.7ZM438.5,323.4L439.2,323.3L439.9,323.1L440.4,322.9L440.9,322.6L441.3,322.4L441.7,322.0L442.1,321.6L442.4,321.1L442.7,320.7L442.9,320.2L443.2,319.6L443.3,319.1L443.4,318.6L443.5,317.9L443.6,317.1L443.5,316.4L443.4,315.9L443.2,315.4L442.8,314.9L442.4,314.4L442.1,314.1L441.7,313.8L441.2,313.5L440.7,313.2L440.2,313.1L439.4,312.9L438.9,312.8L438.2,312.8L437.4,312.8L436.7,312.8L435.9,312.8L435.2,312.8L434.7,312.9L433.9,312.9L433.2,313.0L432.5,313.1L431.9,313.2L431.2,313.3L430.7,313.4L430.0,313.6L429.4,313.7L428.9,313.9L428.4,314.1L427.8,314.4L427.3,314.6L426.9,314.9L426.4,315.2L426.1,315.6L425.8,316.1L425.6,316.6L425.6,317.4L425.8,317.9L425.9,318.4L426.2,318.9L426.5,319.4L426.9,319.8L427.2,320.1L427.7,320.5L428.2,320.9L428.6,321.1L429.0,321.4L429.5,321.6L430.0,321.9L430.7,322.1L431.2,322.3L431.7,322.4L432.3,322.6L432.9,322.8L433.4,322.9L434.2,323.0L434.8,323.1L435.4,323.2L436.2,323.3L436.9,323.3L437.7,323.3L438.2,323.4ZM439.3,323.9L439.9,323.7L440.4,323.5L440.9,323.2L441.4,322.9L441.8,322.6L442.2,322.2L442.5,321.9L442.9,321.4L443.2,320.9L443.4,320.4L443.6,319.9L443.8,319.4L443.9,318.6L444.0,318.1L444.1,317.4L444.0,316.6L443.9,316.1L443.7,315.4L443.4,314.9L443.2,314.6L442.8,314.1L442.4,313.8L441.9,313.4L441.4,313.1L440.9,312.9L440.4,312.7L439.9,312.6L439.2,312.5L438.4,312.4L437.7,312.4L436.9,312.4L436.2,312.4L435.4,312.4L434.7,312.5L433.9,312.5L433.2,312.6L432.7,312.6L431.9,312.7L431.2,312.9L430.7,312.9L429.9,313.1L429.4,313.2L428.9,313.4L428.2,313.6L427.7,313.8L427.2,314.0L426.7,314.2L426.2,314.5L425.7,314.8L425.3,315.1L424.9,315.5L424.7,315.9L424.5,316.6L424.5,317.4L424.7,318.1L424.9,318.6L425.2,319.1L425.4,319.5L425.7,319.9L426.2,320.4L426.5,320.6L426.9,321.0L427.4,321.3L427.9,321.6L428.4,321.9L428.9,322.1L429.4,322.4L429.9,322.5L430.4,322.7L430.9,322.9L431.7,323.1L432.2,323.2L432.8,323.4L433.4,323.5L434.2,323.6L434.7,323.7L435.4,323.8L436.2,323.8L436.7,323.9L437.4,323.9L438.2,323.9L438.9,323.9ZM439.6,324.4L440.2,324.2L440.7,324.0L441.2,323.7L441.7,323.4L442.1,323.1L442.4,322.7L442.8,322.4L443.2,321.9L443.4,321.4L443.7,321.0L443.9,320.4L444.1,319.9L444.3,319.4L444.4,318.6L444.5,318.1L444.5,317.4L444.5,316.6L444.4,316.1L444.2,315.4L444.0,314.9L443.7,314.5L443.4,314.1L442.9,313.6L442.6,313.4L442.2,313.1L441.7,312.8L441.2,312.6L440.6,312.4L439.9,312.2L439.4,312.1L438.7,312.0L437.9,312.0L437.2,312.0L436.4,312.0L435.7,312.0L434.9,312.1L434.2,312.1L433.7,312.1L432.9,312.2L432.2,312.3L431.6,312.4L430.9,312.4L430.2,312.6L429.7,312.7L428.9,312.8L428.4,312.9L427.9,313.1L427.2,313.3L426.7,313.5L426.2,313.7L425.7,313.9L425.2,314.2L424.7,314.6L424.3,314.9L423.9,315.3L423.7,315.6L423.4,316.2L423.4,316.9L423.4,317.6L423.6,318.1L423.7,318.6L424.0,319.1L424.3,319.6L424.7,320.1L424.9,320.4L425.4,320.9L425.7,321.1L426.2,321.5L426.7,321.8L427.2,322.1L427.7,322.3L428.2,322.6L428.7,322.8L429.2,323.0L429.7,323.2L430.3,323.4L430.9,323.5L431.4,323.7L432.2,323.8L432.7,323.9L433.4,324.1L433.9,324.2L434.7,324.3L435.4,324.3L435.9,324.4L436.7,324.4L437.4,324.4L438.2,324.5L438.9,324.4L439.6,324.4ZM440.0,324.9L440.7,324.6L441.2,324.4L441.7,324.1L442.0,323.9L442.4,323.5L442.9,323.1L443.2,322.7L443.5,322.4L443.8,321.9L444.1,321.4L444.3,320.9L444.5,320.4L444.7,319.7L444.8,319.1L444.9,318.4L445.0,317.9L445.0,317.1L445.0,316.4L444.9,315.9L444.7,315.3L444.4,314.8L444.2,314.3L443.8,313.9L443.4,313.5L443.0,313.1L442.7,312.9L442.2,312.6L441.7,312.3L441.2,312.1L440.4,311.9L439.9,311.8L439.2,311.7L438.4,311.6L437.7,311.6L436.9,311.6L436.2,311.6L435.4,311.6L434.7,311.7L433.9,311.7L433.2,311.8L432.4,311.8L431.9,311.9L431.2,312.0L430.4,312.1L429.9,312.1L429.2,312.3L428.7,312.4L427.9,312.5L427.4,312.7L426.8,312.9L426.2,313.1L425.7,313.2L425.2,313.5L424.7,313.7L424.2,314.0L423.7,314.3L423.3,314.6L422.9,315.0L422.7,315.4L422.4,315.9L422.2,316.6L422.3,317.4L422.4,318.1L422.6,318.6L422.8,319.1L423.1,319.6L423.4,320.1L423.7,320.4L424.1,320.9L424.4,321.2L424.9,321.6L425.3,321.9L425.7,322.1L426.2,322.4L426.7,322.7L427.2,322.9L427.7,323.2L428.2,323.4L428.9,323.6L429.4,323.8L429.9,323.9L430.5,324.1L431.2,324.3L431.7,324.4L432.4,324.5L432.9,324.6L433.7,324.7L434.4,324.8L434.9,324.9L435.7,324.9L436.4,325.0L437.2,325.0L437.9,325.0L438.7,325.0L439.4,325.0L440.0,324.9ZM439.0,325.6L439.7,325.5L440.3,325.4L440.9,325.1L441.4,324.9L441.9,324.6L442.3,324.4L442.7,324.0L443.2,323.6L443.4,323.3L443.8,322.9L444.1,322.4L444.4,321.9L444.7,321.4L444.9,320.9L445.1,320.4L445.2,319.8L445.4,319.1L445.4,318.4L445.5,317.9L445.5,317.1L445.5,316.4L445.4,315.9L445.2,315.2L444.9,314.6L444.7,314.2L444.4,313.9L444.0,313.4L443.7,313.1L443.2,312.7L442.7,312.4L442.3,312.1L441.7,311.9L441.2,311.7L440.7,311.5L439.9,311.4L439.4,311.3L438.7,311.2L437.9,311.2L437.2,311.2L436.4,311.2L435.7,311.2L434.9,311.2L434.2,311.3L433.4,311.3L432.9,311.4L432.2,311.4L431.4,311.5L430.7,311.6L430.2,311.6L429.4,311.7L428.8,311.9L428.2,312.0L427.6,312.1L426.9,312.2L426.4,312.4L425.7,312.6L425.2,312.8L424.7,313.0L424.2,313.2L423.7,313.4L423.2,313.7L422.7,314.0L422.3,314.4L421.9,314.6L421.6,315.1L421.3,315.6L421.1,316.1L421.0,316.9L421.1,317.6L421.2,318.1L421.4,318.8L421.7,319.4L421.9,319.8L422.2,320.2L422.5,320.6L422.9,321.1L423.2,321.4L423.7,321.8L424.1,322.1L424.5,322.4L424.9,322.6L425.4,322.9L425.9,323.2L426.4,323.4L426.9,323.6L427.4,323.9L428.1,324.1L428.7,324.3L429.2,324.4L429.8,324.6L430.4,324.8L430.9,324.9L431.7,325.0L432.2,325.1L432.9,325.2L433.7,325.3L434.2,325.4L434.9,325.5L435.7,325.5L436.4,325.6L437.2,325.6L437.7,325.6L438.4,325.6L439.0,325.6ZM439.9,326.1L440.4,326.0L440.9,325.8L441.4,325.6L441.9,325.3L442.4,325.0L442.9,324.6L443.2,324.4L443.7,323.9L443.9,323.6L444.3,323.1L444.7,322.6L444.9,322.1L445.2,321.6L445.4,321.1L445.5,320.6L445.7,320.0L445.9,319.4L445.9,318.7L446.0,318.1L446.0,317.4L446.0,316.6L445.9,316.0L445.8,315.4L445.6,314.9L445.4,314.4L445.1,313.9L444.7,313.4L444.4,313.1L443.9,312.6L443.6,312.4L443.2,312.1L442.7,311.8L442.2,311.6L441.7,311.4L440.9,311.1L440.4,311.0L439.7,310.9L439.2,310.8L438.4,310.8L437.7,310.8L436.9,310.8L436.2,310.8L435.4,310.8L434.7,310.8L434.0,310.9L433.4,310.9L432.7,310.9L431.9,311.0L431.2,311.0L430.7,311.1L429.9,311.2L429.2,311.3L428.7,311.4L427.9,311.5L427.4,311.6L426.7,311.7L426.2,311.9L425.4,312.1L424.9,312.2L424.4,312.4L423.8,312.6L423.2,312.9L422.7,313.1L422.2,313.4L421.8,313.6L421.4,313.9L420.9,314.3L420.6,314.6L420.3,315.1L420.0,315.6L419.9,316.1L419.8,316.9L419.9,317.6L420.0,318.1L420.2,318.8L420.4,319.4L420.7,319.9L420.9,320.3L421.2,320.6L421.6,321.1L421.9,321.5L422.3,321.9L422.7,322.2L423.2,322.6L423.6,322.9L424.0,323.1L424.5,323.4L424.9,323.6L425.4,323.9L426.0,324.1L426.6,324.4L427.2,324.6L427.7,324.7L428.2,324.9L428.9,325.1L429.4,325.2L430.0,325.4L430.7,325.5L431.2,325.6L431.9,325.7L432.7,325.8L433.2,325.9L433.9,326.0L434.7,326.1L435.2,326.1L435.9,326.1L436.7,326.2L437.4,326.2L438.2,326.2L438.9,326.2L439.7,326.1ZM439.0,326.9L439.7,326.8L440.4,326.6L440.9,326.5L441.4,326.3L441.9,326.0L442.4,325.7L442.9,325.4L443.3,325.1L443.7,324.8L444.1,324.4L444.4,324.0L444.7,323.6L445.1,323.1L445.3,322.6L445.6,322.1L445.8,321.6L446.0,321.1L446.2,320.4L446.3,319.9L446.4,319.2L446.5,318.6L446.6,317.9L446.6,317.1L446.6,316.4L446.4,315.7L446.3,315.1L446.1,314.6L445.9,314.1L445.6,313.6L445.2,313.1L444.9,312.8L444.4,312.4L444.1,312.1L443.7,311.8L443.2,311.5L442.7,311.2L442.2,311.0L441.7,310.9L440.9,310.7L440.4,310.5L439.7,310.4L438.9,310.4L438.4,310.3L437.7,310.3L436.9,310.3L436.2,310.3L435.7,310.4L434.9,310.4L434.2,310.4L433.4,310.4L432.7,310.5L431.9,310.5L431.2,310.6L430.7,310.6L429.9,310.7L429.2,310.8L428.6,310.9L427.9,311.0L427.2,311.1L426.7,311.2L425.9,311.3L425.4,311.4L424.8,311.6L424.2,311.8L423.7,311.9L423.2,312.1L422.5,312.4L421.9,312.6L421.4,312.8L421.0,313.1L420.6,313.4L420.2,313.6L419.7,314.1L419.4,314.4L419.0,314.9L418.8,315.4L418.6,315.9L418.5,316.6L418.6,317.4L418.7,318.1L418.8,318.6L419.0,319.1L419.2,319.6L419.4,320.1L419.8,320.6L420.1,321.1L420.4,321.5L420.8,321.9L421.2,322.2L421.6,322.6L421.9,322.9L422.4,323.2L422.9,323.5L423.4,323.8L423.9,324.1L424.4,324.3L424.9,324.6L425.4,324.8L425.9,325.0L426.4,325.1L427.1,325.4L427.7,325.5L428.2,325.7L428.9,325.9L429.4,326.0L430.1,326.1L430.7,326.2L431.4,326.3L431.9,326.4L432.7,326.5L433.4,326.6L433.9,326.7L434.7,326.7L435.4,326.8L436.2,326.8L436.9,326.8L437.5,326.9L438.2,326.9L438.9,326.9ZM440.4,327.4L440.9,327.2L441.4,327.0L441.9,326.8L442.4,326.6L442.9,326.3L443.4,325.9L443.8,325.6L444.2,325.2L444.6,324.9L444.9,324.4L445.2,324.1L445.5,323.6L445.8,323.1L446.1,322.6L446.3,322.1L446.5,321.6L446.7,320.9L446.8,320.4L446.9,319.8L447.1,319.1L447.1,318.4L447.2,317.6L447.2,316.9L447.1,316.1L447.0,315.4L446.8,314.9L446.7,314.4L446.4,313.9L446.1,313.4L445.7,312.9L445.4,312.5L445.0,312.1L444.7,311.8L444.2,311.5L443.7,311.2L443.2,310.9L442.7,310.7L442.2,310.5L441.7,310.3L440.9,310.1L440.4,310.0L439.7,309.9L438.9,309.9L438.2,309.9L437.4,309.9L436.7,309.9L435.9,309.9L435.2,309.9L434.4,309.9L433.7,309.9L432.9,309.9L432.2,310.0L431.4,310.0L430.7,310.1L430.2,310.1L429.4,310.2L428.7,310.3L428.2,310.4L427.4,310.5L426.7,310.6L426.2,310.7L425.4,310.8L424.9,310.9L424.2,311.1L423.7,311.2L423.2,311.4L422.4,311.6L421.9,311.8L421.4,311.9L420.9,312.2L420.4,312.4L419.9,312.7L419.4,313.0L418.9,313.3L418.6,313.6L418.2,314.0L417.9,314.4L417.6,314.9L417.3,315.4L417.2,315.9L417.1,316.6L417.2,317.4L417.3,317.9L417.4,318.6L417.6,319.1L417.7,319.6L418.0,320.1L418.3,320.6L418.6,321.1L418.9,321.6L419.2,321.9L419.6,322.4L419.9,322.6L420.4,323.1L420.8,323.4L421.2,323.6L421.7,324.0L422.2,324.3L422.7,324.5L423.2,324.8L423.7,325.0L424.2,325.2L424.7,325.4L425.2,325.6L425.9,325.9L426.4,326.0L426.9,326.2L427.6,326.4L428.2,326.5L428.7,326.6L429.4,326.8L429.9,326.9L430.7,327.0L431.4,327.1L431.9,327.2L432.7,327.2L433.4,327.3L433.9,327.4L434.7,327.4L435.4,327.5L436.2,327.5L436.9,327.5L437.7,327.5L438.4,327.6L439.2,327.5L439.9,327.4ZM440.6,328.1L441.2,327.9L441.7,327.8L442.2,327.5L442.7,327.3L443.2,327.0L443.7,326.7L444.1,326.4L444.4,326.1L444.9,325.6L445.2,325.3L445.5,324.9L445.9,324.4L446.2,323.9L446.4,323.4L446.7,322.9L446.9,322.4L447.1,321.9L447.3,321.4L447.4,320.7L447.6,320.1L447.7,319.4L447.8,318.9L447.8,318.1L447.8,317.4L447.8,316.6L447.8,315.9L447.7,315.4L447.5,314.6L447.3,314.1L447.0,313.6L446.7,313.1L446.4,312.7L446.2,312.4L445.7,311.9L445.4,311.6L444.9,311.2L444.4,310.9L443.9,310.6L443.4,310.4L442.9,310.2L442.4,310.0L441.9,309.8L441.2,309.6L440.7,309.5L439.9,309.4L439.2,309.4L438.7,309.3L437.9,309.3L437.2,309.3L436.4,309.3L435.7,309.3L434.9,309.3L434.4,309.4L433.7,309.4L432.9,309.4L432.2,309.4L431.4,309.5L430.7,309.5L429.9,309.6L429.4,309.6L428.7,309.7L427.9,309.8L427.3,309.9L426.7,309.9L425.9,310.0L425.4,310.1L424.7,310.3L424.2,310.4L423.4,310.5L422.9,310.7L422.2,310.9L421.7,311.0L421.2,311.2L420.6,311.4L420.0,311.6L419.4,311.8L418.9,312.1L418.5,312.4L418.0,312.6L417.7,312.9L417.2,313.2L416.8,313.6L416.4,314.0L416.2,314.4L415.9,314.9L415.7,315.5L415.6,316.1L415.6,316.9L415.7,317.6L415.8,318.1L415.9,318.9L416.1,319.4L416.3,319.9L416.5,320.4L416.7,320.9L417.1,321.4L417.4,321.9L417.7,322.2L418.1,322.6L418.4,323.0L418.9,323.4L419.2,323.6L419.7,324.0L420.2,324.4L420.6,324.6L421.0,324.9L421.5,325.1L422.0,325.4L422.5,325.6L423.1,325.9L423.7,326.1L424.2,326.3L424.7,326.5L425.2,326.6L425.9,326.8L426.4,327.0L426.9,327.1L427.7,327.3L428.2,327.4L428.9,327.5L429.4,327.6L430.2,327.7L430.9,327.8L431.4,327.9L432.2,328.0L432.9,328.1L433.4,328.1L434.2,328.2L434.9,328.2L435.7,328.3L436.4,328.3L437.2,328.3L437.9,328.3L438.7,328.3L439.4,328.3L440.2,328.2ZM440.0,329.1L440.7,329.0L441.2,328.9L441.9,328.6L442.4,328.4L442.9,328.2L443.4,327.9L443.9,327.6L444.3,327.4L444.7,327.0L445.1,326.6L445.4,326.3L445.8,325.9L446.2,325.4L446.4,325.0L446.7,324.6L447.0,324.1L447.3,323.6L447.5,323.1L447.7,322.6L447.9,321.9L448.1,321.4L448.2,320.9L448.4,320.1L448.4,319.5L448.5,318.9L448.6,318.1L448.6,317.4L448.6,316.6L448.5,315.9L448.4,315.4L448.2,314.6L448.1,314.1L447.9,313.6L447.6,313.1L447.3,312.6L446.9,312.2L446.7,311.9L446.2,311.4L445.9,311.1L445.4,310.7L444.9,310.4L444.4,310.1L443.9,309.9L443.4,309.6L442.9,309.5L442.4,309.3L441.7,309.1L441.2,309.0L440.4,308.9L439.9,308.8L439.2,308.8L438.4,308.7L437.7,308.7L436.9,308.7L436.2,308.7L435.4,308.7L434.7,308.7L433.9,308.8L433.2,308.8L432.4,308.8L431.7,308.8L431.2,308.9L430.4,308.9L429.7,309.0L428.9,309.0L428.2,309.1L427.7,309.1L426.9,309.2L426.2,309.3L425.7,309.4L424.9,309.5L424.2,309.6L423.7,309.7L422.9,309.8L422.4,309.9L421.7,310.1L421.2,310.2L420.7,310.4L420.0,310.6L419.4,310.8L418.9,311.0L418.4,311.2L417.9,311.4L417.4,311.6L416.9,311.9L416.4,312.2L415.9,312.5L415.6,312.9L415.2,313.2L414.8,313.6L414.5,314.1L414.2,314.6L414.0,315.1L413.9,315.6L413.8,316.4L413.9,317.1L413.9,317.8L414.0,318.4L414.2,319.0L414.4,319.6L414.5,320.1L414.8,320.6L415.0,321.1L415.3,321.6L415.6,322.1L415.9,322.5L416.2,322.9L416.7,323.3L417.0,323.6L417.4,324.0L417.9,324.4L418.2,324.6L418.7,325.0L419.2,325.3L419.7,325.6L420.2,325.8L420.7,326.1L421.2,326.3L421.7,326.5L422.2,326.7L422.7,326.9L423.2,327.1L423.9,327.4L424.4,327.5L424.9,327.6L425.7,327.8L426.2,328.0L426.8,328.1L427.4,328.2L428.1,328.4L428.7,328.5L429.4,328.6L429.9,328.6L430.7,328.7L431.4,328.8L431.9,328.9L432.7,329.0L433.4,329.0L434.2,329.1L434.9,329.1L435.4,329.1L436.2,329.1L436.9,329.2L437.7,329.2L438.4,329.2L439.2,329.2L439.9,329.1ZM440.4,330.1L440.9,330.0L441.5,329.9L442.2,329.6L442.7,329.4L443.2,329.2L443.7,329.0L444.2,328.7L444.7,328.4L445.0,328.1L445.4,327.7L445.9,327.4L446.2,327.0L446.6,326.6L446.9,326.1L447.2,325.7L447.5,325.4L447.7,324.9L448.0,324.4L448.2,323.9L448.4,323.3L448.7,322.6L448.9,322.1L449.0,321.6L449.2,320.9L449.2,320.4L449.4,319.6L449.4,318.9L449.5,318.4L449.5,317.6L449.5,316.9L449.4,316.2L449.4,315.6L449.2,314.9L449.1,314.4L448.9,313.9L448.7,313.3L448.4,312.8L448.2,312.4L447.8,311.9L447.4,311.4L447.2,311.1L446.7,310.6L446.3,310.4L445.9,310.1L445.4,309.7L444.9,309.5L444.4,309.2L443.9,309.0L443.4,308.8L442.8,308.6L442.2,308.4L441.7,308.3L440.9,308.2L440.2,308.1L439.7,308.1L438.9,308.0L438.2,308.0L437.4,308.0L436.7,308.0L435.9,308.0L435.2,308.0L434.4,308.0L433.7,308.0L432.9,308.1L432.2,308.1L431.5,308.1L430.9,308.1L430.2,308.2L429.4,308.2L428.7,308.3L427.9,308.3L427.4,308.4L426.7,308.4L425.9,308.5L425.2,308.6L424.7,308.6L423.9,308.7L423.3,308.9L422.7,308.9L421.9,309.1L421.4,309.2L420.7,309.3L420.2,309.5L419.6,309.6L418.9,309.8L418.4,309.9L417.9,310.1L417.2,310.4L416.7,310.6L416.2,310.8L415.7,311.0L415.2,311.3L414.7,311.6L414.3,311.9L413.9,312.1L413.4,312.5L413.1,312.9L412.7,313.3L412.4,313.7L412.2,314.1L411.9,314.8L411.8,315.4L411.7,316.1L411.8,316.9L411.8,317.6L411.9,318.4L412.0,318.9L412.2,319.5L412.4,320.1L412.6,320.6L412.8,321.1L413.0,321.6L413.3,322.1L413.7,322.6L413.9,323.0L414.2,323.4L414.7,323.9L414.9,324.1L415.4,324.6L415.8,324.9L416.2,325.2L416.7,325.5L417.1,325.9L417.5,326.1L418.0,326.4L418.4,326.6L418.9,326.9L419.4,327.1L420.0,327.4L420.6,327.6L421.2,327.8L421.7,328.0L422.2,328.2L422.8,328.4L423.4,328.5L423.9,328.7L424.6,328.9L425.2,329.0L425.8,329.1L426.4,329.2L427.1,329.4L427.7,329.5L428.4,329.6L428.9,329.6L429.7,329.7L430.4,329.8L430.9,329.9L431.7,329.9L432.4,330.0L433.2,330.1L433.9,330.1L434.4,330.1L435.2,330.2L435.9,330.2L436.7,330.2L437.4,330.2L438.2,330.2L438.9,330.2L439.7,330.2L440.4,330.1ZM441.0,331.4L441.7,331.2L442.2,331.1L442.9,330.9L443.4,330.6L443.9,330.4L444.4,330.1L444.9,329.9L445.3,329.6L445.7,329.3L446.2,328.9L446.5,328.6L446.9,328.2L447.3,327.9L447.7,327.4L447.9,327.0L448.2,326.6L448.5,326.1L448.8,325.6L449.1,325.1L449.3,324.6L449.5,324.1L449.7,323.5L449.9,322.9L450.0,322.4L450.2,321.7L450.3,321.1L450.4,320.4L450.5,319.9L450.6,319.1L450.6,318.4L450.6,317.6L450.6,316.9L450.6,316.1L450.5,315.4L450.4,314.9L450.3,314.1L450.1,313.6L449.9,313.1L449.7,312.6L449.4,312.1L449.1,311.6L448.7,311.1L448.4,310.8L448.0,310.4L447.7,310.0L447.2,309.6L446.8,309.4L446.4,309.1L445.9,308.8L445.4,308.5L444.9,308.3L444.4,308.1L443.8,307.9L443.2,307.7L442.7,307.6L441.9,307.4L441.4,307.3L440.7,307.2L439.9,307.2L439.2,307.1L438.7,307.1L437.9,307.1L437.2,307.1L436.4,307.1L435.7,307.1L434.9,307.1L434.2,307.1L433.7,307.1L432.9,307.1L432.2,307.1L431.4,307.1L430.7,307.2L429.9,307.2L429.2,307.2L428.4,307.3L427.7,307.3L427.2,307.4L426.4,307.4L425.7,307.5L424.9,307.5L424.4,307.6L423.7,307.7L422.9,307.8L422.4,307.9L421.7,307.9L420.9,308.1L420.4,308.2L419.7,308.3L419.2,308.4L418.4,308.6L417.9,308.7L417.3,308.9L416.7,309.0L416.2,309.2L415.6,309.4L414.9,309.6L414.4,309.8L413.9,310.0L413.4,310.2L412.9,310.5L412.4,310.8L411.9,311.1L411.6,311.4L411.2,311.6L410.7,312.1L410.4,312.4L410.0,312.9L409.7,313.4L409.5,313.9L409.3,314.4L409.2,314.9L409.1,315.6L409.0,316.4L409.1,317.1L409.2,317.9L409.3,318.4L409.4,319.1L409.5,319.6L409.7,320.3L409.9,320.9L410.1,321.4L410.3,321.9L410.6,322.4L410.8,322.9L411.2,323.4L411.4,323.7L411.7,324.1L412.2,324.6L412.4,324.9L412.9,325.4L413.2,325.6L413.7,326.0L414.1,326.4L414.5,326.6L414.9,326.9L415.4,327.2L415.9,327.5L416.4,327.8L416.9,328.0L417.4,328.3L417.9,328.5L418.4,328.7L418.9,328.9L419.6,329.1L420.2,329.3L420.7,329.5L421.2,329.6L421.9,329.8L422.4,330.0L423.0,330.1L423.7,330.3L424.2,330.4L424.9,330.5L425.5,330.6L426.2,330.7L426.9,330.8L427.4,330.9L428.2,331.0L428.9,331.1L429.4,331.1L430.2,331.2L430.9,331.3L431.7,331.3L432.2,331.4L432.9,331.4L433.7,331.4L434.4,331.5L435.2,331.5L435.9,331.5L436.7,331.5L437.4,331.5L438.2,331.6L438.9,331.6L439.7,331.5L440.4,331.4L441.0,331.4Z" fill="none" stroke="#333" stroke-width="0.42"/>
<path d="M439.0,318.4L439.3,317.9L439.5,317.4L439.4,316.9L439.1,316.4L438.5,316.1L437.9,316.1L437.3,316.1L436.7,316.2L436.0,316.4L435.5,316.6L435.2,317.0L435.2,317.4L435.6,317.9L436.0,318.1L436.6,318.4L437.2,318.5L437.9,318.6L438.7,318.5Z" fill="#fff" stroke="none"/>
<line x1="386.30" y1="243.10" x2="386.30" y2="361.10" stroke="#222" stroke-width="1.3" />
<line x1="385.70" y1="360.50" x2="506.90" y2="360.50" stroke="#222" stroke-width="1.3" />
<line x1="435.10" y1="243.60" x2="435.10" y2="360.50" stroke="#1a1a1a" stroke-width="1.3" />
<line x1="386.30" y1="340.40" x2="506.40" y2="340.40" stroke="#1a1a1a" stroke-width="1.3" />
<text x="498.20" y="259.60" font-size="8.3" text-anchor="end" fill="#2a2a2a" textLength="22.54" lengthAdjust="spacingAndGlyphs" >38.6%</text>
<text y="374.30" font-size="9" fill="#2a2a2a" stroke="#2a2a2a" stroke-width="0.15"><tspan x="383.35" textLength="7.9" lengthAdjust="spacingAndGlyphs">10</tspan><tspan x="391.55" y="371.10" font-size="5.7">0</tspan></text>
<text y="362.80" font-size="9" fill="#2a2a2a" stroke="#2a2a2a" stroke-width="0.15"><tspan x="368.70" textLength="7.9" lengthAdjust="spacingAndGlyphs">10</tspan><tspan x="376.90" y="359.60" font-size="5.7">0</tspan></text>
<text y="374.30" font-size="9" fill="#2a2a2a" stroke="#2a2a2a" stroke-width="0.15"><tspan x="412.25" textLength="7.9" lengthAdjust="spacingAndGlyphs">10</tspan><tspan x="420.45" y="371.10" font-size="5.7">1</tspan></text>
<text y="334.00" font-size="9" fill="#2a2a2a" stroke="#2a2a2a" stroke-width="0.15"><tspan x="368.70" textLength="7.9" lengthAdjust="spacingAndGlyphs">10</tspan><tspan x="376.90" y="330.80" font-size="5.7">1</tspan></text>
<text y="374.30" font-size="9" fill="#2a2a2a" stroke="#2a2a2a" stroke-width="0.15"><tspan x="441.15" textLength="7.9" lengthAdjust="spacingAndGlyphs">10</tspan><tspan x="449.35" y="371.10" font-size="5.7">2</tspan></text>
<text y="305.20" font-size="9" fill="#2a2a2a" stroke="#2a2a2a" stroke-width="0.15"><tspan x="368.70" textLength="7.9" lengthAdjust="spacingAndGlyphs">10</tspan><tspan x="376.90" y="302.00" font-size="5.7">2</tspan></text>
<text y="374.30" font-size="9" fill="#2a2a2a" stroke="#2a2a2a" stroke-width="0.15"><tspan x="470.05" textLength="7.9" lengthAdjust="spacingAndGlyphs">10</tspan><tspan x="478.25" y="371.10" font-size="5.7">3</tspan></text>
<text y="276.40" font-size="9" fill="#2a2a2a" stroke="#2a2a2a" stroke-width="0.15"><tspan x="368.70" textLength="7.9" lengthAdjust="spacingAndGlyphs">10</tspan><tspan x="376.90" y="273.20" font-size="5.7">3</tspan></text>
<text y="374.30" font-size="9" fill="#2a2a2a" stroke="#2a2a2a" stroke-width="0.15"><tspan x="498.95" textLength="7.9" lengthAdjust="spacingAndGlyphs">10</tspan><tspan x="507.15" y="371.10" font-size="5.7">4</tspan></text>
<text y="247.60" font-size="9" fill="#2a2a2a" stroke="#2a2a2a" stroke-width="0.15"><tspan x="368.70" textLength="7.9" lengthAdjust="spacingAndGlyphs">10</tspan><tspan x="376.90" y="244.40" font-size="5.7">4</tspan></text>
<path d="M91.70,382.40 H212.10 V499.20" fill="none" stroke="#707070" stroke-width="1.1"/>
<line x1="100.76" y1="499.20" x2="100.76" y2="500.90" stroke="#444" stroke-width="0.7" />
<line x1="90.00" y1="490.41" x2="91.70" y2="490.41" stroke="#444" stroke-width="0.7" />
<line x1="106.06" y1="499.20" x2="106.06" y2="500.90" stroke="#444" stroke-width="0.7" />
<line x1="90.00" y1="485.27" x2="91.70" y2="485.27" stroke="#444" stroke-width="0.7" />
<line x1="109.82" y1="499.20" x2="109.82" y2="500.90" stroke="#444" stroke-width="0.7" />
<line x1="90.00" y1="481.62" x2="91.70" y2="481.62" stroke="#444" stroke-width="0.7" />
<line x1="112.74" y1="499.20" x2="112.74" y2="500.90" stroke="#444" stroke-width="0.7" />
<line x1="90.00" y1="478.79" x2="91.70" y2="478.79" stroke="#444" stroke-width="0.7" />
<line x1="115.12" y1="499.20" x2="115.12" y2="500.90" stroke="#444" stroke-width="0.7" />
<line x1="90.00" y1="476.48" x2="91.70" y2="476.48" stroke="#444" stroke-width="0.7" />
<line x1="117.14" y1="499.20" x2="117.14" y2="500.90" stroke="#444" stroke-width="0.7" />
<line x1="90.00" y1="474.52" x2="91.70" y2="474.52" stroke="#444" stroke-width="0.7" />
<line x1="118.88" y1="499.20" x2="118.88" y2="500.90" stroke="#444" stroke-width="0.7" />
<line x1="90.00" y1="472.83" x2="91.70" y2="472.83" stroke="#444" stroke-width="0.7" />
<line x1="120.42" y1="499.20" x2="120.42" y2="500.90" stroke="#444" stroke-width="0.7" />
<line x1="90.00" y1="471.34" x2="91.70" y2="471.34" stroke="#444" stroke-width="0.7" />
<line x1="130.86" y1="499.20" x2="130.86" y2="500.90" stroke="#444" stroke-width="0.7" />
<line x1="90.00" y1="461.21" x2="91.70" y2="461.21" stroke="#444" stroke-width="0.7" />
<line x1="136.16" y1="499.20" x2="136.16" y2="500.90" stroke="#444" stroke-width="0.7" />
<line x1="90.00" y1="456.07" x2="91.70" y2="456.07" stroke="#444" stroke-width="0.7" />
<line x1="139.92" y1="499.20" x2="139.92" y2="500.90" stroke="#444" stroke-width="0.7" />
<line x1="90.00" y1="452.42" x2="91.70" y2="452.42" stroke="#444" stroke-width="0.7" />
<line x1="142.84" y1="499.20" x2="142.84" y2="500.90" stroke="#444" stroke-width="0.7" />
<line x1="90.00" y1="449.59" x2="91.70" y2="449.59" stroke="#444" stroke-width="0.7" />
<line x1="145.22" y1="499.20" x2="145.22" y2="500.90" stroke="#444" stroke-width="0.7" />
<line x1="90.00" y1="447.28" x2="91.70" y2="447.28" stroke="#444" stroke-width="0.7" />
<line x1="147.24" y1="499.20" x2="147.24" y2="500.90" stroke="#444" stroke-width="0.7" />
<line x1="90.00" y1="445.32" x2="91.70" y2="445.32" stroke="#444" stroke-width="0.7" />
<line x1="148.98" y1="499.20" x2="148.98" y2="500.90" stroke="#444" stroke-width="0.7" />
<line x1="90.00" y1="443.63" x2="91.70" y2="443.63" stroke="#444" stroke-width="0.7" />
<line x1="150.52" y1="499.20" x2="150.52" y2="500.90" stroke="#444" stroke-width="0.7" />
<line x1="90.00" y1="442.14" x2="91.70" y2="442.14" stroke="#444" stroke-width="0.7" />
<line x1="160.96" y1="499.20" x2="160.96" y2="500.90" stroke="#444" stroke-width="0.7" />
<line x1="90.00" y1="432.01" x2="91.70" y2="432.01" stroke="#444" stroke-width="0.7" />
<line x1="166.26" y1="499.20" x2="166.26" y2="500.90" stroke="#444" stroke-width="0.7" />
<line x1="90.00" y1="426.87" x2="91.70" y2="426.87" stroke="#444" stroke-width="0.7" />
<line x1="170.02" y1="499.20" x2="170.02" y2="500.90" stroke="#444" stroke-width="0.7" />
<line x1="90.00" y1="423.22" x2="91.70" y2="423.22" stroke="#444" stroke-width="0.7" />
<line x1="172.94" y1="499.20" x2="172.94" y2="500.90" stroke="#444" stroke-width="0.7" />
<line x1="90.00" y1="420.39" x2="91.70" y2="420.39" stroke="#444" stroke-width="0.7" />
<line x1="175.32" y1="499.20" x2="175.32" y2="500.90" stroke="#444" stroke-width="0.7" />
<line x1="90.00" y1="418.08" x2="91.70" y2="418.08" stroke="#444" stroke-width="0.7" />
<line x1="177.34" y1="499.20" x2="177.34" y2="500.90" stroke="#444" stroke-width="0.7" />
<line x1="90.00" y1="416.12" x2="91.70" y2="416.12" stroke="#444" stroke-width="0.7" />
<line x1="179.08" y1="499.20" x2="179.08" y2="500.90" stroke="#444" stroke-width="0.7" />
<line x1="90.00" y1="414.43" x2="91.70" y2="414.43" stroke="#444" stroke-width="0.7" />
<line x1="180.62" y1="499.20" x2="180.62" y2="500.90" stroke="#444" stroke-width="0.7" />
<line x1="90.00" y1="412.94" x2="91.70" y2="412.94" stroke="#444" stroke-width="0.7" />
<line x1="191.06" y1="499.20" x2="191.06" y2="500.90" stroke="#444" stroke-width="0.7" />
<line x1="90.00" y1="402.81" x2="91.70" y2="402.81" stroke="#444" stroke-width="0.7" />
<line x1="196.36" y1="499.20" x2="196.36" y2="500.90" stroke="#444" stroke-width="0.7" />
<line x1="90.00" y1="397.67" x2="91.70" y2="397.67" stroke="#444" stroke-width="0.7" />
<line x1="200.12" y1="499.20" x2="200.12" y2="500.90" stroke="#444" stroke-width="0.7" />
<line x1="90.00" y1="394.02" x2="91.70" y2="394.02" stroke="#444" stroke-width="0.7" />
<line x1="203.04" y1="499.20" x2="203.04" y2="500.90" stroke="#444" stroke-width="0.7" />
<line x1="90.00" y1="391.19" x2="91.70" y2="391.19" stroke="#444" stroke-width="0.7" />
<line x1="205.42" y1="499.20" x2="205.42" y2="500.90" stroke="#444" stroke-width="0.7" />
<line x1="90.00" y1="388.88" x2="91.70" y2="388.88" stroke="#444" stroke-width="0.7" />
<line x1="207.44" y1="499.20" x2="207.44" y2="500.90" stroke="#444" stroke-width="0.7" />
<line x1="90.00" y1="386.92" x2="91.70" y2="386.92" stroke="#444" stroke-width="0.7" />
<line x1="209.18" y1="499.20" x2="209.18" y2="500.90" stroke="#444" stroke-width="0.7" />
<line x1="90.00" y1="385.23" x2="91.70" y2="385.23" stroke="#444" stroke-width="0.7" />
<line x1="210.72" y1="499.20" x2="210.72" y2="500.90" stroke="#444" stroke-width="0.7" />
<line x1="90.00" y1="383.74" x2="91.70" y2="383.74" stroke="#444" stroke-width="0.7" />
<line x1="91.70" y1="499.20" x2="91.70" y2="502.00" stroke="#222" stroke-width="1.1" />
<line x1="88.90" y1="499.20" x2="91.70" y2="499.20" stroke="#222" stroke-width="1.1" />
<line x1="121.80" y1="499.20" x2="121.80" y2="502.00" stroke="#222" stroke-width="1.1" />
<line x1="88.90" y1="470.00" x2="91.70" y2="470.00" stroke="#222" stroke-width="1.1" />
<line x1="151.90" y1="499.20" x2="151.90" y2="502.00" stroke="#222" stroke-width="1.1" />
<line x1="88.90" y1="440.80" x2="91.70" y2="440.80" stroke="#222" stroke-width="1.1" />
<line x1="182.00" y1="499.20" x2="182.00" y2="502.00" stroke="#222" stroke-width="1.1" />
<line x1="88.90" y1="411.60" x2="91.70" y2="411.60" stroke="#222" stroke-width="1.1" />
<line x1="212.10" y1="499.20" x2="212.10" y2="502.00" stroke="#222" stroke-width="1.1" />
<line x1="88.90" y1="382.40" x2="91.70" y2="382.40" stroke="#222" stroke-width="1.1" />
<path d="M105.2,449.3h0.85v0.85h-0.85zM103.8,451.8h0.85v0.85h-0.85zM102.8,446.6h0.85v0.85h-0.85zM141.6,448.2h0.85v0.85h-0.85zM104.2,453.3h0.85v0.85h-0.85zM102.0,447.3h0.85v0.85h-0.85zM105.1,451.2h0.85v0.85h-0.85zM106.6,445.1h0.85v0.85h-0.85zM104.0,450.5h0.85v0.85h-0.85zM118.7,439.2h0.85v0.85h-0.85zM114.4,442.3h0.85v0.85h-0.85zM106.5,450.0h0.85v0.85h-0.85zM131.3,440.3h0.85v0.85h-0.85zM109.3,456.9h0.85v0.85h-0.85zM103.2,462.3h0.85v0.85h-0.85zM100.8,452.1h0.85v0.85h-0.85zM97.3,449.4h0.85v0.85h-0.85zM102.8,446.3h0.85v0.85h-0.85zM132.4,465.6h0.85v0.85h-0.85zM94.8,451.5h0.85v0.85h-0.85zM100.6,453.0h0.85v0.85h-0.85zM137.6,459.2h0.85v0.85h-0.85zM107.4,447.7h0.85v0.85h-0.85zM98.2,448.9h0.85v0.85h-0.85zM107.2,448.7h0.85v0.85h-0.85zM96.7,457.1h0.85v0.85h-0.85zM99.2,445.8h0.85v0.85h-0.85zM102.4,446.8h0.85v0.85h-0.85zM106.4,454.5h0.85v0.85h-0.85zM98.5,448.0h0.85v0.85h-0.85zM98.5,450.9h0.85v0.85h-0.85zM101.7,446.1h0.85v0.85h-0.85zM125.5,464.7h0.85v0.85h-0.85zM93.7,450.6h0.85v0.85h-0.85zM138.7,448.0h0.85v0.85h-0.85zM115.4,462.5h0.85v0.85h-0.85zM102.7,453.6h0.85v0.85h-0.85zM98.6,448.7h0.85v0.85h-0.85zM99.2,452.6h0.85v0.85h-0.85zM106.2,457.6h0.85v0.85h-0.85zM96.9,458.6h0.85v0.85h-0.85zM103.6,451.0h0.85v0.85h-0.85zM102.0,448.1h0.85v0.85h-0.85zM103.2,445.5h0.85v0.85h-0.85zM97.9,443.3h0.85v0.85h-0.85zM103.3,459.2h0.85v0.85h-0.85zM106.9,452.5h0.85v0.85h-0.85zM96.3,441.9h0.85v0.85h-0.85zM141.0,455.0h0.85v0.85h-0.85zM108.3,446.4h0.85v0.85h-0.85zM106.2,447.9h0.85v0.85h-0.85zM105.9,452.8h0.85v0.85h-0.85zM104.6,456.8h0.85v0.85h-0.85zM106.0,444.8h0.85v0.85h-0.85zM106.5,446.1h0.85v0.85h-0.85zM96.8,448.1h0.85v0.85h-0.85zM97.2,450.2h0.85v0.85h-0.85zM139.3,452.6h0.85v0.85h-0.85zM103.3,451.5h0.85v0.85h-0.85zM106.5,453.6h0.85v0.85h-0.85zM102.5,446.5h0.85v0.85h-0.85zM105.2,448.2h0.85v0.85h-0.85zM103.0,445.2h0.85v0.85h-0.85zM94.2,446.1h0.85v0.85h-0.85zM115.6,462.7h0.85v0.85h-0.85zM95.3,439.9h0.85v0.85h-0.85zM104.1,448.2h0.85v0.85h-0.85zM105.9,442.0h0.85v0.85h-0.85zM101.8,452.1h0.85v0.85h-0.85zM138.8,451.5h0.85v0.85h-0.85zM99.8,450.9h0.85v0.85h-0.85zM115.6,440.7h0.85v0.85h-0.85zM104.8,446.8h0.85v0.85h-0.85zM107.9,442.4h0.85v0.85h-0.85zM106.1,445.5h0.85v0.85h-0.85zM102.1,454.3h0.85v0.85h-0.85zM98.7,445.8h0.85v0.85h-0.85zM103.3,448.4h0.85v0.85h-0.85zM97.6,443.8h0.85v0.85h-0.85zM105.6,447.9h0.85v0.85h-0.85zM131.9,465.4h0.85v0.85h-0.85zM101.8,454.4h0.85v0.85h-0.85zM107.3,453.9h0.85v0.85h-0.85zM96.1,453.1h0.85v0.85h-0.85zM97.5,451.9h0.85v0.85h-0.85zM103.2,453.9h0.85v0.85h-0.85zM104.4,447.2h0.85v0.85h-0.85zM96.5,448.3h0.85v0.85h-0.85zM132.3,440.2h0.85v0.85h-0.85zM100.8,449.0h0.85v0.85h-0.85zM141.5,459.4h0.85v0.85h-0.85zM139.0,447.4h0.85v0.85h-0.85zM106.7,453.7h0.85v0.85h-0.85zM105.7,451.1h0.85v0.85h-0.85zM107.9,464.4h0.85v0.85h-0.85zM107.6,453.6h0.85v0.85h-0.85zM103.4,451.1h0.85v0.85h-0.85zM103.4,445.7h0.85v0.85h-0.85zM99.3,459.5h0.85v0.85h-0.85zM97.7,445.7h0.85v0.85h-0.85zM100.2,452.4h0.85v0.85h-0.85zM98.1,453.3h0.85v0.85h-0.85zM103.2,450.1h0.85v0.85h-0.85zM99.4,453.0h0.85v0.85h-0.85zM129.9,464.6h0.85v0.85h-0.85zM101.2,450.3h0.85v0.85h-0.85zM99.4,451.2h0.85v0.85h-0.85zM105.6,447.6h0.85v0.85h-0.85zM140.7,449.6h0.85v0.85h-0.85zM103.2,445.9h0.85v0.85h-0.85zM100.0,456.1h0.85v0.85h-0.85zM102.8,450.4h0.85v0.85h-0.85zM103.3,455.6h0.85v0.85h-0.85zM106.3,448.3h0.85v0.85h-0.85zM104.3,450.5h0.85v0.85h-0.85zM106.8,450.1h0.85v0.85h-0.85zM101.9,452.6h0.85v0.85h-0.85zM96.9,450.6h0.85v0.85h-0.85zM106.1,450.4h0.85v0.85h-0.85zM98.0,450.1h0.85v0.85h-0.85zM133.3,439.6h0.85v0.85h-0.85zM134.8,441.3h0.85v0.85h-0.85zM105.6,451.7h0.85v0.85h-0.85zM102.4,453.6h0.85v0.85h-0.85zM124.4,464.3h0.85v0.85h-0.85zM99.2,454.8h0.85v0.85h-0.85zM104.8,455.0h0.85v0.85h-0.85zM129.4,465.9h0.85v0.85h-0.85zM130.0,465.4h0.85v0.85h-0.85zM107.1,453.0h0.85v0.85h-0.85zM105.0,447.0h0.85v0.85h-0.85zM107.2,450.4h0.85v0.85h-0.85zM101.3,454.1h0.85v0.85h-0.85zM103.2,443.1h0.85v0.85h-0.85zM102.0,458.7h0.85v0.85h-0.85zM106.7,453.7h0.85v0.85h-0.85zM94.5,452.7h0.85v0.85h-0.85zM106.1,438.5h0.85v0.85h-0.85zM104.8,462.0h0.85v0.85h-0.85zM108.5,454.2h0.85v0.85h-0.85zM100.0,452.1h0.85v0.85h-0.85zM98.2,452.1h0.85v0.85h-0.85zM100.3,447.9h0.85v0.85h-0.85zM101.8,458.9h0.85v0.85h-0.85zM99.4,459.5h0.85v0.85h-0.85zM106.5,456.3h0.85v0.85h-0.85zM108.5,446.3h0.85v0.85h-0.85zM107.8,446.9h0.85v0.85h-0.85zM131.2,439.8h0.85v0.85h-0.85zM102.5,447.1h0.85v0.85h-0.85zM93.5,454.4h0.85v0.85h-0.85zM111.8,441.7h0.85v0.85h-0.85zM108.8,446.0h0.85v0.85h-0.85zM108.3,463.5h0.85v0.85h-0.85zM129.3,440.1h0.85v0.85h-0.85zM100.9,449.7h0.85v0.85h-0.85zM131.8,464.2h0.85v0.85h-0.85zM107.8,446.5h0.85v0.85h-0.85zM103.6,454.5h0.85v0.85h-0.85zM104.9,444.9h0.85v0.85h-0.85zM105.1,452.7h0.85v0.85h-0.85zM107.8,447.2h0.85v0.85h-0.85zM102.0,461.6h0.85v0.85h-0.85zM101.0,447.4h0.85v0.85h-0.85zM138.8,448.0h0.85v0.85h-0.85zM97.1,453.4h0.85v0.85h-0.85zM107.5,446.8h0.85v0.85h-0.85zM99.8,450.8h0.85v0.85h-0.85zM108.4,455.8h0.85v0.85h-0.85zM96.6,457.6h0.85v0.85h-0.85zM104.3,450.4h0.85v0.85h-0.85zM106.8,454.6h0.85v0.85h-0.85zM104.3,446.5h0.85v0.85h-0.85zM107.4,456.8h0.85v0.85h-0.85zM102.3,451.1h0.85v0.85h-0.85zM97.4,443.7h0.85v0.85h-0.85zM108.4,445.8h0.85v0.85h-0.85zM104.4,450.5h0.85v0.85h-0.85zM110.9,457.0h0.85v0.85h-0.85zM113.1,459.8h0.85v0.85h-0.85zM139.1,451.5h0.85v0.85h-0.85zM101.3,448.5h0.85v0.85h-0.85zM106.8,451.9h0.85v0.85h-0.85zM93.3,448.3h0.85v0.85h-0.85zM109.2,445.2h0.85v0.85h-0.85zM105.8,456.4h0.85v0.85h-0.85zM107.1,440.9h0.85v0.85h-0.85zM101.3,455.0h0.85v0.85h-0.85zM106.4,445.8h0.85v0.85h-0.85zM98.0,445.3h0.85v0.85h-0.85zM108.1,446.1h0.85v0.85h-0.85zM102.2,452.2h0.85v0.85h-0.85zM132.1,440.3h0.85v0.85h-0.85zM139.0,454.4h0.85v0.85h-0.85zM132.3,439.7h0.85v0.85h-0.85zM99.2,442.3h0.85v0.85h-0.85zM100.0,449.2h0.85v0.85h-0.85zM110.4,458.9h0.85v0.85h-0.85zM140.0,450.4h0.85v0.85h-0.85zM95.4,454.2h0.85v0.85h-0.85zM113.8,459.4h0.85v0.85h-0.85zM104.6,453.6h0.85v0.85h-0.85zM100.3,454.4h0.85v0.85h-0.85zM99.6,451.9h0.85v0.85h-0.85zM96.6,445.6h0.85v0.85h-0.85zM96.1,456.2h0.85v0.85h-0.85zM106.2,441.9h0.85v0.85h-0.85zM98.5,451.1h0.85v0.85h-0.85zM141.8,456.0h0.85v0.85h-0.85zM106.8,451.7h0.85v0.85h-0.85zM105.6,456.0h0.85v0.85h-0.85zM97.6,455.2h0.85v0.85h-0.85zM107.9,455.6h0.85v0.85h-0.85zM106.4,459.0h0.85v0.85h-0.85zM94.8,454.0h0.85v0.85h-0.85zM99.5,448.2h0.85v0.85h-0.85zM118.1,464.4h0.85v0.85h-0.85zM126.0,464.6h0.85v0.85h-0.85zM101.1,450.9h0.85v0.85h-0.85zM102.1,448.4h0.85v0.85h-0.85zM96.0,447.6h0.85v0.85h-0.85zM99.0,448.5h0.85v0.85h-0.85zM103.3,450.2h0.85v0.85h-0.85zM107.1,448.0h0.85v0.85h-0.85zM104.4,457.9h0.85v0.85h-0.85zM101.1,454.8h0.85v0.85h-0.85zM109.4,444.8h0.85v0.85h-0.85zM101.6,454.7h0.85v0.85h-0.85zM126.0,438.2h0.85v0.85h-0.85zM103.7,458.4h0.85v0.85h-0.85zM138.1,459.9h0.85v0.85h-0.85zM118.2,439.6h0.85v0.85h-0.85zM98.1,451.1h0.85v0.85h-0.85zM140.5,453.1h0.85v0.85h-0.85zM102.2,446.0h0.85v0.85h-0.85zM107.0,442.2h0.85v0.85h-0.85zM107.5,448.9h0.85v0.85h-0.85zM100.1,450.1h0.85v0.85h-0.85zM96.7,457.0h0.85v0.85h-0.85zM139.9,458.4h0.85v0.85h-0.85zM93.3,446.7h0.85v0.85h-0.85zM93.7,455.1h0.85v0.85h-0.85zM106.5,449.9h0.85v0.85h-0.85zM111.1,460.4h0.85v0.85h-0.85zM104.0,453.3h0.85v0.85h-0.85zM96.2,454.2h0.85v0.85h-0.85zM100.0,450.9h0.85v0.85h-0.85zM94.7,450.4h0.85v0.85h-0.85zM105.5,446.4h0.85v0.85h-0.85zM106.3,447.6h0.85v0.85h-0.85zM143.3,460.9h0.85v0.85h-0.85zM100.6,449.0h0.85v0.85h-0.85zM107.0,455.5h0.85v0.85h-0.85zM97.0,446.6h0.85v0.85h-0.85zM101.7,455.8h0.85v0.85h-0.85zM137.1,440.1h0.85v0.85h-0.85zM103.8,454.0h0.85v0.85h-0.85zM99.3,452.0h0.85v0.85h-0.85zM104.2,448.1h0.85v0.85h-0.85zM122.2,438.4h0.85v0.85h-0.85zM111.5,443.9h0.85v0.85h-0.85zM96.8,451.6h0.85v0.85h-0.85zM103.2,451.9h0.85v0.85h-0.85zM121.4,439.7h0.85v0.85h-0.85zM121.6,463.2h0.85v0.85h-0.85zM104.1,447.2h0.85v0.85h-0.85zM131.3,464.9h0.85v0.85h-0.85zM99.8,455.5h0.85v0.85h-0.85zM105.9,458.9h0.85v0.85h-0.85zM105.0,447.6h0.85v0.85h-0.85z" fill="#222" fill-opacity="0.72"/>
<path d="M131.1,462.1L131.7,462.1L132.4,461.9L132.9,461.8L133.4,461.6L133.9,461.4L134.4,461.1L134.9,460.7L135.3,460.4L135.7,459.9L135.9,459.6L136.2,459.1L136.5,458.6L136.7,458.1L136.9,457.6L137.2,456.9L137.3,456.4L137.4,455.7L137.5,455.1L137.6,454.4L137.7,453.7L137.7,453.1L137.8,452.4L137.8,451.6L137.8,450.9L137.8,450.1L137.8,449.4L137.8,448.6L137.7,447.9L137.6,447.4L137.5,446.6L137.4,446.1L137.2,445.5L136.9,444.9L136.7,444.4L136.4,444.0L136.1,443.6L135.7,443.2L135.4,442.9L134.9,442.6L134.4,442.3L133.9,442.1L133.4,441.9L132.7,441.7L132.2,441.6L131.4,441.5L130.7,441.4L129.9,441.4L129.2,441.4L128.4,441.4L127.7,441.4L126.9,441.4L126.2,441.4L125.4,441.5L124.7,441.5L123.9,441.6L123.4,441.7L122.7,441.8L121.9,441.9L121.4,441.9L120.7,442.1L120.2,442.2L119.4,442.4L118.9,442.5L118.3,442.6L117.7,442.8L117.2,443.0L116.7,443.2L116.0,443.4L115.4,443.6L114.9,443.9L114.4,444.1L113.9,444.4L113.4,444.6L113.0,444.9L112.7,445.1L112.2,445.5L111.7,445.9L111.4,446.1L110.9,446.6L110.7,446.9L110.4,447.4L110.1,447.9L109.9,448.4L109.7,448.9L109.6,449.6L109.6,450.4L109.7,451.0L109.9,451.6L110.0,452.1L110.2,452.6L110.5,453.1L110.7,453.6L111.1,454.1L111.4,454.6L111.7,455.0L112.0,455.4L112.4,455.8L112.8,456.1L113.2,456.5L113.6,456.9L113.9,457.2L114.4,457.5L114.9,457.9L115.4,458.1L115.8,458.4L116.2,458.7L116.7,458.9L117.2,459.2L117.7,459.4L118.2,459.7L118.7,459.9L119.3,460.1L119.9,460.4L120.4,460.6L120.9,460.7L121.5,460.9L122.2,461.1L122.7,461.2L123.4,461.4L123.9,461.5L124.6,461.6L125.2,461.8L125.9,461.9L126.4,462.0L127.2,462.1L127.9,462.1L128.4,462.2L129.2,462.2L129.9,462.2L130.7,462.2Z" fill="#eaeaea" stroke="none"/>
<path d="M132.6,463.1L133.2,463.0L133.7,462.8L134.2,462.6L134.7,462.3L135.2,462.0L135.6,461.6L135.9,461.3L136.3,460.9L136.7,460.4L136.9,460.0L137.2,459.5L137.4,459.0L137.7,458.4L137.9,457.9L138.0,457.4L138.2,456.7L138.3,456.1L138.4,455.4L138.5,454.9L138.6,454.1L138.6,453.4L138.6,452.6L138.7,451.9L138.7,451.1L138.7,450.4L138.7,449.6L138.6,448.9L138.6,448.1L138.5,447.4L138.4,446.8L138.3,446.1L138.2,445.6L138.0,444.9L137.7,444.4L137.5,443.9L137.2,443.4L136.9,443.1L136.6,442.6L136.2,442.3L135.7,441.9L135.3,441.6L134.8,441.4L134.2,441.1L133.7,441.0L133.2,440.8L132.4,440.7L131.9,440.6L131.2,440.6L130.4,440.5L129.7,440.5L128.9,440.5L128.2,440.5L127.4,440.5L126.7,440.5L125.9,440.6L125.2,440.6L124.4,440.6L123.9,440.7L123.2,440.8L122.4,440.8L121.9,440.9L121.2,441.0L120.4,441.1L119.9,441.2L119.2,441.4L118.7,441.5L118.1,441.6L117.4,441.8L116.9,442.0L116.3,442.1L115.7,442.3L115.2,442.5L114.7,442.7L114.2,442.9L113.6,443.1L113.1,443.4L112.6,443.6L112.2,443.9L111.7,444.2L111.2,444.5L110.7,444.8L110.3,445.1L109.9,445.4L109.5,445.9L109.2,446.2L108.8,446.6L108.4,447.1L108.2,447.6L107.9,448.1L107.8,448.6L107.7,449.1L107.6,449.9L107.7,450.6L107.8,451.1L107.9,451.9L108.1,452.4L108.3,452.9L108.6,453.4L108.9,453.9L109.2,454.4L109.4,454.8L109.7,455.1L110.1,455.6L110.4,456.0L110.8,456.4L111.2,456.8L111.6,457.1L111.9,457.5L112.4,457.9L112.8,458.1L113.2,458.4L113.7,458.8L114.2,459.1L114.7,459.4L115.2,459.6L115.6,459.9L116.1,460.1L116.7,460.4L117.2,460.6L117.7,460.9L118.2,461.1L118.7,461.3L119.2,461.4L119.8,461.6L120.4,461.9L120.9,462.0L121.4,462.2L122.2,462.3L122.7,462.5L123.4,462.6L123.9,462.7L124.7,462.9L125.2,463.0L125.9,463.1L126.5,463.1L127.2,463.2L127.9,463.3L128.7,463.4L129.4,463.4L130.2,463.4L130.9,463.4L131.7,463.3L132.4,463.2Z" fill="none" stroke="#555" stroke-width="0.7"/>
<path d="M129.9,451.9L130.2,451.5L130.4,450.9L130.4,450.1L130.2,449.6L129.7,449.2L129.2,449.1L128.4,449.1L127.9,449.2L127.3,449.4L126.8,449.6L126.4,450.1L126.4,450.6L126.7,451.1L127.0,451.4L127.4,451.7L128.0,451.9L128.7,452.1L129.4,452.1ZM130.0,452.6L130.4,452.2L130.7,451.8L130.9,451.1L131.0,450.6L130.9,450.1L130.7,449.4L130.4,449.1L129.9,448.7L129.4,448.6L128.7,448.6L127.9,448.6L127.4,448.7L126.7,448.9L126.2,449.1L125.7,449.4L125.4,449.6L125.2,450.1L125.2,450.6L125.4,451.2L125.9,451.6L126.2,451.9L126.7,452.2L127.2,452.4L127.9,452.6L128.4,452.8L129.2,452.8L129.9,452.7ZM129.6,453.4L130.2,453.2L130.6,452.9L130.9,452.4L131.2,451.9L131.3,451.4L131.4,450.6L131.3,449.9L131.2,449.4L130.9,448.9L130.4,448.5L129.9,448.3L129.4,448.1L128.7,448.1L127.9,448.1L127.4,448.2L126.7,448.4L126.2,448.5L125.7,448.7L125.2,448.9L124.7,449.3L124.4,449.6L124.2,450.1L124.2,450.6L124.4,451.2L124.8,451.6L125.2,452.1L125.7,452.4L126.1,452.6L126.6,452.9L127.2,453.1L127.7,453.2L128.4,453.4L128.9,453.4L129.6,453.4ZM129.8,453.9L130.4,453.6L130.7,453.4L131.2,452.9L131.4,452.4L131.6,451.9L131.7,451.4L131.8,450.6L131.7,449.9L131.6,449.4L131.4,448.9L130.9,448.4L130.6,448.1L130.1,447.9L129.4,447.7L128.7,447.7L127.9,447.7L127.2,447.8L126.7,447.9L125.9,448.1L125.4,448.2L124.9,448.4L124.4,448.7L123.9,449.1L123.6,449.4L123.4,449.9L123.4,450.6L123.5,451.1L123.8,451.6L124.2,452.1L124.6,452.4L124.9,452.7L125.4,453.0L125.9,453.2L126.4,453.4L127.2,453.6L127.7,453.8L128.4,453.9L128.9,453.9L129.7,453.9ZM129.7,454.4L130.4,454.2L130.9,453.9L131.2,453.6L131.5,453.1L131.7,452.6L131.9,452.0L132.1,451.4L132.1,450.6L132.1,449.9L131.9,449.3L131.7,448.7L131.4,448.4L130.9,447.9L130.5,447.6L129.9,447.4L129.4,447.4L128.7,447.3L127.9,447.4L127.4,447.4L126.7,447.5L126.0,447.6L125.4,447.8L124.9,447.9L124.4,448.1L123.9,448.4L123.4,448.7L123.0,449.1L122.7,449.5L122.5,450.1L122.6,450.9L122.9,451.4L123.2,451.9L123.4,452.2L123.9,452.6L124.3,452.9L124.7,453.2L125.2,453.5L125.7,453.7L126.3,453.9L126.9,454.1L127.4,454.2L128.2,454.3L128.8,454.4L129.4,454.4ZM130.5,454.6L130.9,454.4L131.4,453.9L131.7,453.5L131.9,453.1L132.2,452.4L132.3,451.9L132.4,451.1L132.5,450.6L132.4,450.1L132.3,449.4L132.2,448.9L131.9,448.4L131.5,447.9L131.2,447.6L130.7,447.3L130.2,447.1L129.4,447.0L128.7,447.0L127.9,447.0L127.2,447.1L126.6,447.1L125.9,447.3L125.3,447.4L124.7,447.6L124.2,447.8L123.7,448.0L123.2,448.2L122.7,448.6L122.3,448.9L122.0,449.4L121.8,449.9L121.8,450.6L122.0,451.1L122.2,451.6L122.6,452.1L122.9,452.6L123.3,452.9L123.7,453.2L124.2,453.5L124.7,453.8L125.2,454.0L125.7,454.2L126.3,454.4L126.9,454.6L127.4,454.7L128.2,454.8L128.9,454.9L129.7,454.9L130.4,454.7ZM130.5,455.1L131.0,454.9L131.4,454.5L131.8,454.1L132.1,453.6L132.3,453.1L132.5,452.6L132.7,451.9L132.7,451.4L132.8,450.6L132.8,449.9L132.7,449.4L132.4,448.7L132.2,448.2L131.9,447.9L131.5,447.4L131.1,447.1L130.5,446.9L129.9,446.7L129.2,446.7L128.8,446.6L128.2,446.7L127.4,446.7L126.7,446.8L125.9,446.9L125.4,447.0L124.8,447.1L124.2,447.3L123.7,447.5L123.2,447.7L122.7,448.0L122.2,448.3L121.8,448.6L121.4,449.0L121.2,449.4L121.0,450.1L121.1,450.9L121.3,451.4L121.6,451.9L121.9,452.4L122.2,452.6L122.7,453.1L123.1,453.4L123.5,453.6L123.9,453.9L124.4,454.2L124.9,454.4L125.6,454.6L126.2,454.9L126.7,455.0L127.4,455.1L127.9,455.2L128.7,455.3L129.4,455.3L130.2,455.2ZM130.3,455.6L130.9,455.4L131.3,455.1L131.7,454.8L132.1,454.4L132.4,453.9L132.6,453.4L132.8,452.9L132.9,452.2L133.0,451.6L133.1,450.9L133.1,450.1L133.0,449.4L132.9,448.9L132.7,448.4L132.4,447.9L132.0,447.4L131.7,447.1L131.2,446.8L130.7,446.6L130.0,446.4L129.4,446.3L128.7,446.3L127.9,446.3L127.2,446.4L126.7,446.4L125.9,446.5L125.3,446.6L124.7,446.8L124.2,446.9L123.4,447.1L122.9,447.3L122.4,447.6L121.9,447.9L121.5,448.1L121.2,448.4L120.7,448.9L120.5,449.4L120.3,449.9L120.3,450.6L120.5,451.1L120.7,451.6L121.0,452.1L121.4,452.6L121.7,453.0L122.2,453.4L122.5,453.6L122.9,453.9L123.4,454.2L123.9,454.5L124.4,454.7L124.9,454.9L125.6,455.1L126.2,455.3L126.7,455.4L127.4,455.6L127.9,455.7L128.7,455.7L129.4,455.8L130.2,455.7ZM130.1,456.1L130.7,456.0L131.2,455.8L131.7,455.4L132.0,455.1L132.4,454.6L132.7,454.1L132.9,453.6L133.1,453.1L133.2,452.6L133.3,451.9L133.4,451.1L133.4,450.4L133.4,449.6L133.2,448.9L133.1,448.4L132.8,447.9L132.5,447.4L132.2,447.1L131.7,446.7L131.2,446.4L130.7,446.2L130.2,446.1L129.4,446.0L128.7,446.0L127.9,446.0L127.2,446.0L126.4,446.1L125.9,446.2L125.2,446.3L124.7,446.4L123.9,446.6L123.4,446.7L122.9,446.9L122.3,447.1L121.8,447.4L121.3,447.6L120.9,447.9L120.4,448.3L120.2,448.6L119.8,449.1L119.6,449.6L119.6,450.4L119.7,451.0L119.9,451.6L120.2,452.1L120.4,452.5L120.8,452.9L121.2,453.3L121.6,453.6L121.9,453.9L122.4,454.2L122.9,454.5L123.4,454.8L123.9,455.0L124.4,455.2L124.9,455.4L125.7,455.6L126.2,455.8L126.7,455.9L127.4,456.0L128.2,456.1L128.7,456.2L129.4,456.2L130.1,456.1ZM130.9,456.4L131.4,456.1L131.8,455.9L132.2,455.5L132.5,455.1L132.8,454.6L133.1,454.1L133.3,453.6L133.4,453.1L133.6,452.4L133.7,451.7L133.7,451.1L133.7,450.4L133.7,449.6L133.6,449.1L133.4,448.4L133.2,447.9L132.9,447.4L132.7,447.1L132.3,446.6L131.9,446.4L131.4,446.1L130.8,445.9L130.2,445.7L129.4,445.7L128.9,445.6L128.2,445.6L127.7,445.7L126.9,445.7L126.2,445.8L125.4,445.9L124.9,446.0L124.2,446.1L123.7,446.2L123.1,446.4L122.4,446.6L121.9,446.8L121.4,447.0L120.9,447.3L120.4,447.6L120.1,447.9L119.7,448.3L119.4,448.6L119.1,449.1L118.9,449.6L118.8,450.4L118.9,451.0L119.2,451.6L119.4,452.1L119.7,452.5L120.0,452.9L120.4,453.4L120.7,453.6L121.2,454.0L121.7,454.4L122.1,454.6L122.6,454.9L123.0,455.1L123.6,455.4L124.2,455.6L124.7,455.8L125.2,456.0L125.8,456.1L126.4,456.3L127.0,456.4L127.7,456.5L128.4,456.6L129.2,456.6L129.9,456.6L130.7,456.5ZM130.9,456.9L131.4,456.7L131.9,456.4L132.2,456.1L132.6,455.6L132.9,455.2L133.2,454.8L133.4,454.3L133.7,453.6L133.8,453.1L133.9,452.4L134.0,451.9L134.1,451.1L134.1,450.4L134.1,449.6L133.9,448.9L133.8,448.4L133.6,447.9L133.4,447.4L133.0,446.9L132.7,446.5L132.2,446.1L131.8,445.9L131.3,445.6L130.7,445.5L130.2,445.4L129.4,445.3L128.7,445.3L127.9,445.3L127.2,445.3L126.4,445.4L125.9,445.4L125.2,445.5L124.6,445.6L123.9,445.8L123.4,445.9L122.7,446.1L122.2,446.3L121.7,446.4L121.2,446.7L120.7,446.9L120.2,447.2L119.7,447.5L119.2,447.9L118.9,448.1L118.5,448.6L118.3,449.1L118.1,449.6L118.1,450.4L118.2,451.0L118.4,451.6L118.7,452.1L118.9,452.6L119.2,452.9L119.6,453.4L119.9,453.7L120.4,454.1L120.8,454.4L121.2,454.7L121.7,455.0L122.2,455.3L122.7,455.5L123.2,455.8L123.7,456.0L124.2,456.2L124.9,456.4L125.4,456.5L125.9,456.7L126.7,456.8L127.2,456.9L127.9,457.0L128.7,457.1L129.4,457.1L130.2,457.1L130.9,456.9ZM130.9,457.4L131.4,457.2L131.9,456.9L132.3,456.6L132.7,456.3L133.0,455.9L133.4,455.4L133.6,454.9L133.8,454.4L134.0,453.9L134.2,453.1L134.3,452.6L134.4,451.9L134.4,451.1L134.4,450.4L134.4,449.6L134.3,448.9L134.2,448.4L133.9,447.7L133.7,447.2L133.4,446.8L133.1,446.4L132.7,446.0L132.2,445.7L131.7,445.4L131.2,445.2L130.7,445.1L129.9,445.0L129.2,444.9L128.4,444.9L127.7,445.0L126.9,445.0L126.2,445.0L125.4,445.1L124.9,445.2L124.2,445.3L123.7,445.4L122.9,445.6L122.4,445.7L121.9,445.9L121.2,446.1L120.7,446.4L120.2,446.6L119.7,446.9L119.2,447.1L118.9,447.4L118.4,447.8L118.1,448.1L117.7,448.6L117.5,449.1L117.3,449.6L117.3,450.4L117.4,451.1L117.6,451.6L117.9,452.1L118.2,452.6L118.4,453.1L118.7,453.4L119.2,453.9L119.5,454.1L119.9,454.5L120.4,454.9L120.8,455.1L121.3,455.4L121.7,455.6L122.2,455.9L122.8,456.1L123.4,456.4L123.9,456.6L124.4,456.8L124.9,456.9L125.7,457.1L126.2,457.2L126.9,457.4L127.4,457.4L128.2,457.5L128.9,457.6L129.7,457.6L130.4,457.5ZM131.0,457.9L131.7,457.6L132.1,457.4L132.5,457.1L132.9,456.7L133.2,456.4L133.6,455.9L133.9,455.4L134.1,454.9L134.3,454.4L134.4,453.8L134.6,453.1L134.7,452.4L134.7,451.9L134.8,451.1L134.8,450.4L134.8,449.6L134.7,448.9L134.6,448.4L134.4,447.9L134.2,447.2L133.9,446.8L133.7,446.4L133.2,445.9L132.9,445.6L132.4,445.3L131.9,445.1L131.4,444.9L130.7,444.7L130.2,444.6L129.4,444.6L128.7,444.5L127.9,444.6L127.2,444.6L126.4,444.6L125.9,444.7L125.2,444.8L124.4,444.9L123.9,444.9L123.2,445.1L122.7,445.2L122.0,445.4L121.4,445.6L120.9,445.7L120.4,445.9L119.9,446.1L119.4,446.4L118.9,446.7L118.4,447.0L117.9,447.4L117.6,447.6L117.2,448.1L116.9,448.4L116.7,448.9L116.5,449.6L116.4,450.1L116.5,450.6L116.7,451.4L116.9,451.9L117.1,452.4L117.4,452.9L117.7,453.2L118.0,453.6L118.4,454.1L118.8,454.4L119.2,454.7L119.7,455.1L120.1,455.4L120.5,455.6L121.0,455.9L121.4,456.2L122.0,456.4L122.5,456.6L123.2,456.9L123.7,457.1L124.2,457.2L124.8,457.4L125.4,457.6L125.9,457.7L126.7,457.8L127.2,457.9L127.9,458.0L128.7,458.1L129.4,458.1L130.2,458.1L130.9,457.9ZM131.3,458.4L131.9,458.1L132.4,457.9L132.7,457.6L133.2,457.2L133.5,456.9L133.9,456.4L134.2,455.9L134.4,455.4L134.6,454.9L134.8,454.4L134.9,453.6L135.0,453.1L135.1,452.4L135.2,451.6L135.2,450.9L135.2,450.1L135.2,449.4L135.1,448.6L134.9,448.1L134.7,447.4L134.5,446.9L134.3,446.4L133.9,446.0L133.7,445.6L133.2,445.3L132.7,444.9L132.2,444.7L131.7,444.5L131.2,444.4L130.4,444.2L129.7,444.2L129.2,444.1L128.4,444.1L127.7,444.1L127.2,444.2L126.4,444.2L125.7,444.3L124.9,444.3L124.4,444.4L123.7,444.5L123.1,444.6L122.4,444.8L121.9,444.9L121.2,445.1L120.7,445.3L120.2,445.5L119.7,445.7L119.2,445.9L118.7,446.1L118.2,446.4L117.7,446.7L117.2,447.1L116.8,447.4L116.4,447.8L116.2,448.1L115.9,448.6L115.7,449.1L115.5,449.9L115.6,450.6L115.7,451.2L115.9,451.9L116.2,452.4L116.4,452.8L116.7,453.2L117.0,453.6L117.4,454.1L117.7,454.4L118.2,454.8L118.6,455.1L119.0,455.4L119.4,455.7L119.9,456.0L120.4,456.3L120.9,456.6L121.4,456.8L121.9,457.0L122.4,457.2L122.9,457.4L123.6,457.6L124.2,457.8L124.7,458.0L125.4,458.1L125.9,458.2L126.7,458.4L127.2,458.5L127.9,458.5L128.7,458.6L129.4,458.6L130.2,458.6L130.9,458.5ZM130.8,459.1L131.4,459.0L131.9,458.8L132.4,458.6L132.9,458.3L133.4,457.9L133.7,457.6L134.1,457.1L134.4,456.6L134.6,456.1L134.9,455.6L135.0,455.1L135.2,454.6L135.4,453.9L135.4,453.4L135.5,452.6L135.6,451.9L135.6,451.1L135.6,450.4L135.6,449.6L135.6,448.9L135.4,448.2L135.3,447.6L135.2,447.1L134.9,446.6L134.7,446.1L134.4,445.6L133.9,445.2L133.6,444.9L133.2,444.6L132.7,444.3L132.2,444.1L131.4,443.9L130.9,443.8L130.2,443.7L129.4,443.7L128.7,443.7L127.9,443.7L127.2,443.7L126.4,443.7L125.7,443.8L124.9,443.9L124.4,443.9L123.7,444.0L123.0,444.1L122.4,444.3L121.9,444.4L121.2,444.6L120.7,444.7L120.1,444.9L119.4,445.1L118.9,445.3L118.4,445.6L117.9,445.8L117.4,446.1L116.9,446.4L116.6,446.6L116.2,447.0L115.7,447.4L115.4,447.7L115.1,448.1L114.8,448.6L114.7,449.1L114.5,449.9L114.6,450.6L114.7,451.2L114.9,451.9L115.2,452.4L115.4,452.9L115.7,453.3L116.0,453.6L116.4,454.1L116.7,454.5L117.1,454.9L117.4,455.2L117.9,455.6L118.4,455.9L118.8,456.1L119.2,456.4L119.7,456.7L120.2,457.0L120.7,457.2L121.2,457.4L121.7,457.6L122.4,457.9L122.9,458.1L123.4,458.3L124.0,458.4L124.7,458.6L125.2,458.7L125.9,458.9L126.4,458.9L127.2,459.1L127.9,459.1L128.4,459.2L129.2,459.2L129.9,459.2L130.7,459.2ZM130.1,459.9L130.7,459.9L131.4,459.7L131.9,459.6L132.4,459.4L132.9,459.1L133.4,458.8L133.9,458.4L134.2,458.0L134.5,457.6L134.8,457.1L135.1,456.6L135.3,456.1L135.5,455.6L135.7,454.9L135.8,454.4L135.9,453.6L136.0,453.1L136.1,452.4L136.1,451.6L136.1,450.9L136.1,450.1L136.1,449.4L136.0,448.6L135.9,448.0L135.8,447.4L135.7,446.9L135.4,446.3L135.2,445.8L134.9,445.4L134.5,444.9L134.2,444.6L133.7,444.2L133.2,443.9L132.7,443.7L132.2,443.5L131.7,443.4L130.9,443.3L130.2,443.2L129.4,443.2L128.7,443.2L127.9,443.2L127.2,443.2L126.4,443.2L125.7,443.3L124.9,443.3L124.3,443.4L123.7,443.5L122.9,443.6L122.4,443.7L121.7,443.8L121.2,444.0L120.5,444.1L119.9,444.3L119.4,444.5L118.9,444.6L118.3,444.9L117.7,445.1L117.2,445.4L116.7,445.6L116.3,445.9L115.9,446.1L115.4,446.5L115.0,446.9L114.7,447.1L114.3,447.6L113.9,448.1L113.7,448.6L113.5,449.1L113.4,449.6L113.4,450.4L113.5,450.9L113.7,451.6L113.9,452.1L114.1,452.6L114.4,453.1L114.7,453.6L114.9,453.9L115.4,454.4L115.7,454.8L116.1,455.1L116.4,455.5L116.9,455.9L117.3,456.1L117.7,456.4L118.2,456.7L118.7,457.0L119.2,457.3L119.7,457.6L120.2,457.8L120.7,458.0L121.2,458.2L121.7,458.4L122.3,458.6L122.9,458.8L123.4,459.0L124.1,459.1L124.7,459.3L125.2,459.4L125.9,459.6L126.5,459.6L127.2,459.7L127.9,459.8L128.7,459.9L129.3,459.9L129.9,459.9ZM131.0,460.6L131.7,460.5L132.2,460.4L132.8,460.1L133.3,459.9L133.7,459.6L134.2,459.2L134.5,458.9L134.9,458.4L135.2,458.1L135.4,457.6L135.7,457.1L135.9,456.5L136.1,455.9L136.3,455.4L136.4,454.6L136.5,454.1L136.6,453.4L136.7,452.6L136.7,452.0L136.7,451.4L136.7,450.6L136.7,449.9L136.7,449.3L136.7,448.6L136.6,447.9L136.4,447.3L136.3,446.6L136.1,446.1L135.9,445.6L135.6,445.1L135.2,444.6L134.9,444.3L134.5,443.9L134.1,443.6L133.7,443.4L133.2,443.1L132.4,442.9L131.9,442.8L131.2,442.7L130.7,442.6L129.9,442.6L129.2,442.5L128.4,442.5L127.7,442.5L126.9,442.6L126.2,442.6L125.4,442.6L124.9,442.7L124.2,442.8L123.4,442.9L122.9,442.9L122.2,443.0L121.7,443.1L120.9,443.3L120.4,443.4L119.7,443.6L119.2,443.8L118.7,443.9L118.0,444.1L117.4,444.4L116.9,444.6L116.4,444.8L115.9,445.1L115.4,445.3L115.0,445.6L114.6,445.9L114.2,446.2L113.7,446.6L113.4,446.9L113.0,447.4L112.7,447.8L112.4,448.3L112.2,448.9L112.1,449.4L112.0,450.1L112.1,450.9L112.3,451.4L112.4,452.0L112.7,452.6L112.9,453.0L113.2,453.5L113.5,453.9L113.9,454.4L114.2,454.8L114.6,455.1L114.9,455.5L115.4,455.9L115.7,456.2L116.2,456.6L116.7,456.9L117.0,457.1L117.4,457.4L117.9,457.7L118.4,458.0L118.9,458.2L119.4,458.5L119.9,458.7L120.5,458.9L121.2,459.1L121.7,459.3L122.2,459.5L122.7,459.7L123.4,459.9L123.9,460.0L124.7,460.1L125.2,460.3L125.9,460.4L126.4,460.5L127.2,460.6L127.9,460.6L128.4,460.7L129.2,460.7L129.9,460.7L130.7,460.7ZM131.6,461.6L132.2,461.5L132.7,461.4L133.3,461.1L133.8,460.9L134.2,460.6L134.7,460.3L135.1,459.9L135.4,459.5L135.7,459.1L136.0,458.6L136.3,458.1L136.5,457.6L136.7,457.1L136.9,456.4L137.0,455.9L137.2,455.1L137.3,454.6L137.4,453.9L137.4,453.1L137.4,452.6L137.5,451.9L137.5,451.1L137.5,450.4L137.5,449.6L137.5,448.9L137.4,448.4L137.3,447.6L137.2,446.9L137.1,446.4L136.9,445.9L136.7,445.3L136.4,444.8L136.2,444.4L135.9,443.9L135.4,443.5L135.1,443.1L134.7,442.9L134.2,442.6L133.7,442.4L133.0,442.1L132.4,442.0L131.8,441.9L131.2,441.8L130.4,441.8L129.7,441.7L128.9,441.7L128.2,441.7L127.4,441.7L126.7,441.8L125.9,441.8L125.2,441.8L124.5,441.9L123.9,442.0L123.2,442.0L122.4,442.1L121.9,442.2L121.2,442.4L120.7,442.5L119.9,442.6L119.4,442.7L118.8,442.9L118.2,443.1L117.7,443.2L117.2,443.4L116.5,443.6L115.9,443.9L115.4,444.1L114.9,444.3L114.4,444.6L113.9,444.9L113.5,445.1L113.2,445.4L112.7,445.8L112.2,446.1L111.9,446.4L111.5,446.9L111.2,447.3L110.9,447.7L110.7,448.1L110.4,448.8L110.3,449.4L110.3,450.1L110.4,450.9L110.5,451.4L110.7,452.0L110.9,452.6L111.2,453.1L111.4,453.6L111.7,454.0L112.0,454.4L112.4,454.9L112.7,455.2L113.1,455.6L113.4,456.0L113.9,456.4L114.2,456.7L114.7,457.1L115.2,457.4L115.5,457.6L115.9,457.9L116.4,458.2L116.9,458.5L117.4,458.8L117.9,459.0L118.4,459.3L118.9,459.5L119.4,459.7L120.0,459.9L120.7,460.1L121.2,460.3L121.7,460.5L122.2,460.6L122.9,460.8L123.4,461.0L124.2,461.1L124.7,461.2L125.4,461.4L125.9,461.5L126.7,461.6L127.4,461.6L127.9,461.7L128.7,461.7L129.4,461.8L130.2,461.8L130.9,461.7L131.6,461.6Z" fill="none" stroke="#333" stroke-width="0.42"/>
<path d="M129.7,451.4L130.0,450.9L130.0,450.1L129.7,449.7L129.2,449.5L128.4,449.6L127.9,449.7L127.4,450.0L127.3,450.6L127.7,451.1L128.2,451.4L128.7,451.5L129.4,451.6Z" fill="#fff" stroke="none"/>
<line x1="91.70" y1="381.90" x2="91.70" y2="499.80" stroke="#222" stroke-width="1.3" />
<line x1="91.10" y1="499.20" x2="212.60" y2="499.20" stroke="#222" stroke-width="1.3" />
<line x1="139.30" y1="382.40" x2="139.30" y2="499.20" stroke="#1a1a1a" stroke-width="1.3" />
<line x1="91.70" y1="472.40" x2="212.10" y2="472.40" stroke="#1a1a1a" stroke-width="1.3" />
<text x="203.00" y="398.60" font-size="8.3" text-anchor="end" fill="#2a2a2a" textLength="18.05" lengthAdjust="spacingAndGlyphs" >1.0%</text>
<text y="513.30" font-size="9" fill="#2a2a2a" stroke="#2a2a2a" stroke-width="0.15"><tspan x="85.25" textLength="7.9" lengthAdjust="spacingAndGlyphs">10</tspan><tspan x="93.45" y="510.10" font-size="5.7">0</tspan></text>
<text y="502.50" font-size="9" fill="#2a2a2a" stroke="#2a2a2a" stroke-width="0.15"><tspan x="73.20" textLength="7.9" lengthAdjust="spacingAndGlyphs">10</tspan><tspan x="81.40" y="499.30" font-size="5.7">0</tspan></text>
<text y="513.30" font-size="9" fill="#2a2a2a" stroke="#2a2a2a" stroke-width="0.15"><tspan x="115.15" textLength="7.9" lengthAdjust="spacingAndGlyphs">10</tspan><tspan x="123.35" y="510.10" font-size="5.7">1</tspan></text>
<text y="473.70" font-size="9" fill="#2a2a2a" stroke="#2a2a2a" stroke-width="0.15"><tspan x="73.20" textLength="7.9" lengthAdjust="spacingAndGlyphs">10</tspan><tspan x="81.40" y="470.50" font-size="5.7">1</tspan></text>
<text y="513.30" font-size="9" fill="#2a2a2a" stroke="#2a2a2a" stroke-width="0.15"><tspan x="145.05" textLength="7.9" lengthAdjust="spacingAndGlyphs">10</tspan><tspan x="153.25" y="510.10" font-size="5.7">2</tspan></text>
<text y="444.90" font-size="9" fill="#2a2a2a" stroke="#2a2a2a" stroke-width="0.15"><tspan x="73.20" textLength="7.9" lengthAdjust="spacingAndGlyphs">10</tspan><tspan x="81.40" y="441.70" font-size="5.7">2</tspan></text>
<text y="513.30" font-size="9" fill="#2a2a2a" stroke="#2a2a2a" stroke-width="0.15"><tspan x="174.95" textLength="7.9" lengthAdjust="spacingAndGlyphs">10</tspan><tspan x="183.15" y="510.10" font-size="5.7">3</tspan></text>
<text y="416.10" font-size="9" fill="#2a2a2a" stroke="#2a2a2a" stroke-width="0.15"><tspan x="73.20" textLength="7.9" lengthAdjust="spacingAndGlyphs">10</tspan><tspan x="81.40" y="412.90" font-size="5.7">3</tspan></text>
<text y="513.30" font-size="9" fill="#2a2a2a" stroke="#2a2a2a" stroke-width="0.15"><tspan x="204.85" textLength="7.9" lengthAdjust="spacingAndGlyphs">10</tspan><tspan x="213.05" y="510.10" font-size="5.7">4</tspan></text>
<text y="387.30" font-size="9" fill="#2a2a2a" stroke="#2a2a2a" stroke-width="0.15"><tspan x="73.20" textLength="7.9" lengthAdjust="spacingAndGlyphs">10</tspan><tspan x="81.40" y="384.10" font-size="5.7">4</tspan></text>
<path d="M241.50,382.60 H362.10 V499.50" fill="none" stroke="#707070" stroke-width="1.1"/>
<line x1="250.58" y1="499.50" x2="250.58" y2="501.20" stroke="#444" stroke-width="0.7" />
<line x1="239.80" y1="490.70" x2="241.50" y2="490.70" stroke="#444" stroke-width="0.7" />
<line x1="255.89" y1="499.50" x2="255.89" y2="501.20" stroke="#444" stroke-width="0.7" />
<line x1="239.80" y1="485.56" x2="241.50" y2="485.56" stroke="#444" stroke-width="0.7" />
<line x1="259.65" y1="499.50" x2="259.65" y2="501.20" stroke="#444" stroke-width="0.7" />
<line x1="239.80" y1="481.90" x2="241.50" y2="481.90" stroke="#444" stroke-width="0.7" />
<line x1="262.57" y1="499.50" x2="262.57" y2="501.20" stroke="#444" stroke-width="0.7" />
<line x1="239.80" y1="479.07" x2="241.50" y2="479.07" stroke="#444" stroke-width="0.7" />
<line x1="264.96" y1="499.50" x2="264.96" y2="501.20" stroke="#444" stroke-width="0.7" />
<line x1="239.80" y1="476.76" x2="241.50" y2="476.76" stroke="#444" stroke-width="0.7" />
<line x1="266.98" y1="499.50" x2="266.98" y2="501.20" stroke="#444" stroke-width="0.7" />
<line x1="239.80" y1="474.80" x2="241.50" y2="474.80" stroke="#444" stroke-width="0.7" />
<line x1="268.73" y1="499.50" x2="268.73" y2="501.20" stroke="#444" stroke-width="0.7" />
<line x1="239.80" y1="473.11" x2="241.50" y2="473.11" stroke="#444" stroke-width="0.7" />
<line x1="270.27" y1="499.50" x2="270.27" y2="501.20" stroke="#444" stroke-width="0.7" />
<line x1="239.80" y1="471.61" x2="241.50" y2="471.61" stroke="#444" stroke-width="0.7" />
<line x1="280.73" y1="499.50" x2="280.73" y2="501.20" stroke="#444" stroke-width="0.7" />
<line x1="239.80" y1="461.48" x2="241.50" y2="461.48" stroke="#444" stroke-width="0.7" />
<line x1="286.04" y1="499.50" x2="286.04" y2="501.20" stroke="#444" stroke-width="0.7" />
<line x1="239.80" y1="456.33" x2="241.50" y2="456.33" stroke="#444" stroke-width="0.7" />
<line x1="289.80" y1="499.50" x2="289.80" y2="501.20" stroke="#444" stroke-width="0.7" />
<line x1="239.80" y1="452.68" x2="241.50" y2="452.68" stroke="#444" stroke-width="0.7" />
<line x1="292.72" y1="499.50" x2="292.72" y2="501.20" stroke="#444" stroke-width="0.7" />
<line x1="239.80" y1="449.85" x2="241.50" y2="449.85" stroke="#444" stroke-width="0.7" />
<line x1="295.11" y1="499.50" x2="295.11" y2="501.20" stroke="#444" stroke-width="0.7" />
<line x1="239.80" y1="447.53" x2="241.50" y2="447.53" stroke="#444" stroke-width="0.7" />
<line x1="297.13" y1="499.50" x2="297.13" y2="501.20" stroke="#444" stroke-width="0.7" />
<line x1="239.80" y1="445.58" x2="241.50" y2="445.58" stroke="#444" stroke-width="0.7" />
<line x1="298.88" y1="499.50" x2="298.88" y2="501.20" stroke="#444" stroke-width="0.7" />
<line x1="239.80" y1="443.88" x2="241.50" y2="443.88" stroke="#444" stroke-width="0.7" />
<line x1="300.42" y1="499.50" x2="300.42" y2="501.20" stroke="#444" stroke-width="0.7" />
<line x1="239.80" y1="442.39" x2="241.50" y2="442.39" stroke="#444" stroke-width="0.7" />
<line x1="310.88" y1="499.50" x2="310.88" y2="501.20" stroke="#444" stroke-width="0.7" />
<line x1="239.80" y1="432.25" x2="241.50" y2="432.25" stroke="#444" stroke-width="0.7" />
<line x1="316.19" y1="499.50" x2="316.19" y2="501.20" stroke="#444" stroke-width="0.7" />
<line x1="239.80" y1="427.11" x2="241.50" y2="427.11" stroke="#444" stroke-width="0.7" />
<line x1="319.95" y1="499.50" x2="319.95" y2="501.20" stroke="#444" stroke-width="0.7" />
<line x1="239.80" y1="423.45" x2="241.50" y2="423.45" stroke="#444" stroke-width="0.7" />
<line x1="322.87" y1="499.50" x2="322.87" y2="501.20" stroke="#444" stroke-width="0.7" />
<line x1="239.80" y1="420.62" x2="241.50" y2="420.62" stroke="#444" stroke-width="0.7" />
<line x1="325.26" y1="499.50" x2="325.26" y2="501.20" stroke="#444" stroke-width="0.7" />
<line x1="239.80" y1="418.31" x2="241.50" y2="418.31" stroke="#444" stroke-width="0.7" />
<line x1="327.28" y1="499.50" x2="327.28" y2="501.20" stroke="#444" stroke-width="0.7" />
<line x1="239.80" y1="416.35" x2="241.50" y2="416.35" stroke="#444" stroke-width="0.7" />
<line x1="329.03" y1="499.50" x2="329.03" y2="501.20" stroke="#444" stroke-width="0.7" />
<line x1="239.80" y1="414.66" x2="241.50" y2="414.66" stroke="#444" stroke-width="0.7" />
<line x1="330.57" y1="499.50" x2="330.57" y2="501.20" stroke="#444" stroke-width="0.7" />
<line x1="239.80" y1="413.16" x2="241.50" y2="413.16" stroke="#444" stroke-width="0.7" />
<line x1="341.03" y1="499.50" x2="341.03" y2="501.20" stroke="#444" stroke-width="0.7" />
<line x1="239.80" y1="403.03" x2="241.50" y2="403.03" stroke="#444" stroke-width="0.7" />
<line x1="346.34" y1="499.50" x2="346.34" y2="501.20" stroke="#444" stroke-width="0.7" />
<line x1="239.80" y1="397.88" x2="241.50" y2="397.88" stroke="#444" stroke-width="0.7" />
<line x1="350.10" y1="499.50" x2="350.10" y2="501.20" stroke="#444" stroke-width="0.7" />
<line x1="239.80" y1="394.23" x2="241.50" y2="394.23" stroke="#444" stroke-width="0.7" />
<line x1="353.02" y1="499.50" x2="353.02" y2="501.20" stroke="#444" stroke-width="0.7" />
<line x1="239.80" y1="391.40" x2="241.50" y2="391.40" stroke="#444" stroke-width="0.7" />
<line x1="355.41" y1="499.50" x2="355.41" y2="501.20" stroke="#444" stroke-width="0.7" />
<line x1="239.80" y1="389.08" x2="241.50" y2="389.08" stroke="#444" stroke-width="0.7" />
<line x1="357.43" y1="499.50" x2="357.43" y2="501.20" stroke="#444" stroke-width="0.7" />
<line x1="239.80" y1="387.13" x2="241.50" y2="387.13" stroke="#444" stroke-width="0.7" />
<line x1="359.18" y1="499.50" x2="359.18" y2="501.20" stroke="#444" stroke-width="0.7" />
<line x1="239.80" y1="385.43" x2="241.50" y2="385.43" stroke="#444" stroke-width="0.7" />
<line x1="360.72" y1="499.50" x2="360.72" y2="501.20" stroke="#444" stroke-width="0.7" />
<line x1="239.80" y1="383.94" x2="241.50" y2="383.94" stroke="#444" stroke-width="0.7" />
<line x1="241.50" y1="499.50" x2="241.50" y2="502.30" stroke="#222" stroke-width="1.1" />
<line x1="238.70" y1="499.50" x2="241.50" y2="499.50" stroke="#222" stroke-width="1.1" />
<line x1="271.65" y1="499.50" x2="271.65" y2="502.30" stroke="#222" stroke-width="1.1" />
<line x1="238.70" y1="470.27" x2="241.50" y2="470.27" stroke="#222" stroke-width="1.1" />
<line x1="301.80" y1="499.50" x2="301.80" y2="502.30" stroke="#222" stroke-width="1.1" />
<line x1="238.70" y1="441.05" x2="241.50" y2="441.05" stroke="#222" stroke-width="1.1" />
<line x1="331.95" y1="499.50" x2="331.95" y2="502.30" stroke="#222" stroke-width="1.1" />
<line x1="238.70" y1="411.83" x2="241.50" y2="411.83" stroke="#222" stroke-width="1.1" />
<line x1="362.10" y1="499.50" x2="362.10" y2="502.30" stroke="#222" stroke-width="1.1" />
<line x1="238.70" y1="382.60" x2="241.50" y2="382.60" stroke="#222" stroke-width="1.1" />
<path d="M268.3,445.0h0.85v0.85h-0.85zM271.7,457.4h0.85v0.85h-0.85zM244.1,448.0h0.85v0.85h-0.85zM247.3,451.8h0.85v0.85h-0.85zM264.6,454.1h0.85v0.85h-0.85zM305.9,452.5h0.85v0.85h-0.85zM264.9,449.2h0.85v0.85h-0.85zM266.6,454.7h0.85v0.85h-0.85zM302.1,443.7h0.85v0.85h-0.85zM304.7,444.9h0.85v0.85h-0.85zM254.0,444.1h0.85v0.85h-0.85zM260.9,451.9h0.85v0.85h-0.85zM272.0,444.8h0.85v0.85h-0.85zM300.2,442.5h0.85v0.85h-0.85zM257.1,444.9h0.85v0.85h-0.85zM260.2,451.0h0.85v0.85h-0.85zM267.7,451.6h0.85v0.85h-0.85zM269.6,446.9h0.85v0.85h-0.85zM263.6,450.8h0.85v0.85h-0.85zM262.0,450.7h0.85v0.85h-0.85zM265.9,453.2h0.85v0.85h-0.85zM249.3,446.2h0.85v0.85h-0.85zM266.7,448.5h0.85v0.85h-0.85zM294.2,464.4h0.85v0.85h-0.85zM269.3,447.9h0.85v0.85h-0.85zM274.3,440.8h0.85v0.85h-0.85zM258.9,455.8h0.85v0.85h-0.85zM270.4,456.8h0.85v0.85h-0.85zM265.3,444.5h0.85v0.85h-0.85zM259.6,452.6h0.85v0.85h-0.85zM267.9,450.6h0.85v0.85h-0.85zM267.3,452.4h0.85v0.85h-0.85zM271.0,457.8h0.85v0.85h-0.85zM304.6,448.2h0.85v0.85h-0.85zM269.4,443.4h0.85v0.85h-0.85zM308.7,449.0h0.85v0.85h-0.85zM267.9,449.7h0.85v0.85h-0.85zM260.2,456.5h0.85v0.85h-0.85zM306.4,458.7h0.85v0.85h-0.85zM257.0,453.3h0.85v0.85h-0.85zM262.3,450.8h0.85v0.85h-0.85zM264.7,450.3h0.85v0.85h-0.85zM268.5,449.6h0.85v0.85h-0.85zM266.8,457.4h0.85v0.85h-0.85zM265.9,445.8h0.85v0.85h-0.85zM256.1,452.1h0.85v0.85h-0.85zM263.6,450.7h0.85v0.85h-0.85zM266.0,445.8h0.85v0.85h-0.85zM263.0,451.9h0.85v0.85h-0.85zM267.1,453.5h0.85v0.85h-0.85zM256.8,452.4h0.85v0.85h-0.85zM290.1,463.1h0.85v0.85h-0.85zM269.5,452.3h0.85v0.85h-0.85zM260.8,454.9h0.85v0.85h-0.85zM256.2,454.9h0.85v0.85h-0.85zM264.1,452.0h0.85v0.85h-0.85zM292.4,463.3h0.85v0.85h-0.85zM259.0,461.4h0.85v0.85h-0.85zM260.6,453.2h0.85v0.85h-0.85zM244.6,456.7h0.85v0.85h-0.85zM255.0,457.4h0.85v0.85h-0.85zM251.7,450.6h0.85v0.85h-0.85zM264.8,449.5h0.85v0.85h-0.85zM268.1,457.9h0.85v0.85h-0.85zM264.8,450.0h0.85v0.85h-0.85zM258.9,453.6h0.85v0.85h-0.85zM263.9,446.4h0.85v0.85h-0.85zM264.6,448.2h0.85v0.85h-0.85zM267.4,458.2h0.85v0.85h-0.85zM273.4,459.5h0.85v0.85h-0.85zM255.2,450.1h0.85v0.85h-0.85zM264.1,450.5h0.85v0.85h-0.85zM304.6,451.1h0.85v0.85h-0.85zM304.1,455.9h0.85v0.85h-0.85zM250.5,451.0h0.85v0.85h-0.85zM264.3,456.1h0.85v0.85h-0.85zM267.4,457.8h0.85v0.85h-0.85zM272.4,443.4h0.85v0.85h-0.85zM266.2,451.8h0.85v0.85h-0.85zM252.0,458.1h0.85v0.85h-0.85zM270.1,456.7h0.85v0.85h-0.85zM270.4,444.8h0.85v0.85h-0.85zM307.4,444.7h0.85v0.85h-0.85zM266.7,452.4h0.85v0.85h-0.85zM306.2,457.8h0.85v0.85h-0.85zM260.0,455.1h0.85v0.85h-0.85zM245.9,447.3h0.85v0.85h-0.85zM269.0,453.8h0.85v0.85h-0.85zM304.8,463.1h0.85v0.85h-0.85zM270.5,457.2h0.85v0.85h-0.85zM289.2,463.3h0.85v0.85h-0.85zM263.7,452.1h0.85v0.85h-0.85zM245.2,451.7h0.85v0.85h-0.85zM268.3,454.7h0.85v0.85h-0.85zM257.9,453.1h0.85v0.85h-0.85zM267.4,448.0h0.85v0.85h-0.85zM269.8,446.0h0.85v0.85h-0.85zM269.3,446.2h0.85v0.85h-0.85zM256.1,447.0h0.85v0.85h-0.85zM269.5,447.7h0.85v0.85h-0.85zM262.2,453.7h0.85v0.85h-0.85zM268.8,453.0h0.85v0.85h-0.85zM262.5,453.8h0.85v0.85h-0.85zM261.2,454.8h0.85v0.85h-0.85zM267.8,456.8h0.85v0.85h-0.85zM260.0,441.9h0.85v0.85h-0.85zM267.4,447.4h0.85v0.85h-0.85zM252.3,454.0h0.85v0.85h-0.85zM265.0,454.1h0.85v0.85h-0.85zM292.3,440.4h0.85v0.85h-0.85zM266.2,455.5h0.85v0.85h-0.85zM253.4,446.2h0.85v0.85h-0.85zM305.8,452.6h0.85v0.85h-0.85zM277.3,442.0h0.85v0.85h-0.85zM256.7,450.9h0.85v0.85h-0.85zM266.2,447.3h0.85v0.85h-0.85zM265.1,458.4h0.85v0.85h-0.85zM302.6,443.6h0.85v0.85h-0.85zM258.8,455.4h0.85v0.85h-0.85zM267.2,453.9h0.85v0.85h-0.85zM265.9,463.9h0.85v0.85h-0.85zM298.7,462.8h0.85v0.85h-0.85zM263.6,442.9h0.85v0.85h-0.85zM292.5,463.2h0.85v0.85h-0.85zM256.9,450.1h0.85v0.85h-0.85zM272.4,457.8h0.85v0.85h-0.85zM256.7,451.3h0.85v0.85h-0.85zM294.3,464.1h0.85v0.85h-0.85zM294.4,463.7h0.85v0.85h-0.85zM267.0,454.5h0.85v0.85h-0.85zM272.2,457.7h0.85v0.85h-0.85zM263.7,453.5h0.85v0.85h-0.85zM277.1,442.1h0.85v0.85h-0.85zM261.0,457.7h0.85v0.85h-0.85zM268.0,447.1h0.85v0.85h-0.85zM255.6,449.6h0.85v0.85h-0.85zM258.9,446.6h0.85v0.85h-0.85zM307.1,456.2h0.85v0.85h-0.85zM263.1,455.9h0.85v0.85h-0.85zM305.0,451.7h0.85v0.85h-0.85zM309.9,452.2h0.85v0.85h-0.85zM310.2,446.9h0.85v0.85h-0.85zM297.9,441.7h0.85v0.85h-0.85zM296.4,441.5h0.85v0.85h-0.85zM264.6,458.1h0.85v0.85h-0.85zM259.4,457.5h0.85v0.85h-0.85zM254.0,448.2h0.85v0.85h-0.85zM263.4,453.1h0.85v0.85h-0.85zM266.2,445.0h0.85v0.85h-0.85zM265.6,455.6h0.85v0.85h-0.85zM305.4,455.5h0.85v0.85h-0.85zM270.0,446.2h0.85v0.85h-0.85zM270.6,445.5h0.85v0.85h-0.85zM263.8,456.3h0.85v0.85h-0.85zM258.4,453.0h0.85v0.85h-0.85zM279.3,462.8h0.85v0.85h-0.85zM263.5,442.5h0.85v0.85h-0.85zM287.7,463.3h0.85v0.85h-0.85zM269.1,452.8h0.85v0.85h-0.85zM269.1,445.5h0.85v0.85h-0.85zM266.2,448.8h0.85v0.85h-0.85zM296.6,441.9h0.85v0.85h-0.85zM276.0,442.8h0.85v0.85h-0.85zM263.6,453.3h0.85v0.85h-0.85zM268.4,452.7h0.85v0.85h-0.85zM304.0,458.3h0.85v0.85h-0.85zM259.0,456.8h0.85v0.85h-0.85zM253.4,449.8h0.85v0.85h-0.85zM258.2,461.6h0.85v0.85h-0.85zM268.5,446.1h0.85v0.85h-0.85zM264.8,446.4h0.85v0.85h-0.85zM307.6,452.2h0.85v0.85h-0.85zM258.8,449.9h0.85v0.85h-0.85zM252.3,456.4h0.85v0.85h-0.85zM273.7,459.3h0.85v0.85h-0.85zM265.1,458.3h0.85v0.85h-0.85zM244.7,453.1h0.85v0.85h-0.85zM249.6,453.0h0.85v0.85h-0.85zM256.6,450.9h0.85v0.85h-0.85zM259.5,450.6h0.85v0.85h-0.85zM275.3,441.3h0.85v0.85h-0.85zM267.7,460.5h0.85v0.85h-0.85zM266.6,452.7h0.85v0.85h-0.85zM262.4,456.5h0.85v0.85h-0.85zM295.1,465.5h0.85v0.85h-0.85zM269.3,453.8h0.85v0.85h-0.85zM305.3,448.4h0.85v0.85h-0.85zM273.7,443.5h0.85v0.85h-0.85zM266.6,453.8h0.85v0.85h-0.85zM268.3,457.7h0.85v0.85h-0.85zM266.3,456.2h0.85v0.85h-0.85zM256.6,450.5h0.85v0.85h-0.85zM287.6,464.1h0.85v0.85h-0.85zM268.0,453.0h0.85v0.85h-0.85zM270.1,456.0h0.85v0.85h-0.85zM283.6,441.5h0.85v0.85h-0.85zM251.0,448.1h0.85v0.85h-0.85zM263.3,447.1h0.85v0.85h-0.85zM275.1,462.5h0.85v0.85h-0.85zM265.8,448.2h0.85v0.85h-0.85zM297.7,462.2h0.85v0.85h-0.85zM296.4,438.7h0.85v0.85h-0.85zM256.7,449.6h0.85v0.85h-0.85zM263.2,457.0h0.85v0.85h-0.85zM294.9,441.7h0.85v0.85h-0.85zM269.1,452.5h0.85v0.85h-0.85zM307.0,455.2h0.85v0.85h-0.85zM246.6,457.4h0.85v0.85h-0.85zM260.7,450.3h0.85v0.85h-0.85zM265.8,450.2h0.85v0.85h-0.85zM269.2,456.0h0.85v0.85h-0.85zM265.5,459.2h0.85v0.85h-0.85zM272.1,458.0h0.85v0.85h-0.85zM269.7,442.7h0.85v0.85h-0.85zM269.7,458.4h0.85v0.85h-0.85zM269.8,443.0h0.85v0.85h-0.85zM260.2,449.0h0.85v0.85h-0.85zM265.4,454.4h0.85v0.85h-0.85zM305.8,450.8h0.85v0.85h-0.85zM299.0,463.7h0.85v0.85h-0.85zM257.4,458.4h0.85v0.85h-0.85zM265.7,449.6h0.85v0.85h-0.85zM269.9,455.4h0.85v0.85h-0.85zM263.6,447.5h0.85v0.85h-0.85zM306.0,453.8h0.85v0.85h-0.85zM262.2,452.6h0.85v0.85h-0.85zM264.0,455.3h0.85v0.85h-0.85zM267.2,448.1h0.85v0.85h-0.85zM260.7,448.4h0.85v0.85h-0.85zM265.0,450.8h0.85v0.85h-0.85zM258.0,458.8h0.85v0.85h-0.85zM259.9,448.7h0.85v0.85h-0.85zM268.7,452.1h0.85v0.85h-0.85zM266.1,445.8h0.85v0.85h-0.85zM274.7,460.8h0.85v0.85h-0.85zM277.0,463.5h0.85v0.85h-0.85zM306.6,455.5h0.85v0.85h-0.85zM264.3,457.1h0.85v0.85h-0.85zM266.5,451.9h0.85v0.85h-0.85zM267.3,456.8h0.85v0.85h-0.85zM294.0,440.6h0.85v0.85h-0.85zM267.9,449.7h0.85v0.85h-0.85zM258.1,456.8h0.85v0.85h-0.85zM268.8,454.4h0.85v0.85h-0.85zM245.8,451.3h0.85v0.85h-0.85zM263.1,455.2h0.85v0.85h-0.85zM273.8,462.9h0.85v0.85h-0.85zM268.0,450.2h0.85v0.85h-0.85zM272.1,442.9h0.85v0.85h-0.85zM307.0,450.2h0.85v0.85h-0.85zM273.6,461.1h0.85v0.85h-0.85zM264.2,451.6h0.85v0.85h-0.85zM261.9,452.6h0.85v0.85h-0.85zM269.5,458.1h0.85v0.85h-0.85zM272.8,444.5h0.85v0.85h-0.85zM256.4,456.1h0.85v0.85h-0.85zM261.2,451.6h0.85v0.85h-0.85zM268.6,447.5h0.85v0.85h-0.85zM262.9,450.3h0.85v0.85h-0.85zM253.3,450.8h0.85v0.85h-0.85zM254.7,459.5h0.85v0.85h-0.85zM260.3,455.2h0.85v0.85h-0.85zM264.3,452.3h0.85v0.85h-0.85zM261.3,453.4h0.85v0.85h-0.85zM264.8,446.7h0.85v0.85h-0.85zM270.9,456.4h0.85v0.85h-0.85zM254.8,454.2h0.85v0.85h-0.85zM266.1,449.9h0.85v0.85h-0.85zM259.9,460.0h0.85v0.85h-0.85zM257.7,450.9h0.85v0.85h-0.85z" fill="#222" fill-opacity="0.72"/>
<path d="M294.5,461.9L295.1,461.7L295.8,461.6L296.4,461.4L296.9,461.3L297.5,461.1L298.1,460.9L298.6,460.6L299.0,460.4L299.4,460.1L299.9,459.8L300.4,459.4L300.7,459.1L301.1,458.6L301.4,458.2L301.7,457.9L302.0,457.4L302.2,456.9L302.4,456.4L302.6,455.6L302.8,455.1L302.9,454.4L303.0,453.9L303.0,453.1L303.0,452.4L303.0,451.6L302.9,450.9L302.9,450.4L302.7,449.6L302.6,449.1L302.4,448.6L302.1,447.9L301.9,447.4L301.6,447.0L301.4,446.6L301.0,446.1L300.6,445.7L300.3,445.4L299.9,445.0L299.4,444.6L299.0,444.4L298.6,444.1L298.1,443.9L297.5,443.6L296.9,443.4L296.4,443.2L295.9,443.1L295.1,442.9L294.6,442.8L293.9,442.8L293.1,442.7L292.4,442.6L291.6,442.6L290.9,442.6L290.1,442.6L289.4,442.6L288.6,442.6L287.9,442.6L287.1,442.6L286.4,442.7L285.6,442.7L284.9,442.7L284.1,442.8L283.6,442.9L282.9,442.9L282.1,443.0L281.6,443.1L280.9,443.2L280.3,443.4L279.6,443.5L279.1,443.6L278.4,443.8L277.9,444.0L277.4,444.2L276.9,444.4L276.3,444.6L275.8,444.9L275.3,445.1L274.9,445.4L274.4,445.7L273.9,446.1L273.6,446.4L273.1,446.8L272.9,447.1L272.5,447.6L272.2,448.1L272.0,448.6L271.8,449.1L271.7,449.9L271.6,450.4L271.6,451.1L271.6,451.7L271.8,452.4L271.9,453.1L272.0,453.6L272.2,454.1L272.4,454.6L272.7,455.1L273.0,455.6L273.3,456.1L273.6,456.5L274.0,456.9L274.4,457.3L274.8,457.6L275.1,457.9L275.6,458.2L276.1,458.6L276.6,458.9L277.1,459.1L277.6,459.4L278.1,459.6L278.6,459.8L279.1,460.0L279.6,460.2L280.1,460.4L280.9,460.6L281.4,460.7L281.9,460.9L282.6,461.0L283.1,461.2L283.9,461.3L284.4,461.4L285.1,461.5L285.8,461.6L286.4,461.7L287.1,461.8L287.9,461.8L288.4,461.9L289.1,461.9L289.9,462.0L290.6,462.0L291.4,462.0L292.1,462.0L292.9,462.0L293.6,461.9L294.4,461.9Z" fill="#eaeaea" stroke="none"/>
<path d="M294.2,462.9L294.9,462.8L295.6,462.6L296.1,462.5L296.9,462.4L297.4,462.2L297.9,462.0L298.4,461.8L299.0,461.6L299.4,461.4L299.9,461.1L300.4,460.8L300.9,460.4L301.3,460.1L301.6,459.7L302.0,459.4L302.4,458.9L302.6,458.5L302.9,458.1L303.2,457.6L303.4,457.1L303.6,456.4L303.8,455.9L303.9,455.4L304.1,454.6L304.1,453.9L304.2,453.4L304.2,452.6L304.2,451.9L304.1,451.4L304.1,450.6L304.0,449.9L303.9,449.4L303.7,448.6L303.5,448.1L303.3,447.6L303.1,447.1L302.8,446.6L302.5,446.1L302.1,445.6L301.9,445.3L301.5,444.9L301.1,444.5L300.6,444.1L300.3,443.9L299.9,443.6L299.4,443.3L298.9,443.0L298.4,442.8L297.9,442.6L297.2,442.4L296.6,442.2L296.1,442.1L295.4,441.9L294.9,441.8L294.1,441.7L293.4,441.7L292.6,441.6L291.9,441.6L291.1,441.6L290.4,441.6L289.6,441.6L288.9,441.6L288.1,441.6L287.4,441.6L286.6,441.6L285.9,441.7L285.1,441.7L284.4,441.7L283.6,441.8L282.9,441.8L282.4,441.9L281.6,442.0L280.9,442.1L280.4,442.2L279.6,442.3L279.1,442.4L278.4,442.6L277.9,442.7L277.3,442.9L276.6,443.1L276.1,443.2L275.6,443.4L275.1,443.6L274.6,443.9L274.1,444.1L273.6,444.4L273.1,444.6L272.6,445.0L272.1,445.3L271.8,445.6L271.4,446.0L271.1,446.4L270.7,446.9L270.4,447.3L270.1,447.8L269.9,448.4L269.8,448.9L269.6,449.5L269.6,450.1L269.6,450.9L269.6,451.4L269.7,452.1L269.9,452.9L270.0,453.4L270.1,453.9L270.4,454.6L270.6,455.1L270.9,455.6L271.1,456.0L271.4,456.4L271.8,456.9L272.1,457.2L272.5,457.6L272.9,458.0L273.4,458.4L273.7,458.6L274.1,458.9L274.6,459.2L275.1,459.5L275.6,459.8L276.1,460.0L276.6,460.3L277.1,460.5L277.6,460.7L278.1,460.9L278.8,461.1L279.4,461.3L279.9,461.4L280.5,461.6L281.1,461.8L281.6,461.9L282.4,462.1L282.9,462.1L283.6,462.3L284.1,462.4L284.9,462.5L285.6,462.6L286.1,462.6L286.9,462.7L287.6,462.8L288.4,462.8L288.9,462.9L289.6,462.9L290.4,462.9L291.1,462.9L291.9,462.9L292.6,462.9L293.4,462.9L294.1,462.9Z" fill="none" stroke="#555" stroke-width="0.7"/>
<path d="M292.1,453.9L292.6,453.6L292.9,453.2L293.1,452.6L292.9,452.0L292.5,451.6L292.1,451.4L291.4,451.2L290.6,451.2L289.9,451.3L289.4,451.5L288.9,451.8L288.6,452.1L288.6,452.8L288.9,453.1L289.4,453.5L289.9,453.7L290.5,453.9L291.1,453.9L291.9,453.9ZM292.6,454.4L293.0,454.1L293.4,453.7L293.6,453.3L293.8,452.6L293.6,452.0L293.4,451.5L293.0,451.1L292.6,450.9L291.9,450.6L291.4,450.5L290.6,450.6L290.1,450.6L289.4,450.7L288.9,450.9L288.3,451.1L287.9,451.4L287.5,451.9L287.3,452.4L287.4,452.9L287.8,453.4L288.1,453.6L288.6,453.9L289.1,454.1L289.9,454.4L290.4,454.4L291.1,454.5L291.9,454.5L292.6,454.4ZM292.6,454.9L293.1,454.6L293.5,454.4L293.9,454.0L294.1,453.6L294.4,452.9L294.3,452.1L294.1,451.6L293.8,451.1L293.4,450.7L292.9,450.4L292.4,450.2L291.8,450.1L291.1,450.0L290.4,450.1L289.9,450.1L289.1,450.2L288.6,450.4L287.9,450.6L287.4,450.8L287.0,451.1L286.6,451.5L286.4,452.0L286.4,452.6L286.6,453.1L286.9,453.5L287.3,453.9L287.7,454.1L288.2,454.4L288.9,454.6L289.4,454.7L289.9,454.9L290.6,455.0L291.4,455.0L292.1,455.0ZM292.4,455.4L292.9,455.2L293.4,455.0L293.9,454.7L294.2,454.4L294.6,453.9L294.8,453.4L294.9,452.6L294.8,451.9L294.6,451.4L294.2,450.9L293.9,450.5L293.4,450.2L292.9,449.9L292.4,449.8L291.6,449.6L290.9,449.6L290.1,449.6L289.4,449.7L288.6,449.8L288.1,449.9L287.6,450.1L287.0,450.4L286.6,450.6L286.1,450.9L285.8,451.4L285.5,451.9L285.5,452.6L285.7,453.1L286.1,453.6L286.4,453.9L286.9,454.3L287.4,454.5L287.9,454.7L288.4,454.9L289.0,455.1L289.6,455.2L290.4,455.4L290.9,455.4L291.6,455.4L292.4,455.4ZM293.0,455.6L293.6,455.4L294.0,455.1L294.4,454.8L294.8,454.4L295.1,453.9L295.3,453.4L295.4,452.6L295.3,451.9L295.1,451.4L294.8,450.9L294.4,450.4L294.1,450.1L293.6,449.8L293.1,449.6L292.4,449.4L291.9,449.3L291.1,449.2L290.4,449.2L289.6,449.2L288.9,449.3L288.4,449.4L287.6,449.6L287.1,449.7L286.6,449.9L286.1,450.2L285.6,450.5L285.3,450.9L284.9,451.3L284.7,451.9L284.7,452.6L284.9,453.1L285.2,453.6L285.6,454.0L286.1,454.4L286.5,454.6L287.0,454.9L287.6,455.1L288.1,455.3L288.6,455.4L289.4,455.6L289.9,455.7L290.6,455.8L291.4,455.8L292.1,455.8L292.9,455.6ZM292.5,456.1L293.1,456.0L293.6,455.8L294.1,455.5L294.6,455.1L294.9,454.9L295.3,454.4L295.6,453.9L295.7,453.4L295.8,452.6L295.7,451.9L295.6,451.4L295.3,450.9L295.0,450.4L294.6,450.0L294.1,449.6L293.6,449.4L293.1,449.1L292.6,449.0L291.9,448.9L291.4,448.8L290.6,448.8L289.9,448.8L289.4,448.9L288.6,448.9L287.9,449.1L287.4,449.2L286.8,449.4L286.1,449.6L285.6,449.8L285.2,450.1L284.9,450.4L284.4,450.8L284.1,451.2L283.9,451.9L284.0,452.6L284.1,453.1L284.4,453.6L284.9,454.1L285.2,454.4L285.6,454.7L286.1,455.0L286.6,455.2L287.1,455.4L287.8,455.6L288.4,455.8L288.9,455.9L289.6,456.0L290.3,456.1L290.9,456.1L291.6,456.2L292.4,456.1ZM293.1,456.4L293.6,456.2L294.1,455.9L294.6,455.6L295.0,455.4L295.4,454.9L295.7,454.6L295.9,454.1L296.1,453.4L296.2,452.9L296.2,452.1L296.1,451.6L295.9,451.0L295.6,450.5L295.3,450.1L294.9,449.7L294.5,449.4L294.0,449.1L293.5,448.9L292.9,448.7L292.4,448.6L291.6,448.5L290.9,448.4L290.1,448.4L289.4,448.5L288.6,448.5L288.1,448.6L287.4,448.7L286.9,448.9L286.1,449.1L285.6,449.3L285.1,449.5L284.6,449.8L284.2,450.1L283.9,450.4L283.5,450.9L283.3,451.4L283.2,452.1L283.3,452.9L283.5,453.4L283.8,453.9L284.1,454.2L284.6,454.6L285.0,454.9L285.4,455.1L285.9,455.4L286.5,455.6L287.1,455.8L287.6,456.0L288.1,456.1L288.9,456.3L289.4,456.4L290.1,456.4L290.9,456.5L291.6,456.5L292.4,456.5L293.1,456.4ZM292.2,456.9L292.9,456.8L293.5,456.6L294.1,456.4L294.6,456.1L295.0,455.9L295.4,455.5L295.8,455.1L296.1,454.6L296.4,454.1L296.6,453.6L296.6,453.0L296.7,452.4L296.6,451.9L296.4,451.1L296.2,450.6L295.9,450.1L295.6,449.8L295.2,449.4L294.8,449.1L294.4,448.8L293.9,448.6L293.2,448.4L292.6,448.2L291.9,448.1L291.4,448.1L290.6,448.1L289.9,448.1L289.4,448.1L288.6,448.2L287.9,448.2L287.2,448.4L286.6,448.5L286.1,448.6L285.4,448.8L284.9,449.1L284.4,449.3L283.9,449.6L283.6,449.9L283.1,450.3L282.9,450.6L282.6,451.1L282.5,451.9L282.5,452.6L282.7,453.1L282.9,453.6L283.3,454.1L283.6,454.5L284.1,454.9L284.5,455.1L284.9,455.4L285.4,455.6L286.0,455.9L286.6,456.1L287.1,456.2L287.6,456.4L288.4,456.5L288.9,456.6L289.6,456.7L290.4,456.8L291.0,456.9L291.6,456.9L292.2,456.9ZM293.0,457.1L293.6,456.9L294.1,456.8L294.6,456.5L295.1,456.2L295.6,455.9L295.9,455.6L296.3,455.1L296.6,454.6L296.8,454.1L297.0,453.6L297.1,452.9L297.1,452.1L296.9,451.4L296.8,450.9L296.5,450.4L296.2,449.9L295.9,449.5L295.5,449.1L295.1,448.8L294.6,448.5L294.1,448.3L293.6,448.1L292.9,447.9L292.4,447.8L291.6,447.7L290.9,447.7L290.1,447.7L289.4,447.7L288.6,447.8L287.9,447.8L287.4,447.9L286.6,448.0L286.1,448.2L285.4,448.4L284.9,448.5L284.4,448.7L283.9,449.0L283.4,449.3L283.0,449.6L282.6,449.9L282.2,450.4L282.0,450.9L281.8,451.4L281.7,452.1L281.8,452.9L282.0,453.4L282.3,453.9L282.6,454.3L283.0,454.6L283.4,454.9L283.9,455.3L284.4,455.6L284.9,455.8L285.4,456.1L285.9,456.2L286.4,456.4L287.0,456.6L287.6,456.8L288.1,456.9L288.9,457.0L289.6,457.1L290.1,457.1L290.9,457.2L291.6,457.2L292.4,457.2L293.0,457.1ZM293.6,457.4L294.1,457.2L294.6,457.0L295.1,456.7L295.6,456.4L296.0,456.1L296.4,455.7L296.7,455.4L297.0,454.9L297.2,454.4L297.4,453.8L297.5,453.1L297.5,452.4L297.4,451.6L297.3,451.1L297.1,450.6L296.9,450.1L296.6,449.6L296.1,449.1L295.9,448.9L295.4,448.5L294.9,448.2L294.4,447.9L293.9,447.7L293.4,447.6L292.6,447.4L291.9,447.4L291.4,447.3L290.6,447.3L289.9,447.3L289.1,447.3L288.6,447.4L287.9,447.4L287.1,447.5L286.6,447.6L285.9,447.8L285.4,447.9L284.7,448.1L284.1,448.3L283.6,448.5L283.1,448.8L282.6,449.1L282.3,449.4L281.9,449.7L281.6,450.1L281.3,450.6L281.1,451.1L281.0,451.9L281.0,452.6L281.2,453.1L281.4,453.6L281.7,454.1L282.1,454.6L282.4,454.9L282.9,455.2L283.4,455.6L283.9,455.8L284.4,456.1L284.9,456.3L285.4,456.5L285.9,456.7L286.5,456.9L287.1,457.0L287.6,457.1L288.4,457.3L288.9,457.4L289.6,457.5L290.4,457.5L291.1,457.6L291.9,457.6L292.6,457.5L293.4,457.4ZM293.0,457.9L293.6,457.7L294.1,457.6L294.8,457.4L295.3,457.1L295.7,456.9L296.1,456.5L296.6,456.1L296.9,455.8L297.2,455.4L297.5,454.9L297.7,454.4L297.9,453.6L298.0,453.1L298.0,452.4L297.9,451.6L297.8,451.1L297.6,450.6L297.4,450.1L297.1,449.6L296.8,449.1L296.4,448.7L296.0,448.4L295.6,448.1L295.1,447.8L294.6,447.6L294.0,447.4L293.4,447.2L292.9,447.1L292.1,447.0L291.4,446.9L290.6,446.9L289.9,446.9L289.1,447.0L288.4,447.0L287.6,447.1L287.1,447.1L286.4,447.2L285.7,447.4L285.1,447.5L284.6,447.6L283.9,447.9L283.4,448.1L282.9,448.3L282.4,448.6L281.9,448.9L281.6,449.1L281.1,449.5L280.9,449.9L280.6,450.4L280.4,450.9L280.2,451.6L280.2,452.4L280.4,453.1L280.6,453.6L280.9,454.1L281.1,454.4L281.6,454.9L281.9,455.1L282.4,455.5L282.9,455.8L283.3,456.1L283.9,456.4L284.4,456.6L284.9,456.8L285.4,457.0L285.9,457.1L286.6,457.3L287.1,457.4L287.9,457.6L288.4,457.7L289.1,457.8L289.9,457.9L290.4,457.9L291.1,457.9L291.9,457.9L292.6,457.9ZM293.8,458.1L294.4,457.9L294.9,457.7L295.4,457.5L295.9,457.2L296.4,456.9L296.7,456.6L297.1,456.2L297.4,455.9L297.8,455.4L298.0,454.9L298.2,454.4L298.4,453.6L298.4,453.1L298.4,452.4L298.4,451.7L298.3,451.1L298.1,450.6L297.9,450.0L297.6,449.5L297.4,449.1L296.9,448.6L296.6,448.3L296.1,447.9L295.7,447.6L295.2,447.4L294.6,447.1L294.1,446.9L293.6,446.8L292.9,446.7L292.3,446.6L291.6,446.5L290.9,446.5L290.1,446.5L289.4,446.5L288.6,446.6L288.1,446.6L287.4,446.7L286.6,446.7L285.9,446.9L285.4,446.9L284.7,447.1L284.1,447.2L283.6,447.4L283.1,447.6L282.5,447.9L282.0,448.1L281.6,448.4L281.1,448.6L280.6,449.1L280.4,449.4L280.0,449.9L279.7,450.4L279.5,450.9L279.4,451.6L279.4,451.9L279.5,452.6L279.6,453.2L279.9,453.8L280.1,454.2L280.5,454.6L280.9,455.1L281.2,455.4L281.6,455.7L282.1,456.0L282.6,456.3L283.1,456.6L283.6,456.8L284.1,457.0L284.6,457.2L285.2,457.4L285.9,457.6L286.4,457.7L287.1,457.8L287.6,457.9L288.4,458.1L288.9,458.1L289.6,458.2L290.4,458.3L291.1,458.3L291.9,458.3L292.6,458.3L293.4,458.2ZM293.4,458.6L293.9,458.5L294.5,458.4L295.1,458.1L295.6,457.9L296.1,457.6L296.5,457.4L296.9,457.1L297.4,456.6L297.6,456.3L298.0,455.9L298.3,455.4L298.5,454.9L298.7,454.4L298.9,453.6L298.9,453.1L298.9,452.4L298.9,451.7L298.8,451.1L298.6,450.5L298.4,449.9L298.1,449.4L297.9,449.0L297.6,448.6L297.1,448.1L296.9,447.9L296.4,447.5L295.9,447.2L295.4,446.9L294.9,446.7L294.4,446.6L293.6,446.4L293.1,446.3L292.4,446.2L291.6,446.1L291.1,446.1L290.4,446.1L289.7,446.1L289.1,446.1L288.4,446.1L287.6,446.2L286.9,446.3L286.1,446.3L285.6,446.4L284.9,446.6L284.4,446.7L283.7,446.9L283.1,447.0L282.6,447.2L282.1,447.4L281.6,447.6L281.1,447.9L280.6,448.2L280.1,448.5L279.8,448.9L279.4,449.3L279.1,449.6L278.9,450.1L278.6,450.8L278.6,451.4L278.6,452.1L278.6,452.6L278.9,453.4L279.1,453.9L279.4,454.4L279.6,454.7L280.0,455.1L280.4,455.5L280.9,455.9L281.2,456.1L281.6,456.4L282.1,456.6L282.6,456.9L283.1,457.1L283.7,457.4L284.4,457.6L284.9,457.7L285.4,457.9L286.1,458.1L286.6,458.2L287.4,458.3L287.9,458.4L288.6,458.5L289.4,458.6L289.9,458.6L290.6,458.7L291.4,458.7L292.1,458.7L292.9,458.7ZM293.0,459.1L293.6,459.0L294.4,458.9L294.9,458.7L295.4,458.5L295.9,458.3L296.4,458.0L296.9,457.7L297.4,457.4L297.7,457.1L298.1,456.6L298.4,456.2L298.7,455.9L298.9,455.4L299.1,454.8L299.3,454.1L299.4,453.6L299.5,452.9L299.5,452.1L299.4,451.4L299.3,450.9L299.1,450.3L298.9,449.6L298.6,449.1L298.4,448.7L298.1,448.4L297.7,447.9L297.4,447.6L296.9,447.2L296.4,446.9L295.9,446.6L295.4,446.4L294.9,446.2L294.4,446.0L293.6,445.9L293.1,445.8L292.4,445.7L291.6,445.7L290.9,445.6L290.1,445.6L289.4,445.6L288.6,445.7L287.9,445.7L287.1,445.7L286.4,445.8L285.9,445.9L285.1,446.0L284.5,446.1L283.9,446.2L283.4,446.4L282.6,446.6L282.1,446.7L281.6,446.9L281.1,447.1L280.6,447.4L280.1,447.7L279.6,448.0L279.2,448.4L278.9,448.6L278.5,449.1L278.2,449.6L277.9,450.1L277.7,450.6L277.6,451.2L277.6,451.9L277.7,452.4L277.9,453.1L278.0,453.6L278.3,454.1L278.6,454.6L278.9,455.0L279.2,455.4L279.6,455.7L280.1,456.1L280.5,456.4L280.9,456.6L281.4,456.9L281.9,457.2L282.4,457.4L282.9,457.6L283.6,457.9L284.1,458.0L284.6,458.2L285.2,458.4L285.9,458.5L286.4,458.6L287.1,458.7L287.8,458.9L288.4,458.9L289.1,459.0L289.9,459.1L290.4,459.1L291.1,459.1L291.9,459.1L292.6,459.1ZM292.8,459.6L293.4,459.5L294.1,459.4L294.6,459.3L295.3,459.1L295.9,458.9L296.4,458.6L296.9,458.4L297.3,458.1L297.7,457.9L298.1,457.4L298.5,457.1L298.9,456.6L299.1,456.2L299.4,455.7L299.6,455.2L299.8,454.6L299.9,454.1L300.0,453.4L300.1,452.6L300.0,451.9L300.0,451.1L299.9,450.6L299.6,449.9L299.4,449.4L299.2,448.9L298.9,448.4L298.6,448.1L298.3,447.6L297.9,447.3L297.4,446.9L297.1,446.6L296.6,446.4L296.1,446.1L295.6,445.9L294.9,445.6L294.4,445.5L293.7,445.4L293.1,445.3L292.4,445.2L291.6,445.1L290.9,445.1L290.1,445.1L289.4,445.1L288.6,445.1L287.9,445.2L287.1,445.2L286.4,445.3L285.6,445.3L285.1,445.4L284.4,445.5L283.9,445.6L283.1,445.8L282.6,445.9L282.0,446.1L281.4,446.3L280.9,446.5L280.4,446.7L279.9,446.9L279.4,447.2L278.9,447.5L278.5,447.9L278.1,448.1L277.7,448.6L277.4,449.0L277.1,449.4L276.9,449.9L276.7,450.6L276.6,451.1L276.6,451.9L276.7,452.4L276.9,453.1L277.0,453.6L277.3,454.1L277.6,454.6L277.9,455.1L278.1,455.4L278.6,455.9L278.9,456.1L279.4,456.5L279.9,456.8L280.4,457.1L280.8,457.4L281.3,457.6L281.9,457.8L282.4,458.0L282.9,458.2L283.4,458.4L284.1,458.6L284.6,458.8L285.1,458.9L285.9,459.0L286.4,459.1L287.1,459.3L287.8,459.4L288.4,459.4L289.1,459.5L289.9,459.6L290.6,459.6L291.1,459.6L291.9,459.6L292.6,459.6ZM293.4,460.1L294.1,460.0L294.8,459.9L295.4,459.7L295.9,459.5L296.4,459.3L296.9,459.1L297.4,458.8L297.9,458.5L298.4,458.1L298.7,457.9L299.1,457.4L299.4,457.0L299.7,456.6L300.0,456.1L300.2,455.6L300.4,455.1L300.6,454.4L300.7,453.9L300.7,453.1L300.7,452.4L300.7,451.6L300.6,451.1L300.5,450.4L300.4,449.9L300.1,449.3L299.9,448.7L299.6,448.3L299.4,447.9L299.0,447.4L298.6,447.0L298.2,446.6L297.9,446.4L297.4,446.0L296.9,445.7L296.4,445.5L295.9,445.3L295.3,445.1L294.6,444.9L294.1,444.8L293.4,444.7L292.6,444.6L292.1,444.6L291.4,444.6L290.6,444.5L289.9,444.5L289.1,444.6L288.4,444.6L287.6,444.6L287.1,444.6L286.4,444.7L285.6,444.7L284.9,444.8L284.4,444.9L283.6,445.0L283.1,445.1L282.4,445.3L281.9,445.4L281.1,445.6L280.6,445.8L280.1,445.9L279.6,446.1L279.1,446.4L278.6,446.6L278.1,446.9L277.6,447.3L277.3,447.6L276.9,447.9L276.5,448.4L276.2,448.9L275.9,449.3L275.7,449.9L275.6,450.4L275.5,451.1L275.5,451.9L275.6,452.6L275.7,453.1L275.9,453.6L276.1,454.2L276.4,454.7L276.7,455.1L277.1,455.6L277.4,455.9L277.9,456.4L278.2,456.6L278.6,456.9L279.1,457.3L279.6,457.6L280.1,457.8L280.6,458.1L281.1,458.3L281.6,458.5L282.1,458.7L282.7,458.9L283.4,459.1L283.9,459.2L284.5,459.4L285.1,459.5L285.7,459.6L286.4,459.7L287.1,459.8L287.6,459.9L288.4,460.0L289.1,460.1L289.7,460.1L290.4,460.1L291.1,460.2L291.9,460.2L292.6,460.2L293.4,460.1ZM294.6,460.6L295.1,460.5L295.6,460.3L296.4,460.1L296.9,459.9L297.4,459.7L297.9,459.4L298.4,459.1L298.7,458.9L299.1,458.5L299.6,458.1L299.9,457.7L300.2,457.4L300.5,456.9L300.8,456.4L301.0,455.9L301.2,455.4L301.4,454.6L301.5,454.1L301.5,453.4L301.5,452.6L301.5,451.9L301.5,451.1L301.4,450.6L301.2,449.9L301.1,449.4L300.9,448.9L300.6,448.3L300.4,447.9L300.0,447.4L299.6,446.9L299.4,446.6L298.9,446.1L298.6,445.9L298.1,445.6L297.6,445.3L297.1,445.0L296.6,444.8L296.1,444.6L295.4,444.4L294.9,444.2L294.2,444.1L293.6,444.0L292.9,443.9L292.1,443.9L291.4,443.9L290.6,443.9L289.9,443.9L289.1,443.9L288.4,443.9L287.6,443.9L286.9,443.9L286.1,444.0L285.4,444.0L284.6,444.1L284.1,444.2L283.4,444.3L282.8,444.4L282.1,444.5L281.6,444.6L280.9,444.8L280.4,444.9L279.8,445.1L279.1,445.3L278.6,445.5L278.1,445.7L277.6,446.0L277.1,446.3L276.7,446.6L276.3,446.9L275.9,447.2L275.5,447.6L275.1,448.0L274.9,448.4L274.6,448.9L274.4,449.4L274.2,450.1L274.1,450.6L274.1,451.4L274.1,452.0L274.3,452.6L274.4,453.2L274.6,453.9L274.8,454.4L275.1,454.9L275.4,455.3L275.6,455.6L276.1,456.1L276.4,456.4L276.9,456.9L277.2,457.1L277.6,457.4L278.1,457.8L278.6,458.1L279.1,458.3L279.6,458.6L280.1,458.8L280.6,459.0L281.1,459.2L281.7,459.4L282.4,459.6L282.9,459.7L283.4,459.9L284.1,460.0L284.6,460.1L285.4,460.3L285.9,460.4L286.6,460.5L287.4,460.6L287.9,460.6L288.6,460.7L289.4,460.7L290.1,460.8L290.9,460.8L291.6,460.8L292.4,460.8L293.1,460.8L293.9,460.7L294.6,460.6ZM293.6,461.6L294.1,461.5L294.9,461.4L295.4,461.3L296.1,461.1L296.6,461.0L297.1,460.8L297.7,460.6L298.2,460.4L298.6,460.1L299.1,459.8L299.6,459.4L300.0,459.1L300.4,458.7L300.7,458.4L301.1,457.9L301.4,457.4L301.6,457.0L301.9,456.5L302.1,455.9L302.3,455.4L302.4,454.8L302.5,454.1L302.6,453.4L302.6,452.6L302.6,451.9L302.5,451.1L302.4,450.4L302.3,449.9L302.1,449.2L301.9,448.6L301.7,448.1L301.5,447.6L301.2,447.1L300.9,446.7L300.6,446.4L300.2,445.9L299.9,445.6L299.4,445.2L299.0,444.9L298.6,444.6L298.1,444.4L297.6,444.1L297.0,443.9L296.4,443.6L295.9,443.5L295.3,443.4L294.6,443.2L293.9,443.1L293.4,443.1L292.6,443.0L291.9,443.0L291.1,443.0L290.4,443.0L289.6,443.0L288.9,443.0L288.1,443.0L287.4,443.0L286.6,443.0L285.9,443.1L285.2,443.1L284.6,443.1L283.9,443.2L283.1,443.3L282.6,443.4L281.9,443.5L281.2,443.6L280.6,443.7L280.1,443.9L279.4,444.0L278.9,444.2L278.3,444.4L277.6,444.6L277.1,444.8L276.6,445.0L276.1,445.3L275.6,445.6L275.2,445.9L274.9,446.1L274.4,446.5L274.0,446.9L273.6,447.2L273.4,447.6L273.0,448.1L272.8,448.6L272.6,449.1L272.4,449.9L272.3,450.4L272.3,451.1L272.4,451.9L272.5,452.4L272.6,453.1L272.8,453.6L272.9,454.1L273.2,454.6L273.4,455.1L273.7,455.6L274.1,456.1L274.4,456.4L274.8,456.9L275.1,457.2L275.6,457.6L276.0,457.9L276.4,458.1L276.9,458.4L277.4,458.7L277.9,459.0L278.4,459.2L278.9,459.4L279.4,459.6L279.9,459.9L280.6,460.1L281.1,460.2L281.6,460.4L282.4,460.6L282.9,460.7L283.6,460.9L284.1,461.0L284.9,461.1L285.4,461.2L286.1,461.3L286.7,461.4L287.4,461.4L288.1,461.5L288.9,461.6L289.6,461.6L290.1,461.6L290.9,461.6L291.6,461.7L292.4,461.7L293.1,461.6Z" fill="none" stroke="#333" stroke-width="0.42"/>
<path d="M292.2,453.4L292.5,452.9L292.4,452.1L292.1,451.9L291.4,451.6L290.6,451.7L290.0,451.9L289.6,452.1L289.5,452.9L289.9,453.2L290.4,453.4L291.1,453.5L291.9,453.5Z" fill="#fff" stroke="none"/>
<line x1="241.50" y1="382.10" x2="241.50" y2="500.10" stroke="#222" stroke-width="1.3" />
<line x1="240.90" y1="499.50" x2="362.60" y2="499.50" stroke="#222" stroke-width="1.3" />
<line x1="289.40" y1="382.60" x2="289.40" y2="499.50" stroke="#1a1a1a" stroke-width="1.3" />
<line x1="241.50" y1="472.80" x2="362.10" y2="472.80" stroke="#1a1a1a" stroke-width="1.3" />
<text x="353.00" y="398.60" font-size="8.3" text-anchor="end" fill="#2a2a2a" textLength="22.54" lengthAdjust="spacingAndGlyphs" >42.8%</text>
<text y="513.30" font-size="9" fill="#2a2a2a" stroke="#2a2a2a" stroke-width="0.15"><tspan x="237.55" textLength="7.9" lengthAdjust="spacingAndGlyphs">10</tspan><tspan x="245.75" y="510.10" font-size="5.7">0</tspan></text>
<text y="502.50" font-size="9" fill="#2a2a2a" stroke="#2a2a2a" stroke-width="0.15"><tspan x="222.90" textLength="7.9" lengthAdjust="spacingAndGlyphs">10</tspan><tspan x="231.10" y="499.30" font-size="5.7">0</tspan></text>
<text y="513.30" font-size="9" fill="#2a2a2a" stroke="#2a2a2a" stroke-width="0.15"><tspan x="266.85" textLength="7.9" lengthAdjust="spacingAndGlyphs">10</tspan><tspan x="275.05" y="510.10" font-size="5.7">1</tspan></text>
<text y="473.70" font-size="9" fill="#2a2a2a" stroke="#2a2a2a" stroke-width="0.15"><tspan x="222.90" textLength="7.9" lengthAdjust="spacingAndGlyphs">10</tspan><tspan x="231.10" y="470.50" font-size="5.7">1</tspan></text>
<text y="513.30" font-size="9" fill="#2a2a2a" stroke="#2a2a2a" stroke-width="0.15"><tspan x="296.15" textLength="7.9" lengthAdjust="spacingAndGlyphs">10</tspan><tspan x="304.35" y="510.10" font-size="5.7">2</tspan></text>
<text y="444.90" font-size="9" fill="#2a2a2a" stroke="#2a2a2a" stroke-width="0.15"><tspan x="222.90" textLength="7.9" lengthAdjust="spacingAndGlyphs">10</tspan><tspan x="231.10" y="441.70" font-size="5.7">2</tspan></text>
<text y="513.30" font-size="9" fill="#2a2a2a" stroke="#2a2a2a" stroke-width="0.15"><tspan x="325.45" textLength="7.9" lengthAdjust="spacingAndGlyphs">10</tspan><tspan x="333.65" y="510.10" font-size="5.7">3</tspan></text>
<text y="416.10" font-size="9" fill="#2a2a2a" stroke="#2a2a2a" stroke-width="0.15"><tspan x="222.90" textLength="7.9" lengthAdjust="spacingAndGlyphs">10</tspan><tspan x="231.10" y="412.90" font-size="5.7">3</tspan></text>
<text y="513.30" font-size="9" fill="#2a2a2a" stroke="#2a2a2a" stroke-width="0.15"><tspan x="354.75" textLength="7.9" lengthAdjust="spacingAndGlyphs">10</tspan><tspan x="362.95" y="510.10" font-size="5.7">4</tspan></text>
<text y="387.30" font-size="9" fill="#2a2a2a" stroke="#2a2a2a" stroke-width="0.15"><tspan x="222.90" textLength="7.9" lengthAdjust="spacingAndGlyphs">10</tspan><tspan x="231.10" y="384.10" font-size="5.7">4</tspan></text>
<path d="M387.10,382.60 H507.50 V499.30" fill="none" stroke="#707070" stroke-width="1.1"/>
<line x1="396.16" y1="499.30" x2="396.16" y2="501.00" stroke="#444" stroke-width="0.7" />
<line x1="385.40" y1="490.52" x2="387.10" y2="490.52" stroke="#444" stroke-width="0.7" />
<line x1="401.46" y1="499.30" x2="401.46" y2="501.00" stroke="#444" stroke-width="0.7" />
<line x1="385.40" y1="485.38" x2="387.10" y2="485.38" stroke="#444" stroke-width="0.7" />
<line x1="405.22" y1="499.30" x2="405.22" y2="501.00" stroke="#444" stroke-width="0.7" />
<line x1="385.40" y1="481.73" x2="387.10" y2="481.73" stroke="#444" stroke-width="0.7" />
<line x1="408.14" y1="499.30" x2="408.14" y2="501.00" stroke="#444" stroke-width="0.7" />
<line x1="385.40" y1="478.91" x2="387.10" y2="478.91" stroke="#444" stroke-width="0.7" />
<line x1="410.52" y1="499.30" x2="410.52" y2="501.00" stroke="#444" stroke-width="0.7" />
<line x1="385.40" y1="476.60" x2="387.10" y2="476.60" stroke="#444" stroke-width="0.7" />
<line x1="412.54" y1="499.30" x2="412.54" y2="501.00" stroke="#444" stroke-width="0.7" />
<line x1="385.40" y1="474.64" x2="387.10" y2="474.64" stroke="#444" stroke-width="0.7" />
<line x1="414.28" y1="499.30" x2="414.28" y2="501.00" stroke="#444" stroke-width="0.7" />
<line x1="385.40" y1="472.95" x2="387.10" y2="472.95" stroke="#444" stroke-width="0.7" />
<line x1="415.82" y1="499.30" x2="415.82" y2="501.00" stroke="#444" stroke-width="0.7" />
<line x1="385.40" y1="471.46" x2="387.10" y2="471.46" stroke="#444" stroke-width="0.7" />
<line x1="426.26" y1="499.30" x2="426.26" y2="501.00" stroke="#444" stroke-width="0.7" />
<line x1="385.40" y1="461.34" x2="387.10" y2="461.34" stroke="#444" stroke-width="0.7" />
<line x1="431.56" y1="499.30" x2="431.56" y2="501.00" stroke="#444" stroke-width="0.7" />
<line x1="385.40" y1="456.20" x2="387.10" y2="456.20" stroke="#444" stroke-width="0.7" />
<line x1="435.32" y1="499.30" x2="435.32" y2="501.00" stroke="#444" stroke-width="0.7" />
<line x1="385.40" y1="452.56" x2="387.10" y2="452.56" stroke="#444" stroke-width="0.7" />
<line x1="438.24" y1="499.30" x2="438.24" y2="501.00" stroke="#444" stroke-width="0.7" />
<line x1="385.40" y1="449.73" x2="387.10" y2="449.73" stroke="#444" stroke-width="0.7" />
<line x1="440.62" y1="499.30" x2="440.62" y2="501.00" stroke="#444" stroke-width="0.7" />
<line x1="385.40" y1="447.42" x2="387.10" y2="447.42" stroke="#444" stroke-width="0.7" />
<line x1="442.64" y1="499.30" x2="442.64" y2="501.00" stroke="#444" stroke-width="0.7" />
<line x1="385.40" y1="445.47" x2="387.10" y2="445.47" stroke="#444" stroke-width="0.7" />
<line x1="444.38" y1="499.30" x2="444.38" y2="501.00" stroke="#444" stroke-width="0.7" />
<line x1="385.40" y1="443.78" x2="387.10" y2="443.78" stroke="#444" stroke-width="0.7" />
<line x1="445.92" y1="499.30" x2="445.92" y2="501.00" stroke="#444" stroke-width="0.7" />
<line x1="385.40" y1="442.28" x2="387.10" y2="442.28" stroke="#444" stroke-width="0.7" />
<line x1="456.36" y1="499.30" x2="456.36" y2="501.00" stroke="#444" stroke-width="0.7" />
<line x1="385.40" y1="432.17" x2="387.10" y2="432.17" stroke="#444" stroke-width="0.7" />
<line x1="461.66" y1="499.30" x2="461.66" y2="501.00" stroke="#444" stroke-width="0.7" />
<line x1="385.40" y1="427.03" x2="387.10" y2="427.03" stroke="#444" stroke-width="0.7" />
<line x1="465.42" y1="499.30" x2="465.42" y2="501.00" stroke="#444" stroke-width="0.7" />
<line x1="385.40" y1="423.38" x2="387.10" y2="423.38" stroke="#444" stroke-width="0.7" />
<line x1="468.34" y1="499.30" x2="468.34" y2="501.00" stroke="#444" stroke-width="0.7" />
<line x1="385.40" y1="420.56" x2="387.10" y2="420.56" stroke="#444" stroke-width="0.7" />
<line x1="470.72" y1="499.30" x2="470.72" y2="501.00" stroke="#444" stroke-width="0.7" />
<line x1="385.40" y1="418.25" x2="387.10" y2="418.25" stroke="#444" stroke-width="0.7" />
<line x1="472.74" y1="499.30" x2="472.74" y2="501.00" stroke="#444" stroke-width="0.7" />
<line x1="385.40" y1="416.29" x2="387.10" y2="416.29" stroke="#444" stroke-width="0.7" />
<line x1="474.48" y1="499.30" x2="474.48" y2="501.00" stroke="#444" stroke-width="0.7" />
<line x1="385.40" y1="414.60" x2="387.10" y2="414.60" stroke="#444" stroke-width="0.7" />
<line x1="476.02" y1="499.30" x2="476.02" y2="501.00" stroke="#444" stroke-width="0.7" />
<line x1="385.40" y1="413.11" x2="387.10" y2="413.11" stroke="#444" stroke-width="0.7" />
<line x1="486.46" y1="499.30" x2="486.46" y2="501.00" stroke="#444" stroke-width="0.7" />
<line x1="385.40" y1="402.99" x2="387.10" y2="402.99" stroke="#444" stroke-width="0.7" />
<line x1="491.76" y1="499.30" x2="491.76" y2="501.00" stroke="#444" stroke-width="0.7" />
<line x1="385.40" y1="397.85" x2="387.10" y2="397.85" stroke="#444" stroke-width="0.7" />
<line x1="495.52" y1="499.30" x2="495.52" y2="501.00" stroke="#444" stroke-width="0.7" />
<line x1="385.40" y1="394.21" x2="387.10" y2="394.21" stroke="#444" stroke-width="0.7" />
<line x1="498.44" y1="499.30" x2="498.44" y2="501.00" stroke="#444" stroke-width="0.7" />
<line x1="385.40" y1="391.38" x2="387.10" y2="391.38" stroke="#444" stroke-width="0.7" />
<line x1="500.82" y1="499.30" x2="500.82" y2="501.00" stroke="#444" stroke-width="0.7" />
<line x1="385.40" y1="389.07" x2="387.10" y2="389.07" stroke="#444" stroke-width="0.7" />
<line x1="502.84" y1="499.30" x2="502.84" y2="501.00" stroke="#444" stroke-width="0.7" />
<line x1="385.40" y1="387.12" x2="387.10" y2="387.12" stroke="#444" stroke-width="0.7" />
<line x1="504.58" y1="499.30" x2="504.58" y2="501.00" stroke="#444" stroke-width="0.7" />
<line x1="385.40" y1="385.43" x2="387.10" y2="385.43" stroke="#444" stroke-width="0.7" />
<line x1="506.12" y1="499.30" x2="506.12" y2="501.00" stroke="#444" stroke-width="0.7" />
<line x1="385.40" y1="383.93" x2="387.10" y2="383.93" stroke="#444" stroke-width="0.7" />
<line x1="387.10" y1="499.30" x2="387.10" y2="502.10" stroke="#222" stroke-width="1.1" />
<line x1="384.30" y1="499.30" x2="387.10" y2="499.30" stroke="#222" stroke-width="1.1" />
<line x1="417.20" y1="499.30" x2="417.20" y2="502.10" stroke="#222" stroke-width="1.1" />
<line x1="384.30" y1="470.12" x2="387.10" y2="470.12" stroke="#222" stroke-width="1.1" />
<line x1="447.30" y1="499.30" x2="447.30" y2="502.10" stroke="#222" stroke-width="1.1" />
<line x1="384.30" y1="440.95" x2="387.10" y2="440.95" stroke="#222" stroke-width="1.1" />
<line x1="477.40" y1="499.30" x2="477.40" y2="502.10" stroke="#222" stroke-width="1.1" />
<line x1="384.30" y1="411.78" x2="387.10" y2="411.78" stroke="#222" stroke-width="1.1" />
<line x1="507.50" y1="499.30" x2="507.50" y2="502.10" stroke="#222" stroke-width="1.1" />
<line x1="384.30" y1="382.60" x2="387.10" y2="382.60" stroke="#222" stroke-width="1.1" />
<path d="M433.1,458.5h0.85v0.85h-0.85zM427.2,456.9h0.85v0.85h-0.85zM408.7,449.6h0.85v0.85h-0.85zM439.5,442.6h0.85v0.85h-0.85zM410.7,451.8h0.85v0.85h-0.85zM431.3,451.3h0.85v0.85h-0.85zM401.8,454.0h0.85v0.85h-0.85zM431.6,448.3h0.85v0.85h-0.85zM435.6,454.0h0.85v0.85h-0.85zM417.1,457.7h0.85v0.85h-0.85zM432.1,452.4h0.85v0.85h-0.85zM434.0,450.3h0.85v0.85h-0.85zM429.9,455.2h0.85v0.85h-0.85zM434.9,448.5h0.85v0.85h-0.85zM408.6,444.7h0.85v0.85h-0.85zM441.1,441.0h0.85v0.85h-0.85zM424.1,450.6h0.85v0.85h-0.85zM434.5,458.5h0.85v0.85h-0.85zM414.7,451.4h0.85v0.85h-0.85zM423.4,453.2h0.85v0.85h-0.85zM468.2,446.5h0.85v0.85h-0.85zM401.0,456.5h0.85v0.85h-0.85zM430.9,448.6h0.85v0.85h-0.85zM431.5,459.4h0.85v0.85h-0.85zM435.4,450.5h0.85v0.85h-0.85zM422.8,452.4h0.85v0.85h-0.85zM429.7,459.9h0.85v0.85h-0.85zM435.0,451.4h0.85v0.85h-0.85zM426.3,450.8h0.85v0.85h-0.85zM413.4,455.5h0.85v0.85h-0.85zM424.1,454.5h0.85v0.85h-0.85zM431.0,447.1h0.85v0.85h-0.85zM433.2,461.1h0.85v0.85h-0.85zM426.3,443.1h0.85v0.85h-0.85zM432.9,449.2h0.85v0.85h-0.85zM470.0,453.7h0.85v0.85h-0.85zM431.7,452.7h0.85v0.85h-0.85zM425.2,451.3h0.85v0.85h-0.85zM464.3,460.6h0.85v0.85h-0.85zM407.2,448.7h0.85v0.85h-0.85zM435.5,450.5h0.85v0.85h-0.85zM410.5,451.5h0.85v0.85h-0.85zM419.7,458.5h0.85v0.85h-0.85zM424.7,452.1h0.85v0.85h-0.85zM431.5,460.0h0.85v0.85h-0.85zM432.9,459.8h0.85v0.85h-0.85zM426.5,454.1h0.85v0.85h-0.85zM434.6,451.0h0.85v0.85h-0.85zM423.8,452.0h0.85v0.85h-0.85zM408.8,456.8h0.85v0.85h-0.85zM423.9,456.1h0.85v0.85h-0.85zM400.5,442.2h0.85v0.85h-0.85zM422.2,459.9h0.85v0.85h-0.85zM432.6,448.0h0.85v0.85h-0.85zM423.8,453.4h0.85v0.85h-0.85zM435.4,451.4h0.85v0.85h-0.85zM406.5,455.6h0.85v0.85h-0.85zM421.2,452.2h0.85v0.85h-0.85zM401.3,450.3h0.85v0.85h-0.85zM429.0,446.0h0.85v0.85h-0.85zM435.2,453.6h0.85v0.85h-0.85zM414.3,453.2h0.85v0.85h-0.85zM424.2,454.6h0.85v0.85h-0.85zM418.0,446.4h0.85v0.85h-0.85zM433.3,450.2h0.85v0.85h-0.85zM423.8,450.0h0.85v0.85h-0.85zM427.9,453.0h0.85v0.85h-0.85zM421.8,452.9h0.85v0.85h-0.85zM426.2,452.5h0.85v0.85h-0.85zM429.8,445.9h0.85v0.85h-0.85zM431.5,439.7h0.85v0.85h-0.85zM400.8,453.3h0.85v0.85h-0.85zM433.5,453.2h0.85v0.85h-0.85zM408.7,458.4h0.85v0.85h-0.85zM424.5,445.7h0.85v0.85h-0.85zM417.3,449.9h0.85v0.85h-0.85zM434.1,449.1h0.85v0.85h-0.85zM432.1,448.7h0.85v0.85h-0.85zM435.3,449.0h0.85v0.85h-0.85zM429.8,446.4h0.85v0.85h-0.85zM417.1,449.6h0.85v0.85h-0.85zM431.9,452.7h0.85v0.85h-0.85zM421.5,447.6h0.85v0.85h-0.85zM433.0,451.1h0.85v0.85h-0.85zM428.1,449.7h0.85v0.85h-0.85zM424.2,457.2h0.85v0.85h-0.85zM416.0,457.3h0.85v0.85h-0.85zM459.8,463.5h0.85v0.85h-0.85zM425.3,454.9h0.85v0.85h-0.85zM399.9,455.0h0.85v0.85h-0.85zM432.3,453.6h0.85v0.85h-0.85zM401.4,455.4h0.85v0.85h-0.85zM430.1,449.4h0.85v0.85h-0.85zM407.2,457.5h0.85v0.85h-0.85zM426.3,456.1h0.85v0.85h-0.85zM452.8,440.8h0.85v0.85h-0.85zM434.6,450.2h0.85v0.85h-0.85zM433.5,454.1h0.85v0.85h-0.85zM410.5,458.4h0.85v0.85h-0.85zM439.9,440.5h0.85v0.85h-0.85zM419.1,450.1h0.85v0.85h-0.85zM407.1,457.3h0.85v0.85h-0.85zM434.2,452.7h0.85v0.85h-0.85zM415.7,454.0h0.85v0.85h-0.85zM402.4,452.5h0.85v0.85h-0.85zM434.2,450.6h0.85v0.85h-0.85zM453.6,465.4h0.85v0.85h-0.85zM429.7,449.9h0.85v0.85h-0.85zM414.0,455.5h0.85v0.85h-0.85zM428.2,455.9h0.85v0.85h-0.85zM433.4,457.7h0.85v0.85h-0.85zM420.9,455.3h0.85v0.85h-0.85zM417.8,451.6h0.85v0.85h-0.85zM417.0,460.1h0.85v0.85h-0.85zM428.9,456.3h0.85v0.85h-0.85zM429.6,448.0h0.85v0.85h-0.85zM422.8,450.6h0.85v0.85h-0.85zM435.3,452.1h0.85v0.85h-0.85zM421.9,450.1h0.85v0.85h-0.85zM416.0,448.2h0.85v0.85h-0.85zM423.2,451.5h0.85v0.85h-0.85zM412.1,450.8h0.85v0.85h-0.85zM435.5,456.9h0.85v0.85h-0.85zM413.9,445.3h0.85v0.85h-0.85zM414.4,447.3h0.85v0.85h-0.85zM429.2,454.7h0.85v0.85h-0.85zM431.1,451.0h0.85v0.85h-0.85zM417.5,448.4h0.85v0.85h-0.85zM433.8,448.7h0.85v0.85h-0.85zM432.5,455.3h0.85v0.85h-0.85zM417.1,455.3h0.85v0.85h-0.85zM421.1,460.9h0.85v0.85h-0.85zM427.1,447.8h0.85v0.85h-0.85zM433.6,450.9h0.85v0.85h-0.85zM469.3,452.6h0.85v0.85h-0.85zM416.6,447.1h0.85v0.85h-0.85zM424.9,458.9h0.85v0.85h-0.85zM432.2,444.2h0.85v0.85h-0.85zM436.7,446.4h0.85v0.85h-0.85zM432.1,454.8h0.85v0.85h-0.85zM410.8,459.2h0.85v0.85h-0.85zM435.1,451.8h0.85v0.85h-0.85zM426.0,452.2h0.85v0.85h-0.85zM432.0,453.2h0.85v0.85h-0.85zM423.9,458.1h0.85v0.85h-0.85zM422.3,458.8h0.85v0.85h-0.85zM418.7,456.3h0.85v0.85h-0.85zM406.4,451.6h0.85v0.85h-0.85zM423.9,442.0h0.85v0.85h-0.85zM433.9,454.3h0.85v0.85h-0.85zM412.5,451.6h0.85v0.85h-0.85zM401.2,444.4h0.85v0.85h-0.85zM417.1,455.3h0.85v0.85h-0.85zM409.8,452.3h0.85v0.85h-0.85zM427.8,458.8h0.85v0.85h-0.85zM430.1,454.8h0.85v0.85h-0.85zM432.3,448.4h0.85v0.85h-0.85zM418.6,451.0h0.85v0.85h-0.85zM462.7,463.8h0.85v0.85h-0.85zM427.3,443.9h0.85v0.85h-0.85zM434.6,449.3h0.85v0.85h-0.85zM400.3,456.1h0.85v0.85h-0.85zM402.7,456.3h0.85v0.85h-0.85zM457.7,440.4h0.85v0.85h-0.85zM435.2,457.0h0.85v0.85h-0.85zM469.1,446.7h0.85v0.85h-0.85zM431.1,449.3h0.85v0.85h-0.85zM433.8,447.9h0.85v0.85h-0.85zM421.2,452.0h0.85v0.85h-0.85zM430.5,456.4h0.85v0.85h-0.85zM422.3,449.3h0.85v0.85h-0.85zM416.1,446.0h0.85v0.85h-0.85zM423.6,457.5h0.85v0.85h-0.85zM411.8,454.4h0.85v0.85h-0.85zM434.9,454.2h0.85v0.85h-0.85zM418.5,455.3h0.85v0.85h-0.85zM425.8,458.2h0.85v0.85h-0.85zM427.3,452.8h0.85v0.85h-0.85zM427.6,450.4h0.85v0.85h-0.85zM410.3,461.7h0.85v0.85h-0.85zM401.9,451.7h0.85v0.85h-0.85zM414.9,452.2h0.85v0.85h-0.85zM434.5,448.1h0.85v0.85h-0.85zM432.0,448.8h0.85v0.85h-0.85zM409.9,456.7h0.85v0.85h-0.85zM425.5,451.9h0.85v0.85h-0.85zM404.4,447.4h0.85v0.85h-0.85zM435.1,452.4h0.85v0.85h-0.85zM468.9,458.0h0.85v0.85h-0.85zM426.5,454.0h0.85v0.85h-0.85zM417.4,459.5h0.85v0.85h-0.85zM427.2,466.2h0.85v0.85h-0.85zM458.3,464.1h0.85v0.85h-0.85zM418.0,454.7h0.85v0.85h-0.85zM428.0,446.2h0.85v0.85h-0.85zM413.4,452.9h0.85v0.85h-0.85zM424.6,455.8h0.85v0.85h-0.85zM427.7,453.6h0.85v0.85h-0.85zM453.4,436.1h0.85v0.85h-0.85zM433.6,450.4h0.85v0.85h-0.85zM434.0,448.9h0.85v0.85h-0.85zM412.5,458.5h0.85v0.85h-0.85zM434.2,448.8h0.85v0.85h-0.85zM434.1,448.1h0.85v0.85h-0.85zM406.9,458.5h0.85v0.85h-0.85zM421.1,445.7h0.85v0.85h-0.85zM455.3,466.2h0.85v0.85h-0.85zM421.5,453.6h0.85v0.85h-0.85zM431.6,458.1h0.85v0.85h-0.85zM435.0,447.8h0.85v0.85h-0.85zM414.9,456.7h0.85v0.85h-0.85zM434.6,453.3h0.85v0.85h-0.85zM412.5,447.9h0.85v0.85h-0.85zM434.7,456.4h0.85v0.85h-0.85zM422.4,449.1h0.85v0.85h-0.85zM405.1,448.2h0.85v0.85h-0.85zM435.7,453.6h0.85v0.85h-0.85zM423.7,453.8h0.85v0.85h-0.85zM433.2,448.7h0.85v0.85h-0.85zM403.2,442.0h0.85v0.85h-0.85zM417.7,453.6h0.85v0.85h-0.85zM423.3,448.3h0.85v0.85h-0.85zM428.3,449.0h0.85v0.85h-0.85zM425.8,446.9h0.85v0.85h-0.85zM410.7,453.2h0.85v0.85h-0.85zM422.5,455.8h0.85v0.85h-0.85zM427.7,453.7h0.85v0.85h-0.85zM426.2,450.4h0.85v0.85h-0.85zM430.5,445.5h0.85v0.85h-0.85zM428.9,445.2h0.85v0.85h-0.85zM431.7,450.7h0.85v0.85h-0.85zM410.0,451.9h0.85v0.85h-0.85zM433.7,450.9h0.85v0.85h-0.85zM435.2,450.9h0.85v0.85h-0.85zM425.8,446.7h0.85v0.85h-0.85zM419.7,455.2h0.85v0.85h-0.85zM415.0,449.8h0.85v0.85h-0.85zM417.0,450.6h0.85v0.85h-0.85zM428.3,445.8h0.85v0.85h-0.85zM410.7,450.0h0.85v0.85h-0.85zM427.3,446.0h0.85v0.85h-0.85zM407.0,459.5h0.85v0.85h-0.85zM426.0,464.8h0.85v0.85h-0.85zM432.8,450.0h0.85v0.85h-0.85zM426.8,443.5h0.85v0.85h-0.85zM424.5,449.1h0.85v0.85h-0.85zM413.2,451.1h0.85v0.85h-0.85zM444.7,464.5h0.85v0.85h-0.85zM435.1,461.1h0.85v0.85h-0.85zM432.9,455.3h0.85v0.85h-0.85zM434.9,454.8h0.85v0.85h-0.85zM429.4,454.6h0.85v0.85h-0.85zM433.2,452.0h0.85v0.85h-0.85zM425.3,449.0h0.85v0.85h-0.85zM421.9,453.3h0.85v0.85h-0.85zM433.0,452.5h0.85v0.85h-0.85zM419.3,451.6h0.85v0.85h-0.85zM424.9,452.3h0.85v0.85h-0.85zM432.9,449.7h0.85v0.85h-0.85zM425.1,459.7h0.85v0.85h-0.85zM407.3,463.0h0.85v0.85h-0.85zM420.2,446.1h0.85v0.85h-0.85zM467.5,457.6h0.85v0.85h-0.85zM435.0,446.8h0.85v0.85h-0.85zM423.8,449.3h0.85v0.85h-0.85zM417.8,446.8h0.85v0.85h-0.85zM430.3,454.3h0.85v0.85h-0.85zM421.4,449.4h0.85v0.85h-0.85zM422.2,439.8h0.85v0.85h-0.85zM419.6,464.3h0.85v0.85h-0.85zM408.7,451.4h0.85v0.85h-0.85zM432.8,448.9h0.85v0.85h-0.85zM422.5,451.2h0.85v0.85h-0.85zM472.8,452.7h0.85v0.85h-0.85zM424.5,446.0h0.85v0.85h-0.85zM422.3,447.7h0.85v0.85h-0.85zM428.8,451.9h0.85v0.85h-0.85zM430.9,454.4h0.85v0.85h-0.85zM429.9,450.8h0.85v0.85h-0.85zM431.7,453.7h0.85v0.85h-0.85zM404.0,448.5h0.85v0.85h-0.85zM468.7,445.1h0.85v0.85h-0.85zM411.2,448.0h0.85v0.85h-0.85zM435.8,456.6h0.85v0.85h-0.85zM433.4,461.1h0.85v0.85h-0.85zM415.8,461.6h0.85v0.85h-0.85zM469.3,449.2h0.85v0.85h-0.85zM433.9,454.3h0.85v0.85h-0.85zM430.4,459.1h0.85v0.85h-0.85zM420.1,458.3h0.85v0.85h-0.85zM422.1,452.2h0.85v0.85h-0.85zM435.6,453.8h0.85v0.85h-0.85zM433.0,447.7h0.85v0.85h-0.85zM434.7,449.6h0.85v0.85h-0.85zM433.8,448.1h0.85v0.85h-0.85zM422.8,456.0h0.85v0.85h-0.85zM400.8,455.9h0.85v0.85h-0.85zM423.5,449.0h0.85v0.85h-0.85zM420.5,464.3h0.85v0.85h-0.85zM409.1,452.7h0.85v0.85h-0.85z" fill="#222" fill-opacity="0.72"/>
<path d="M455.0,463.0L455.6,462.9L456.4,462.8L456.9,462.7L457.6,462.5L458.1,462.4L458.6,462.2L459.3,462.0L459.9,461.8L460.4,461.5L460.9,461.3L461.3,461.0L461.7,460.8L462.1,460.4L462.6,460.0L462.9,459.8L463.3,459.2L463.6,458.9L463.9,458.5L464.2,458.0L464.4,457.5L464.6,457.0L464.9,456.4L465.0,455.8L465.1,455.2L465.3,454.5L465.3,453.8L465.4,453.2L465.4,452.5L465.4,451.8L465.4,451.0L465.4,450.5L465.3,449.8L465.1,449.0L465.0,448.5L464.8,448.0L464.6,447.5L464.4,447.0L464.1,446.5L463.7,446.0L463.4,445.6L463.0,445.2L462.6,444.9L462.1,444.5L461.8,444.2L461.4,444.0L460.9,443.7L460.4,443.5L459.8,443.2L459.1,443.0L458.6,442.9L458.1,442.7L457.4,442.5L456.9,442.4L456.1,442.3L455.6,442.2L454.9,442.2L454.1,442.1L453.4,442.1L452.6,442.0L451.9,442.0L451.1,442.0L450.4,442.0L449.6,442.0L448.9,442.0L448.1,442.1L447.4,442.1L446.6,442.2L446.1,442.2L445.4,442.4L444.7,442.5L444.1,442.6L443.6,442.8L442.9,443.0L442.4,443.2L441.9,443.5L441.4,443.7L440.9,444.0L440.5,444.2L440.1,444.5L439.6,445.0L439.3,445.2L438.9,445.8L438.6,446.2L438.4,446.6L438.1,447.1L437.9,447.6L437.6,448.2L437.5,448.8L437.4,449.5L437.3,450.0L437.2,450.8L437.2,451.5L437.2,452.2L437.2,453.0L437.2,453.8L437.3,454.5L437.4,455.0L437.5,455.8L437.7,456.2L437.9,456.9L438.1,457.5L438.3,458.0L438.6,458.5L438.9,458.9L439.1,459.3L439.5,459.8L439.9,460.1L440.3,460.5L440.6,460.8L441.1,461.1L441.6,461.4L442.1,461.7L442.6,461.9L443.1,462.1L443.6,462.3L444.2,462.5L444.9,462.7L445.4,462.8L446.1,462.9L446.7,463.0L447.4,463.1L448.1,463.1L448.9,463.2L449.6,463.2L450.4,463.2L451.1,463.2L451.9,463.2L452.6,463.2L453.4,463.1L454.1,463.1L454.9,463.0Z" fill="#eaeaea" stroke="none"/>
<path d="M453.8,464.2L454.4,464.2L455.1,464.2L455.9,464.1L456.4,464.0L457.1,463.9L457.7,463.8L458.4,463.6L458.9,463.5L459.5,463.2L460.1,463.0L460.6,462.8L461.1,462.6L461.6,462.4L462.1,462.1L462.6,461.8L463.0,461.5L463.4,461.2L463.9,460.8L464.1,460.5L464.6,460.0L464.9,459.7L465.2,459.2L465.5,458.8L465.7,458.2L466.0,457.8L466.2,457.2L466.4,456.7L466.5,456.0L466.6,455.5L466.8,454.8L466.8,454.0L466.9,453.5L466.9,452.8L466.9,452.0L466.9,451.2L466.9,450.6L466.8,450.0L466.7,449.2L466.6,448.7L466.4,448.0L466.2,447.5L466.0,447.0L465.8,446.5L465.5,446.0L465.1,445.5L464.9,445.1L464.5,444.8L464.1,444.4L463.7,444.0L463.3,443.8L462.9,443.4L462.4,443.1L461.9,442.9L461.4,442.6L460.9,442.4L460.4,442.2L459.7,442.0L459.1,441.8L458.6,441.7L457.9,441.5L457.4,441.4L456.6,441.3L456.0,441.2L455.4,441.2L454.6,441.1L453.9,441.1L453.1,441.0L452.4,441.0L451.6,441.0L450.9,441.0L450.1,441.0L449.4,441.0L448.6,441.0L447.9,441.1L447.1,441.1L446.4,441.2L445.7,441.2L445.1,441.3L444.4,441.5L443.9,441.6L443.2,441.8L442.6,441.9L442.1,442.1L441.6,442.3L441.1,442.5L440.6,442.8L440.1,443.0L439.6,443.4L439.1,443.7L438.8,444.0L438.4,444.4L438.0,444.8L437.6,445.2L437.4,445.6L437.1,446.0L436.8,446.5L436.6,447.1L436.4,447.8L436.2,448.2L436.1,448.8L436.0,449.5L435.9,450.2L435.9,451.0L435.9,451.8L435.9,452.5L435.9,453.2L435.9,454.0L436.0,454.8L436.1,455.5L436.2,456.0L436.3,456.8L436.5,457.2L436.7,457.8L436.9,458.2L437.1,458.8L437.4,459.2L437.7,459.8L438.1,460.2L438.4,460.5L438.8,461.0L439.1,461.3L439.6,461.7L440.1,462.0L440.4,462.2L440.9,462.5L441.4,462.8L441.9,463.0L442.5,463.2L443.1,463.5L443.6,463.6L444.2,463.8L444.9,463.9L445.4,464.0L446.1,464.1L446.9,464.2L447.6,464.2L448.1,464.3L448.9,464.3L449.6,464.3L450.4,464.3L451.1,464.3L451.9,464.3L452.6,464.3L453.4,464.3Z" fill="none" stroke="#555" stroke-width="0.7"/>
<path d="M451.4,453.5L452.0,453.2L452.4,452.9L452.6,452.5L452.7,451.8L452.4,451.2L452.1,451.0L451.6,450.7L450.9,450.6L450.1,450.6L449.6,450.8L449.1,451.1L448.8,451.5L448.7,452.2L448.9,452.8L449.4,453.2L449.9,453.5L450.4,453.6L451.1,453.6ZM451.3,454.2L451.9,454.1L452.4,453.9L452.9,453.6L453.2,453.2L453.5,452.8L453.6,452.2L453.6,451.6L453.4,451.1L453.1,450.8L452.6,450.4L452.1,450.2L451.4,450.0L450.9,449.9L450.1,450.0L449.6,450.1L449.1,450.3L448.6,450.6L448.2,451.0L447.9,451.5L447.8,452.0L447.9,452.5L448.1,453.0L448.5,453.5L448.9,453.8L449.4,454.1L450.0,454.2L450.6,454.3L451.3,454.2ZM451.7,454.8L452.4,454.6L452.9,454.3L453.4,454.0L453.7,453.8L454.0,453.2L454.3,452.8L454.4,452.2L454.4,451.6L454.1,451.0L453.9,450.6L453.4,450.2L453.0,450.0L452.5,449.8L451.9,449.6L451.4,449.5L450.6,449.4L449.9,449.5L449.4,449.6L448.9,449.8L448.4,450.0L447.9,450.4L447.6,450.8L447.3,451.2L447.2,452.0L447.3,452.8L447.5,453.2L447.8,453.8L448.1,454.0L448.6,454.4L449.1,454.6L449.6,454.8L450.4,454.9L451.1,454.8L451.7,454.8ZM451.8,455.2L452.4,455.1L452.9,454.9L453.4,454.7L453.9,454.4L454.2,454.0L454.6,453.5L454.9,453.0L455.0,452.5L455.0,451.8L454.9,451.1L454.6,450.6L454.3,450.2L453.9,449.9L453.4,449.6L452.9,449.4L452.4,449.2L451.6,449.1L450.9,449.0L450.1,449.0L449.4,449.1L448.9,449.3L448.3,449.5L447.9,449.8L447.4,450.2L447.1,450.5L446.8,451.0L446.6,451.7L446.6,452.2L446.7,452.8L446.9,453.3L447.1,453.8L447.5,454.2L447.9,454.5L448.4,454.8L448.9,455.1L449.5,455.2L450.1,455.3L450.9,455.4L451.6,455.3ZM451.6,455.8L452.4,455.6L452.9,455.5L453.4,455.2L453.9,455.0L454.4,454.6L454.8,454.2L455.1,453.8L455.4,453.4L455.6,452.8L455.6,452.2L455.6,451.5L455.5,451.0L455.2,450.5L454.9,450.1L454.5,449.8L454.1,449.5L453.6,449.2L453.1,449.0L452.4,448.8L451.9,448.7L451.1,448.6L450.4,448.6L449.6,448.7L449.1,448.8L448.4,449.0L447.9,449.2L447.4,449.5L447.1,449.8L446.6,450.2L446.4,450.7L446.1,451.2L446.0,451.8L446.1,452.5L446.2,453.0L446.4,453.5L446.6,454.0L447.1,454.5L447.4,454.8L447.9,455.1L448.4,455.4L448.9,455.6L449.6,455.7L450.1,455.8L450.9,455.8L451.6,455.8ZM452.7,456.0L453.4,455.8L453.9,455.6L454.4,455.3L454.7,455.0L455.1,454.7L455.5,454.2L455.8,453.8L456.0,453.2L456.1,452.8L456.2,452.0L456.1,451.2L456.0,450.8L455.7,450.2L455.4,449.9L455.0,449.5L454.6,449.2L454.1,448.9L453.6,448.7L452.9,448.5L452.4,448.4L451.6,448.3L451.1,448.2L450.4,448.2L449.7,448.2L449.1,448.3L448.5,448.5L447.9,448.7L447.4,449.0L447.0,449.2L446.6,449.5L446.2,450.0L445.9,450.5L445.7,451.0L445.6,451.5L445.5,452.2L445.6,452.9L445.8,453.5L446.0,454.0L446.4,454.5L446.6,454.8L447.1,455.2L447.6,455.5L448.0,455.8L448.6,456.0L449.1,456.1L449.9,456.2L450.6,456.2L451.4,456.2L452.1,456.1L452.7,456.0ZM452.4,456.5L453.1,456.3L453.6,456.2L454.1,456.0L454.6,455.7L455.1,455.4L455.5,455.0L455.9,454.6L456.1,454.2L456.4,453.8L456.6,453.2L456.7,452.5L456.8,451.8L456.6,451.0L456.4,450.5L456.1,450.0L455.9,449.7L455.4,449.2L455.1,449.0L454.6,448.7L454.1,448.5L453.5,448.2L452.9,448.1L452.4,448.0L451.6,447.9L450.9,447.8L450.1,447.8L449.4,447.9L448.8,448.0L448.1,448.2L447.6,448.4L447.1,448.6L446.6,449.0L446.2,449.2L445.9,449.7L445.6,450.0L445.3,450.5L445.1,451.2L445.0,451.8L445.0,452.5L445.1,453.0L445.3,453.8L445.6,454.2L445.9,454.6L446.2,455.0L446.6,455.4L447.1,455.8L447.5,456.0L448.1,456.2L448.6,456.4L449.1,456.5L449.9,456.6L450.6,456.7L451.4,456.6L452.1,456.6ZM452.0,457.0L452.6,456.9L453.3,456.8L453.9,456.6L454.4,456.4L454.9,456.1L455.4,455.8L455.7,455.5L456.1,455.1L456.4,454.8L456.8,454.2L457.0,453.8L457.2,453.2L457.3,452.5L457.3,451.8L457.2,451.0L457.0,450.5L456.8,450.0L456.4,449.5L456.1,449.2L455.6,448.8L455.1,448.5L454.7,448.2L454.1,448.0L453.6,447.8L453.1,447.7L452.4,447.6L451.6,447.5L451.1,447.5L450.4,447.5L449.7,447.5L449.1,447.6L448.4,447.7L447.9,447.9L447.4,448.0L446.9,448.3L446.4,448.6L445.9,449.0L445.6,449.2L445.2,449.8L444.9,450.2L444.7,450.8L444.6,451.2L444.5,452.0L444.6,452.8L444.7,453.2L444.9,453.9L445.1,454.4L445.4,454.8L445.7,455.2L446.1,455.6L446.6,456.0L447.0,456.2L447.5,456.5L448.1,456.7L448.6,456.9L449.3,457.0L449.9,457.1L450.6,457.1L451.4,457.1L452.0,457.0ZM453.1,457.2L453.6,457.1L454.1,457.0L454.6,456.8L455.1,456.5L455.6,456.2L456.1,455.8L456.5,455.5L456.9,455.1L457.1,454.7L457.4,454.2L457.6,453.7L457.8,453.0L457.9,452.5L457.9,451.8L457.8,451.2L457.6,450.5L457.4,450.0L457.1,449.6L456.8,449.2L456.4,448.8L456.0,448.5L455.6,448.2L455.1,448.0L454.6,447.8L453.9,447.5L453.4,447.4L452.7,447.2L452.1,447.2L451.4,447.1L450.6,447.1L449.9,447.1L449.1,447.2L448.6,447.3L447.9,447.4L447.4,447.6L446.9,447.8L446.4,448.1L445.9,448.4L445.4,448.8L445.1,449.1L444.8,449.5L444.5,450.0L444.3,450.5L444.1,451.1L444.0,451.8L444.0,452.5L444.1,453.0L444.3,453.8L444.5,454.2L444.7,454.8L445.1,455.2L445.4,455.6L445.8,456.0L446.1,456.2L446.6,456.6L447.1,456.8L447.6,457.0L448.4,457.2L448.9,457.4L449.6,457.5L450.4,457.5L451.1,457.5L451.9,457.4L452.6,457.3ZM452.8,457.8L453.4,457.6L453.9,457.5L454.6,457.3L455.1,457.1L455.6,456.8L456.1,456.5L456.4,456.2L456.9,455.9L457.2,455.5L457.6,455.0L457.9,454.5L458.1,454.0L458.2,453.5L458.4,453.0L458.4,452.2L458.4,451.5L458.3,451.0L458.1,450.2L457.9,449.8L457.6,449.4L457.3,449.0L456.9,448.5L456.5,448.2L456.1,448.0L455.6,447.7L455.1,447.5L454.5,447.2L453.9,447.1L453.4,447.0L452.6,446.8L451.9,446.8L451.4,446.7L450.6,446.7L449.9,446.7L449.4,446.8L448.6,446.9L447.9,447.0L447.4,447.2L446.9,447.3L446.4,447.6L445.9,447.8L445.4,448.2L445.0,448.5L444.6,448.9L444.3,449.2L444.0,449.8L443.8,450.2L443.6,451.0L443.5,451.5L443.5,452.2L443.6,453.0L443.7,453.5L443.9,454.1L444.1,454.7L444.4,455.1L444.6,455.5L445.1,456.0L445.4,456.3L445.9,456.6L446.4,457.0L446.9,457.2L447.4,457.4L447.9,457.6L448.6,457.8L449.1,457.8L449.9,457.9L450.6,457.9L451.4,457.9L452.1,457.8L452.8,457.8ZM452.5,458.2L453.1,458.2L453.8,458.0L454.4,457.9L454.9,457.7L455.4,457.5L455.9,457.2L456.4,456.9L456.9,456.6L457.2,456.2L457.6,455.9L457.9,455.5L458.3,455.0L458.5,454.5L458.7,454.0L458.9,453.5L459.0,452.8L459.0,452.0L459.0,451.2L458.9,450.7L458.6,450.0L458.4,449.5L458.1,449.1L457.8,448.8L457.4,448.3L457.0,448.0L456.6,447.7L456.1,447.4L455.6,447.2L455.1,447.0L454.4,446.8L453.9,446.6L453.1,446.5L452.6,446.4L451.9,446.4L451.1,446.3L450.4,446.3L449.6,446.4L448.9,446.4L448.3,446.5L447.6,446.7L447.1,446.8L446.5,447.0L446.0,447.2L445.5,447.5L445.1,447.8L444.6,448.2L444.3,448.5L443.9,449.0L443.6,449.4L443.4,450.0L443.2,450.5L443.1,451.0L443.0,451.8L443.0,452.5L443.1,453.2L443.2,453.8L443.4,454.3L443.6,454.9L443.9,455.3L444.2,455.8L444.6,456.2L444.9,456.5L445.4,456.9L445.9,457.2L446.3,457.5L446.9,457.7L447.4,457.9L447.9,458.0L448.6,458.2L449.1,458.3L449.9,458.3L450.6,458.4L451.4,458.3L452.1,458.3ZM452.1,458.8L452.9,458.7L453.6,458.5L454.1,458.4L454.8,458.2L455.4,458.0L455.9,457.8L456.4,457.6L456.9,457.3L457.2,457.0L457.6,456.7L458.1,456.2L458.4,455.9L458.6,455.5L458.9,455.0L459.2,454.5L459.4,454.0L459.5,453.2L459.6,452.5L459.6,451.8L459.5,451.0L459.4,450.3L459.2,449.8L458.9,449.2L458.6,448.8L458.3,448.5L457.9,448.0L457.5,447.8L457.1,447.4L456.6,447.2L456.1,446.9L455.6,446.7L455.0,446.5L454.4,446.3L453.9,446.2L453.1,446.1L452.4,446.0L451.9,446.0L451.1,445.9L450.4,445.9L449.6,445.9L448.9,446.0L448.4,446.1L447.6,446.2L447.1,446.3L446.6,446.5L446.0,446.8L445.4,447.0L445.0,447.2L444.6,447.5L444.1,448.0L443.8,448.2L443.4,448.8L443.1,449.2L442.9,449.8L442.7,450.2L442.6,450.8L442.5,451.5L442.5,452.2L442.5,453.0L442.6,453.6L442.8,454.2L442.9,454.8L443.2,455.2L443.5,455.8L443.8,456.2L444.1,456.5L444.6,457.0L444.9,457.2L445.4,457.5L445.9,457.8L446.4,458.1L446.9,458.3L447.6,458.5L448.1,458.6L448.9,458.7L449.4,458.8L450.1,458.8L450.9,458.8L451.6,458.8L452.1,458.8ZM451.9,459.2L452.6,459.2L453.4,459.1L453.9,459.0L454.6,458.8L455.1,458.7L455.7,458.5L456.3,458.2L456.8,458.0L457.2,457.8L457.6,457.5L458.1,457.1L458.4,456.8L458.9,456.3L459.1,456.0L459.4,455.5L459.7,455.0L459.9,454.5L460.1,453.8L460.2,453.2L460.2,452.5L460.2,451.8L460.2,451.0L460.1,450.5L459.9,449.8L459.6,449.2L459.4,448.8L459.1,448.5L458.7,448.0L458.4,447.7L457.9,447.3L457.4,447.0L457.0,446.8L456.4,446.5L455.9,446.3L455.4,446.1L454.9,446.0L454.1,445.8L453.6,445.7L452.9,445.6L452.1,445.5L451.4,445.5L450.9,445.5L450.1,445.5L449.6,445.5L448.9,445.6L448.1,445.7L447.6,445.8L446.9,445.9L446.4,446.1L445.9,446.3L445.3,446.5L444.8,446.8L444.4,447.1L443.9,447.4L443.5,447.8L443.1,448.2L442.9,448.5L442.6,449.0L442.3,449.5L442.1,450.2L442.0,450.8L441.9,451.5L441.9,452.2L441.9,453.0L442.0,453.8L442.1,454.2L442.4,454.9L442.6,455.4L442.9,455.9L443.1,456.3L443.5,456.8L443.9,457.1L444.3,457.5L444.6,457.8L445.1,458.0L445.6,458.3L446.1,458.5L446.7,458.8L447.4,458.9L447.9,459.1L448.6,459.2L449.4,459.2L449.9,459.3L450.6,459.3L451.4,459.3L451.9,459.2ZM452.3,459.8L452.9,459.7L453.6,459.6L454.2,459.5L454.9,459.4L455.4,459.2L456.0,459.0L456.6,458.8L457.1,458.5L457.6,458.2L458.0,458.0L458.4,457.7L458.9,457.3L459.1,457.0L459.6,456.5L459.9,456.1L460.1,455.7L460.4,455.1L460.6,454.5L460.7,454.0L460.8,453.2L460.9,452.8L460.9,452.0L460.9,451.2L460.8,450.8L460.7,450.0L460.5,449.5L460.3,449.0L460.0,448.5L459.6,448.0L459.3,447.8L458.9,447.3L458.5,447.0L458.1,446.7L457.6,446.4L457.1,446.2L456.6,446.0L456.0,445.8L455.4,445.6L454.9,445.4L454.1,445.3L453.6,445.2L452.9,445.1L452.1,445.1L451.4,445.0L450.6,445.0L449.9,445.0L449.1,445.1L448.4,445.1L447.6,445.2L447.1,445.4L446.5,445.5L445.9,445.7L445.4,445.9L444.9,446.1L444.4,446.4L443.9,446.7L443.5,447.0L443.1,447.3L442.7,447.8L442.4,448.2L442.1,448.6L441.9,449.0L441.6,449.7L441.4,450.2L441.3,450.8L441.3,451.5L441.3,452.2L441.3,453.0L441.4,453.5L441.5,454.2L441.6,454.8L441.9,455.3L442.1,455.9L442.4,456.3L442.7,456.8L443.1,457.2L443.4,457.5L443.9,457.9L444.3,458.2L444.7,458.5L445.2,458.8L445.7,459.0L446.4,459.2L446.9,459.4L447.4,459.5L448.1,459.6L448.9,459.7L449.4,459.8L450.1,459.8L450.9,459.8L451.6,459.8L452.3,459.8ZM453.2,460.2L453.9,460.2L454.6,460.0L455.1,459.9L455.8,459.8L456.4,459.6L456.9,459.4L457.4,459.1L457.9,458.9L458.4,458.6L458.8,458.2L459.2,458.0L459.6,457.6L459.9,457.2L460.3,456.8L460.6,456.3L460.9,455.9L461.1,455.3L461.3,454.8L461.4,454.2L461.6,453.5L461.6,453.0L461.7,452.2L461.7,451.5L461.6,450.8L461.5,450.2L461.4,449.7L461.1,449.0L460.9,448.5L460.6,448.1L460.3,447.8L459.9,447.2L459.6,447.0L459.1,446.6L458.6,446.3L458.2,446.0L457.7,445.8L457.1,445.5L456.6,445.3L456.1,445.2L455.4,445.0L454.9,444.9L454.2,444.8L453.6,444.7L452.9,444.6L452.1,444.6L451.4,444.5L450.6,444.5L449.9,444.5L449.1,444.6L448.4,444.6L447.6,444.7L447.1,444.8L446.4,445.0L445.9,445.1L445.4,445.3L444.7,445.5L444.2,445.8L443.8,446.0L443.4,446.3L442.9,446.6L442.5,447.0L442.1,447.4L441.8,447.8L441.5,448.2L441.2,448.8L441.0,449.2L440.8,449.8L440.7,450.5L440.6,451.2L440.6,451.8L440.6,452.5L440.6,453.0L440.7,453.8L440.8,454.5L441.0,455.0L441.2,455.5L441.4,456.0L441.6,456.5L442.0,457.0L442.4,457.5L442.6,457.8L443.1,458.2L443.5,458.5L443.9,458.8L444.4,459.1L444.9,459.3L445.4,459.5L445.9,459.8L446.6,459.9L447.1,460.1L447.9,460.2L448.4,460.3L449.1,460.3L449.9,460.4L450.6,460.4L451.4,460.4L452.1,460.3L452.9,460.3ZM452.0,461.0L452.6,461.0L453.4,460.9L454.1,460.8L454.6,460.7L455.4,460.6L455.9,460.5L456.6,460.3L457.1,460.1L457.6,459.9L458.1,459.7L458.6,459.4L459.1,459.1L459.6,458.8L459.9,458.5L460.4,458.1L460.6,457.8L461.0,457.2L461.4,456.8L461.6,456.4L461.9,455.8L462.1,455.2L462.2,454.8L462.4,454.2L462.5,453.5L462.5,452.8L462.5,452.0L462.5,451.2L462.4,450.5L462.3,450.0L462.1,449.2L461.9,448.8L461.7,448.2L461.4,447.8L461.1,447.4L460.8,447.0L460.4,446.6L459.9,446.2L459.6,446.0L459.1,445.7L458.6,445.4L458.1,445.2L457.6,445.0L457.0,444.8L456.4,444.6L455.9,444.4L455.1,444.3L454.6,444.2L453.9,444.1L453.1,444.0L452.6,444.0L451.9,444.0L451.1,443.9L450.4,443.9L449.6,444.0L448.9,444.0L448.4,444.0L447.6,444.1L446.9,444.2L446.4,444.3L445.6,444.5L445.1,444.7L444.6,444.8L444.1,445.0L443.6,445.3L443.1,445.6L442.6,445.9L442.1,446.2L441.9,446.5L441.4,447.0L441.1,447.4L440.8,447.8L440.6,448.2L440.3,448.8L440.1,449.5L440.0,450.0L439.9,450.8L439.8,451.2L439.8,452.0L439.8,452.8L439.9,453.3L439.9,454.0L440.1,454.8L440.2,455.2L440.4,455.8L440.6,456.3L440.9,456.8L441.1,457.2L441.5,457.8L441.9,458.1L442.2,458.5L442.6,458.8L443.1,459.2L443.5,459.5L444.0,459.8L444.5,460.0L445.1,460.2L445.6,460.4L446.1,460.5L446.9,460.7L447.4,460.8L448.1,460.9L448.9,461.0L449.4,461.0L450.1,461.0L450.9,461.0L451.6,461.0ZM452.6,461.8L453.4,461.7L454.1,461.6L454.9,461.5L455.4,461.4L456.1,461.3L456.6,461.2L457.2,461.0L457.9,460.8L458.4,460.6L458.9,460.3L459.4,460.1L459.9,459.8L460.2,459.5L460.6,459.2L461.1,458.8L461.4,458.5L461.8,458.0L462.1,457.6L462.4,457.2L462.6,456.8L462.9,456.2L463.1,455.5L463.2,455.0L463.4,454.5L463.5,453.8L463.5,453.0L463.5,452.2L463.5,451.5L463.5,450.8L463.4,450.0L463.3,449.5L463.1,448.9L462.9,448.2L462.6,447.8L462.4,447.4L462.1,447.0L461.7,446.5L461.4,446.2L460.9,445.8L460.5,445.5L460.1,445.2L459.6,444.9L459.1,444.7L458.6,444.5L458.1,444.2L457.4,444.0L456.9,443.9L456.3,443.8L455.6,443.6L454.9,443.5L454.4,443.4L453.6,443.4L452.9,443.3L452.1,443.3L451.4,443.3L450.6,443.3L449.9,443.3L449.1,443.3L448.4,443.3L447.6,443.4L446.9,443.5L446.4,443.6L445.6,443.7L445.1,443.8L444.6,444.0L443.9,444.2L443.4,444.5L442.9,444.7L442.4,445.0L442.0,445.2L441.6,445.5L441.1,445.9L440.8,446.2L440.4,446.8L440.1,447.1L439.9,447.5L439.6,448.0L439.4,448.7L439.2,449.2L439.1,449.8L438.9,450.5L438.9,451.2L438.9,452.0L438.9,452.8L438.9,453.5L439.0,454.2L439.1,454.8L439.3,455.5L439.4,456.0L439.6,456.5L439.9,457.0L440.1,457.5L440.5,458.0L440.8,458.5L441.1,458.8L441.6,459.2L441.9,459.5L442.4,459.9L442.9,460.2L443.4,460.4L443.9,460.7L444.4,460.9L444.9,461.1L445.5,461.2L446.1,461.4L446.6,461.5L447.4,461.6L448.1,461.7L448.8,461.8L449.4,461.8L450.1,461.8L450.9,461.8L451.6,461.8L452.4,461.8ZM452.8,462.8L453.4,462.7L454.1,462.7L454.9,462.6L455.5,462.5L456.1,462.4L456.8,462.2L457.4,462.1L457.9,462.0L458.6,461.8L459.1,461.5L459.6,461.3L460.1,461.1L460.6,460.8L461.1,460.5L461.4,460.2L461.9,459.9L462.3,459.5L462.6,459.2L463.0,458.8L463.3,458.2L463.6,457.8L463.9,457.4L464.1,456.8L464.3,456.2L464.5,455.8L464.6,455.1L464.7,454.5L464.8,453.8L464.8,453.0L464.9,452.5L464.9,451.8L464.8,451.2L464.8,450.5L464.7,449.8L464.6,449.2L464.4,448.5L464.2,448.0L464.0,447.5L463.7,447.0L463.4,446.5L463.1,446.1L462.8,445.8L462.4,445.3L461.9,445.0L461.6,444.8L461.1,444.4L460.6,444.1L460.1,443.9L459.6,443.7L459.1,443.5L458.4,443.2L457.9,443.1L457.4,443.0L456.6,442.8L456.1,442.7L455.4,442.6L454.6,442.5L454.1,442.5L453.4,442.4L452.6,442.4L451.9,442.4L451.1,442.4L450.4,442.4L449.6,442.4L448.9,442.4L448.1,442.4L447.4,442.5L446.9,442.5L446.1,442.6L445.5,442.8L444.9,442.9L444.4,443.0L443.6,443.2L443.1,443.4L442.6,443.6L442.1,443.8L441.6,444.1L441.1,444.4L440.6,444.8L440.3,445.0L439.9,445.5L439.6,445.8L439.2,446.2L438.9,446.8L438.6,447.2L438.4,447.8L438.2,448.2L438.0,448.8L437.9,449.5L437.8,450.0L437.7,450.8L437.7,451.5L437.7,452.2L437.7,453.0L437.7,453.8L437.8,454.5L437.9,455.0L438.1,455.8L438.2,456.2L438.4,456.8L438.6,457.3L438.9,457.9L439.1,458.3L439.4,458.8L439.8,459.2L440.1,459.6L440.5,460.0L440.9,460.3L441.4,460.7L441.9,461.0L442.3,461.2L442.8,461.5L443.4,461.7L443.9,461.9L444.4,462.1L445.0,462.2L445.6,462.4L446.2,462.5L446.9,462.6L447.6,462.7L448.4,462.7L448.9,462.8L449.6,462.8L450.4,462.8L451.1,462.8L451.9,462.8L452.6,462.8Z" fill="none" stroke="#333" stroke-width="0.42"/>
<path d="M451.3,453.0L451.7,452.8L452.0,452.2L451.9,451.5L451.6,451.2L450.9,451.0L450.1,451.1L449.6,451.3L449.3,451.8L449.4,452.4L449.6,452.8L450.1,453.0L450.9,453.1Z" fill="#fff" stroke="none"/>
<line x1="387.10" y1="382.10" x2="387.10" y2="499.90" stroke="#222" stroke-width="1.3" />
<line x1="386.50" y1="499.30" x2="508.00" y2="499.30" stroke="#222" stroke-width="1.3" />
<line x1="434.90" y1="382.60" x2="434.90" y2="499.30" stroke="#1a1a1a" stroke-width="1.3" />
<line x1="387.10" y1="472.80" x2="507.50" y2="472.80" stroke="#1a1a1a" stroke-width="1.3" />
<text x="498.30" y="398.60" font-size="8.3" text-anchor="end" fill="#2a2a2a" textLength="22.54" lengthAdjust="spacingAndGlyphs" >95.8%</text>
<text y="513.30" font-size="9" fill="#2a2a2a" stroke="#2a2a2a" stroke-width="0.15"><tspan x="383.35" textLength="7.9" lengthAdjust="spacingAndGlyphs">10</tspan><tspan x="391.55" y="510.10" font-size="5.7">0</tspan></text>
<text y="502.50" font-size="9" fill="#2a2a2a" stroke="#2a2a2a" stroke-width="0.15"><tspan x="368.70" textLength="7.9" lengthAdjust="spacingAndGlyphs">10</tspan><tspan x="376.90" y="499.30" font-size="5.7">0</tspan></text>
<text y="513.30" font-size="9" fill="#2a2a2a" stroke="#2a2a2a" stroke-width="0.15"><tspan x="412.55" textLength="7.9" lengthAdjust="spacingAndGlyphs">10</tspan><tspan x="420.75" y="510.10" font-size="5.7">1</tspan></text>
<text y="473.70" font-size="9" fill="#2a2a2a" stroke="#2a2a2a" stroke-width="0.15"><tspan x="368.70" textLength="7.9" lengthAdjust="spacingAndGlyphs">10</tspan><tspan x="376.90" y="470.50" font-size="5.7">1</tspan></text>
<text y="513.30" font-size="9" fill="#2a2a2a" stroke="#2a2a2a" stroke-width="0.15"><tspan x="441.75" textLength="7.9" lengthAdjust="spacingAndGlyphs">10</tspan><tspan x="449.95" y="510.10" font-size="5.7">2</tspan></text>
<text y="444.90" font-size="9" fill="#2a2a2a" stroke="#2a2a2a" stroke-width="0.15"><tspan x="368.70" textLength="7.9" lengthAdjust="spacingAndGlyphs">10</tspan><tspan x="376.90" y="441.70" font-size="5.7">2</tspan></text>
<text y="513.30" font-size="9" fill="#2a2a2a" stroke="#2a2a2a" stroke-width="0.15"><tspan x="470.95" textLength="7.9" lengthAdjust="spacingAndGlyphs">10</tspan><tspan x="479.15" y="510.10" font-size="5.7">3</tspan></text>
<text y="416.10" font-size="9" fill="#2a2a2a" stroke="#2a2a2a" stroke-width="0.15"><tspan x="368.70" textLength="7.9" lengthAdjust="spacingAndGlyphs">10</tspan><tspan x="376.90" y="412.90" font-size="5.7">3</tspan></text>
<text y="513.30" font-size="9" fill="#2a2a2a" stroke="#2a2a2a" stroke-width="0.15"><tspan x="500.15" textLength="7.9" lengthAdjust="spacingAndGlyphs">10</tspan><tspan x="508.35" y="510.10" font-size="5.7">4</tspan></text>
<text y="387.30" font-size="9" fill="#2a2a2a" stroke="#2a2a2a" stroke-width="0.15"><tspan x="368.70" textLength="7.9" lengthAdjust="spacingAndGlyphs">10</tspan><tspan x="376.90" y="384.10" font-size="5.7">4</tspan></text>
<text x="119.40" y="237.80" font-size="9.7" text-anchor="start" fill="#333" textLength="61.8" lengthAdjust="spacingAndGlyphs" >Unmodulated</text>
<text x="254.60" y="237.90" font-size="9.7" text-anchor="start" fill="#333" textLength="90.2" lengthAdjust="spacingAndGlyphs" >anti-IgM modulated</text>
<text y="238.00" font-size="9.7" fill="#333"><tspan x="384.80" y="238.00" textLength="51.7" lengthAdjust="spacingAndGlyphs">anti-IgM+H</tspan><tspan x="436.30" y="240.40" font-size="6.6">2</tspan><tspan x="440.90" y="238.00" textLength="9.3" lengthAdjust="spacingAndGlyphs">O</tspan><tspan x="450.50" y="240.40" font-size="6.6">2</tspan><tspan x="457.30" y="238.00" textLength="50.0" lengthAdjust="spacingAndGlyphs">modulated</tspan></text>
<line x1="58.70" y1="242.40" x2="58.70" y2="362.20" stroke="#111" stroke-width="1.6" />
<text transform="translate(30.3,304.60) rotate(-90)" font-size="9.6" text-anchor="middle" fill="#333" textLength="86.2" lengthAdjust="spacingAndGlyphs">BCR-nonresponder</text>
<text transform="translate(52.5,302.40) rotate(-90)" font-size="9.9" text-anchor="middle" fill="#2a2a2a" stroke="#2a2a2a" stroke-width="0.08" textLength="19.4" lengthAdjust="spacingAndGlyphs">CD19</text>
<line x1="58.70" y1="381.40" x2="58.70" y2="501.20" stroke="#111" stroke-width="1.6" />
<text transform="translate(30.3,438.90) rotate(-90)" font-size="9.6" text-anchor="middle" fill="#333" textLength="68.5" lengthAdjust="spacingAndGlyphs">BCR-responder</text>
<text transform="translate(52.5,440.70) rotate(-90)" font-size="9.9" text-anchor="middle" fill="#2a2a2a" stroke="#2a2a2a" stroke-width="0.08" textLength="19.4" lengthAdjust="spacingAndGlyphs">CD19</text>
<line x1="91.70" y1="518.80" x2="507.60" y2="518.80" stroke="#111" stroke-width="1.6" />
<text x="283.60" y="532.30" font-size="9" text-anchor="middle" fill="#262626" textLength="30" lengthAdjust="spacingAndGlyphs" stroke="#262626" stroke-width="0.3">pERK1/2</text>
</svg></body></html>
